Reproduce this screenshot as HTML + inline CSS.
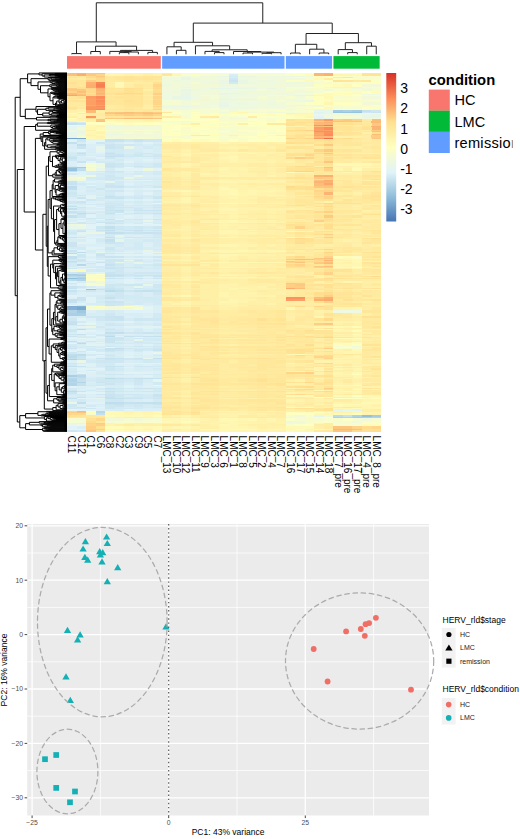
<!DOCTYPE html>
<html><head><meta charset="utf-8"><style>
html,body{margin:0;padding:0;background:#fff;width:520px;height:839px;overflow:hidden}
svg{display:block}
text{font-family:"Liberation Sans",sans-serif}
</style></head><body>
<svg width="520" height="839" viewBox="0 0 520 839">
<g shape-rendering="crispEdges">
<path fill="#fcbd78" d="M67 72.7h9.57v1.05h-9.57zM67 92.7h9.57v1.05h-9.57zM86.03 111.7h9.57v1.55h-9.57zM114.58 113.2h9.57v1.05h-9.57zM143.12 113.2h9.57v1.05h-9.57zM124.09 117.7h9.57v1.05h-9.57zM143.12 117.7h9.57v1.05h-9.57zM371.48 118.7h9.57v2.05h-9.57zM314.39 126.2h9.57v1.05h-9.57zM371.48 133.7h9.57v1.55h-9.57zM314.39 182.7h9.57v2.05h-9.57zM323.91 184.7h9.57v1.05h-9.57zM295.36 258.7h9.57v1.05h-9.57zM323.91 265.7h9.57v1.05h-9.57zM295.36 287.7h9.57v1.05h-9.57zM314.39 296.7h9.57v2.05h-9.57z"/>
<path fill="#fcb472" d="M76.52 72.7h9.57v1.05h-9.57zM95.55 89.2h9.57v2.05h-9.57zM95.55 92.7h9.57v1.05h-9.57zM314.39 118.7h9.57v2.05h-9.57zM314.39 174.7h9.57v2.05h-9.57zM314.39 180.7h9.57v2.05h-9.57zM323.91 191.7h9.57v3.05h-9.57zM323.91 259.7h9.57v1.05h-9.57z"/>
<path fill="#fcc981" d="M86.03 72.7h9.57v1.05h-9.57zM86.03 73.7h9.57v2.05h-9.57zM95.55 75.7h9.57v1.05h-9.57zM67 89.2h19.08v2.05h-19.08zM105.06 111.7h9.57v1.55h-9.57zM105.06 117.7h19.08v1.05h-19.08zM342.94 118.7h9.57v2.05h-9.57zM371.48 122.7h9.57v2.05h-9.57zM371.48 124.7h9.57v1.55h-9.57zM323.91 144.2h9.57v2.05h-9.57zM323.91 149.2h9.57v3.05h-9.57zM323.91 153.2h9.57v1.05h-9.57zM314.39 176.7h9.57v2.05h-9.57zM285.85 260.7h9.57v1.05h-9.57zM314.39 262.7h9.57v1.05h-9.57zM314.39 265.7h9.57v1.05h-9.57zM295.36 283.7h9.57v2.05h-9.57zM323.91 323.2h9.57v1.55h-9.57z"/>
<path fill="#fcc67e" d="M95.55 72.7h9.57v1.05h-9.57zM95.55 94.7h9.57v1.05h-9.57zM133.61 111.7h9.57v1.55h-9.57zM105.06 113.2h9.57v1.05h-9.57zM133.61 113.2h9.57v1.05h-9.57zM342.94 120.7h19.08v1.05h-19.08zM371.48 138.2h9.57v1.05h-9.57zM323.91 160.7h9.57v2.05h-9.57zM314.39 185.7h9.57v2.05h-9.57zM314.39 257.7h9.57v1.05h-9.57zM285.85 282.7h9.57v1.05h-9.57zM342.94 426.2h9.57v3.05h-9.57zM86.03 430.2h9.57v1.45h-9.57zM333.42 430.2h19.08v1.45h-19.08z"/>
<path fill="#fff6b1" d="M105.06 72.7h9.57v1.05h-9.57zM105.06 73.7h19.08v2.05h-19.08zM171.67 73.7h9.57v2.05h-9.57zM114.58 86.7h9.57v1.05h-9.57zM323.91 101.7h9.57v3.05h-9.57zM238.27 111.7h9.57v1.55h-9.57zM295.36 113.2h19.08v1.05h-19.08zM67 114.2h19.08v2.05h-19.08zM76.52 116.2h9.57v1.55h-9.57zM304.88 116.2h9.57v1.55h-9.57zM114.58 118.7h19.08v2.05h-19.08zM152.64 118.7h9.57v2.05h-9.57zM124.09 120.7h19.08v1.05h-19.08zM152.64 120.7h9.57v1.05h-9.57zM86.03 124.7h19.08v1.55h-19.08zM86.03 127.2h9.57v3.05h-9.57zM86.03 132.2h9.57v1.55h-9.57zM86.03 133.7h9.57v1.55h-9.57zM95.55 135.2h9.57v1.05h-9.57zM86.03 136.2h9.57v2.05h-9.57zM95.55 138.2h9.57v1.05h-9.57zM219.24 142.2h9.57v2.05h-9.57zM219.24 152.2h9.57v1.05h-9.57zM238.27 152.2h9.57v1.05h-9.57zM219.24 153.2h9.57v1.05h-9.57zM247.79 153.2h9.57v1.05h-9.57zM181.18 154.2h9.57v2.05h-9.57zM219.24 157.2h19.08v2.05h-19.08zM228.76 159.2h9.57v1.55h-9.57zM181.18 162.7h9.57v3.05h-9.57zM352.45 165.7h9.57v1.55h-9.57zM219.24 167.2h9.57v1.05h-9.57zM333.42 167.2h9.57v1.05h-9.57zM371.48 167.2h9.57v1.05h-9.57zM219.24 168.2h9.57v3.05h-9.57zM333.42 168.2h9.57v3.05h-9.57zM219.24 172.2h9.57v1.05h-9.57zM342.94 172.2h9.57v1.05h-9.57zM200.21 173.2h9.57v1.55h-9.57zM219.24 174.7h19.08v2.05h-19.08zM266.82 174.7h9.57v2.05h-9.57zM238.27 179.7h9.57v1.05h-9.57zM219.24 180.7h19.08v2.05h-19.08zM228.76 187.7h9.57v2.05h-9.57zM171.67 189.7h9.57v2.05h-9.57zM247.79 189.7h9.57v2.05h-9.57zM266.82 189.7h9.57v2.05h-9.57zM219.24 191.7h9.57v3.05h-9.57zM247.79 191.7h9.57v3.05h-9.57zM219.24 194.7h28.6v1.55h-28.6zM266.82 194.7h19.08v1.55h-19.08zM181.18 197.2h9.57v2.05h-9.57zM228.76 197.2h9.57v2.05h-9.57zM181.18 199.2h9.57v1.55h-9.57zM181.18 200.7h9.57v2.05h-9.57zM238.27 202.7h19.08v1.05h-19.08zM219.24 207.2h9.57v1.05h-9.57zM219.24 208.2h9.57v2.05h-9.57zM219.24 210.2h9.57v1.05h-9.57zM219.24 212.7h19.08v1.05h-19.08zM219.24 219.7h9.57v2.05h-9.57zM228.76 221.7h19.08v1.05h-19.08zM219.24 230.2h19.08v1.05h-19.08zM247.79 230.2h9.57v1.05h-9.57zM219.24 231.2h19.08v1.05h-19.08zM295.36 231.2h9.57v1.05h-9.57zM219.24 232.2h19.08v1.55h-19.08zM219.24 237.2h19.08v1.05h-19.08zM219.24 243.7h19.08v3.05h-19.08zM247.79 249.7h9.57v2.05h-9.57zM266.82 249.7h19.08v2.05h-19.08zM219.24 251.7h19.08v1.55h-19.08zM228.76 254.2h9.57v2.05h-9.57zM219.24 256.2h9.57v1.55h-9.57zM342.94 260.7h9.57v1.05h-9.57zM200.21 261.7h9.57v1.05h-9.57zM228.76 261.7h19.08v1.05h-19.08zM257.3 261.7h28.6v1.05h-28.6zM352.45 262.7h9.57v1.05h-9.57zM333.42 263.7h9.57v2.05h-9.57zM352.45 263.7h9.57v2.05h-9.57zM219.24 266.7h9.57v1.05h-9.57zM238.27 266.7h9.57v1.05h-9.57zM352.45 267.7h9.57v1.55h-9.57zM219.24 275.2h9.57v1.05h-9.57zM181.18 277.2h9.57v1.05h-9.57zM247.79 277.2h9.57v1.05h-9.57zM342.94 280.7h9.57v2.05h-9.57zM228.76 287.7h9.57v1.05h-9.57zM228.76 288.7h9.57v1.05h-9.57zM219.24 291.7h9.57v3.05h-9.57zM219.24 294.7h9.57v2.05h-9.57zM181.18 300.7h9.57v2.05h-9.57zM219.24 300.7h19.08v2.05h-19.08zM352.45 307.2h9.57v3.05h-9.57zM314.39 316.2h9.57v2.05h-9.57zM323.91 326.2h9.57v1.55h-9.57zM352.45 329.2h9.57v1.05h-9.57zM342.94 330.2h9.57v1.55h-9.57zM352.45 335.2h9.57v1.05h-9.57zM333.42 341.7h9.57v1.05h-9.57zM352.45 350.7h9.57v1.05h-9.57zM342.94 351.7h19.08v2.05h-19.08zM352.45 355.7h9.57v2.05h-9.57zM333.42 357.7h9.57v1.05h-9.57zM333.42 365.7h9.57v1.55h-9.57zM314.39 367.2h9.57v1.05h-9.57zM333.42 368.2h9.57v2.05h-9.57zM352.45 368.2h9.57v2.05h-9.57zM314.39 370.2h9.57v1.05h-9.57zM295.36 371.2h9.57v1.05h-9.57zM333.42 372.2h9.57v2.05h-9.57zM333.42 374.2h19.08v1.05h-19.08zM352.45 375.2h9.57v1.55h-9.57zM352.45 376.7h9.57v1.05h-9.57zM352.45 383.2h9.57v1.55h-9.57zM352.45 387.7h9.57v1.05h-9.57zM333.42 388.7h9.57v1.05h-9.57zM333.42 390.7h9.57v1.05h-9.57zM352.45 396.7h9.57v1.05h-9.57zM285.85 399.2h9.57v3.05h-9.57zM371.48 399.2h9.57v3.05h-9.57zM361.97 404.2h9.57v1.05h-9.57zM342.94 405.2h9.57v2.05h-9.57zM361.97 405.2h9.57v2.05h-9.57zM361.97 407.2h19.08v1.05h-19.08zM333.42 408.2h19.08v1.05h-19.08zM371.48 408.2h9.57v1.05h-9.57zM114.58 411.2h9.57v1.05h-9.57zM133.61 411.2h9.57v1.05h-9.57zM152.64 411.2h9.57v1.05h-9.57zM228.76 411.2h9.57v1.05h-9.57zM342.94 411.2h9.57v1.05h-9.57zM133.61 412.2h9.57v1.05h-9.57zM352.45 412.2h9.57v1.05h-9.57zM124.09 413.2h9.57v2.05h-9.57zM143.12 413.2h19.08v2.05h-19.08zM323.91 413.2h9.57v2.05h-9.57zM152.64 417.2h9.57v1.05h-9.57zM162.15 418.2h9.57v3.05h-9.57zM238.27 418.2h9.57v3.05h-9.57zM266.82 418.2h9.57v3.05h-9.57zM228.76 421.2h9.57v2.05h-9.57zM181.18 423.2h9.57v1.05h-9.57zM228.76 423.2h19.08v1.05h-19.08zM314.39 423.2h9.57v1.05h-9.57zM228.76 424.2h9.57v2.05h-9.57zM124.09 426.2h9.57v3.05h-9.57zM171.67 426.2h19.08v3.05h-19.08zM219.24 426.2h28.6v3.05h-28.6zM114.58 429.2h9.57v1.05h-9.57zM133.61 429.2h9.57v1.05h-9.57zM200.21 429.2h19.08v1.05h-19.08zM276.33 429.2h9.57v1.05h-9.57zM323.91 429.2h9.57v1.05h-9.57zM304.88 430.2h9.57v1.45h-9.57z"/>
<path fill="#fff6ae" d="M114.58 72.7h9.57v1.05h-9.57zM333.42 73.7h9.57v2.05h-9.57zM181.18 153.2h9.57v1.05h-9.57zM228.76 160.7h9.57v2.05h-9.57zM247.79 167.2h9.57v1.05h-9.57zM228.76 173.2h9.57v1.55h-9.57zM238.27 184.7h9.57v1.05h-9.57zM257.3 189.7h9.57v2.05h-9.57zM238.27 191.7h9.57v3.05h-9.57zM323.91 200.7h9.57v2.05h-9.57zM228.76 214.7h9.57v3.05h-9.57zM219.24 224.2h9.57v1.55h-9.57zM247.79 232.2h9.57v1.55h-9.57zM181.18 237.2h9.57v1.05h-9.57zM181.18 259.7h9.57v1.05h-9.57zM361.97 260.7h9.57v1.05h-9.57zM209.73 261.7h9.57v1.05h-9.57zM247.79 266.7h9.57v1.05h-9.57zM314.39 275.2h9.57v1.05h-9.57zM209.73 277.2h19.08v1.05h-19.08zM238.27 287.7h9.57v1.05h-9.57zM171.67 294.7h9.57v2.05h-9.57zM266.82 294.7h9.57v2.05h-9.57zM181.18 302.7h9.57v2.05h-9.57zM352.45 336.2h9.57v1.05h-9.57zM352.45 370.2h9.57v1.05h-9.57zM352.45 389.7h9.57v1.05h-9.57zM361.97 399.2h9.57v3.05h-9.57zM314.39 404.2h9.57v1.05h-9.57zM352.45 405.2h9.57v2.05h-9.57zM219.24 411.2h9.57v1.05h-9.57zM114.58 417.2h9.57v1.05h-9.57zM124.09 429.2h9.57v1.05h-9.57zM238.27 430.2h9.57v1.45h-9.57zM266.82 430.2h9.57v1.45h-9.57z"/>
<path fill="#fff3ae" d="M124.09 72.7h9.57v1.05h-9.57zM152.64 72.7h9.57v1.05h-9.57zM133.61 73.7h9.57v2.05h-9.57zM152.64 73.7h9.57v2.05h-9.57zM76.52 108.7h9.57v1.05h-9.57zM76.52 118.7h9.57v2.05h-9.57zM143.12 118.7h9.57v2.05h-9.57zM143.12 120.7h9.57v1.05h-9.57zM95.55 126.2h9.57v1.05h-9.57zM228.76 135.2h9.57v1.05h-9.57zM276.33 135.2h9.57v1.05h-9.57zM95.55 136.2h9.57v2.05h-9.57zM238.27 142.2h9.57v2.05h-9.57zM228.76 146.2h9.57v3.05h-9.57zM181.18 149.2h9.57v3.05h-9.57zM247.79 152.2h38.11v1.05h-38.11zM162.15 153.2h9.57v1.05h-9.57zM200.21 153.2h9.57v1.05h-9.57zM228.76 153.2h9.57v1.05h-9.57zM219.24 154.2h19.08v2.05h-19.08zM219.24 156.2h9.57v1.05h-9.57zM238.27 156.2h9.57v1.05h-9.57zM219.24 159.2h9.57v1.55h-9.57zM266.82 160.7h9.57v2.05h-9.57zM371.48 162.7h9.57v3.05h-9.57zM181.18 165.7h9.57v1.55h-9.57zM181.18 167.2h9.57v1.05h-9.57zM228.76 167.2h19.08v1.05h-19.08zM342.94 167.2h9.57v1.05h-9.57zM238.27 168.2h9.57v3.05h-9.57zM228.76 171.2h9.57v1.05h-9.57zM228.76 172.2h9.57v1.05h-9.57zM304.88 172.2h9.57v1.05h-9.57zM209.73 173.2h19.08v1.55h-19.08zM238.27 173.2h9.57v1.55h-9.57zM238.27 174.7h19.08v2.05h-19.08zM209.73 179.7h9.57v1.05h-9.57zM228.76 179.7h9.57v1.05h-9.57zM247.79 179.7h19.08v1.05h-19.08zM276.33 179.7h9.57v1.05h-9.57zM238.27 180.7h38.11v2.05h-38.11zM219.24 184.7h19.08v1.05h-19.08zM247.79 187.7h9.57v2.05h-9.57zM266.82 187.7h9.57v2.05h-9.57zM162.15 189.7h9.57v2.05h-9.57zM190.7 189.7h9.57v2.05h-9.57zM209.73 189.7h9.57v2.05h-9.57zM238.27 189.7h9.57v2.05h-9.57zM276.33 189.7h9.57v2.05h-9.57zM181.18 191.7h9.57v3.05h-9.57zM257.3 191.7h19.08v3.05h-19.08zM247.79 194.7h19.08v1.55h-19.08zM219.24 196.2h19.08v1.05h-19.08zM219.24 197.2h9.57v2.05h-9.57zM247.79 197.2h9.57v2.05h-9.57zM162.15 200.7h19.08v2.05h-19.08zM228.76 200.7h9.57v2.05h-9.57zM200.21 202.7h19.08v1.05h-19.08zM266.82 202.7h19.08v1.05h-19.08zM219.24 204.7h9.57v1.55h-9.57zM247.79 207.2h9.57v1.05h-9.57zM238.27 208.2h19.08v2.05h-19.08zM285.85 208.2h9.57v2.05h-9.57zM181.18 210.2h9.57v1.05h-9.57zM200.21 210.2h9.57v1.05h-9.57zM219.24 211.2h19.08v1.55h-19.08zM238.27 214.7h9.57v3.05h-9.57zM228.76 217.7h9.57v1.05h-9.57zM238.27 219.7h19.08v2.05h-19.08zM266.82 219.7h9.57v2.05h-9.57zM200.21 221.7h9.57v1.05h-9.57zM247.79 221.7h9.57v1.05h-9.57zM266.82 221.7h9.57v1.05h-9.57zM228.76 224.2h9.57v1.55h-9.57zM219.24 225.7h9.57v3.05h-9.57zM238.27 225.7h9.57v3.05h-9.57zM171.67 228.7h9.57v1.55h-9.57zM181.18 230.2h9.57v1.05h-9.57zM266.82 230.2h9.57v1.05h-9.57zM238.27 231.2h9.57v1.05h-9.57zM304.88 231.2h9.57v1.05h-9.57zM238.27 232.2h9.57v1.55h-9.57zM219.24 233.7h19.08v1.55h-19.08zM162.15 237.2h9.57v1.05h-9.57zM238.27 237.2h9.57v1.05h-9.57zM266.82 237.2h9.57v1.05h-9.57zM295.36 237.2h19.08v1.05h-19.08zM342.94 239.2h9.57v3.05h-9.57zM238.27 243.7h19.08v3.05h-19.08zM266.82 243.7h9.57v3.05h-9.57zM238.27 248.7h9.57v1.05h-9.57zM200.21 249.7h9.57v2.05h-9.57zM257.3 249.7h9.57v2.05h-9.57zM266.82 251.7h9.57v1.55h-9.57zM171.67 254.2h9.57v2.05h-9.57zM238.27 254.2h9.57v2.05h-9.57zM257.3 254.2h9.57v2.05h-9.57zM285.85 254.2h9.57v2.05h-9.57zM228.76 256.2h9.57v1.55h-9.57zM219.24 257.7h19.08v1.05h-19.08zM181.18 258.7h9.57v1.05h-9.57zM219.24 258.7h19.08v1.05h-19.08zM333.42 258.7h9.57v1.05h-9.57zM171.67 259.7h9.57v1.05h-9.57zM333.42 259.7h19.08v1.05h-19.08zM333.42 261.7h9.57v1.05h-9.57zM333.42 262.7h9.57v1.05h-9.57zM342.94 265.7h9.57v1.05h-9.57zM228.76 266.7h9.57v1.05h-9.57zM333.42 267.7h9.57v1.55h-9.57zM219.24 274.2h28.6v1.05h-28.6zM238.27 275.2h9.57v1.05h-9.57zM162.15 277.2h9.57v1.05h-9.57zM200.21 277.2h9.57v1.05h-9.57zM257.3 277.2h28.6v1.05h-28.6zM314.39 277.2h9.57v1.05h-9.57zM219.24 278.2h9.57v1.05h-9.57zM238.27 278.2h9.57v1.05h-9.57zM181.18 282.7h9.57v1.05h-9.57zM219.24 283.7h19.08v2.05h-19.08zM219.24 285.7h9.57v2.05h-9.57zM257.3 285.7h9.57v2.05h-9.57zM219.24 288.7h9.57v1.05h-9.57zM247.79 288.7h9.57v1.05h-9.57zM371.48 288.7h9.57v1.05h-9.57zM238.27 289.7h9.57v2.05h-9.57zM238.27 291.7h19.08v3.05h-19.08zM228.76 294.7h38.11v2.05h-38.11zM228.76 296.7h9.57v2.05h-9.57zM238.27 298.7h9.57v2.05h-9.57zM238.27 300.7h9.57v2.05h-9.57zM171.67 302.7h9.57v2.05h-9.57zM219.24 302.7h19.08v2.05h-19.08zM266.82 302.7h9.57v2.05h-9.57zM181.18 305.7h9.57v1.55h-9.57zM333.42 307.2h19.08v3.05h-19.08zM333.42 321.2h28.6v2.05h-28.6zM333.42 333.7h9.57v1.55h-9.57zM342.94 336.2h9.57v1.05h-9.57zM181.18 341.7h9.57v1.05h-9.57zM342.94 341.7h9.57v1.05h-9.57zM333.42 348.7h9.57v2.05h-9.57zM333.42 351.7h9.57v2.05h-9.57zM352.45 354.7h9.57v1.05h-9.57zM342.94 357.7h19.08v1.05h-19.08zM314.39 359.7h38.11v3.05h-38.11zM333.42 362.7h9.57v1.05h-9.57zM352.45 362.7h9.57v1.05h-9.57zM342.94 365.7h9.57v1.55h-9.57zM314.39 368.2h9.57v2.05h-9.57zM314.39 372.2h9.57v2.05h-9.57zM181.18 374.2h9.57v1.05h-9.57zM333.42 375.2h9.57v1.55h-9.57zM314.39 377.7h9.57v1.05h-9.57zM352.45 377.7h9.57v1.05h-9.57zM295.36 378.7h9.57v3.05h-9.57zM333.42 383.2h9.57v1.55h-9.57zM333.42 386.2h47.63v1.55h-47.63zM333.42 389.7h9.57v1.05h-9.57zM285.85 391.7h9.57v2.05h-9.57zM333.42 391.7h9.57v2.05h-9.57zM181.18 394.7h9.57v2.05h-9.57zM361.97 396.7h9.57v1.05h-9.57zM295.36 399.2h9.57v3.05h-9.57zM333.42 402.2h9.57v2.05h-9.57zM352.45 402.2h9.57v2.05h-9.57zM371.48 404.2h9.57v1.05h-9.57zM361.97 408.2h9.57v1.05h-9.57zM143.12 411.2h9.57v1.05h-9.57zM266.82 411.2h9.57v1.05h-9.57zM333.42 411.2h9.57v1.05h-9.57zM124.09 412.2h9.57v1.05h-9.57zM143.12 412.2h9.57v1.05h-9.57zM371.48 412.2h9.57v1.05h-9.57zM219.24 413.2h28.6v2.05h-28.6zM361.97 413.2h19.08v2.05h-19.08zM171.67 415.2h9.57v2.05h-9.57zM228.76 415.2h9.57v2.05h-9.57zM143.12 417.2h9.57v1.05h-9.57zM200.21 418.2h9.57v3.05h-9.57zM238.27 421.2h19.08v2.05h-19.08zM266.82 421.2h9.57v2.05h-9.57zM105.06 423.2h9.57v1.05h-9.57zM124.09 423.2h9.57v1.05h-9.57zM152.64 423.2h9.57v1.05h-9.57zM209.73 423.2h9.57v1.05h-9.57zM247.79 423.2h9.57v1.05h-9.57zM105.06 424.2h9.57v2.05h-9.57zM162.15 426.2h9.57v3.05h-9.57zM190.7 426.2h9.57v3.05h-9.57zM247.79 426.2h9.57v3.05h-9.57zM143.12 429.2h9.57v1.05h-9.57zM181.18 429.2h9.57v1.05h-9.57zM257.3 429.2h9.57v1.05h-9.57zM304.88 429.2h9.57v1.05h-9.57zM181.18 430.2h9.57v1.45h-9.57zM209.73 430.2h9.57v1.45h-9.57zM257.3 430.2h9.57v1.45h-9.57zM276.33 430.2h9.57v1.45h-9.57z"/>
<path fill="#fff3ab" d="M133.61 72.7h9.57v1.05h-9.57zM124.09 73.7h9.57v2.05h-9.57zM76.52 109.7h9.57v2.05h-9.57zM67 111.7h9.57v1.55h-9.57zM285.85 113.2h9.57v1.05h-9.57zM67 120.7h9.57v1.05h-9.57zM295.36 126.2h9.57v1.05h-9.57zM95.55 132.2h9.57v1.55h-9.57zM86.03 135.2h9.57v1.05h-9.57zM228.76 142.2h9.57v2.05h-9.57zM257.3 142.2h9.57v2.05h-9.57zM276.33 142.2h9.57v2.05h-9.57zM219.24 146.2h9.57v3.05h-9.57zM238.27 146.2h9.57v3.05h-9.57zM266.82 146.2h9.57v3.05h-9.57zM181.18 152.2h9.57v1.05h-9.57zM209.73 152.2h9.57v1.05h-9.57zM171.67 153.2h9.57v1.05h-9.57zM190.7 153.2h9.57v1.05h-9.57zM238.27 153.2h9.57v1.05h-9.57zM257.3 153.2h19.08v1.05h-19.08zM257.3 154.2h9.57v2.05h-9.57zM247.79 156.2h9.57v1.05h-9.57zM238.27 159.2h19.08v1.55h-19.08zM266.82 159.2h9.57v1.55h-9.57zM200.21 160.7h9.57v2.05h-9.57zM219.24 160.7h9.57v2.05h-9.57zM238.27 160.7h28.6v2.05h-28.6zM285.85 160.7h9.57v2.05h-9.57zM190.7 162.7h9.57v3.05h-9.57zM171.67 165.7h9.57v1.55h-9.57zM361.97 165.7h9.57v1.55h-9.57zM266.82 167.2h19.08v1.05h-19.08zM228.76 168.2h9.57v3.05h-9.57zM181.18 171.2h9.57v1.05h-9.57zM219.24 171.2h9.57v1.05h-9.57zM238.27 171.2h9.57v1.05h-9.57zM181.18 172.2h9.57v1.05h-9.57zM266.82 172.2h9.57v1.05h-9.57zM333.42 172.2h9.57v1.05h-9.57zM352.45 172.2h9.57v1.05h-9.57zM181.18 173.2h9.57v1.55h-9.57zM247.79 173.2h9.57v1.55h-9.57zM181.18 174.7h9.57v2.05h-9.57zM200.21 174.7h9.57v2.05h-9.57zM219.24 178.7h9.57v1.05h-9.57zM266.82 179.7h9.57v1.05h-9.57zM200.21 180.7h19.08v2.05h-19.08zM276.33 180.7h9.57v2.05h-9.57zM219.24 182.7h19.08v2.05h-19.08zM266.82 184.7h9.57v1.05h-9.57zM228.76 185.7h19.08v2.05h-19.08zM257.3 185.7h9.57v2.05h-9.57zM238.27 187.7h9.57v2.05h-9.57zM257.3 187.7h9.57v2.05h-9.57zM276.33 187.7h9.57v2.05h-9.57zM200.21 189.7h9.57v2.05h-9.57zM200.21 191.7h19.08v3.05h-19.08zM352.45 191.7h9.57v3.05h-9.57zM209.73 194.7h9.57v1.55h-9.57zM238.27 196.2h9.57v1.05h-9.57zM266.82 196.2h9.57v1.05h-9.57zM238.27 197.2h9.57v2.05h-9.57zM219.24 199.2h28.6v1.55h-28.6zM219.24 200.7h9.57v2.05h-9.57zM238.27 200.7h19.08v2.05h-19.08zM257.3 202.7h9.57v1.05h-9.57zM228.76 203.7h9.57v1.05h-9.57zM228.76 204.7h9.57v1.55h-9.57zM219.24 206.2h19.08v1.05h-19.08zM228.76 207.2h19.08v1.05h-19.08zM209.73 208.2h9.57v2.05h-9.57zM257.3 208.2h28.6v2.05h-28.6zM238.27 210.2h9.57v1.05h-9.57zM266.82 210.2h9.57v1.05h-9.57zM361.97 210.2h9.57v1.05h-9.57zM238.27 211.2h9.57v1.55h-9.57zM266.82 211.2h9.57v1.55h-9.57zM238.27 212.7h9.57v1.05h-9.57zM266.82 212.7h9.57v1.05h-9.57zM228.76 213.7h9.57v1.05h-9.57zM209.73 214.7h19.08v3.05h-19.08zM266.82 214.7h9.57v3.05h-9.57zM247.79 217.7h9.57v1.05h-9.57zM181.18 218.7h9.57v1.05h-9.57zM209.73 221.7h9.57v1.05h-9.57zM257.3 221.7h9.57v1.05h-9.57zM276.33 221.7h9.57v1.05h-9.57zM219.24 222.7h9.57v1.55h-9.57zM238.27 224.2h9.57v1.55h-9.57zM266.82 224.2h9.57v1.55h-9.57zM181.18 225.7h9.57v3.05h-9.57zM181.18 228.7h9.57v1.55h-9.57zM200.21 230.2h9.57v1.05h-9.57zM238.27 230.2h9.57v1.05h-9.57zM238.27 233.7h9.57v1.55h-9.57zM228.76 235.2h9.57v2.05h-9.57zM171.67 237.2h9.57v1.05h-9.57zM190.7 237.2h19.08v1.05h-19.08zM257.3 237.2h9.57v1.05h-9.57zM181.18 238.2h9.57v1.05h-9.57zM200.21 243.7h19.08v3.05h-19.08zM228.76 246.7h19.08v2.05h-19.08zM219.24 248.7h19.08v1.05h-19.08zM238.27 251.7h19.08v1.55h-19.08zM352.45 253.2h9.57v1.05h-9.57zM162.15 254.2h9.57v2.05h-9.57zM209.73 254.2h9.57v2.05h-9.57zM247.79 254.2h9.57v2.05h-9.57zM266.82 254.2h9.57v2.05h-9.57zM247.79 256.2h9.57v1.55h-9.57zM162.15 259.7h9.57v1.05h-9.57zM219.24 259.7h9.57v1.05h-9.57zM371.48 260.7h9.57v1.05h-9.57zM219.24 262.7h9.57v1.05h-9.57zM342.94 262.7h9.57v1.05h-9.57zM219.24 263.7h28.6v2.05h-28.6zM219.24 265.7h19.08v1.05h-19.08zM181.18 266.7h9.57v1.05h-9.57zM257.3 266.7h9.57v1.05h-9.57zM276.33 266.7h9.57v1.05h-9.57zM361.97 266.7h9.57v1.05h-9.57zM181.18 267.7h9.57v1.55h-9.57zM181.18 269.2h9.57v3.05h-9.57zM219.24 269.2h9.57v3.05h-9.57zM247.79 274.2h9.57v1.05h-9.57zM247.79 275.2h9.57v1.05h-9.57zM314.39 276.2h9.57v1.05h-9.57zM190.7 277.2h9.57v1.05h-9.57zM181.18 278.2h9.57v1.05h-9.57zM228.76 278.2h9.57v1.05h-9.57zM190.7 279.2h9.57v1.55h-9.57zM314.39 280.7h9.57v2.05h-9.57zM228.76 282.7h9.57v1.05h-9.57zM266.82 283.7h9.57v2.05h-9.57zM228.76 285.7h19.08v2.05h-19.08zM219.24 287.7h9.57v1.05h-9.57zM247.79 287.7h28.6v1.05h-28.6zM257.3 288.7h9.57v1.05h-9.57zM361.97 288.7h9.57v1.05h-9.57zM219.24 289.7h19.08v2.05h-19.08zM228.76 291.7h9.57v3.05h-9.57zM162.15 294.7h9.57v2.05h-9.57zM219.24 296.7h9.57v2.05h-9.57zM238.27 296.7h9.57v2.05h-9.57zM247.79 298.7h9.57v2.05h-9.57zM162.15 300.7h9.57v2.05h-9.57zM228.76 304.7h19.08v1.05h-19.08zM219.24 305.7h19.08v1.55h-19.08zM304.88 307.2h9.57v3.05h-9.57zM314.39 310.2h9.57v3.05h-9.57zM181.18 323.2h9.57v1.55h-9.57zM333.42 323.2h9.57v1.55h-9.57zM352.45 323.2h9.57v1.55h-9.57zM295.36 324.7h9.57v1.55h-9.57zM342.94 329.2h9.57v1.05h-9.57zM371.48 329.2h9.57v1.05h-9.57zM352.45 331.7h9.57v2.05h-9.57zM342.94 333.7h9.57v1.55h-9.57zM333.42 336.2h9.57v1.05h-9.57zM342.94 339.2h9.57v1.55h-9.57zM228.76 343.7h9.57v2.05h-9.57zM181.18 347.7h9.57v1.05h-9.57zM304.88 353.7h9.57v1.05h-9.57zM219.24 354.7h9.57v1.05h-9.57zM342.94 355.7h9.57v2.05h-9.57zM371.48 357.7h9.57v1.05h-9.57zM181.18 358.7h9.57v1.05h-9.57zM333.42 358.7h9.57v1.05h-9.57zM352.45 358.7h9.57v1.05h-9.57zM352.45 359.7h9.57v3.05h-9.57zM304.88 362.7h9.57v1.05h-9.57zM361.97 363.7h9.57v2.05h-9.57zM342.94 368.2h9.57v2.05h-9.57zM285.85 371.2h9.57v1.05h-9.57zM352.45 371.2h9.57v1.05h-9.57zM342.94 372.2h9.57v2.05h-9.57zM342.94 375.2h9.57v1.55h-9.57zM361.97 376.7h9.57v1.05h-9.57zM181.18 377.7h9.57v1.05h-9.57zM342.94 377.7h9.57v1.05h-9.57zM181.18 378.7h9.57v3.05h-9.57zM333.42 381.7h9.57v1.55h-9.57zM285.85 383.2h19.08v1.55h-19.08zM285.85 387.7h9.57v1.05h-9.57zM342.94 388.7h9.57v1.05h-9.57zM371.48 388.7h9.57v1.05h-9.57zM323.91 389.7h9.57v1.05h-9.57zM342.94 391.7h9.57v2.05h-9.57zM314.39 397.7h9.57v1.55h-9.57zM314.39 399.2h19.08v3.05h-19.08zM285.85 402.2h9.57v2.05h-9.57zM342.94 402.2h9.57v2.05h-9.57zM285.85 405.2h9.57v2.05h-9.57zM371.48 405.2h9.57v2.05h-9.57zM323.91 407.2h9.57v1.05h-9.57zM124.09 411.2h9.57v1.05h-9.57zM200.21 411.2h9.57v1.05h-9.57zM238.27 411.2h9.57v1.05h-9.57zM333.42 412.2h19.08v1.05h-19.08zM257.3 413.2h9.57v2.05h-9.57zM219.24 415.2h9.57v2.05h-9.57zM124.09 417.2h19.08v1.05h-19.08zM181.18 417.2h9.57v1.05h-9.57zM257.3 418.2h9.57v3.05h-9.57zM276.33 418.2h9.57v3.05h-9.57zM209.73 421.2h9.57v2.05h-9.57zM257.3 421.2h9.57v2.05h-9.57zM276.33 421.2h9.57v2.05h-9.57zM162.15 423.2h19.08v1.05h-19.08zM190.7 423.2h19.08v1.05h-19.08zM219.24 423.2h9.57v1.05h-9.57zM257.3 423.2h9.57v1.05h-9.57zM276.33 423.2h9.57v1.05h-9.57zM209.73 424.2h9.57v2.05h-9.57zM238.27 424.2h9.57v2.05h-9.57zM276.33 426.2h9.57v3.05h-9.57zM171.67 430.2h9.57v1.45h-9.57z"/>
<path fill="#fff0a8" d="M143.12 72.7h9.57v1.05h-9.57zM143.12 73.7h9.57v2.05h-9.57zM124.09 82.2h9.57v1.55h-9.57zM143.12 89.2h9.57v2.05h-9.57zM143.12 94.7h9.57v1.05h-9.57zM143.12 104.7h9.57v1.05h-9.57zM143.12 106.7h9.57v2.05h-9.57zM95.55 109.7h9.57v2.05h-9.57zM95.55 111.7h9.57v1.55h-9.57zM67 116.2h9.57v1.55h-9.57zM86.03 118.7h9.57v2.05h-9.57zM190.7 122.7h9.57v2.05h-9.57zM238.27 122.7h9.57v2.05h-9.57zM86.03 130.2h9.57v1.05h-9.57zM342.94 136.2h19.08v2.05h-19.08zM162.15 142.2h9.57v2.05h-9.57zM181.18 142.2h9.57v2.05h-9.57zM200.21 142.2h19.08v2.05h-19.08zM266.82 142.2h9.57v2.05h-9.57zM219.24 144.2h19.08v2.05h-19.08zM257.3 144.2h9.57v2.05h-9.57zM285.85 144.2h9.57v2.05h-9.57zM247.79 146.2h9.57v3.05h-9.57zM352.45 146.2h9.57v3.05h-9.57zM162.15 149.2h9.57v3.05h-9.57zM228.76 149.2h9.57v3.05h-9.57zM352.45 153.2h9.57v1.05h-9.57zM371.48 153.2h9.57v1.05h-9.57zM162.15 154.2h19.08v2.05h-19.08zM247.79 154.2h9.57v2.05h-9.57zM276.33 154.2h9.57v2.05h-9.57zM171.67 156.2h9.57v1.05h-9.57zM200.21 156.2h9.57v1.05h-9.57zM257.3 156.2h19.08v1.05h-19.08zM181.18 157.2h9.57v2.05h-9.57zM209.73 157.2h9.57v2.05h-9.57zM247.79 157.2h38.11v2.05h-38.11zM209.73 159.2h9.57v1.55h-9.57zM257.3 159.2h9.57v1.55h-9.57zM276.33 159.2h19.08v1.55h-19.08zM361.97 159.2h19.08v1.55h-19.08zM209.73 160.7h9.57v2.05h-9.57zM162.15 162.7h9.57v3.05h-9.57zM228.76 162.7h19.08v3.05h-19.08zM266.82 162.7h9.57v3.05h-9.57zM162.15 165.7h9.57v1.55h-9.57zM219.24 165.7h9.57v1.55h-9.57zM238.27 165.7h9.57v1.55h-9.57zM314.39 165.7h9.57v1.55h-9.57zM162.15 167.2h9.57v1.05h-9.57zM190.7 167.2h19.08v1.05h-19.08zM257.3 167.2h9.57v1.05h-9.57zM200.21 168.2h19.08v3.05h-19.08zM247.79 168.2h19.08v3.05h-19.08zM342.94 168.2h9.57v3.05h-9.57zM361.97 168.2h9.57v3.05h-9.57zM200.21 171.2h9.57v1.05h-9.57zM266.82 171.2h9.57v1.05h-9.57zM162.15 172.2h19.08v1.05h-19.08zM200.21 172.2h9.57v1.05h-9.57zM247.79 172.2h9.57v1.05h-9.57zM171.67 173.2h9.57v1.55h-9.57zM257.3 173.2h9.57v1.55h-9.57zM333.42 173.2h28.6v1.55h-28.6zM181.18 176.7h9.57v2.05h-9.57zM238.27 178.7h9.57v1.05h-9.57zM266.82 178.7h9.57v1.05h-9.57zM371.48 179.7h9.57v1.05h-9.57zM181.18 182.7h9.57v2.05h-9.57zM238.27 182.7h9.57v2.05h-9.57zM257.3 182.7h9.57v2.05h-9.57zM285.85 182.7h9.57v2.05h-9.57zM181.18 184.7h9.57v1.05h-9.57zM200.21 184.7h9.57v1.05h-9.57zM257.3 184.7h9.57v1.05h-9.57zM209.73 185.7h9.57v2.05h-9.57zM247.79 185.7h9.57v2.05h-9.57zM276.33 185.7h9.57v2.05h-9.57zM200.21 187.7h9.57v2.05h-9.57zM190.7 191.7h9.57v3.05h-9.57zM181.18 194.7h9.57v1.55h-9.57zM257.3 196.2h9.57v1.05h-9.57zM276.33 196.2h9.57v1.05h-9.57zM162.15 197.2h19.08v2.05h-19.08zM190.7 197.2h9.57v2.05h-9.57zM276.33 197.2h9.57v2.05h-9.57zM162.15 199.2h9.57v1.55h-9.57zM190.7 199.2h9.57v1.55h-9.57zM209.73 199.2h9.57v1.55h-9.57zM247.79 199.2h9.57v1.55h-9.57zM190.7 200.7h9.57v2.05h-9.57zM266.82 200.7h19.08v2.05h-19.08zM181.18 202.7h9.57v1.05h-9.57zM238.27 203.7h9.57v1.05h-9.57zM361.97 203.7h19.08v1.05h-19.08zM209.73 204.7h9.57v1.55h-9.57zM247.79 204.7h19.08v1.55h-19.08zM352.45 204.7h9.57v1.55h-9.57zM257.3 206.2h9.57v1.05h-9.57zM181.18 207.2h9.57v1.05h-9.57zM200.21 207.2h19.08v1.05h-19.08zM314.39 207.2h9.57v1.05h-9.57zM295.36 208.2h19.08v2.05h-19.08zM352.45 208.2h9.57v2.05h-9.57zM162.15 210.2h9.57v1.05h-9.57zM257.3 210.2h9.57v1.05h-9.57zM371.48 210.2h9.57v1.05h-9.57zM171.67 211.2h9.57v1.55h-9.57zM247.79 211.2h19.08v1.55h-19.08zM276.33 211.2h9.57v1.55h-9.57zM200.21 212.7h9.57v1.05h-9.57zM247.79 212.7h9.57v1.05h-9.57zM276.33 212.7h9.57v1.05h-9.57zM352.45 213.7h9.57v1.05h-9.57zM162.15 214.7h9.57v3.05h-9.57zM181.18 214.7h9.57v3.05h-9.57zM200.21 214.7h9.57v3.05h-9.57zM247.79 214.7h19.08v3.05h-19.08zM276.33 214.7h9.57v3.05h-9.57zM181.18 217.7h19.08v1.05h-19.08zM219.24 217.7h9.57v1.05h-9.57zM276.33 217.7h9.57v1.05h-9.57zM361.97 217.7h19.08v1.05h-19.08zM219.24 218.7h28.6v1.05h-28.6zM285.85 218.7h9.57v1.05h-9.57zM276.33 219.7h9.57v2.05h-9.57zM314.39 222.7h9.57v1.55h-9.57zM181.18 224.2h9.57v1.55h-9.57zM209.73 224.2h9.57v1.55h-9.57zM257.3 224.2h9.57v1.55h-9.57zM257.3 225.7h9.57v3.05h-9.57zM352.45 225.7h9.57v3.05h-9.57zM162.15 228.7h9.57v1.55h-9.57zM247.79 228.7h9.57v1.55h-9.57zM285.85 228.7h9.57v1.55h-9.57zM162.15 230.2h19.08v1.05h-19.08zM209.73 230.2h9.57v1.05h-9.57zM276.33 230.2h9.57v1.05h-9.57zM181.18 231.2h9.57v1.05h-9.57zM200.21 231.2h19.08v1.05h-19.08zM247.79 231.2h19.08v1.05h-19.08zM276.33 231.2h9.57v1.05h-9.57zM181.18 232.2h9.57v1.55h-9.57zM276.33 232.2h9.57v1.55h-9.57zM333.42 232.2h9.57v1.55h-9.57zM247.79 233.7h38.11v1.55h-38.11zM181.18 235.2h9.57v2.05h-9.57zM219.24 235.2h9.57v2.05h-9.57zM238.27 235.2h9.57v2.05h-9.57zM276.33 237.2h9.57v1.05h-9.57zM361.97 237.2h19.08v1.05h-19.08zM162.15 238.2h19.08v1.05h-19.08zM219.24 238.2h38.11v1.05h-38.11zM352.45 238.2h9.57v1.05h-9.57zM228.76 239.2h19.08v3.05h-19.08zM276.33 239.2h9.57v3.05h-9.57zM333.42 239.2h9.57v3.05h-9.57zM181.18 242.2h9.57v1.55h-9.57zM219.24 242.2h9.57v1.55h-9.57zM247.79 242.2h9.57v1.55h-9.57zM352.45 242.2h9.57v1.55h-9.57zM257.3 243.7h9.57v3.05h-9.57zM276.33 243.7h9.57v3.05h-9.57zM314.39 243.7h19.08v3.05h-19.08zM371.48 243.7h9.57v3.05h-9.57zM276.33 246.7h9.57v2.05h-9.57zM200.21 248.7h19.08v1.05h-19.08zM247.79 248.7h9.57v1.05h-9.57zM266.82 248.7h9.57v1.05h-9.57zM295.36 249.7h9.57v2.05h-9.57zM314.39 249.7h9.57v2.05h-9.57zM209.73 251.7h9.57v1.55h-9.57zM276.33 251.7h9.57v1.55h-9.57zM238.27 253.2h9.57v1.05h-9.57zM342.94 253.2h9.57v1.05h-9.57zM190.7 254.2h19.08v2.05h-19.08zM276.33 254.2h9.57v2.05h-9.57zM209.73 256.2h9.57v1.55h-9.57zM238.27 256.2h9.57v1.55h-9.57zM257.3 256.2h28.6v1.55h-28.6zM181.18 257.7h9.57v1.05h-9.57zM200.21 257.7h9.57v1.05h-9.57zM238.27 257.7h9.57v1.05h-9.57zM257.3 257.7h9.57v1.05h-9.57zM276.33 257.7h9.57v1.05h-9.57zM171.67 258.7h9.57v1.05h-9.57zM190.7 259.7h9.57v1.05h-9.57zM342.94 261.7h9.57v1.05h-9.57zM181.18 262.7h9.57v1.05h-9.57zM247.79 263.7h28.6v2.05h-28.6zM181.18 265.7h9.57v1.05h-9.57zM238.27 265.7h19.08v1.05h-19.08zM266.82 265.7h19.08v1.05h-19.08zM171.67 266.7h9.57v1.05h-9.57zM200.21 266.7h19.08v1.05h-19.08zM266.82 266.7h9.57v1.05h-9.57zM219.24 267.7h19.08v1.55h-19.08zM181.18 272.2h9.57v2.05h-9.57zM219.24 272.2h9.57v2.05h-9.57zM304.88 272.2h9.57v2.05h-9.57zM352.45 272.2h9.57v2.05h-9.57zM181.18 274.2h9.57v1.05h-9.57zM200.21 274.2h9.57v1.05h-9.57zM257.3 274.2h28.6v1.05h-28.6zM200.21 275.2h9.57v1.05h-9.57zM257.3 275.2h9.57v1.05h-9.57zM371.48 275.2h9.57v1.05h-9.57zM219.24 276.2h9.57v1.05h-9.57zM238.27 276.2h19.08v1.05h-19.08zM266.82 276.2h9.57v1.05h-9.57zM323.91 276.2h9.57v1.05h-9.57zM352.45 277.2h9.57v1.05h-9.57zM247.79 278.2h38.11v1.05h-38.11zM162.15 279.2h9.57v1.55h-9.57zM228.76 279.2h19.08v1.55h-19.08zM219.24 280.7h28.6v2.05h-28.6zM333.42 280.7h9.57v2.05h-9.57zM361.97 280.7h19.08v2.05h-19.08zM171.67 282.7h9.57v1.05h-9.57zM190.7 282.7h9.57v1.05h-9.57zM219.24 282.7h9.57v1.05h-9.57zM238.27 282.7h9.57v1.05h-9.57zM266.82 282.7h9.57v1.05h-9.57zM361.97 282.7h9.57v1.05h-9.57zM181.18 283.7h9.57v2.05h-9.57zM200.21 283.7h19.08v2.05h-19.08zM238.27 283.7h9.57v2.05h-9.57zM257.3 283.7h9.57v2.05h-9.57zM181.18 285.7h9.57v2.05h-9.57zM200.21 285.7h19.08v2.05h-19.08zM361.97 285.7h19.08v2.05h-19.08zM200.21 287.7h19.08v1.05h-19.08zM276.33 287.7h9.57v1.05h-9.57zM238.27 288.7h9.57v1.05h-9.57zM266.82 288.7h9.57v1.05h-9.57zM333.42 288.7h9.57v1.05h-9.57zM352.45 288.7h9.57v1.05h-9.57zM200.21 289.7h9.57v2.05h-9.57zM247.79 289.7h9.57v2.05h-9.57zM266.82 289.7h9.57v2.05h-9.57zM285.85 289.7h9.57v2.05h-9.57zM181.18 291.7h9.57v3.05h-9.57zM200.21 291.7h9.57v3.05h-9.57zM257.3 291.7h19.08v3.05h-19.08zM190.7 294.7h28.6v2.05h-28.6zM200.21 296.7h19.08v2.05h-19.08zM247.79 296.7h9.57v2.05h-9.57zM266.82 296.7h9.57v2.05h-9.57zM209.73 298.7h9.57v2.05h-9.57zM257.3 298.7h28.6v2.05h-28.6zM171.67 300.7h9.57v2.05h-9.57zM190.7 300.7h28.6v2.05h-28.6zM247.79 300.7h9.57v2.05h-9.57zM266.82 300.7h19.08v2.05h-19.08zM295.36 300.7h9.57v2.05h-9.57zM162.15 302.7h9.57v2.05h-9.57zM190.7 302.7h28.6v2.05h-28.6zM238.27 302.7h28.6v2.05h-28.6zM181.18 304.7h9.57v1.05h-9.57zM219.24 304.7h9.57v1.05h-9.57zM171.67 305.7h9.57v1.55h-9.57zM238.27 305.7h9.57v1.55h-9.57zM266.82 305.7h9.57v1.55h-9.57zM228.76 307.2h9.57v3.05h-9.57zM295.36 307.2h9.57v3.05h-9.57zM323.91 310.2h9.57v3.05h-9.57zM285.85 313.2h9.57v3.05h-9.57zM314.39 313.2h9.57v3.05h-9.57zM181.18 318.2h9.57v3.05h-9.57zM352.45 318.2h9.57v3.05h-9.57zM304.88 326.2h9.57v1.55h-9.57zM352.45 327.7h9.57v1.55h-9.57zM361.97 329.2h9.57v1.05h-9.57zM219.24 331.7h28.6v2.05h-28.6zM304.88 333.7h9.57v1.55h-9.57zM333.42 335.2h19.08v1.05h-19.08zM361.97 335.2h19.08v1.05h-19.08zM352.45 337.2h9.57v1.05h-9.57zM219.24 338.2h19.08v1.05h-19.08zM314.39 338.2h9.57v1.05h-9.57zM314.39 339.2h9.57v1.55h-9.57zM314.39 340.7h9.57v1.05h-9.57zM352.45 340.7h9.57v1.05h-9.57zM181.18 343.7h9.57v2.05h-9.57zM219.24 343.7h9.57v2.05h-9.57zM361.97 345.7h9.57v1.05h-9.57zM181.18 346.7h9.57v1.05h-9.57zM314.39 348.7h19.08v2.05h-19.08zM342.94 348.7h9.57v2.05h-9.57zM219.24 350.7h19.08v1.05h-19.08zM228.76 354.7h19.08v1.05h-19.08zM333.42 354.7h9.57v1.05h-9.57zM333.42 355.7h9.57v2.05h-9.57zM295.36 358.7h9.57v1.05h-9.57zM181.18 359.7h9.57v3.05h-9.57zM371.48 359.7h9.57v3.05h-9.57zM295.36 362.7h9.57v1.05h-9.57zM285.85 363.7h19.08v2.05h-19.08zM371.48 363.7h9.57v2.05h-9.57zM285.85 365.7h9.57v1.55h-9.57zM323.91 367.2h9.57v1.05h-9.57zM352.45 367.2h9.57v1.05h-9.57zM304.88 368.2h9.57v2.05h-9.57zM333.42 370.2h9.57v1.05h-9.57zM361.97 370.2h9.57v1.05h-9.57zM304.88 371.2h9.57v1.05h-9.57zM333.42 371.2h9.57v1.05h-9.57zM190.7 374.2h9.57v1.05h-9.57zM181.18 375.2h9.57v1.55h-9.57zM333.42 377.7h9.57v1.05h-9.57zM285.85 378.7h9.57v3.05h-9.57zM333.42 378.7h9.57v3.05h-9.57zM181.18 381.7h9.57v1.55h-9.57zM295.36 387.7h9.57v1.05h-9.57zM333.42 387.7h9.57v1.05h-9.57zM181.18 389.7h9.57v1.05h-9.57zM228.76 389.7h9.57v1.05h-9.57zM247.79 389.7h9.57v1.05h-9.57zM342.94 389.7h9.57v1.05h-9.57zM181.18 391.7h9.57v2.05h-9.57zM304.88 391.7h9.57v2.05h-9.57zM171.67 394.7h9.57v2.05h-9.57zM304.88 396.7h9.57v1.05h-9.57zM333.42 396.7h19.08v1.05h-19.08zM219.24 397.7h19.08v1.55h-19.08zM181.18 399.2h9.57v3.05h-9.57zM304.88 399.2h9.57v3.05h-9.57zM295.36 402.2h9.57v2.05h-9.57zM314.39 402.2h9.57v2.05h-9.57zM181.18 404.2h9.57v1.05h-9.57zM304.88 405.2h9.57v2.05h-9.57zM314.39 407.2h9.57v1.05h-9.57zM285.85 409.2h9.57v2.05h-9.57zM361.97 409.2h9.57v2.05h-9.57zM209.73 411.2h9.57v1.05h-9.57zM247.79 411.2h9.57v1.05h-9.57zM276.33 411.2h28.6v1.05h-28.6zM323.91 411.2h9.57v1.05h-9.57zM371.48 411.2h9.57v1.05h-9.57zM219.24 412.2h19.08v1.05h-19.08zM247.79 412.2h9.57v1.05h-9.57zM209.73 413.2h9.57v2.05h-9.57zM247.79 413.2h9.57v2.05h-9.57zM266.82 413.2h9.57v2.05h-9.57zM162.15 415.2h9.57v2.05h-9.57zM190.7 415.2h9.57v2.05h-9.57zM257.3 415.2h9.57v2.05h-9.57zM228.76 417.2h9.57v1.05h-9.57zM266.82 423.2h9.57v1.05h-9.57zM143.12 424.2h19.08v2.05h-19.08zM181.18 424.2h9.57v2.05h-9.57zM200.21 424.2h9.57v2.05h-9.57zM247.79 424.2h38.11v2.05h-38.11zM200.21 426.2h19.08v3.05h-19.08zM257.3 426.2h9.57v3.05h-9.57zM314.39 426.2h9.57v3.05h-9.57zM162.15 429.2h9.57v1.05h-9.57zM190.7 429.2h9.57v1.05h-9.57zM162.15 430.2h9.57v1.45h-9.57zM190.7 430.2h9.57v1.45h-9.57z"/>
<path fill="#ffea9f" d="M162.15 72.7h9.57v1.05h-9.57zM105.06 75.7h9.57v1.05h-9.57zM333.42 76.7h9.57v1.55h-9.57zM105.06 80.2h19.08v2.05h-19.08zM133.61 80.2h9.57v2.05h-9.57zM152.64 80.2h9.57v2.05h-9.57zM352.45 80.2h9.57v2.05h-9.57zM143.12 83.7h9.57v3.05h-9.57zM105.06 86.7h9.57v1.05h-9.57zM143.12 93.7h9.57v1.05h-9.57zM105.06 94.7h19.08v1.05h-19.08zM143.12 95.7h9.57v3.05h-9.57zM143.12 99.7h9.57v2.05h-9.57zM67 101.7h19.08v3.05h-19.08zM143.12 101.7h9.57v3.05h-9.57zM67 104.7h19.08v1.05h-19.08zM114.58 105.7h9.57v1.05h-9.57zM76.52 106.7h9.57v2.05h-9.57zM114.58 106.7h9.57v2.05h-9.57zM133.61 106.7h9.57v2.05h-9.57zM114.58 109.7h9.57v2.05h-9.57zM133.61 109.7h9.57v2.05h-9.57zM152.64 109.7h9.57v2.05h-9.57zM86.03 113.2h9.57v1.05h-9.57zM86.03 114.2h19.08v2.05h-19.08zM209.73 116.2h9.57v1.55h-9.57zM361.97 121.7h9.57v1.05h-9.57zM333.42 124.7h19.08v1.55h-19.08zM352.45 126.2h9.57v1.05h-9.57zM304.88 127.2h9.57v3.05h-9.57zM333.42 131.2h9.57v1.05h-9.57zM285.85 132.2h9.57v1.55h-9.57zM304.88 132.2h9.57v1.55h-9.57zM285.85 133.7h9.57v1.55h-9.57zM352.45 135.2h9.57v1.05h-9.57zM361.97 138.2h9.57v1.05h-9.57zM371.48 139.2h9.57v3.05h-9.57zM361.97 142.2h19.08v2.05h-19.08zM162.15 144.2h9.57v2.05h-9.57zM190.7 144.2h9.57v2.05h-9.57zM333.42 144.2h9.57v2.05h-9.57zM171.67 146.2h9.57v3.05h-9.57zM361.97 146.2h9.57v3.05h-9.57zM200.21 149.2h19.08v3.05h-19.08zM304.88 149.2h9.57v3.05h-9.57zM371.48 149.2h9.57v3.05h-9.57zM295.36 152.2h9.57v1.05h-9.57zM342.94 152.2h9.57v1.05h-9.57zM295.36 159.2h9.57v1.55h-9.57zM333.42 159.2h9.57v1.55h-9.57zM171.67 160.7h9.57v2.05h-9.57zM190.7 160.7h9.57v2.05h-9.57zM342.94 160.7h9.57v2.05h-9.57zM361.97 160.7h9.57v2.05h-9.57zM200.21 165.7h9.57v1.55h-9.57zM171.67 168.2h9.57v3.05h-9.57zM190.7 168.2h9.57v3.05h-9.57zM333.42 171.2h19.08v1.05h-19.08zM323.91 173.2h9.57v1.55h-9.57zM361.97 173.2h19.08v1.55h-19.08zM342.94 174.7h9.57v2.05h-9.57zM171.67 176.7h9.57v2.05h-9.57zM190.7 176.7h9.57v2.05h-9.57zM266.82 176.7h19.08v2.05h-19.08zM342.94 176.7h9.57v2.05h-9.57zM162.15 178.7h19.08v1.05h-19.08zM190.7 178.7h9.57v1.05h-9.57zM295.36 178.7h9.57v1.05h-9.57zM295.36 179.7h19.08v1.05h-19.08zM171.67 180.7h9.57v2.05h-9.57zM285.85 180.7h9.57v2.05h-9.57zM162.15 182.7h9.57v2.05h-9.57zM190.7 182.7h9.57v2.05h-9.57zM333.42 182.7h9.57v2.05h-9.57zM352.45 182.7h9.57v2.05h-9.57zM285.85 184.7h9.57v1.05h-9.57zM333.42 184.7h9.57v1.05h-9.57zM171.67 185.7h9.57v2.05h-9.57zM342.94 187.7h9.57v2.05h-9.57zM361.97 187.7h19.08v2.05h-19.08zM285.85 189.7h9.57v2.05h-9.57zM371.48 189.7h9.57v2.05h-9.57zM361.97 191.7h9.57v3.05h-9.57zM333.42 194.7h9.57v1.55h-9.57zM171.67 196.2h9.57v1.05h-9.57zM352.45 196.2h9.57v1.05h-9.57zM295.36 197.2h19.08v2.05h-19.08zM333.42 197.2h9.57v2.05h-9.57zM352.45 197.2h9.57v2.05h-9.57zM285.85 199.2h9.57v1.55h-9.57zM285.85 200.7h9.57v2.05h-9.57zM371.48 200.7h9.57v2.05h-9.57zM190.7 202.7h9.57v1.05h-9.57zM285.85 202.7h19.08v1.05h-19.08zM361.97 202.7h19.08v1.05h-19.08zM162.15 203.7h19.08v1.05h-19.08zM190.7 203.7h9.57v1.05h-9.57zM314.39 203.7h9.57v1.05h-9.57zM352.45 203.7h9.57v1.05h-9.57zM314.39 204.7h9.57v1.55h-9.57zM333.42 204.7h19.08v1.55h-19.08zM361.97 204.7h9.57v1.55h-9.57zM162.15 206.2h9.57v1.05h-9.57zM295.36 206.2h9.57v1.05h-9.57zM190.7 207.2h9.57v1.05h-9.57zM333.42 207.2h19.08v1.05h-19.08zM361.97 207.2h9.57v1.05h-9.57zM162.15 208.2h19.08v2.05h-19.08zM314.39 208.2h9.57v2.05h-9.57zM371.48 208.2h9.57v2.05h-9.57zM352.45 211.2h9.57v1.55h-9.57zM162.15 212.7h19.08v1.05h-19.08zM190.7 212.7h9.57v1.05h-9.57zM285.85 212.7h19.08v1.05h-19.08zM162.15 213.7h19.08v1.05h-19.08zM190.7 213.7h19.08v1.05h-19.08zM295.36 213.7h19.08v1.05h-19.08zM285.85 214.7h9.57v3.05h-9.57zM304.88 217.7h9.57v1.05h-9.57zM333.42 217.7h9.57v1.05h-9.57zM257.3 218.7h9.57v1.05h-9.57zM352.45 218.7h9.57v1.05h-9.57zM371.48 218.7h9.57v1.05h-9.57zM162.15 219.7h9.57v2.05h-9.57zM361.97 219.7h19.08v2.05h-19.08zM162.15 221.7h19.08v1.05h-19.08zM323.91 221.7h9.57v1.05h-9.57zM371.48 221.7h9.57v1.05h-9.57zM162.15 222.7h9.57v1.55h-9.57zM190.7 222.7h9.57v1.55h-9.57zM209.73 222.7h9.57v1.55h-9.57zM257.3 222.7h9.57v1.55h-9.57zM285.85 222.7h9.57v1.55h-9.57zM342.94 222.7h9.57v1.55h-9.57zM171.67 224.2h9.57v1.55h-9.57zM190.7 224.2h9.57v1.55h-9.57zM371.48 224.2h9.57v1.55h-9.57zM314.39 225.7h9.57v3.05h-9.57zM361.97 225.7h19.08v3.05h-19.08zM200.21 228.7h9.57v1.55h-9.57zM266.82 228.7h19.08v1.55h-19.08zM314.39 228.7h9.57v1.55h-9.57zM333.42 230.2h9.57v1.05h-9.57zM190.7 231.2h9.57v1.05h-9.57zM342.94 231.2h9.57v1.05h-9.57zM361.97 231.2h9.57v1.05h-9.57zM162.15 233.7h9.57v1.55h-9.57zM190.7 233.7h9.57v1.55h-9.57zM333.42 233.7h9.57v1.55h-9.57zM371.48 233.7h9.57v1.55h-9.57zM162.15 235.2h9.57v2.05h-9.57zM190.7 235.2h9.57v2.05h-9.57zM333.42 235.2h19.08v2.05h-19.08zM276.33 238.2h9.57v1.05h-9.57zM162.15 239.2h19.08v3.05h-19.08zM361.97 239.2h9.57v3.05h-9.57zM171.67 243.7h9.57v3.05h-9.57zM190.7 243.7h9.57v3.05h-9.57zM295.36 243.7h19.08v3.05h-19.08zM295.36 246.7h9.57v2.05h-9.57zM323.91 246.7h9.57v2.05h-9.57zM190.7 248.7h9.57v1.05h-9.57zM371.48 248.7h9.57v1.05h-9.57zM304.88 249.7h9.57v2.05h-9.57zM333.42 249.7h9.57v2.05h-9.57zM162.15 253.2h19.08v1.05h-19.08zM190.7 253.2h9.57v1.05h-9.57zM209.73 253.2h9.57v1.05h-9.57zM257.3 253.2h9.57v1.05h-9.57zM295.36 253.2h19.08v1.05h-19.08zM361.97 253.2h19.08v1.05h-19.08zM361.97 254.2h19.08v2.05h-19.08zM190.7 256.2h9.57v1.55h-9.57zM171.67 257.7h9.57v1.05h-9.57zM200.21 259.7h9.57v1.05h-9.57zM361.97 259.7h9.57v1.05h-9.57zM162.15 260.7h9.57v1.05h-9.57zM200.21 260.7h19.08v1.05h-19.08zM257.3 260.7h9.57v1.05h-9.57zM162.15 261.7h9.57v1.05h-9.57zM304.88 262.7h9.57v1.05h-9.57zM209.73 263.7h9.57v2.05h-9.57zM361.97 263.7h19.08v2.05h-19.08zM209.73 267.7h9.57v1.55h-9.57zM257.3 267.7h9.57v1.55h-9.57zM276.33 267.7h28.6v1.55h-28.6zM162.15 272.2h9.57v2.05h-9.57zM190.7 272.2h9.57v2.05h-9.57zM247.79 272.2h9.57v2.05h-9.57zM276.33 272.2h9.57v2.05h-9.57zM342.94 272.2h9.57v2.05h-9.57zM361.97 272.2h9.57v2.05h-9.57zM162.15 274.2h9.57v1.05h-9.57zM190.7 274.2h9.57v1.05h-9.57zM333.42 274.2h19.08v1.05h-19.08zM361.97 274.2h19.08v1.05h-19.08zM162.15 275.2h9.57v1.05h-9.57zM190.7 275.2h9.57v1.05h-9.57zM285.85 275.2h9.57v1.05h-9.57zM323.91 275.2h9.57v1.05h-9.57zM162.15 276.2h9.57v1.05h-9.57zM257.3 276.2h9.57v1.05h-9.57zM323.91 277.2h9.57v1.05h-9.57zM304.88 278.2h9.57v1.05h-9.57zM247.79 279.2h28.6v1.55h-28.6zM285.85 279.2h9.57v1.55h-9.57zM352.45 279.2h9.57v1.55h-9.57zM162.15 280.7h19.08v2.05h-19.08zM200.21 280.7h9.57v2.05h-9.57zM323.91 280.7h9.57v2.05h-9.57zM200.21 282.7h9.57v1.05h-9.57zM304.88 282.7h9.57v1.05h-9.57zM371.48 282.7h9.57v1.05h-9.57zM171.67 283.7h9.57v2.05h-9.57zM190.7 283.7h9.57v2.05h-9.57zM162.15 285.7h9.57v2.05h-9.57zM333.42 285.7h9.57v2.05h-9.57zM171.67 288.7h9.57v1.05h-9.57zM190.7 288.7h9.57v1.05h-9.57zM190.7 289.7h9.57v2.05h-9.57zM371.48 289.7h9.57v2.05h-9.57zM162.15 291.7h9.57v3.05h-9.57zM190.7 291.7h9.57v3.05h-9.57zM361.97 291.7h9.57v3.05h-9.57zM285.85 294.7h9.57v2.05h-9.57zM304.88 294.7h9.57v2.05h-9.57zM371.48 294.7h9.57v2.05h-9.57zM171.67 296.7h9.57v2.05h-9.57zM333.42 298.7h9.57v2.05h-9.57zM342.94 300.7h9.57v2.05h-9.57zM371.48 302.7h9.57v2.05h-9.57zM295.36 304.7h19.08v1.05h-19.08zM333.42 304.7h19.08v1.05h-19.08zM181.18 307.2h9.57v3.05h-9.57zM181.18 310.2h9.57v3.05h-9.57zM238.27 310.2h9.57v3.05h-9.57zM257.3 310.2h9.57v3.05h-9.57zM295.36 310.2h19.08v3.05h-19.08zM162.15 313.2h9.57v3.05h-9.57zM190.7 313.2h28.6v3.05h-28.6zM342.94 313.2h9.57v3.05h-9.57zM371.48 313.2h9.57v3.05h-9.57zM200.21 316.2h9.57v2.05h-9.57zM228.76 316.2h47.63v2.05h-47.63zM295.36 316.2h9.57v2.05h-9.57zM323.91 316.2h9.57v2.05h-9.57zM219.24 318.2h19.08v3.05h-19.08zM361.97 318.2h19.08v3.05h-19.08zM181.18 321.2h9.57v2.05h-9.57zM238.27 321.2h9.57v2.05h-9.57zM190.7 323.2h9.57v1.55h-9.57zM219.24 323.2h9.57v1.55h-9.57zM295.36 323.2h19.08v1.55h-19.08zM162.15 324.7h19.08v1.55h-19.08zM247.79 324.7h28.6v1.55h-28.6zM238.27 326.2h19.08v1.55h-19.08zM190.7 327.7h9.57v1.55h-9.57zM257.3 327.7h28.6v1.55h-28.6zM314.39 327.7h9.57v1.55h-9.57zM361.97 327.7h9.57v1.55h-9.57zM181.18 329.2h9.57v1.05h-9.57zM266.82 329.2h9.57v1.05h-9.57zM295.36 329.2h9.57v1.05h-9.57zM162.15 330.2h9.57v1.55h-9.57zM200.21 330.2h19.08v1.55h-19.08zM257.3 330.2h28.6v1.55h-28.6zM361.97 330.2h19.08v1.55h-19.08zM181.18 331.7h9.57v2.05h-9.57zM200.21 331.7h9.57v2.05h-9.57zM371.48 331.7h9.57v2.05h-9.57zM228.76 333.7h38.11v1.55h-38.11zM314.39 333.7h9.57v1.55h-9.57zM371.48 333.7h9.57v1.55h-9.57zM171.67 335.2h9.57v1.05h-9.57zM190.7 335.2h9.57v1.05h-9.57zM219.24 335.2h9.57v1.05h-9.57zM266.82 335.2h9.57v1.05h-9.57zM162.15 336.2h9.57v1.05h-9.57zM238.27 336.2h28.6v1.05h-28.6zM162.15 337.2h9.57v1.05h-9.57zM238.27 337.2h9.57v1.05h-9.57zM371.48 337.2h9.57v1.05h-9.57zM200.21 338.2h9.57v1.05h-9.57zM257.3 338.2h9.57v1.05h-9.57zM276.33 338.2h9.57v1.05h-9.57zM304.88 338.2h9.57v1.05h-9.57zM162.15 339.2h19.08v1.55h-19.08zM200.21 339.2h9.57v1.55h-9.57zM228.76 339.2h9.57v1.55h-9.57zM266.82 339.2h9.57v1.55h-9.57zM171.67 340.7h9.57v1.05h-9.57zM190.7 340.7h9.57v1.05h-9.57zM247.79 340.7h19.08v1.05h-19.08zM276.33 340.7h9.57v1.05h-9.57zM371.48 340.7h9.57v1.05h-9.57zM219.24 341.7h9.57v1.05h-9.57zM323.91 341.7h9.57v1.05h-9.57zM219.24 342.7h28.6v1.05h-28.6zM266.82 342.7h9.57v1.05h-9.57zM295.36 342.7h19.08v1.05h-19.08zM371.48 342.7h9.57v1.05h-9.57zM190.7 343.7h9.57v2.05h-9.57zM295.36 343.7h9.57v2.05h-9.57zM162.15 345.7h19.08v1.05h-19.08zM162.15 346.7h9.57v1.05h-9.57zM190.7 346.7h9.57v1.05h-9.57zM361.97 346.7h9.57v1.05h-9.57zM190.7 347.7h9.57v1.05h-9.57zM238.27 347.7h9.57v1.05h-9.57zM285.85 347.7h9.57v1.05h-9.57zM190.7 348.7h9.57v2.05h-9.57zM238.27 348.7h9.57v2.05h-9.57zM171.67 350.7h9.57v1.05h-9.57zM190.7 350.7h28.6v1.05h-28.6zM266.82 350.7h9.57v1.05h-9.57zM371.48 350.7h9.57v1.05h-9.57zM200.21 351.7h9.57v2.05h-9.57zM323.91 351.7h9.57v2.05h-9.57zM361.97 351.7h9.57v2.05h-9.57zM276.33 353.7h9.57v1.05h-9.57zM333.42 353.7h9.57v1.05h-9.57zM352.45 353.7h9.57v1.05h-9.57zM200.21 354.7h19.08v1.05h-19.08zM257.3 354.7h9.57v1.05h-9.57zM276.33 354.7h19.08v1.05h-19.08zM361.97 354.7h19.08v1.05h-19.08zM209.73 355.7h9.57v2.05h-9.57zM247.79 355.7h19.08v2.05h-19.08zM276.33 355.7h9.57v2.05h-9.57zM181.18 357.7h9.57v1.05h-9.57zM295.36 357.7h9.57v1.05h-9.57zM209.73 358.7h19.08v1.05h-19.08zM238.27 358.7h19.08v1.05h-19.08zM276.33 358.7h9.57v1.05h-9.57zM314.39 358.7h9.57v1.05h-9.57zM361.97 358.7h9.57v1.05h-9.57zM190.7 359.7h28.6v3.05h-28.6zM238.27 359.7h9.57v3.05h-9.57zM285.85 359.7h9.57v3.05h-9.57zM209.73 362.7h9.57v1.05h-9.57zM238.27 362.7h9.57v1.05h-9.57zM361.97 362.7h19.08v1.05h-19.08zM181.18 363.7h19.08v2.05h-19.08zM276.33 363.7h9.57v2.05h-9.57zM323.91 363.7h9.57v2.05h-9.57zM342.94 363.7h9.57v2.05h-9.57zM181.18 365.7h9.57v1.55h-9.57zM209.73 365.7h9.57v1.55h-9.57zM238.27 365.7h9.57v1.55h-9.57zM295.36 365.7h9.57v1.55h-9.57zM361.97 365.7h9.57v1.55h-9.57zM162.15 367.2h9.57v1.05h-9.57zM181.18 367.2h9.57v1.05h-9.57zM228.76 367.2h9.57v1.05h-9.57zM285.85 367.2h9.57v1.05h-9.57zM371.48 367.2h9.57v1.05h-9.57zM247.79 368.2h9.57v2.05h-9.57zM266.82 368.2h19.08v2.05h-19.08zM295.36 368.2h9.57v2.05h-9.57zM361.97 368.2h9.57v2.05h-9.57zM181.18 370.2h9.57v1.05h-9.57zM266.82 370.2h9.57v1.05h-9.57zM371.48 370.2h9.57v1.05h-9.57zM171.67 371.2h9.57v1.05h-9.57zM200.21 371.2h19.08v1.05h-19.08zM257.3 371.2h9.57v1.05h-9.57zM276.33 371.2h9.57v1.05h-9.57zM181.18 372.2h9.57v2.05h-9.57zM266.82 372.2h19.08v2.05h-19.08zM323.91 372.2h9.57v2.05h-9.57zM371.48 372.2h9.57v2.05h-9.57zM228.76 374.2h28.6v1.05h-28.6zM190.7 375.2h9.57v1.55h-9.57zM209.73 375.2h9.57v1.55h-9.57zM247.79 375.2h9.57v1.55h-9.57zM266.82 375.2h9.57v1.55h-9.57zM361.97 375.2h9.57v1.55h-9.57zM181.18 376.7h9.57v1.05h-9.57zM238.27 376.7h9.57v1.05h-9.57zM266.82 376.7h9.57v1.05h-9.57zM304.88 376.7h19.08v1.05h-19.08zM219.24 377.7h9.57v1.05h-9.57zM285.85 377.7h19.08v1.05h-19.08zM361.97 377.7h9.57v1.05h-9.57zM162.15 378.7h9.57v3.05h-9.57zM219.24 378.7h19.08v3.05h-19.08zM361.97 378.7h19.08v3.05h-19.08zM190.7 381.7h9.57v1.55h-9.57zM247.79 381.7h9.57v1.55h-9.57zM342.94 381.7h9.57v1.55h-9.57zM181.18 383.2h9.57v1.55h-9.57zM361.97 383.2h9.57v1.55h-9.57zM162.15 384.7h19.08v1.55h-19.08zM190.7 384.7h9.57v1.55h-9.57zM228.76 384.7h19.08v1.55h-19.08zM295.36 384.7h9.57v1.55h-9.57zM371.48 384.7h9.57v1.55h-9.57zM162.15 386.2h19.08v1.55h-19.08zM247.79 386.2h9.57v1.55h-9.57zM276.33 386.2h9.57v1.55h-9.57zM314.39 386.2h9.57v1.55h-9.57zM162.15 387.7h9.57v1.05h-9.57zM181.18 387.7h19.08v1.05h-19.08zM219.24 387.7h9.57v1.05h-9.57zM238.27 387.7h9.57v1.05h-9.57zM276.33 387.7h9.57v1.05h-9.57zM162.15 388.7h57.14v1.05h-57.14zM257.3 388.7h19.08v1.05h-19.08zM190.7 389.7h19.08v1.05h-19.08zM276.33 389.7h9.57v1.05h-9.57zM304.88 389.7h9.57v1.05h-9.57zM371.48 389.7h9.57v1.05h-9.57zM190.7 390.7h9.57v1.05h-9.57zM285.85 390.7h9.57v1.05h-9.57zM304.88 390.7h9.57v1.05h-9.57zM162.15 391.7h19.08v2.05h-19.08zM238.27 391.7h9.57v2.05h-9.57zM266.82 391.7h19.08v2.05h-19.08zM162.15 393.7h9.57v1.05h-9.57zM276.33 393.7h9.57v1.05h-9.57zM314.39 393.7h19.08v1.05h-19.08zM371.48 393.7h9.57v1.05h-9.57zM200.21 394.7h19.08v2.05h-19.08zM219.24 396.7h9.57v1.05h-9.57zM266.82 396.7h9.57v1.05h-9.57zM295.36 396.7h9.57v1.05h-9.57zM181.18 397.7h9.57v1.55h-9.57zM304.88 397.7h9.57v1.55h-9.57zM323.91 397.7h9.57v1.55h-9.57zM190.7 399.2h9.57v3.05h-9.57zM219.24 399.2h19.08v3.05h-19.08zM238.27 402.2h19.08v2.05h-19.08zM266.82 402.2h9.57v2.05h-9.57zM323.91 402.2h9.57v2.05h-9.57zM228.76 404.2h9.57v1.05h-9.57zM266.82 404.2h9.57v1.05h-9.57zM209.73 405.2h9.57v2.05h-9.57zM247.79 405.2h19.08v2.05h-19.08zM276.33 405.2h9.57v2.05h-9.57zM181.18 407.2h9.57v1.05h-9.57zM228.76 407.2h19.08v1.05h-19.08zM181.18 408.2h9.57v1.05h-9.57zM219.24 408.2h9.57v1.05h-9.57zM238.27 408.2h9.57v1.05h-9.57zM171.67 409.2h9.57v2.05h-9.57zM200.21 409.2h19.08v2.05h-19.08zM247.79 409.2h9.57v2.05h-9.57zM266.82 409.2h9.57v2.05h-9.57zM304.88 409.2h9.57v2.05h-9.57zM181.18 411.2h9.57v1.05h-9.57zM181.18 413.2h9.57v2.05h-9.57zM209.73 417.2h9.57v1.05h-9.57zM162.15 424.2h19.08v2.05h-19.08zM190.7 424.2h9.57v2.05h-9.57zM323.91 426.2h9.57v3.05h-9.57zM314.39 430.2h9.57v1.45h-9.57z"/>
<path fill="#fff9b7" d="M171.67 72.7h9.57v1.05h-9.57zM304.88 80.2h9.57v2.05h-9.57zM114.58 82.2h9.57v1.55h-9.57zM114.58 83.7h9.57v3.05h-9.57zM342.94 83.7h9.57v3.05h-9.57zM323.91 106.7h9.57v2.05h-9.57zM76.52 111.7h9.57v1.55h-9.57zM295.36 114.2h19.08v2.05h-19.08zM105.06 118.7h9.57v2.05h-9.57zM105.06 120.7h9.57v1.05h-9.57zM124.09 121.7h9.57v1.05h-9.57zM86.03 131.2h9.57v1.05h-9.57zM342.94 162.7h9.57v3.05h-9.57zM86.03 167.2h9.57v1.05h-9.57zM352.45 167.2h9.57v1.05h-9.57zM181.18 189.7h9.57v2.05h-9.57zM228.76 191.7h9.57v3.05h-9.57zM342.94 257.7h9.57v1.05h-9.57zM352.45 258.7h9.57v1.05h-9.57zM352.45 260.7h9.57v1.05h-9.57zM352.45 265.7h9.57v1.05h-9.57zM342.94 266.7h9.57v1.05h-9.57zM76.52 269.2h9.57v3.05h-9.57zM285.85 307.2h9.57v3.05h-9.57zM352.45 333.7h9.57v1.55h-9.57zM333.42 338.2h19.08v1.05h-19.08zM352.45 372.2h9.57v2.05h-9.57zM342.94 384.7h9.57v1.55h-9.57zM352.45 390.7h9.57v1.05h-9.57zM285.85 394.7h28.6v2.05h-28.6zM333.42 394.7h19.08v2.05h-19.08zM371.48 396.7h9.57v1.05h-9.57zM361.97 397.7h9.57v1.55h-9.57zM361.97 402.2h9.57v2.05h-9.57zM352.45 408.2h9.57v1.05h-9.57zM352.45 411.2h9.57v1.05h-9.57zM105.06 413.2h9.57v2.05h-9.57zM133.61 413.2h9.57v2.05h-9.57zM314.39 413.2h9.57v2.05h-9.57zM333.42 413.2h19.08v2.05h-19.08zM114.58 415.2h28.6v2.05h-28.6zM181.18 418.2h9.57v3.05h-9.57zM162.15 421.2h9.57v2.05h-9.57zM190.7 421.2h9.57v2.05h-9.57zM285.85 423.2h19.08v1.05h-19.08zM133.61 426.2h9.57v3.05h-9.57zM152.64 426.2h9.57v3.05h-9.57zM295.36 426.2h19.08v3.05h-19.08zM228.76 429.2h9.57v1.05h-9.57zM133.61 430.2h9.57v1.45h-9.57zM295.36 430.2h9.57v1.45h-9.57z"/>
<path fill="#f3fcd5" d="M181.18 72.7h9.57v1.05h-9.57zM219.24 73.7h9.57v2.05h-9.57zM276.33 73.7h9.57v2.05h-9.57zM171.67 75.7h9.57v1.05h-9.57zM304.88 78.2h9.57v2.05h-9.57zM295.36 87.7h9.57v1.55h-9.57zM257.3 89.2h9.57v2.05h-9.57zM304.88 93.7h9.57v1.05h-9.57zM266.82 94.7h9.57v1.05h-9.57zM209.73 95.7h9.57v3.05h-9.57zM171.67 99.7h9.57v2.05h-9.57zM209.73 106.7h9.57v2.05h-9.57zM219.24 109.7h9.57v2.05h-9.57zM200.21 111.7h9.57v1.55h-9.57zM285.85 111.7h9.57v1.55h-9.57zM124.09 132.2h9.57v1.55h-9.57zM143.12 132.2h9.57v1.55h-9.57zM219.24 135.2h9.57v1.05h-9.57zM105.06 138.2h9.57v1.05h-9.57zM105.06 421.2h9.57v2.05h-9.57z"/>
<path fill="#f9fcc9" d="M190.7 72.7h9.57v1.05h-9.57zM257.3 72.7h19.08v1.05h-19.08zM352.45 75.7h9.57v1.05h-9.57zM342.94 82.2h9.57v1.55h-9.57zM314.39 87.7h9.57v1.55h-9.57zM342.94 87.7h9.57v1.55h-9.57zM342.94 89.2h9.57v2.05h-9.57zM371.48 89.2h9.57v2.05h-9.57zM333.42 94.7h9.57v1.05h-9.57zM342.94 95.7h9.57v3.05h-9.57zM333.42 99.7h38.11v2.05h-38.11zM361.97 104.7h9.57v1.05h-9.57zM200.21 108.7h9.57v1.05h-9.57zM247.79 108.7h9.57v1.05h-9.57zM162.15 109.7h9.57v2.05h-9.57zM190.7 109.7h9.57v2.05h-9.57zM304.88 111.7h9.57v1.55h-9.57zM228.76 113.2h19.08v1.05h-19.08zM171.67 114.2h9.57v2.05h-9.57zM228.76 116.2h9.57v1.55h-9.57zM181.18 117.7h9.57v1.05h-9.57zM200.21 117.7h19.08v1.05h-19.08zM219.24 118.7h9.57v2.05h-9.57zM238.27 118.7h9.57v2.05h-9.57zM266.82 118.7h9.57v2.05h-9.57zM219.24 120.7h9.57v1.05h-9.57zM238.27 120.7h19.08v1.05h-19.08zM266.82 120.7h9.57v1.05h-9.57zM190.7 121.7h9.57v1.05h-9.57zM105.06 122.7h9.57v2.05h-9.57zM219.24 122.7h9.57v2.05h-9.57zM219.24 124.7h9.57v1.55h-9.57zM228.76 126.2h19.08v1.05h-19.08zM181.18 127.2h9.57v3.05h-9.57zM238.27 127.2h19.08v3.05h-19.08zM124.09 130.2h9.57v1.05h-9.57zM181.18 130.2h9.57v1.05h-9.57zM171.67 131.2h19.08v1.05h-19.08zM228.76 131.2h19.08v1.05h-19.08zM181.18 132.2h19.08v1.55h-19.08zM247.79 132.2h9.57v1.55h-9.57zM219.24 133.7h19.08v1.55h-19.08zM247.79 133.7h9.57v1.55h-9.57zM181.18 135.2h9.57v1.05h-9.57zM162.15 136.2h19.08v2.05h-19.08zM228.76 136.2h9.57v2.05h-9.57zM181.18 138.2h9.57v1.05h-9.57zM238.27 138.2h9.57v1.05h-9.57zM219.24 139.2h9.57v3.05h-9.57zM352.45 256.2h9.57v1.55h-9.57zM86.03 274.2h9.57v1.05h-9.57zM95.55 276.2h9.57v1.05h-9.57zM86.03 277.2h9.57v1.05h-9.57zM352.45 346.7h9.57v1.05h-9.57zM333.42 347.7h19.08v1.05h-19.08zM304.88 418.2h9.57v3.05h-9.57zM333.42 418.2h9.57v3.05h-9.57zM333.42 423.2h19.08v1.05h-19.08z"/>
<path fill="#fcfcc6" d="M200.21 72.7h9.57v1.05h-9.57zM190.7 73.7h9.57v2.05h-9.57zM361.97 75.7h9.57v1.05h-9.57zM333.42 78.2h9.57v2.05h-9.57zM295.36 80.2h9.57v2.05h-9.57zM323.91 87.7h9.57v1.55h-9.57zM352.45 91.2h9.57v1.55h-9.57zM371.48 92.7h9.57v1.05h-9.57zM342.94 98.7h9.57v1.05h-9.57zM323.91 104.7h19.08v1.05h-19.08zM323.91 105.7h9.57v1.05h-9.57zM361.97 105.7h9.57v1.05h-9.57zM304.88 106.7h9.57v2.05h-9.57zM209.73 108.7h9.57v1.05h-9.57zM276.33 109.7h9.57v2.05h-9.57zM266.82 113.2h9.57v1.05h-9.57zM228.76 121.7h9.57v1.05h-9.57zM171.67 122.7h9.57v2.05h-9.57zM209.73 127.2h9.57v3.05h-9.57zM257.3 127.2h9.57v3.05h-9.57zM200.21 130.2h9.57v1.05h-9.57zM266.82 130.2h9.57v1.05h-9.57zM276.33 132.2h9.57v1.55h-9.57zM238.27 133.7h9.57v1.55h-9.57zM209.73 135.2h9.57v1.05h-9.57zM190.7 136.2h9.57v2.05h-9.57zM86.03 278.2h9.57v1.05h-9.57zM314.39 421.2h9.57v2.05h-9.57zM361.97 421.2h19.08v2.05h-19.08z"/>
<path fill="#f9fccc" d="M209.73 72.7h9.57v1.05h-9.57zM228.76 72.7h28.6v1.05h-28.6zM181.18 73.7h9.57v2.05h-9.57zM200.21 73.7h9.57v2.05h-9.57zM371.48 75.7h9.57v1.05h-9.57zM295.36 76.7h9.57v1.55h-9.57zM323.91 76.7h9.57v1.55h-9.57zM371.48 78.2h9.57v2.05h-9.57zM314.39 80.2h9.57v2.05h-9.57zM333.42 82.2h9.57v1.55h-9.57zM352.45 82.2h9.57v1.55h-9.57zM285.85 86.7h19.08v1.05h-19.08zM371.48 86.7h9.57v1.05h-9.57zM333.42 89.2h9.57v2.05h-9.57zM361.97 94.7h19.08v1.05h-19.08zM304.88 95.7h9.57v3.05h-9.57zM333.42 95.7h9.57v3.05h-9.57zM352.45 95.7h9.57v3.05h-9.57zM352.45 98.7h9.57v1.05h-9.57zM371.48 99.7h9.57v2.05h-9.57zM342.94 105.7h9.57v1.05h-9.57zM371.48 105.7h9.57v1.05h-9.57zM257.3 108.7h28.6v1.05h-28.6zM171.67 109.7h9.57v2.05h-9.57zM257.3 109.7h9.57v2.05h-9.57zM295.36 109.7h19.08v2.05h-19.08zM238.27 116.2h9.57v1.55h-9.57zM247.79 117.7h19.08v1.05h-19.08zM276.33 117.7h9.57v1.05h-9.57zM228.76 124.7h9.57v1.55h-9.57zM133.61 130.2h19.08v1.05h-19.08zM247.79 130.2h9.57v1.05h-9.57zM219.24 136.2h9.57v2.05h-9.57zM95.55 277.2h9.57v1.05h-9.57zM86.03 279.2h9.57v1.55h-9.57zM342.94 345.7h9.57v1.05h-9.57zM304.88 415.2h9.57v2.05h-9.57zM323.91 418.2h9.57v3.05h-9.57zM124.09 421.2h9.57v2.05h-9.57zM143.12 421.2h19.08v2.05h-19.08zM285.85 424.2h9.57v2.05h-9.57zM333.42 424.2h19.08v2.05h-19.08z"/>
<path fill="#f3fcd2" d="M219.24 72.7h9.57v1.05h-9.57zM238.27 73.7h9.57v2.05h-9.57zM162.15 75.7h9.57v1.05h-9.57zM285.85 76.7h9.57v1.55h-9.57zM190.7 82.2h9.57v1.55h-9.57zM285.85 87.7h9.57v1.55h-9.57zM314.39 91.2h9.57v1.55h-9.57zM257.3 95.7h9.57v3.05h-9.57zM276.33 99.7h9.57v2.05h-9.57zM162.15 101.7h9.57v3.05h-9.57zM209.73 104.7h9.57v1.05h-9.57zM285.85 106.7h9.57v2.05h-9.57zM333.42 116.2h9.57v1.55h-9.57zM352.45 116.2h9.57v1.55h-9.57zM133.61 138.2h9.57v1.05h-9.57zM86.03 162.7h9.57v3.05h-9.57zM86.03 168.2h9.57v3.05h-9.57zM76.52 176.7h9.57v2.05h-9.57zM95.55 275.2h9.57v1.05h-9.57zM86.03 283.7h9.57v2.05h-9.57zM86.03 307.2h9.57v3.05h-9.57zM76.52 418.2h9.57v3.05h-9.57zM67 421.2h19.08v2.05h-19.08zM114.58 421.2h9.57v2.05h-9.57z"/>
<path fill="#f6fccf" d="M276.33 72.7h9.57v1.05h-9.57zM247.79 73.7h19.08v2.05h-19.08zM304.88 76.7h19.08v1.55h-19.08zM352.45 76.7h9.57v1.55h-9.57zM371.48 76.7h9.57v1.55h-9.57zM314.39 82.2h19.08v1.55h-19.08zM361.97 86.7h9.57v1.05h-9.57zM304.88 87.7h9.57v1.55h-9.57zM333.42 87.7h9.57v1.55h-9.57zM304.88 89.2h9.57v2.05h-9.57zM295.36 92.7h9.57v1.05h-9.57zM333.42 92.7h19.08v1.05h-19.08zM209.73 94.7h9.57v1.05h-9.57zM276.33 94.7h9.57v1.05h-9.57zM323.91 94.7h9.57v1.05h-9.57zM285.85 95.7h9.57v3.05h-9.57zM361.97 98.7h9.57v1.05h-9.57zM171.67 101.7h9.57v3.05h-9.57zM190.7 101.7h9.57v3.05h-9.57zM285.85 101.7h9.57v3.05h-9.57zM295.36 105.7h9.57v1.05h-9.57zM295.36 106.7h9.57v2.05h-9.57zM342.94 106.7h19.08v2.05h-19.08zM162.15 108.7h9.57v1.05h-9.57zM190.7 108.7h9.57v1.05h-9.57zM181.18 109.7h9.57v2.05h-9.57zM200.21 109.7h19.08v2.05h-19.08zM247.79 109.7h9.57v2.05h-9.57zM181.18 111.7h9.57v1.55h-9.57zM209.73 111.7h9.57v1.55h-9.57zM295.36 111.7h9.57v1.55h-9.57zM219.24 113.2h9.57v1.05h-9.57zM219.24 116.2h9.57v1.55h-9.57zM342.94 116.2h9.57v1.55h-9.57zM333.42 117.7h9.57v1.05h-9.57zM162.15 120.7h19.08v1.05h-19.08zM190.7 120.7h9.57v1.05h-9.57zM228.76 120.7h9.57v1.05h-9.57zM219.24 127.2h9.57v3.05h-9.57zM105.06 130.2h9.57v1.05h-9.57zM152.64 130.2h9.57v1.05h-9.57zM219.24 130.2h19.08v1.05h-19.08zM238.27 132.2h9.57v1.55h-9.57zM238.27 135.2h9.57v1.05h-9.57zM76.52 136.2h9.57v2.05h-9.57zM143.12 138.2h9.57v1.05h-9.57zM219.24 138.2h9.57v1.05h-9.57zM86.03 165.7h9.57v1.55h-9.57zM86.03 282.7h9.57v1.05h-9.57zM86.03 305.7h9.57v1.55h-9.57zM95.55 307.2h9.57v3.05h-9.57zM133.61 307.2h9.57v3.05h-9.57zM352.45 342.7h9.57v1.05h-9.57zM86.03 413.2h9.57v2.05h-9.57zM314.39 417.2h9.57v1.05h-9.57zM67 418.2h9.57v3.05h-9.57zM143.12 418.2h9.57v3.05h-9.57zM295.36 418.2h9.57v3.05h-9.57zM314.39 418.2h9.57v3.05h-9.57zM352.45 418.2h9.57v3.05h-9.57zM371.48 418.2h9.57v3.05h-9.57zM304.88 421.2h9.57v2.05h-9.57zM342.94 421.2h9.57v2.05h-9.57z"/>
<path fill="#ffffc0" d="M285.85 72.7h9.57v1.05h-9.57zM295.36 73.7h9.57v2.05h-9.57zM333.42 75.7h9.57v1.05h-9.57zM323.91 80.2h9.57v2.05h-9.57zM371.48 82.2h9.57v1.55h-9.57zM352.45 83.7h9.57v3.05h-9.57zM361.97 91.2h9.57v1.55h-9.57zM333.42 101.7h19.08v3.05h-19.08zM314.39 106.7h9.57v2.05h-9.57zM190.7 111.7h9.57v1.55h-9.57zM162.15 113.2h9.57v1.05h-9.57zM247.79 114.2h9.57v2.05h-9.57zM190.7 116.2h9.57v1.55h-9.57zM162.15 117.7h19.08v1.05h-19.08zM162.15 118.7h19.08v2.05h-19.08zM209.73 118.7h9.57v2.05h-9.57zM86.03 121.7h9.57v1.05h-9.57zM209.73 121.7h9.57v1.05h-9.57zM247.79 121.7h19.08v1.05h-19.08zM276.33 121.7h9.57v1.05h-9.57zM95.55 122.7h9.57v2.05h-9.57zM133.61 122.7h9.57v2.05h-9.57zM257.3 122.7h9.57v2.05h-9.57zM190.7 124.7h9.57v1.55h-9.57zM247.79 124.7h9.57v1.55h-9.57zM266.82 124.7h9.57v1.55h-9.57zM171.67 126.2h9.57v1.05h-9.57zM209.73 126.2h9.57v1.05h-9.57zM266.82 126.2h9.57v1.05h-9.57zM162.15 130.2h9.57v1.05h-9.57zM276.33 130.2h9.57v1.05h-9.57zM162.15 133.7h9.57v1.55h-9.57zM200.21 133.7h9.57v1.55h-9.57zM257.3 133.7h9.57v1.55h-9.57zM162.15 135.2h19.08v1.05h-19.08zM266.82 136.2h19.08v2.05h-19.08zM171.67 138.2h9.57v1.05h-9.57zM190.7 138.2h9.57v1.05h-9.57zM209.73 138.2h9.57v1.05h-9.57zM181.18 139.2h9.57v3.05h-9.57zM257.3 139.2h19.08v3.05h-19.08zM124.09 305.7h9.57v1.55h-9.57zM342.94 397.7h9.57v1.55h-9.57zM285.85 413.2h9.57v2.05h-9.57zM323.91 417.2h9.57v1.05h-9.57zM304.88 424.2h9.57v2.05h-9.57z"/>
<path fill="#ffffbd" d="M295.36 72.7h19.08v1.05h-19.08zM333.42 72.7h9.57v1.05h-9.57zM323.91 83.7h9.57v3.05h-9.57zM333.42 91.2h19.08v1.55h-19.08zM333.42 93.7h9.57v1.05h-9.57zM314.39 95.7h9.57v3.05h-9.57zM314.39 101.7h9.57v3.05h-9.57zM342.94 104.7h9.57v1.05h-9.57zM342.94 108.7h9.57v1.05h-9.57zM209.73 114.2h9.57v2.05h-9.57zM257.3 114.2h9.57v2.05h-9.57zM276.33 114.2h9.57v2.05h-9.57zM285.85 116.2h9.57v1.55h-9.57zM304.88 117.7h9.57v1.05h-9.57zM190.7 118.7h9.57v2.05h-9.57zM276.33 118.7h9.57v2.05h-9.57zM105.06 121.7h9.57v1.05h-9.57zM266.82 121.7h9.57v1.05h-9.57zM86.03 122.7h9.57v2.05h-9.57zM143.12 122.7h9.57v2.05h-9.57zM257.3 124.7h9.57v1.55h-9.57zM276.33 124.7h9.57v1.55h-9.57zM162.15 126.2h9.57v1.05h-9.57zM200.21 126.2h9.57v1.05h-9.57zM190.7 130.2h9.57v1.05h-9.57zM171.67 133.7h9.57v1.55h-9.57zM209.73 133.7h9.57v1.55h-9.57zM162.15 139.2h9.57v3.05h-9.57zM333.42 256.2h9.57v1.55h-9.57zM352.45 266.7h9.57v1.05h-9.57zM95.55 305.7h9.57v1.55h-9.57zM352.45 374.2h9.57v1.05h-9.57zM314.39 396.7h9.57v1.05h-9.57zM285.85 412.2h9.57v1.05h-9.57zM314.39 412.2h9.57v1.05h-9.57zM352.45 413.2h9.57v2.05h-9.57zM371.48 423.2h9.57v1.05h-9.57z"/>
<path fill="#fcb775" d="M314.39 72.7h9.57v1.05h-9.57zM314.39 73.7h9.57v2.05h-9.57zM95.55 93.7h9.57v1.05h-9.57zM76.52 94.7h9.57v1.05h-9.57zM314.39 121.7h9.57v1.05h-9.57zM323.91 122.7h9.57v2.05h-9.57zM314.39 136.2h9.57v2.05h-9.57zM333.42 429.2h9.57v1.05h-9.57z"/>
<path fill="#fcb475" d="M323.91 72.7h9.57v1.05h-9.57zM371.48 127.2h9.57v3.05h-9.57z"/>
<path fill="#fffcbd" d="M342.94 72.7h9.57v1.05h-9.57zM314.39 75.7h9.57v1.05h-9.57zM323.91 99.7h9.57v2.05h-9.57zM190.7 113.2h9.57v1.05h-9.57zM200.21 114.2h9.57v2.05h-9.57zM114.58 121.7h9.57v1.05h-9.57zM152.64 121.7h9.57v1.05h-9.57zM200.21 121.7h9.57v1.05h-9.57zM124.09 122.7h9.57v2.05h-9.57zM209.73 124.7h9.57v1.55h-9.57zM276.33 133.7h9.57v1.55h-9.57zM257.3 136.2h9.57v2.05h-9.57zM352.45 257.7h9.57v1.05h-9.57zM333.42 343.7h9.57v2.05h-9.57zM295.36 412.2h9.57v1.05h-9.57zM304.88 423.2h9.57v1.05h-9.57zM371.48 424.2h9.57v2.05h-9.57z"/>
<path fill="#fffcba" d="M352.45 72.7h9.57v1.05h-9.57zM304.88 73.7h9.57v2.05h-9.57zM333.42 83.7h9.57v3.05h-9.57zM371.48 91.2h9.57v1.55h-9.57zM323.91 92.7h9.57v1.05h-9.57zM314.39 93.7h9.57v1.05h-9.57zM342.94 93.7h9.57v1.05h-9.57zM371.48 108.7h9.57v1.05h-9.57zM228.76 111.7h9.57v1.55h-9.57zM266.82 114.2h9.57v2.05h-9.57zM285.85 114.2h9.57v2.05h-9.57zM295.36 116.2h9.57v1.55h-9.57zM67 117.7h9.57v1.05h-9.57zM295.36 117.7h9.57v1.05h-9.57zM133.61 121.7h19.08v1.05h-19.08zM190.7 126.2h9.57v1.05h-9.57zM95.55 130.2h9.57v1.05h-9.57zM190.7 133.7h9.57v1.55h-9.57zM171.67 139.2h9.57v3.05h-9.57zM190.7 139.2h19.08v3.05h-19.08zM352.45 168.2h9.57v3.05h-9.57zM285.85 172.2h9.57v1.05h-9.57zM342.94 256.2h9.57v1.55h-9.57zM333.42 257.7h9.57v1.05h-9.57zM95.55 278.2h9.57v1.05h-9.57zM314.39 329.2h9.57v1.05h-9.57zM352.45 330.2h9.57v1.55h-9.57zM352.45 338.2h9.57v1.05h-9.57zM352.45 341.7h9.57v1.05h-9.57zM342.94 343.7h9.57v2.05h-9.57zM333.42 384.7h9.57v1.55h-9.57zM352.45 388.7h9.57v1.05h-9.57zM371.48 397.7h9.57v1.55h-9.57zM333.42 404.2h9.57v1.05h-9.57zM285.85 407.2h9.57v1.05h-9.57zM304.88 407.2h9.57v1.05h-9.57zM86.03 412.2h9.57v1.05h-9.57zM304.88 412.2h9.57v1.05h-9.57zM323.91 412.2h9.57v1.05h-9.57zM105.06 415.2h9.57v2.05h-9.57zM152.64 415.2h9.57v2.05h-9.57zM181.18 421.2h9.57v2.05h-9.57zM361.97 424.2h9.57v2.05h-9.57zM105.06 426.2h19.08v3.05h-19.08zM295.36 429.2h9.57v1.05h-9.57zM105.06 430.2h9.57v1.45h-9.57zM152.64 430.2h9.57v1.45h-9.57zM285.85 430.2h9.57v1.45h-9.57z"/>
<path fill="#ffe499" d="M361.97 72.7h9.57v1.05h-9.57zM152.64 75.7h9.57v1.05h-9.57zM133.61 76.7h28.6v1.55h-28.6zM133.61 78.2h9.57v2.05h-9.57zM342.94 80.2h9.57v2.05h-9.57zM67 83.7h9.57v3.05h-9.57zM114.58 91.2h9.57v1.55h-9.57zM67 95.7h9.57v3.05h-9.57zM105.06 99.7h9.57v2.05h-9.57zM124.09 105.7h9.57v1.05h-9.57zM304.88 120.7h9.57v1.05h-9.57zM352.45 121.7h9.57v1.05h-9.57zM295.36 127.2h9.57v3.05h-9.57zM295.36 131.2h9.57v1.05h-9.57zM352.45 132.2h9.57v1.55h-9.57zM342.94 133.7h9.57v1.55h-9.57zM285.85 135.2h9.57v1.05h-9.57zM342.94 135.2h9.57v1.05h-9.57zM304.88 146.2h9.57v3.05h-9.57zM342.94 149.2h9.57v3.05h-9.57zM342.94 154.2h9.57v2.05h-9.57zM314.39 162.7h9.57v3.05h-9.57zM304.88 176.7h9.57v2.05h-9.57zM361.97 180.7h9.57v2.05h-9.57zM371.48 182.7h9.57v2.05h-9.57zM333.42 185.7h9.57v2.05h-9.57zM371.48 191.7h9.57v3.05h-9.57zM371.48 197.2h9.57v2.05h-9.57zM190.7 204.7h9.57v1.55h-9.57zM342.94 218.7h9.57v1.05h-9.57zM352.45 224.2h9.57v1.55h-9.57zM304.88 225.7h9.57v3.05h-9.57zM323.91 235.2h9.57v2.05h-9.57zM323.91 238.2h9.57v1.05h-9.57zM361.97 242.2h9.57v1.55h-9.57zM352.45 248.7h9.57v1.05h-9.57zM342.94 249.7h9.57v2.05h-9.57zM333.42 251.7h9.57v1.55h-9.57zM304.88 259.7h9.57v1.05h-9.57zM371.48 261.7h9.57v1.05h-9.57zM285.85 262.7h9.57v1.05h-9.57zM171.67 263.7h9.57v2.05h-9.57zM304.88 280.7h9.57v2.05h-9.57zM333.42 287.7h9.57v1.05h-9.57zM361.97 287.7h9.57v1.05h-9.57zM314.39 288.7h9.57v1.05h-9.57zM333.42 291.7h9.57v3.05h-9.57zM162.15 310.2h9.57v3.05h-9.57zM190.7 310.2h9.57v3.05h-9.57zM190.7 316.2h9.57v2.05h-9.57zM200.21 318.2h19.08v3.05h-19.08zM257.3 323.2h19.08v1.55h-19.08zM323.91 330.2h9.57v1.55h-9.57zM190.7 333.7h9.57v1.55h-9.57zM323.91 342.7h9.57v1.05h-9.57zM200.21 345.7h9.57v1.05h-9.57zM276.33 345.7h9.57v1.05h-9.57zM371.48 347.7h9.57v1.05h-9.57zM257.3 348.7h9.57v2.05h-9.57zM162.15 354.7h9.57v1.05h-9.57zM238.27 357.7h9.57v1.05h-9.57zM266.82 357.7h9.57v1.05h-9.57zM314.39 365.7h9.57v1.55h-9.57zM190.7 368.2h9.57v2.05h-9.57zM190.7 370.2h9.57v1.05h-9.57zM209.73 370.2h9.57v1.05h-9.57zM171.67 372.2h9.57v2.05h-9.57zM304.88 374.2h9.57v1.05h-9.57zM285.85 375.2h19.08v1.55h-19.08zM171.67 376.7h9.57v1.05h-9.57zM323.91 376.7h9.57v1.05h-9.57zM200.21 378.7h9.57v3.05h-9.57zM247.79 378.7h9.57v3.05h-9.57zM257.3 383.2h9.57v1.55h-9.57zM209.73 387.7h9.57v1.05h-9.57zM200.21 390.7h9.57v1.05h-9.57zM257.3 390.7h9.57v1.05h-9.57zM209.73 393.7h9.57v1.05h-9.57zM200.21 399.2h9.57v3.05h-9.57zM276.33 402.2h9.57v2.05h-9.57zM257.3 407.2h9.57v1.05h-9.57zM162.15 408.2h9.57v1.05h-9.57zM162.15 411.2h9.57v1.05h-9.57z"/>
<path fill="#ffe799" d="M371.48 72.7h9.57v1.05h-9.57zM162.15 73.7h9.57v2.05h-9.57zM76.52 75.7h9.57v1.05h-9.57zM114.58 75.7h9.57v1.05h-9.57zM114.58 76.7h9.57v1.55h-9.57zM342.94 76.7h9.57v1.55h-9.57zM114.58 78.2h9.57v2.05h-9.57zM152.64 78.2h9.57v2.05h-9.57zM67 80.2h19.08v2.05h-19.08zM124.09 80.2h9.57v2.05h-9.57zM76.52 82.2h9.57v1.55h-9.57zM105.06 91.2h9.57v1.55h-9.57zM105.06 95.7h9.57v3.05h-9.57zM114.58 99.7h9.57v2.05h-9.57zM105.06 101.7h19.08v3.05h-19.08zM124.09 104.7h19.08v1.05h-19.08zM67 108.7h9.57v1.05h-9.57zM114.58 108.7h9.57v1.05h-9.57zM133.61 108.7h9.57v1.05h-9.57zM143.12 109.7h9.57v2.05h-9.57zM105.06 116.2h9.57v1.55h-9.57zM295.36 118.7h9.57v2.05h-9.57zM285.85 120.7h19.08v1.05h-19.08zM361.97 120.7h9.57v1.05h-9.57zM352.45 127.2h9.57v3.05h-9.57zM333.42 130.2h9.57v1.05h-9.57zM352.45 133.7h9.57v1.55h-9.57zM333.42 135.2h9.57v1.05h-9.57zM285.85 136.2h9.57v2.05h-9.57zM352.45 138.2h9.57v1.05h-9.57zM295.36 139.2h19.08v3.05h-19.08zM342.94 142.2h9.57v2.05h-9.57zM342.94 144.2h19.08v2.05h-19.08zM333.42 149.2h9.57v3.05h-9.57zM352.45 149.2h9.57v3.05h-9.57zM371.48 154.2h9.57v2.05h-9.57zM314.39 156.2h19.08v1.05h-19.08zM371.48 156.2h9.57v1.05h-9.57zM314.39 157.2h9.57v2.05h-9.57zM304.88 162.7h9.57v3.05h-9.57zM304.88 167.2h9.57v1.05h-9.57zM162.15 168.2h9.57v3.05h-9.57zM295.36 174.7h9.57v2.05h-9.57zM361.97 176.7h9.57v2.05h-9.57zM162.15 180.7h9.57v2.05h-9.57zM295.36 180.7h9.57v2.05h-9.57zM371.48 180.7h9.57v2.05h-9.57zM352.45 185.7h28.6v2.05h-28.6zM333.42 189.7h19.08v2.05h-19.08zM295.36 191.7h19.08v3.05h-19.08zM342.94 194.7h9.57v1.55h-9.57zM190.7 196.2h9.57v1.05h-9.57zM333.42 196.2h19.08v1.05h-19.08zM361.97 196.2h9.57v1.05h-9.57zM295.36 199.2h9.57v1.55h-9.57zM295.36 200.7h19.08v2.05h-19.08zM333.42 200.7h19.08v2.05h-19.08zM295.36 203.7h19.08v1.05h-19.08zM371.48 204.7h9.57v1.55h-9.57zM295.36 210.2h9.57v1.05h-9.57zM304.88 211.2h9.57v1.55h-9.57zM323.91 212.7h9.57v1.05h-9.57zM295.36 214.7h9.57v3.05h-9.57zM342.94 214.7h9.57v3.05h-9.57zM333.42 218.7h9.57v1.05h-9.57zM190.7 221.7h9.57v1.05h-9.57zM285.85 221.7h9.57v1.05h-9.57zM295.36 222.7h9.57v1.55h-9.57zM333.42 224.2h9.57v1.55h-9.57zM323.91 228.7h9.57v1.55h-9.57zM352.45 228.7h9.57v1.55h-9.57zM314.39 232.2h9.57v1.55h-9.57zM371.48 232.2h9.57v1.55h-9.57zM295.36 233.7h19.08v1.55h-19.08zM333.42 237.2h9.57v1.05h-9.57zM190.7 239.2h9.57v3.05h-9.57zM285.85 239.2h9.57v3.05h-9.57zM314.39 239.2h19.08v3.05h-19.08zM371.48 239.2h9.57v3.05h-9.57zM304.88 242.2h9.57v1.55h-9.57zM342.94 246.7h9.57v2.05h-9.57zM295.36 248.7h9.57v1.05h-9.57zM314.39 254.2h9.57v2.05h-9.57zM314.39 256.2h9.57v1.55h-9.57zM285.85 259.7h9.57v1.05h-9.57zM361.97 262.7h9.57v1.05h-9.57zM181.18 263.7h9.57v2.05h-9.57zM314.39 263.7h9.57v2.05h-9.57zM295.36 266.7h19.08v1.05h-19.08zM323.91 267.7h9.57v1.55h-9.57zM371.48 269.2h9.57v3.05h-9.57zM333.42 275.2h19.08v1.05h-19.08zM285.85 277.2h9.57v1.05h-9.57zM314.39 278.2h9.57v1.05h-9.57zM352.45 278.2h9.57v1.05h-9.57zM333.42 283.7h19.08v2.05h-19.08zM304.88 285.7h9.57v2.05h-9.57zM323.91 287.7h9.57v1.05h-9.57zM304.88 288.7h9.57v1.05h-9.57zM323.91 288.7h9.57v1.05h-9.57zM304.88 291.7h9.57v3.05h-9.57zM352.45 291.7h9.57v3.05h-9.57zM333.42 294.7h19.08v2.05h-19.08zM304.88 298.7h9.57v2.05h-9.57zM361.97 298.7h9.57v2.05h-9.57zM333.42 302.7h9.57v2.05h-9.57zM285.85 305.7h9.57v1.55h-9.57zM333.42 305.7h19.08v1.55h-19.08zM314.39 307.2h9.57v3.05h-9.57zM209.73 310.2h9.57v3.05h-9.57zM276.33 310.2h9.57v3.05h-9.57zM361.97 310.2h19.08v3.05h-19.08zM190.7 318.2h9.57v3.05h-9.57zM266.82 318.2h9.57v3.05h-9.57zM162.15 321.2h19.08v2.05h-19.08zM190.7 321.2h9.57v2.05h-9.57zM209.73 323.2h9.57v1.55h-9.57zM371.48 323.2h9.57v1.55h-9.57zM257.3 326.2h9.57v1.55h-9.57zM171.67 327.7h9.57v1.55h-9.57zM190.7 329.2h9.57v1.05h-9.57zM171.67 331.7h9.57v2.05h-9.57zM200.21 333.7h9.57v1.55h-9.57zM295.36 333.7h9.57v1.55h-9.57zM323.91 333.7h9.57v1.55h-9.57zM200.21 335.2h19.08v1.05h-19.08zM247.79 335.2h19.08v1.05h-19.08zM276.33 335.2h9.57v1.05h-9.57zM323.91 335.2h9.57v1.05h-9.57zM171.67 336.2h9.57v1.05h-9.57zM200.21 336.2h19.08v1.05h-19.08zM276.33 336.2h9.57v1.05h-9.57zM247.79 337.2h19.08v1.05h-19.08zM333.42 337.2h9.57v1.05h-9.57zM361.97 337.2h9.57v1.05h-9.57zM162.15 338.2h19.08v1.05h-19.08zM190.7 338.2h9.57v1.05h-9.57zM257.3 339.2h9.57v1.55h-9.57zM295.36 340.7h9.57v1.05h-9.57zM200.21 341.7h9.57v1.05h-9.57zM266.82 341.7h19.08v1.05h-19.08zM304.88 341.7h9.57v1.05h-9.57zM209.73 342.7h9.57v1.05h-9.57zM257.3 345.7h9.57v1.05h-9.57zM285.85 345.7h28.6v1.05h-28.6zM323.91 345.7h9.57v1.05h-9.57zM238.27 346.7h9.57v1.05h-9.57zM257.3 346.7h9.57v1.05h-9.57zM276.33 346.7h9.57v1.05h-9.57zM200.21 347.7h19.08v1.05h-19.08zM295.36 347.7h9.57v1.05h-9.57zM200.21 348.7h19.08v2.05h-19.08zM266.82 348.7h19.08v2.05h-19.08zM361.97 348.7h19.08v2.05h-19.08zM162.15 351.7h9.57v2.05h-9.57zM209.73 351.7h9.57v2.05h-9.57zM171.67 353.7h9.57v1.05h-9.57zM190.7 353.7h9.57v1.05h-9.57zM342.94 353.7h9.57v1.05h-9.57zM190.7 355.7h9.57v2.05h-9.57zM295.36 355.7h9.57v2.05h-9.57zM200.21 357.7h9.57v1.05h-9.57zM276.33 357.7h9.57v1.05h-9.57zM276.33 359.7h9.57v3.05h-9.57zM295.36 359.7h9.57v3.05h-9.57zM190.7 362.7h9.57v1.05h-9.57zM171.67 363.7h9.57v2.05h-9.57zM209.73 363.7h9.57v2.05h-9.57zM257.3 363.7h9.57v2.05h-9.57zM162.15 365.7h19.08v1.55h-19.08zM190.7 365.7h9.57v1.55h-9.57zM257.3 365.7h9.57v1.55h-9.57zM371.48 365.7h9.57v1.55h-9.57zM209.73 367.2h9.57v1.05h-9.57zM257.3 367.2h19.08v1.05h-19.08zM295.36 367.2h19.08v1.05h-19.08zM171.67 368.2h9.57v2.05h-9.57zM257.3 368.2h9.57v2.05h-9.57zM162.15 370.2h9.57v1.05h-9.57zM162.15 372.2h9.57v2.05h-9.57zM190.7 372.2h9.57v2.05h-9.57zM200.21 374.2h19.08v1.05h-19.08zM257.3 374.2h9.57v1.05h-9.57zM276.33 374.2h9.57v1.05h-9.57zM371.48 375.2h9.57v1.55h-9.57zM276.33 376.7h9.57v1.05h-9.57zM200.21 377.7h19.08v1.05h-19.08zM247.79 377.7h9.57v1.05h-9.57zM266.82 377.7h19.08v1.05h-19.08zM304.88 377.7h9.57v1.05h-9.57zM238.27 378.7h9.57v3.05h-9.57zM266.82 378.7h19.08v3.05h-19.08zM276.33 381.7h9.57v1.55h-9.57zM162.15 383.2h19.08v1.55h-19.08zM238.27 383.2h19.08v1.55h-19.08zM200.21 384.7h19.08v1.55h-19.08zM361.97 384.7h9.57v1.55h-9.57zM371.48 387.7h9.57v1.05h-9.57zM314.39 388.7h9.57v1.05h-9.57zM247.79 390.7h9.57v1.05h-9.57zM266.82 390.7h9.57v1.05h-9.57zM190.7 391.7h9.57v2.05h-9.57zM371.48 391.7h9.57v2.05h-9.57zM190.7 393.7h9.57v1.05h-9.57zM314.39 394.7h9.57v2.05h-9.57zM171.67 396.7h9.57v1.05h-9.57zM190.7 396.7h9.57v1.05h-9.57zM209.73 396.7h9.57v1.05h-9.57zM257.3 396.7h9.57v1.05h-9.57zM276.33 396.7h9.57v1.05h-9.57zM162.15 397.7h19.08v1.55h-19.08zM209.73 399.2h9.57v3.05h-9.57zM247.79 399.2h28.6v3.05h-28.6zM171.67 402.2h9.57v2.05h-9.57zM190.7 402.2h9.57v2.05h-9.57zM200.21 405.2h9.57v2.05h-9.57zM209.73 407.2h9.57v1.05h-9.57zM266.82 407.2h9.57v1.05h-9.57zM209.73 408.2h9.57v1.05h-9.57zM276.33 408.2h9.57v1.05h-9.57zM257.3 409.2h9.57v2.05h-9.57zM190.7 411.2h9.57v1.05h-9.57zM162.15 412.2h19.08v1.05h-19.08zM95.55 417.2h9.57v1.05h-9.57zM95.55 421.2h9.57v2.05h-9.57z"/>
<path fill="#fcc07b" d="M67 73.7h9.57v2.05h-9.57zM76.52 91.2h9.57v1.55h-9.57zM76.52 93.7h9.57v1.05h-9.57zM152.64 113.2h9.57v1.05h-9.57zM95.55 120.7h9.57v1.05h-9.57zM371.48 131.2h9.57v1.05h-9.57zM304.88 258.7h9.57v1.05h-9.57zM323.91 261.7h9.57v1.05h-9.57zM352.45 429.2h9.57v1.05h-9.57z"/>
<path fill="#fcae6f" d="M76.52 73.7h9.57v2.05h-9.57zM323.91 73.7h9.57v2.05h-9.57zM86.03 83.7h9.57v3.05h-9.57zM86.03 86.7h9.57v1.05h-9.57zM323.91 296.7h9.57v2.05h-9.57zM314.39 298.7h9.57v2.05h-9.57z"/>
<path fill="#ffd587" d="M95.55 73.7h9.57v2.05h-9.57zM152.64 101.7h9.57v3.05h-9.57zM152.64 114.2h9.57v2.05h-9.57zM323.91 178.7h9.57v1.05h-9.57zM314.39 189.7h9.57v2.05h-9.57zM323.91 248.7h9.57v1.05h-9.57zM323.91 251.7h9.57v1.55h-9.57zM295.36 260.7h9.57v1.05h-9.57zM314.39 305.7h9.57v1.55h-9.57zM295.36 372.2h9.57v2.05h-9.57zM86.03 424.2h9.57v2.05h-9.57zM371.48 426.2h9.57v3.05h-9.57z"/>
<path fill="#f6fccc" d="M209.73 73.7h9.57v2.05h-9.57zM361.97 76.7h9.57v1.55h-9.57zM295.36 98.7h9.57v1.05h-9.57zM371.48 98.7h9.57v1.05h-9.57zM238.27 108.7h9.57v1.05h-9.57zM295.36 108.7h9.57v1.05h-9.57zM266.82 109.7h9.57v2.05h-9.57zM181.18 116.2h9.57v1.55h-9.57zM162.15 121.7h19.08v1.05h-19.08zM228.76 122.7h9.57v2.05h-9.57zM228.76 127.2h9.57v3.05h-9.57zM228.76 132.2h9.57v1.55h-9.57zM266.82 132.2h9.57v1.55h-9.57zM247.79 135.2h9.57v1.05h-9.57zM333.42 342.7h9.57v1.05h-9.57zM133.61 421.2h9.57v2.05h-9.57z"/>
<path fill="#d8edf6" d="M228.76 73.7h9.57v2.05h-9.57zM228.76 76.7h9.57v1.55h-9.57zM76.52 142.2h9.57v2.05h-9.57zM114.58 142.2h9.57v2.05h-9.57zM133.61 142.2h9.57v2.05h-9.57zM152.64 142.2h9.57v2.05h-9.57zM67 144.2h9.57v2.05h-9.57zM143.12 144.2h9.57v2.05h-9.57zM67 146.2h9.57v3.05h-9.57zM133.61 146.2h9.57v3.05h-9.57zM86.03 149.2h9.57v3.05h-9.57zM152.64 152.2h9.57v1.05h-9.57zM124.09 153.2h9.57v1.05h-9.57zM86.03 154.2h19.08v2.05h-19.08zM76.52 157.2h19.08v2.05h-19.08zM124.09 157.2h9.57v2.05h-9.57zM76.52 159.2h9.57v1.55h-9.57zM95.55 159.2h19.08v1.55h-19.08zM133.61 160.7h9.57v2.05h-9.57zM152.64 160.7h9.57v2.05h-9.57zM86.03 171.2h9.57v1.05h-9.57zM143.12 171.2h9.57v1.05h-9.57zM143.12 172.2h9.57v1.05h-9.57zM86.03 173.2h9.57v1.55h-9.57zM124.09 173.2h9.57v1.55h-9.57zM143.12 173.2h9.57v1.55h-9.57zM133.61 176.7h19.08v2.05h-19.08zM86.03 179.7h9.57v1.05h-9.57zM152.64 179.7h9.57v1.05h-9.57zM133.61 180.7h9.57v2.05h-9.57zM95.55 182.7h9.57v2.05h-9.57zM133.61 182.7h9.57v2.05h-9.57zM95.55 184.7h9.57v1.05h-9.57zM105.06 187.7h19.08v2.05h-19.08zM95.55 189.7h9.57v2.05h-9.57zM143.12 189.7h9.57v2.05h-9.57zM86.03 191.7h9.57v3.05h-9.57zM133.61 191.7h9.57v3.05h-9.57zM114.58 194.7h9.57v1.55h-9.57zM67 197.2h9.57v2.05h-9.57zM105.06 199.2h9.57v1.55h-9.57zM143.12 200.7h9.57v2.05h-9.57zM95.55 202.7h9.57v1.05h-9.57zM95.55 204.7h9.57v1.55h-9.57zM95.55 206.2h9.57v1.05h-9.57zM124.09 206.2h19.08v1.05h-19.08zM67 207.2h9.57v1.05h-9.57zM86.03 207.2h9.57v1.05h-9.57zM86.03 208.2h19.08v2.05h-19.08zM143.12 208.2h9.57v2.05h-9.57zM76.52 210.2h9.57v1.05h-9.57zM86.03 211.2h9.57v1.55h-9.57zM152.64 214.7h9.57v3.05h-9.57zM67 218.7h9.57v1.05h-9.57zM67 219.7h9.57v2.05h-9.57zM86.03 219.7h9.57v2.05h-9.57zM124.09 219.7h19.08v2.05h-19.08zM143.12 221.7h9.57v1.05h-9.57zM105.06 224.2h9.57v1.55h-9.57zM76.52 228.7h9.57v1.55h-9.57zM95.55 233.7h9.57v1.55h-9.57zM124.09 233.7h9.57v1.55h-9.57zM143.12 233.7h9.57v1.55h-9.57zM143.12 235.2h9.57v2.05h-9.57zM67 238.2h9.57v1.05h-9.57zM133.61 238.2h9.57v1.05h-9.57zM95.55 242.2h9.57v1.55h-9.57zM76.52 243.7h9.57v3.05h-9.57zM124.09 243.7h9.57v3.05h-9.57zM114.58 246.7h9.57v2.05h-9.57zM152.64 246.7h9.57v2.05h-9.57zM95.55 248.7h9.57v1.05h-9.57zM152.64 249.7h9.57v2.05h-9.57zM105.06 251.7h9.57v1.55h-9.57zM124.09 253.2h9.57v1.05h-9.57zM95.55 257.7h9.57v1.05h-9.57zM124.09 258.7h9.57v1.05h-9.57zM143.12 259.7h9.57v1.05h-9.57zM95.55 260.7h9.57v1.05h-9.57zM124.09 260.7h9.57v1.05h-9.57zM143.12 261.7h9.57v1.05h-9.57zM124.09 262.7h9.57v1.05h-9.57zM86.03 263.7h9.57v2.05h-9.57zM124.09 263.7h9.57v2.05h-9.57zM95.55 267.7h9.57v1.55h-9.57zM124.09 269.2h28.6v3.05h-28.6zM143.12 276.2h9.57v1.05h-9.57zM105.06 277.2h9.57v1.05h-9.57zM152.64 277.2h9.57v1.05h-9.57zM124.09 278.2h9.57v1.05h-9.57zM105.06 280.7h9.57v2.05h-9.57zM152.64 280.7h9.57v2.05h-9.57zM105.06 282.7h9.57v1.05h-9.57zM133.61 282.7h19.08v1.05h-19.08zM143.12 285.7h9.57v2.05h-9.57zM124.09 287.7h9.57v1.05h-9.57zM124.09 288.7h9.57v1.05h-9.57zM124.09 291.7h9.57v3.05h-9.57zM143.12 291.7h9.57v3.05h-9.57zM143.12 294.7h9.57v2.05h-9.57zM114.58 298.7h9.57v2.05h-9.57zM67 302.7h9.57v2.05h-9.57zM143.12 302.7h9.57v2.05h-9.57zM152.64 304.7h9.57v1.05h-9.57zM114.58 310.2h9.57v3.05h-9.57zM95.55 313.2h9.57v3.05h-9.57zM124.09 313.2h19.08v3.05h-19.08zM133.61 316.2h9.57v2.05h-9.57zM133.61 321.2h9.57v2.05h-9.57zM152.64 321.2h9.57v2.05h-9.57zM95.55 323.2h9.57v1.55h-9.57zM124.09 323.2h9.57v1.55h-9.57zM143.12 324.7h9.57v1.55h-9.57zM105.06 326.2h19.08v1.55h-19.08zM76.52 327.7h28.6v1.55h-28.6zM114.58 327.7h9.57v1.55h-9.57zM133.61 327.7h9.57v1.55h-9.57zM152.64 327.7h9.57v1.55h-9.57zM86.03 329.2h19.08v1.05h-19.08zM124.09 329.2h9.57v1.05h-9.57zM86.03 333.7h9.57v1.55h-9.57zM133.61 333.7h9.57v1.55h-9.57zM67 335.2h9.57v1.05h-9.57zM143.12 337.2h19.08v1.05h-19.08zM95.55 340.7h9.57v1.05h-9.57zM114.58 340.7h19.08v1.05h-19.08zM143.12 340.7h19.08v1.05h-19.08zM67 341.7h9.57v1.05h-9.57zM124.09 341.7h9.57v1.05h-9.57zM152.64 341.7h9.57v1.05h-9.57zM114.58 343.7h9.57v2.05h-9.57zM133.61 343.7h9.57v2.05h-9.57zM133.61 346.7h9.57v1.05h-9.57zM152.64 350.7h9.57v1.05h-9.57zM76.52 351.7h9.57v2.05h-9.57zM114.58 353.7h9.57v1.05h-9.57zM114.58 354.7h9.57v1.05h-9.57zM133.61 354.7h9.57v1.05h-9.57zM124.09 359.7h9.57v3.05h-9.57zM133.61 363.7h9.57v2.05h-9.57zM152.64 363.7h9.57v2.05h-9.57zM124.09 365.7h9.57v1.55h-9.57zM86.03 367.2h19.08v1.05h-19.08zM143.12 367.2h19.08v1.05h-19.08zM143.12 368.2h9.57v2.05h-9.57zM143.12 370.2h9.57v1.05h-9.57zM95.55 371.2h9.57v1.05h-9.57zM105.06 372.2h9.57v2.05h-9.57zM133.61 374.2h9.57v1.05h-9.57zM86.03 376.7h9.57v1.05h-9.57zM124.09 376.7h9.57v1.05h-9.57zM124.09 381.7h9.57v1.55h-9.57zM143.12 381.7h9.57v1.55h-9.57zM124.09 383.2h9.57v1.55h-9.57zM133.61 386.2h9.57v1.55h-9.57zM76.52 387.7h9.57v1.05h-9.57zM143.12 388.7h9.57v1.05h-9.57zM67 394.7h9.57v2.05h-9.57zM86.03 396.7h9.57v1.05h-9.57zM67 399.2h9.57v3.05h-9.57zM133.61 399.2h9.57v3.05h-9.57zM86.03 404.2h19.08v1.05h-19.08zM124.09 407.2h9.57v1.05h-9.57zM143.12 408.2h19.08v1.05h-19.08zM105.06 409.2h9.57v2.05h-9.57z"/>
<path fill="#f6fcd2" d="M266.82 73.7h9.57v2.05h-9.57zM190.7 75.7h9.57v1.05h-9.57zM361.97 78.2h9.57v2.05h-9.57zM371.48 87.7h9.57v1.55h-9.57zM285.85 89.2h9.57v2.05h-9.57zM314.39 89.2h9.57v2.05h-9.57zM352.45 89.2h9.57v2.05h-9.57zM304.88 92.7h9.57v1.05h-9.57zM200.21 94.7h9.57v1.05h-9.57zM304.88 98.7h9.57v1.05h-9.57zM162.15 99.7h9.57v2.05h-9.57zM295.36 101.7h9.57v3.05h-9.57zM304.88 105.7h9.57v1.05h-9.57zM333.42 105.7h9.57v1.05h-9.57zM352.45 105.7h9.57v1.05h-9.57zM333.42 106.7h9.57v2.05h-9.57zM219.24 108.7h9.57v1.05h-9.57zM238.27 109.7h9.57v2.05h-9.57zM285.85 109.7h9.57v2.05h-9.57zM257.3 111.7h9.57v1.55h-9.57zM181.18 114.2h9.57v2.05h-9.57zM219.24 117.7h9.57v1.05h-9.57zM266.82 117.7h9.57v1.05h-9.57zM342.94 117.7h9.57v1.05h-9.57zM181.18 121.7h9.57v1.05h-9.57zM114.58 130.2h9.57v1.05h-9.57zM219.24 132.2h9.57v1.55h-9.57zM181.18 136.2h9.57v2.05h-9.57zM124.09 138.2h9.57v1.05h-9.57zM86.03 275.2h9.57v1.05h-9.57zM95.55 283.7h9.57v2.05h-9.57zM333.42 345.7h9.57v1.05h-9.57zM352.45 347.7h9.57v1.05h-9.57zM285.85 415.2h9.57v2.05h-9.57zM295.36 417.2h19.08v1.05h-19.08zM124.09 418.2h9.57v3.05h-9.57zM152.64 418.2h9.57v3.05h-9.57zM333.42 421.2h9.57v2.05h-9.57zM352.45 423.2h9.57v1.05h-9.57zM352.45 424.2h9.57v2.05h-9.57z"/>
<path fill="#fcffc3" d="M285.85 73.7h9.57v2.05h-9.57zM323.91 75.7h9.57v1.05h-9.57zM285.85 80.2h9.57v2.05h-9.57zM361.97 82.2h9.57v1.55h-9.57zM314.39 83.7h9.57v3.05h-9.57zM314.39 86.7h9.57v1.05h-9.57zM314.39 92.7h9.57v1.05h-9.57zM342.94 94.7h9.57v1.05h-9.57zM314.39 98.7h28.6v1.05h-28.6zM314.39 99.7h9.57v2.05h-9.57zM352.45 104.7h9.57v1.05h-9.57zM371.48 106.7h9.57v2.05h-9.57zM333.42 108.7h9.57v1.05h-9.57zM352.45 108.7h19.08v1.05h-19.08zM181.18 113.2h9.57v1.05h-9.57zM209.73 113.2h9.57v1.05h-9.57zM247.79 113.2h19.08v1.05h-19.08zM276.33 113.2h9.57v1.05h-9.57zM162.15 114.2h9.57v2.05h-9.57zM219.24 114.2h9.57v2.05h-9.57zM238.27 114.2h9.57v2.05h-9.57zM276.33 116.2h9.57v1.55h-9.57zM190.7 117.7h9.57v1.05h-9.57zM285.85 117.7h9.57v1.05h-9.57zM257.3 118.7h9.57v2.05h-9.57zM200.21 120.7h19.08v1.05h-19.08zM114.58 122.7h9.57v2.05h-9.57zM162.15 122.7h9.57v2.05h-9.57zM200.21 122.7h19.08v2.05h-19.08zM247.79 122.7h9.57v2.05h-9.57zM162.15 124.7h9.57v1.55h-9.57zM181.18 124.7h9.57v1.55h-9.57zM200.21 124.7h9.57v1.55h-9.57zM238.27 124.7h9.57v1.55h-9.57zM219.24 126.2h9.57v1.05h-9.57zM247.79 126.2h19.08v1.05h-19.08zM276.33 126.2h9.57v1.05h-9.57zM162.15 127.2h9.57v3.05h-9.57zM190.7 127.2h19.08v3.05h-19.08zM266.82 127.2h19.08v3.05h-19.08zM209.73 130.2h9.57v1.05h-9.57zM257.3 130.2h9.57v1.05h-9.57zM200.21 131.2h19.08v1.05h-19.08zM257.3 131.2h19.08v1.05h-19.08zM200.21 132.2h19.08v1.55h-19.08zM181.18 133.7h9.57v1.55h-9.57zM200.21 136.2h19.08v2.05h-19.08zM238.27 136.2h9.57v2.05h-9.57zM162.15 138.2h9.57v1.05h-9.57zM247.79 138.2h19.08v1.05h-19.08zM276.33 138.2h9.57v1.05h-9.57zM209.73 139.2h9.57v3.05h-9.57zM276.33 139.2h9.57v3.05h-9.57zM86.03 276.2h9.57v1.05h-9.57zM95.55 279.2h9.57v1.55h-9.57zM342.94 342.7h9.57v1.05h-9.57zM352.45 343.7h9.57v2.05h-9.57zM333.42 346.7h19.08v1.05h-19.08zM352.45 394.7h9.57v2.05h-9.57zM352.45 397.7h9.57v1.55h-9.57zM86.03 411.2h9.57v1.05h-9.57zM304.88 413.2h9.57v2.05h-9.57zM323.91 421.2h9.57v2.05h-9.57zM361.97 423.2h9.57v1.05h-9.57z"/>
<path fill="#fff6b4" d="M342.94 73.7h9.57v2.05h-9.57zM333.42 86.7h28.6v1.05h-28.6zM314.39 108.7h9.57v1.05h-9.57zM133.61 118.7h9.57v2.05h-9.57zM114.58 120.7h9.57v1.05h-9.57zM95.55 131.2h9.57v1.05h-9.57zM228.76 152.2h9.57v1.05h-9.57zM295.36 172.2h9.57v1.05h-9.57zM219.24 179.7h9.57v1.05h-9.57zM219.24 185.7h9.57v2.05h-9.57zM219.24 189.7h9.57v2.05h-9.57zM228.76 208.2h9.57v2.05h-9.57zM228.76 210.2h9.57v1.05h-9.57zM219.24 221.7h9.57v1.05h-9.57zM209.73 249.7h28.6v2.05h-28.6zM181.18 254.2h9.57v2.05h-9.57zM219.24 254.2h9.57v2.05h-9.57zM342.94 258.7h9.57v1.05h-9.57zM247.79 261.7h9.57v1.05h-9.57zM342.94 263.7h9.57v2.05h-9.57zM333.42 265.7h9.57v1.05h-9.57zM238.27 277.2h9.57v1.05h-9.57zM181.18 279.2h9.57v1.55h-9.57zM352.45 280.7h9.57v2.05h-9.57zM228.76 298.7h9.57v2.05h-9.57zM314.39 326.2h9.57v1.55h-9.57zM342.94 326.2h9.57v1.55h-9.57zM333.42 330.2h9.57v1.55h-9.57zM352.45 339.2h9.57v1.55h-9.57zM333.42 350.7h19.08v1.05h-19.08zM285.85 353.7h9.57v1.05h-9.57zM285.85 362.7h9.57v1.05h-9.57zM352.45 365.7h9.57v1.55h-9.57zM352.45 391.7h9.57v2.05h-9.57zM371.48 394.7h9.57v2.05h-9.57zM314.39 411.2h9.57v1.05h-9.57zM361.97 412.2h9.57v1.05h-9.57zM143.12 415.2h9.57v2.05h-9.57zM181.18 415.2h9.57v2.05h-9.57zM105.06 417.2h9.57v1.05h-9.57zM171.67 418.2h9.57v3.05h-9.57zM190.7 418.2h9.57v3.05h-9.57zM171.67 421.2h9.57v2.05h-9.57zM219.24 421.2h9.57v2.05h-9.57zM143.12 426.2h9.57v3.05h-9.57zM219.24 429.2h9.57v1.05h-9.57zM266.82 429.2h9.57v1.05h-9.57zM285.85 429.2h9.57v1.05h-9.57zM228.76 430.2h9.57v1.45h-9.57zM247.79 430.2h9.57v1.45h-9.57z"/>
<path fill="#fff9b4" d="M352.45 73.7h9.57v2.05h-9.57zM314.39 78.2h9.57v2.05h-9.57zM323.91 86.7h9.57v1.05h-9.57zM323.91 93.7h9.57v1.05h-9.57zM323.91 95.7h9.57v3.05h-9.57zM323.91 108.7h9.57v1.05h-9.57zM67 118.7h9.57v2.05h-9.57zM76.52 120.7h9.57v1.05h-9.57zM181.18 122.7h9.57v2.05h-9.57zM86.03 126.2h9.57v1.05h-9.57zM95.55 127.2h9.57v3.05h-9.57zM95.55 133.7h9.57v1.55h-9.57zM86.03 138.2h9.57v1.05h-9.57zM228.76 156.2h9.57v1.05h-9.57zM333.42 162.7h9.57v3.05h-9.57zM352.45 162.7h19.08v3.05h-19.08zM361.97 167.2h9.57v1.05h-9.57zM219.24 187.7h9.57v2.05h-9.57zM228.76 189.7h9.57v2.05h-9.57zM219.24 202.7h19.08v1.05h-19.08zM228.76 219.7h9.57v2.05h-9.57zM285.85 231.2h9.57v1.05h-9.57zM285.85 237.2h9.57v1.05h-9.57zM238.27 249.7h9.57v2.05h-9.57zM352.45 259.7h9.57v1.05h-9.57zM333.42 260.7h9.57v1.05h-9.57zM219.24 261.7h9.57v1.05h-9.57zM352.45 261.7h9.57v1.05h-9.57zM333.42 266.7h9.57v1.05h-9.57zM228.76 275.2h9.57v1.05h-9.57zM228.76 277.2h9.57v1.05h-9.57zM181.18 294.7h9.57v2.05h-9.57zM333.42 326.2h9.57v1.55h-9.57zM323.91 329.2h19.08v1.05h-19.08zM352.45 348.7h9.57v2.05h-9.57zM314.39 389.7h9.57v1.05h-9.57zM342.94 390.7h9.57v1.05h-9.57zM361.97 394.7h9.57v2.05h-9.57zM323.91 396.7h9.57v1.05h-9.57zM371.48 402.2h9.57v2.05h-9.57zM342.94 404.2h19.08v1.05h-19.08zM333.42 405.2h9.57v2.05h-9.57zM295.36 407.2h9.57v1.05h-9.57zM105.06 411.2h9.57v1.05h-9.57zM105.06 412.2h19.08v1.05h-19.08zM152.64 412.2h9.57v1.05h-9.57zM114.58 413.2h9.57v2.05h-9.57zM219.24 418.2h19.08v3.05h-19.08zM247.79 418.2h9.57v3.05h-9.57zM114.58 423.2h9.57v1.05h-9.57zM219.24 424.2h9.57v2.05h-9.57zM285.85 426.2h9.57v3.05h-9.57zM105.06 429.2h9.57v1.05h-9.57zM152.64 429.2h9.57v1.05h-9.57zM238.27 429.2h19.08v1.05h-19.08zM314.39 429.2h9.57v1.05h-9.57zM124.09 430.2h9.57v1.45h-9.57zM143.12 430.2h9.57v1.45h-9.57zM219.24 430.2h9.57v1.45h-9.57z"/>
<path fill="#ffe496" d="M361.97 73.7h19.08v2.05h-19.08zM124.09 75.7h9.57v1.05h-9.57zM143.12 75.7h9.57v1.05h-9.57zM67 76.7h9.57v1.55h-9.57zM124.09 76.7h9.57v1.55h-9.57zM86.03 78.2h9.57v2.05h-9.57zM124.09 78.2h9.57v2.05h-9.57zM143.12 78.2h9.57v2.05h-9.57zM333.42 80.2h9.57v2.05h-9.57zM114.58 87.7h9.57v1.55h-9.57zM133.61 89.2h9.57v2.05h-9.57zM133.61 91.2h9.57v1.55h-9.57zM105.06 93.7h9.57v1.05h-9.57zM124.09 94.7h9.57v1.05h-9.57zM114.58 95.7h28.6v3.05h-28.6zM124.09 98.7h19.08v1.05h-19.08zM67 99.7h19.08v2.05h-19.08zM133.61 99.7h9.57v2.05h-9.57zM124.09 101.7h19.08v3.05h-19.08zM133.61 105.7h9.57v1.05h-9.57zM67 106.7h9.57v2.05h-9.57zM124.09 108.7h9.57v1.05h-9.57zM124.09 116.2h19.08v1.55h-19.08zM304.88 118.7h9.57v2.05h-9.57zM285.85 121.7h9.57v1.05h-9.57zM295.36 122.7h9.57v2.05h-9.57zM352.45 122.7h9.57v2.05h-9.57zM304.88 124.7h9.57v1.55h-9.57zM333.42 126.2h9.57v1.05h-9.57zM361.97 126.2h9.57v1.05h-9.57zM333.42 127.2h19.08v3.05h-19.08zM342.94 130.2h9.57v1.05h-9.57zM285.85 131.2h9.57v1.05h-9.57zM304.88 131.2h9.57v1.05h-9.57zM342.94 132.2h9.57v1.55h-9.57zM304.88 133.7h9.57v1.55h-9.57zM314.39 139.2h9.57v3.05h-9.57zM295.36 146.2h9.57v3.05h-9.57zM323.91 146.2h9.57v3.05h-9.57zM314.39 152.2h9.57v1.05h-9.57zM285.85 153.2h9.57v1.05h-9.57zM333.42 154.2h9.57v2.05h-9.57zM304.88 156.2h9.57v1.05h-9.57zM342.94 157.2h9.57v2.05h-9.57zM361.97 157.2h19.08v2.05h-19.08zM285.85 165.7h9.57v1.55h-9.57zM295.36 167.2h9.57v1.05h-9.57zM285.85 168.2h19.08v3.05h-19.08zM314.39 168.2h9.57v3.05h-9.57zM323.91 171.2h9.57v1.05h-9.57zM361.97 174.7h19.08v2.05h-19.08zM361.97 182.7h9.57v2.05h-9.57zM361.97 194.7h19.08v1.55h-19.08zM304.88 196.2h9.57v1.05h-9.57zM361.97 197.2h9.57v2.05h-9.57zM314.39 199.2h9.57v1.55h-9.57zM342.94 199.2h9.57v1.55h-9.57zM371.48 199.2h9.57v1.55h-9.57zM352.45 202.7h9.57v1.05h-9.57zM323.91 204.7h9.57v1.55h-9.57zM304.88 210.2h9.57v1.05h-9.57zM323.91 210.2h9.57v1.05h-9.57zM285.85 211.2h9.57v1.55h-9.57zM361.97 213.7h9.57v1.05h-9.57zM314.39 214.7h9.57v3.05h-9.57zM352.45 214.7h9.57v3.05h-9.57zM295.36 217.7h9.57v1.05h-9.57zM295.36 221.7h9.57v1.05h-9.57zM314.39 224.2h9.57v1.55h-9.57zM342.94 224.2h9.57v1.55h-9.57zM285.85 225.7h9.57v3.05h-9.57zM333.42 228.7h9.57v1.55h-9.57zM371.48 230.2h9.57v1.05h-9.57zM314.39 231.2h9.57v1.05h-9.57zM295.36 232.2h9.57v1.55h-9.57zM314.39 237.2h9.57v1.05h-9.57zM323.91 242.2h9.57v1.55h-9.57zM371.48 256.2h9.57v1.55h-9.57zM304.88 257.7h9.57v1.05h-9.57zM361.97 261.7h9.57v1.05h-9.57zM162.15 263.7h9.57v2.05h-9.57zM190.7 263.7h9.57v2.05h-9.57zM304.88 265.7h9.57v1.05h-9.57zM371.48 265.7h9.57v1.05h-9.57zM333.42 269.2h19.08v3.05h-19.08zM295.36 276.2h19.08v1.05h-19.08zM333.42 276.2h19.08v1.05h-19.08zM361.97 276.2h9.57v1.05h-9.57zM295.36 277.2h19.08v1.05h-19.08zM342.94 278.2h9.57v1.05h-9.57zM361.97 278.2h19.08v1.05h-19.08zM304.88 279.2h9.57v1.55h-9.57zM285.85 280.7h19.08v2.05h-19.08zM333.42 282.7h19.08v1.05h-19.08zM304.88 283.7h9.57v2.05h-9.57zM304.88 287.7h9.57v1.05h-9.57zM323.91 289.7h9.57v2.05h-9.57zM342.94 291.7h9.57v3.05h-9.57zM361.97 294.7h9.57v2.05h-9.57zM333.42 296.7h19.08v2.05h-19.08zM371.48 298.7h9.57v2.05h-9.57zM352.45 302.7h9.57v2.05h-9.57zM323.91 304.7h9.57v1.05h-9.57zM190.7 307.2h9.57v3.05h-9.57zM323.91 313.2h9.57v3.05h-9.57zM314.39 318.2h9.57v3.05h-9.57zM209.73 321.2h9.57v2.05h-9.57zM276.33 323.2h9.57v1.55h-9.57zM162.15 326.2h9.57v1.55h-9.57zM371.48 326.2h9.57v1.55h-9.57zM162.15 329.2h9.57v1.05h-9.57zM162.15 331.7h9.57v2.05h-9.57zM190.7 331.7h9.57v2.05h-9.57zM304.88 331.7h28.6v2.05h-28.6zM200.21 337.2h19.08v1.05h-19.08zM304.88 337.2h9.57v1.05h-9.57zM209.73 339.2h9.57v1.55h-9.57zM276.33 339.2h9.57v1.55h-9.57zM162.15 340.7h9.57v1.05h-9.57zM209.73 341.7h9.57v1.05h-9.57zM162.15 342.7h19.08v1.05h-19.08zM285.85 343.7h9.57v2.05h-9.57zM361.97 343.7h9.57v2.05h-9.57zM209.73 345.7h9.57v1.05h-9.57zM209.73 346.7h9.57v1.05h-9.57zM323.91 346.7h9.57v1.05h-9.57zM285.85 351.7h9.57v2.05h-9.57zM314.39 354.7h9.57v1.05h-9.57zM371.48 355.7h9.57v2.05h-9.57zM162.15 357.7h19.08v1.05h-19.08zM190.7 357.7h9.57v1.05h-9.57zM247.79 357.7h9.57v1.05h-9.57zM200.21 358.7h9.57v1.05h-9.57zM304.88 359.7h9.57v3.05h-9.57zM323.91 365.7h9.57v1.55h-9.57zM323.91 368.2h9.57v2.05h-9.57zM371.48 368.2h9.57v2.05h-9.57zM304.88 370.2h9.57v1.05h-9.57zM285.85 374.2h9.57v1.05h-9.57zM304.88 375.2h19.08v1.55h-19.08zM162.15 376.7h9.57v1.05h-9.57zM257.3 377.7h9.57v1.05h-9.57zM209.73 378.7h9.57v3.05h-9.57zM323.91 378.7h9.57v3.05h-9.57zM295.36 381.7h9.57v1.55h-9.57zM190.7 383.2h28.6v1.55h-28.6zM266.82 383.2h9.57v1.55h-9.57zM323.91 383.2h9.57v1.55h-9.57zM276.33 384.7h9.57v1.55h-9.57zM323.91 386.2h9.57v1.55h-9.57zM361.97 387.7h9.57v1.05h-9.57zM295.36 389.7h9.57v1.05h-9.57zM209.73 390.7h9.57v1.05h-9.57zM304.88 393.7h9.57v1.05h-9.57zM190.7 397.7h9.57v1.55h-9.57zM162.15 407.2h19.08v1.05h-19.08zM190.7 407.2h19.08v1.05h-19.08zM276.33 407.2h9.57v1.05h-9.57zM200.21 408.2h9.57v1.05h-9.57zM314.39 409.2h9.57v2.05h-9.57zM162.15 413.2h19.08v2.05h-19.08zM190.7 413.2h9.57v2.05h-9.57zM76.52 415.2h9.57v2.05h-9.57z"/>
<path fill="#ffe79c" d="M67 75.7h9.57v1.05h-9.57zM133.61 75.7h9.57v1.05h-9.57zM105.06 76.7h9.57v1.55h-9.57zM143.12 80.2h9.57v2.05h-9.57zM361.97 80.2h9.57v2.05h-9.57zM76.52 83.7h9.57v3.05h-9.57zM133.61 83.7h9.57v3.05h-9.57zM67 86.7h9.57v1.05h-9.57zM133.61 86.7h9.57v1.05h-9.57zM105.06 89.2h19.08v2.05h-19.08zM143.12 92.7h9.57v1.05h-9.57zM133.61 94.7h9.57v1.05h-9.57zM105.06 98.7h19.08v1.05h-19.08zM124.09 106.7h9.57v2.05h-9.57zM105.06 108.7h9.57v1.05h-9.57zM124.09 109.7h9.57v2.05h-9.57zM162.15 111.7h9.57v1.55h-9.57zM114.58 116.2h9.57v1.55h-9.57zM152.64 116.2h9.57v1.55h-9.57zM304.88 122.7h9.57v2.05h-9.57zM361.97 122.7h9.57v2.05h-9.57zM361.97 124.7h9.57v1.55h-9.57zM352.45 130.2h9.57v1.05h-9.57zM342.94 131.2h9.57v1.05h-9.57zM361.97 131.2h9.57v1.05h-9.57zM295.36 132.2h9.57v1.55h-9.57zM304.88 136.2h9.57v2.05h-9.57zM333.42 139.2h19.08v3.05h-19.08zM314.39 142.2h9.57v2.05h-9.57zM333.42 142.2h9.57v2.05h-9.57zM352.45 142.2h9.57v2.05h-9.57zM371.48 146.2h9.57v3.05h-9.57zM276.33 149.2h9.57v3.05h-9.57zM314.39 154.2h9.57v2.05h-9.57zM352.45 154.2h19.08v2.05h-19.08zM162.15 156.2h9.57v1.05h-9.57zM285.85 156.2h9.57v1.05h-9.57zM342.94 156.2h9.57v1.05h-9.57zM361.97 156.2h9.57v1.05h-9.57zM333.42 157.2h9.57v2.05h-9.57zM352.45 157.2h9.57v2.05h-9.57zM314.39 159.2h9.57v1.55h-9.57zM371.48 160.7h9.57v2.05h-9.57zM323.91 165.7h9.57v1.55h-9.57zM285.85 167.2h9.57v1.05h-9.57zM361.97 171.2h9.57v1.05h-9.57zM314.39 172.2h19.08v1.05h-19.08zM371.48 172.2h9.57v1.05h-9.57zM314.39 173.2h9.57v1.55h-9.57zM371.48 176.7h9.57v2.05h-9.57zM304.88 178.7h9.57v1.05h-9.57zM361.97 178.7h9.57v1.05h-9.57zM333.42 179.7h19.08v1.05h-19.08zM190.7 180.7h9.57v2.05h-9.57zM304.88 180.7h9.57v2.05h-9.57zM342.94 180.7h9.57v2.05h-9.57zM342.94 182.7h9.57v2.05h-9.57zM295.36 184.7h9.57v1.05h-9.57zM352.45 184.7h9.57v1.05h-9.57zM190.7 185.7h9.57v2.05h-9.57zM333.42 187.7h9.57v2.05h-9.57zM352.45 187.7h9.57v2.05h-9.57zM162.15 196.2h9.57v1.05h-9.57zM295.36 196.2h9.57v1.05h-9.57zM304.88 199.2h9.57v1.55h-9.57zM352.45 199.2h19.08v1.55h-19.08zM361.97 200.7h9.57v2.05h-9.57zM304.88 202.7h9.57v1.05h-9.57zM162.15 204.7h19.08v1.55h-19.08zM304.88 204.7h9.57v1.55h-9.57zM371.48 206.2h9.57v1.05h-9.57zM361.97 208.2h9.57v2.05h-9.57zM285.85 210.2h9.57v1.05h-9.57zM333.42 210.2h28.6v1.05h-28.6zM295.36 211.2h9.57v1.55h-9.57zM333.42 211.2h19.08v1.55h-19.08zM304.88 212.7h19.08v1.05h-19.08zM361.97 212.7h9.57v1.05h-9.57zM314.39 213.7h9.57v1.05h-9.57zM304.88 214.7h9.57v3.05h-9.57zM333.42 214.7h9.57v3.05h-9.57zM285.85 217.7h9.57v1.05h-9.57zM314.39 217.7h9.57v1.05h-9.57zM209.73 218.7h9.57v1.05h-9.57zM304.88 218.7h9.57v1.05h-9.57zM190.7 219.7h9.57v2.05h-9.57zM333.42 219.7h19.08v2.05h-19.08zM304.88 221.7h9.57v1.05h-9.57zM361.97 221.7h9.57v1.05h-9.57zM304.88 224.2h9.57v1.55h-9.57zM342.94 228.7h9.57v1.55h-9.57zM342.94 230.2h9.57v1.05h-9.57zM361.97 230.2h9.57v1.05h-9.57zM371.48 231.2h9.57v1.05h-9.57zM304.88 232.2h9.57v1.55h-9.57zM323.91 232.2h9.57v1.55h-9.57zM342.94 233.7h9.57v1.55h-9.57zM295.36 235.2h9.57v2.05h-9.57zM285.85 242.2h9.57v1.55h-9.57zM314.39 242.2h9.57v1.55h-9.57zM371.48 242.2h9.57v1.55h-9.57zM162.15 243.7h9.57v3.05h-9.57zM162.15 246.7h19.08v2.05h-19.08zM190.7 246.7h9.57v2.05h-9.57zM285.85 248.7h9.57v1.05h-9.57zM342.94 248.7h9.57v1.05h-9.57zM162.15 249.7h19.08v2.05h-19.08zM190.7 249.7h9.57v2.05h-9.57zM171.67 251.7h9.57v1.55h-9.57zM285.85 251.7h9.57v1.55h-9.57zM314.39 251.7h9.57v1.55h-9.57zM342.94 251.7h9.57v1.55h-9.57zM304.88 256.2h9.57v1.55h-9.57zM361.97 256.2h9.57v1.55h-9.57zM190.7 257.7h9.57v1.05h-9.57zM361.97 258.7h19.08v1.05h-19.08zM304.88 267.7h9.57v1.55h-9.57zM314.39 269.2h9.57v3.05h-9.57zM361.97 269.2h9.57v3.05h-9.57zM209.73 272.2h9.57v2.05h-9.57zM257.3 272.2h19.08v2.05h-19.08zM371.48 272.2h9.57v2.05h-9.57zM295.36 275.2h9.57v1.05h-9.57zM352.45 275.2h9.57v1.05h-9.57zM285.85 276.2h9.57v1.05h-9.57zM352.45 276.2h9.57v1.05h-9.57zM295.36 278.2h9.57v1.05h-9.57zM295.36 279.2h9.57v1.55h-9.57zM190.7 280.7h9.57v2.05h-9.57zM352.45 282.7h9.57v1.05h-9.57zM162.15 283.7h9.57v2.05h-9.57zM190.7 285.7h9.57v2.05h-9.57zM342.94 285.7h19.08v2.05h-19.08zM314.39 287.7h9.57v1.05h-9.57zM352.45 287.7h9.57v1.05h-9.57zM285.85 288.7h19.08v1.05h-19.08zM342.94 289.7h9.57v2.05h-9.57zM361.97 289.7h9.57v2.05h-9.57zM295.36 294.7h9.57v2.05h-9.57zM162.15 296.7h9.57v2.05h-9.57zM190.7 296.7h9.57v2.05h-9.57zM352.45 296.7h9.57v2.05h-9.57zM162.15 298.7h19.08v2.05h-19.08zM190.7 298.7h9.57v2.05h-9.57zM352.45 298.7h9.57v2.05h-9.57zM333.42 300.7h9.57v2.05h-9.57zM285.85 304.7h9.57v1.05h-9.57zM352.45 305.7h9.57v1.55h-9.57zM162.15 307.2h19.08v3.05h-19.08zM371.48 307.2h9.57v3.05h-9.57zM200.21 310.2h9.57v3.05h-9.57zM247.79 310.2h9.57v3.05h-9.57zM276.33 313.2h9.57v3.05h-9.57zM333.42 313.2h9.57v3.05h-9.57zM171.67 316.2h9.57v2.05h-9.57zM209.73 316.2h9.57v2.05h-9.57zM276.33 316.2h9.57v2.05h-9.57zM304.88 316.2h9.57v2.05h-9.57zM342.94 316.2h9.57v2.05h-9.57zM162.15 318.2h9.57v3.05h-9.57zM238.27 318.2h19.08v3.05h-19.08zM295.36 318.2h9.57v3.05h-9.57zM200.21 321.2h9.57v2.05h-9.57zM228.76 321.2h9.57v2.05h-9.57zM247.79 321.2h19.08v2.05h-19.08zM276.33 321.2h9.57v2.05h-9.57zM361.97 321.2h9.57v2.05h-9.57zM200.21 323.2h9.57v1.55h-9.57zM238.27 323.2h19.08v1.55h-19.08zM285.85 323.2h9.57v1.55h-9.57zM190.7 324.7h9.57v1.55h-9.57zM209.73 324.7h9.57v1.55h-9.57zM171.67 326.2h9.57v1.55h-9.57zM190.7 326.2h28.6v1.55h-28.6zM266.82 326.2h19.08v1.55h-19.08zM361.97 326.2h9.57v1.55h-9.57zM295.36 327.7h9.57v1.55h-9.57zM371.48 327.7h9.57v1.55h-9.57zM171.67 329.2h9.57v1.05h-9.57zM200.21 329.2h19.08v1.05h-19.08zM257.3 329.2h9.57v1.05h-9.57zM276.33 329.2h9.57v1.05h-9.57zM304.88 329.2h9.57v1.05h-9.57zM295.36 330.2h9.57v1.55h-9.57zM285.85 331.7h19.08v2.05h-19.08zM162.15 333.7h9.57v1.55h-9.57zM209.73 333.7h9.57v1.55h-9.57zM266.82 333.7h19.08v1.55h-19.08zM361.97 333.7h9.57v1.55h-9.57zM228.76 335.2h19.08v1.05h-19.08zM295.36 335.2h9.57v1.05h-9.57zM314.39 336.2h9.57v1.05h-9.57zM190.7 337.2h9.57v1.05h-9.57zM219.24 337.2h19.08v1.05h-19.08zM295.36 337.2h9.57v1.05h-9.57zM342.94 337.2h9.57v1.05h-9.57zM285.85 338.2h19.08v1.05h-19.08zM190.7 339.2h9.57v1.55h-9.57zM238.27 339.2h19.08v1.55h-19.08zM304.88 339.2h9.57v1.55h-9.57zM323.91 339.2h9.57v1.55h-9.57zM209.73 340.7h9.57v1.05h-9.57zM304.88 340.7h9.57v1.05h-9.57zM247.79 341.7h9.57v1.05h-9.57zM295.36 341.7h9.57v1.05h-9.57zM314.39 341.7h9.57v1.05h-9.57zM181.18 342.7h9.57v1.05h-9.57zM200.21 342.7h9.57v1.05h-9.57zM247.79 342.7h19.08v1.05h-19.08zM276.33 342.7h9.57v1.05h-9.57zM190.7 345.7h9.57v1.05h-9.57zM238.27 345.7h19.08v1.05h-19.08zM266.82 345.7h9.57v1.05h-9.57zM200.21 346.7h9.57v1.05h-9.57zM219.24 346.7h19.08v1.05h-19.08zM247.79 346.7h9.57v1.05h-9.57zM371.48 346.7h9.57v1.05h-9.57zM266.82 347.7h9.57v1.05h-9.57zM314.39 350.7h9.57v1.05h-9.57zM190.7 351.7h9.57v2.05h-9.57zM219.24 351.7h9.57v2.05h-9.57zM257.3 351.7h28.6v2.05h-28.6zM304.88 351.7h9.57v2.05h-9.57zM162.15 353.7h9.57v1.05h-9.57zM181.18 353.7h9.57v1.05h-9.57zM209.73 353.7h9.57v1.05h-9.57zM171.67 354.7h28.6v1.05h-28.6zM304.88 354.7h9.57v1.05h-9.57zM162.15 355.7h19.08v2.05h-19.08zM200.21 355.7h9.57v2.05h-9.57zM285.85 355.7h9.57v2.05h-9.57zM361.97 355.7h9.57v2.05h-9.57zM219.24 357.7h19.08v1.05h-19.08zM314.39 357.7h9.57v1.05h-9.57zM266.82 358.7h9.57v1.05h-9.57zM323.91 358.7h9.57v1.05h-9.57zM257.3 359.7h19.08v3.05h-19.08zM162.15 362.7h19.08v1.05h-19.08zM200.21 362.7h9.57v1.05h-9.57zM247.79 362.7h38.11v1.05h-38.11zM162.15 363.7h9.57v2.05h-9.57zM200.21 363.7h9.57v2.05h-9.57zM266.82 363.7h9.57v2.05h-9.57zM200.21 365.7h9.57v1.55h-9.57zM266.82 365.7h19.08v1.55h-19.08zM171.67 367.2h9.57v1.05h-9.57zM190.7 367.2h19.08v1.05h-19.08zM238.27 367.2h19.08v1.05h-19.08zM276.33 367.2h9.57v1.05h-9.57zM162.15 368.2h9.57v2.05h-9.57zM200.21 368.2h19.08v2.05h-19.08zM171.67 370.2h9.57v1.05h-9.57zM200.21 370.2h9.57v1.05h-9.57zM247.79 370.2h19.08v1.05h-19.08zM276.33 370.2h9.57v1.05h-9.57zM295.36 370.2h9.57v1.05h-9.57zM190.7 371.2h9.57v1.05h-9.57zM247.79 371.2h9.57v1.05h-9.57zM266.82 371.2h9.57v1.05h-9.57zM361.97 371.2h9.57v1.05h-9.57zM209.73 372.2h9.57v2.05h-9.57zM266.82 374.2h9.57v1.05h-9.57zM295.36 374.2h9.57v1.05h-9.57zM323.91 374.2h9.57v1.05h-9.57zM257.3 375.2h9.57v1.55h-9.57zM276.33 375.2h9.57v1.55h-9.57zM200.21 376.7h19.08v1.05h-19.08zM304.88 378.7h9.57v3.05h-9.57zM209.73 381.7h9.57v1.55h-9.57zM257.3 381.7h19.08v1.55h-19.08zM314.39 381.7h9.57v1.55h-9.57zM228.76 383.2h9.57v1.55h-9.57zM371.48 383.2h9.57v1.55h-9.57zM257.3 384.7h19.08v1.55h-19.08zM190.7 386.2h9.57v1.55h-9.57zM257.3 386.2h9.57v1.55h-9.57zM200.21 387.7h9.57v1.05h-9.57zM247.79 387.7h28.6v1.05h-28.6zM361.97 389.7h9.57v1.05h-9.57zM219.24 390.7h9.57v1.05h-9.57zM238.27 390.7h9.57v1.05h-9.57zM209.73 391.7h9.57v2.05h-9.57zM257.3 391.7h9.57v2.05h-9.57zM323.91 391.7h9.57v2.05h-9.57zM171.67 393.7h9.57v1.05h-9.57zM200.21 393.7h9.57v1.05h-9.57zM247.79 393.7h28.6v1.05h-28.6zM257.3 394.7h9.57v2.05h-9.57zM276.33 394.7h9.57v2.05h-9.57zM323.91 394.7h9.57v2.05h-9.57zM162.15 396.7h9.57v1.05h-9.57zM200.21 396.7h9.57v1.05h-9.57zM247.79 396.7h9.57v1.05h-9.57zM200.21 397.7h9.57v1.55h-9.57zM238.27 399.2h9.57v3.05h-9.57zM276.33 399.2h9.57v3.05h-9.57zM209.73 402.2h9.57v2.05h-9.57zM257.3 402.2h9.57v2.05h-9.57zM209.73 404.2h9.57v1.05h-9.57zM276.33 404.2h9.57v1.05h-9.57zM304.88 404.2h9.57v1.05h-9.57zM162.15 405.2h19.08v2.05h-19.08zM190.7 405.2h9.57v2.05h-9.57zM219.24 407.2h9.57v1.05h-9.57zM247.79 407.2h9.57v1.05h-9.57zM171.67 408.2h9.57v1.05h-9.57zM228.76 408.2h9.57v1.05h-9.57zM257.3 408.2h19.08v1.05h-19.08zM285.85 408.2h9.57v1.05h-9.57zM314.39 408.2h9.57v1.05h-9.57zM162.15 409.2h9.57v2.05h-9.57zM190.7 409.2h9.57v2.05h-9.57zM276.33 409.2h9.57v2.05h-9.57zM181.18 412.2h9.57v1.05h-9.57zM86.03 415.2h19.08v2.05h-19.08zM67 417.2h28.6v1.05h-28.6zM323.91 430.2h9.57v1.45h-9.57z"/>
<path fill="#ffdb8d" d="M86.03 75.7h9.57v1.05h-9.57zM95.55 80.2h9.57v2.05h-9.57zM152.64 86.7h9.57v1.05h-9.57zM86.03 89.2h9.57v2.05h-9.57zM152.64 91.2h9.57v1.55h-9.57zM133.61 92.7h9.57v1.05h-9.57zM86.03 94.7h9.57v1.05h-9.57zM152.64 98.7h9.57v1.05h-9.57zM295.36 130.2h9.57v1.05h-9.57zM342.94 138.2h9.57v1.05h-9.57zM314.39 153.2h9.57v1.05h-9.57zM323.91 154.2h9.57v2.05h-9.57zM285.85 157.2h9.57v2.05h-9.57zM323.91 157.2h9.57v2.05h-9.57zM323.91 159.2h9.57v1.55h-9.57zM295.36 165.7h9.57v1.55h-9.57zM314.39 178.7h9.57v1.05h-9.57zM285.85 185.7h9.57v2.05h-9.57zM314.39 191.7h9.57v3.05h-9.57zM323.91 194.7h9.57v1.55h-9.57zM314.39 211.2h9.57v1.55h-9.57zM323.91 218.7h9.57v1.05h-9.57zM304.88 260.7h19.08v1.05h-19.08zM371.48 276.2h9.57v1.05h-9.57zM323.91 278.2h9.57v1.05h-9.57zM323.91 291.7h9.57v3.05h-9.57zM295.36 305.7h9.57v1.55h-9.57zM314.39 337.2h9.57v1.05h-9.57zM295.36 354.7h9.57v1.05h-9.57zM323.91 354.7h9.57v1.05h-9.57zM323.91 371.2h9.57v1.05h-9.57zM304.88 386.2h9.57v1.55h-9.57zM295.36 388.7h9.57v1.05h-9.57zM323.91 388.7h9.57v1.05h-9.57zM323.91 390.7h9.57v1.05h-9.57zM86.03 421.2h9.57v2.05h-9.57zM361.97 426.2h9.57v3.05h-9.57zM352.45 430.2h9.57v1.45h-9.57z"/>
<path fill="#f0f9db" d="M181.18 75.7h9.57v1.05h-9.57zM171.67 76.7h9.57v1.55h-9.57zM238.27 76.7h19.08v1.55h-19.08zM162.15 78.2h9.57v2.05h-9.57zM219.24 78.2h9.57v2.05h-9.57zM247.79 78.2h9.57v2.05h-9.57zM276.33 78.2h19.08v2.05h-19.08zM162.15 80.2h9.57v2.05h-9.57zM190.7 80.2h9.57v2.05h-9.57zM209.73 80.2h9.57v2.05h-9.57zM276.33 80.2h9.57v2.05h-9.57zM200.21 82.2h9.57v1.55h-9.57zM257.3 82.2h9.57v1.55h-9.57zM276.33 82.2h9.57v1.55h-9.57zM181.18 83.7h9.57v3.05h-9.57zM238.27 83.7h19.08v3.05h-19.08zM266.82 83.7h9.57v3.05h-9.57zM285.85 83.7h19.08v3.05h-19.08zM209.73 86.7h9.57v1.05h-9.57zM228.76 86.7h9.57v1.05h-9.57zM171.67 87.7h9.57v1.55h-9.57zM171.67 89.2h9.57v2.05h-9.57zM200.21 89.2h9.57v2.05h-9.57zM238.27 89.2h9.57v2.05h-9.57zM276.33 89.2h9.57v2.05h-9.57zM323.91 89.2h9.57v2.05h-9.57zM162.15 91.2h9.57v1.55h-9.57zM200.21 91.2h9.57v1.55h-9.57zM162.15 92.7h9.57v1.05h-9.57zM200.21 92.7h19.08v1.05h-19.08zM257.3 92.7h9.57v1.05h-9.57zM285.85 92.7h9.57v1.05h-9.57zM171.67 93.7h9.57v1.05h-9.57zM190.7 93.7h9.57v1.05h-9.57zM257.3 93.7h9.57v1.05h-9.57zM276.33 93.7h9.57v1.05h-9.57zM295.36 93.7h9.57v1.05h-9.57zM171.67 94.7h9.57v1.05h-9.57zM228.76 94.7h9.57v1.05h-9.57zM238.27 95.7h19.08v3.05h-19.08zM371.48 95.7h9.57v3.05h-9.57zM162.15 98.7h9.57v1.05h-9.57zM190.7 98.7h9.57v1.05h-9.57zM266.82 98.7h9.57v1.05h-9.57zM285.85 98.7h9.57v1.05h-9.57zM181.18 99.7h9.57v2.05h-9.57zM247.79 99.7h9.57v2.05h-9.57zM266.82 99.7h9.57v2.05h-9.57zM209.73 101.7h9.57v3.05h-9.57zM257.3 101.7h9.57v3.05h-9.57zM257.3 104.7h28.6v1.05h-28.6zM200.21 105.7h9.57v1.05h-9.57zM266.82 105.7h19.08v1.05h-19.08zM162.15 106.7h19.08v2.05h-19.08zM257.3 106.7h9.57v2.05h-9.57zM276.33 106.7h9.57v2.05h-9.57zM285.85 108.7h9.57v1.05h-9.57zM304.88 108.7h9.57v1.05h-9.57zM266.82 111.7h9.57v1.55h-9.57zM342.94 114.2h9.57v2.05h-9.57zM323.91 116.2h9.57v1.55h-9.57zM371.48 117.7h9.57v1.05h-9.57zM67 124.7h9.57v1.55h-9.57zM152.64 126.2h9.57v1.05h-9.57zM105.06 127.2h19.08v3.05h-19.08zM143.12 127.2h9.57v3.05h-9.57zM124.09 131.2h9.57v1.05h-9.57zM143.12 131.2h9.57v1.05h-9.57zM124.09 133.7h9.57v1.55h-9.57zM105.06 135.2h9.57v1.05h-9.57zM152.64 135.2h9.57v1.05h-9.57zM105.06 136.2h9.57v2.05h-9.57zM76.52 178.7h9.57v1.05h-9.57zM95.55 280.7h9.57v2.05h-9.57zM105.06 305.7h19.08v1.55h-19.08zM133.61 305.7h9.57v1.55h-9.57zM285.85 417.2h9.57v1.05h-9.57zM352.45 421.2h9.57v2.05h-9.57z"/>
<path fill="#edf9de" d="M200.21 75.7h19.08v1.05h-19.08zM266.82 75.7h19.08v1.05h-19.08zM295.36 75.7h9.57v1.05h-9.57zM190.7 78.2h9.57v2.05h-9.57zM238.27 78.2h9.57v2.05h-9.57zM171.67 80.2h9.57v2.05h-9.57zM257.3 80.2h19.08v2.05h-19.08zM209.73 82.2h9.57v1.55h-9.57zM247.79 82.2h9.57v1.55h-9.57zM285.85 82.2h19.08v1.55h-19.08zM162.15 83.7h9.57v3.05h-9.57zM219.24 83.7h19.08v3.05h-19.08zM238.27 86.7h19.08v1.05h-19.08zM190.7 89.2h9.57v2.05h-9.57zM171.67 91.2h9.57v1.55h-9.57zM238.27 91.2h9.57v1.55h-9.57zM238.27 92.7h9.57v1.05h-9.57zM276.33 92.7h9.57v1.05h-9.57zM238.27 93.7h9.57v1.05h-9.57zM285.85 93.7h9.57v1.05h-9.57zM219.24 95.7h9.57v3.05h-9.57zM171.67 98.7h9.57v1.05h-9.57zM200.21 98.7h9.57v1.05h-9.57zM219.24 99.7h19.08v2.05h-19.08zM238.27 101.7h9.57v3.05h-9.57zM266.82 101.7h9.57v3.05h-9.57zM238.27 104.7h9.57v1.05h-9.57zM295.36 104.7h9.57v1.05h-9.57zM162.15 105.7h9.57v1.05h-9.57zM247.79 105.7h9.57v1.05h-9.57zM219.24 106.7h28.6v2.05h-28.6zM352.45 117.7h19.08v1.05h-19.08zM124.09 124.7h9.57v1.55h-9.57zM143.12 124.7h19.08v1.55h-19.08zM114.58 126.2h9.57v1.05h-9.57zM76.52 130.2h9.57v1.05h-9.57zM133.61 131.2h9.57v1.05h-9.57zM152.64 131.2h9.57v1.05h-9.57zM76.52 133.7h9.57v1.55h-9.57zM114.58 133.7h9.57v1.55h-9.57zM95.55 162.7h9.57v3.05h-9.57zM95.55 165.7h9.57v1.55h-9.57zM143.12 168.2h9.57v3.05h-9.57zM86.03 174.7h9.57v2.05h-9.57zM67 178.7h9.57v1.05h-9.57zM76.52 179.7h9.57v1.05h-9.57zM67 224.2h19.08v1.55h-19.08zM285.85 421.2h9.57v2.05h-9.57z"/>
<path fill="#e7f6ea" d="M219.24 75.7h9.57v1.05h-9.57zM219.24 87.7h19.08v1.55h-19.08zM181.18 95.7h9.57v3.05h-9.57zM352.45 113.2h9.57v1.05h-9.57zM361.97 116.2h19.08v1.55h-19.08zM76.52 126.2h9.57v1.05h-9.57zM67 127.2h9.57v3.05h-9.57zM76.52 131.2h9.57v1.05h-9.57zM67 135.2h9.57v1.05h-9.57zM67 136.2h9.57v2.05h-9.57zM95.55 149.2h9.57v3.05h-9.57zM95.55 168.2h9.57v3.05h-9.57zM143.12 222.7h9.57v1.55h-9.57zM67 225.7h9.57v3.05h-9.57zM76.52 233.7h9.57v1.55h-9.57zM114.58 235.2h9.57v2.05h-9.57zM114.58 239.2h9.57v3.05h-9.57zM124.09 259.7h9.57v1.05h-9.57zM114.58 261.7h9.57v1.05h-9.57zM133.61 262.7h9.57v1.05h-9.57zM143.12 283.7h9.57v2.05h-9.57zM67 304.7h9.57v1.05h-9.57zM133.61 337.2h9.57v1.05h-9.57zM76.52 429.2h9.57v1.05h-9.57z"/>
<path fill="#d2eaf3" d="M228.76 75.7h9.57v1.05h-9.57zM228.76 82.2h9.57v1.55h-9.57zM105.06 142.2h9.57v2.05h-9.57zM133.61 144.2h9.57v2.05h-9.57zM143.12 146.2h9.57v3.05h-9.57zM105.06 149.2h19.08v3.05h-19.08zM114.58 152.2h9.57v1.05h-9.57zM133.61 152.2h9.57v1.05h-9.57zM67 153.2h9.57v1.05h-9.57zM114.58 153.2h9.57v1.05h-9.57zM67 154.2h9.57v2.05h-9.57zM124.09 154.2h9.57v2.05h-9.57zM86.03 159.2h9.57v1.55h-9.57zM114.58 159.2h9.57v1.55h-9.57zM95.55 160.7h19.08v2.05h-19.08zM133.61 162.7h9.57v3.05h-9.57zM67 165.7h9.57v1.55h-9.57zM124.09 165.7h9.57v1.55h-9.57zM143.12 165.7h9.57v1.55h-9.57zM143.12 167.2h9.57v1.05h-9.57zM133.61 171.2h9.57v1.05h-9.57zM152.64 171.2h9.57v1.05h-9.57zM114.58 172.2h9.57v1.05h-9.57zM105.06 173.2h9.57v1.55h-9.57zM152.64 173.2h9.57v1.55h-9.57zM86.03 176.7h19.08v2.05h-19.08zM114.58 178.7h9.57v1.05h-9.57zM133.61 178.7h28.6v1.05h-28.6zM114.58 180.7h9.57v2.05h-9.57zM76.52 182.7h9.57v2.05h-9.57zM114.58 182.7h9.57v2.05h-9.57zM67 184.7h9.57v1.05h-9.57zM143.12 184.7h9.57v1.05h-9.57zM124.09 185.7h19.08v2.05h-19.08zM67 189.7h9.57v2.05h-9.57zM152.64 189.7h9.57v2.05h-9.57zM105.06 191.7h9.57v3.05h-9.57zM67 194.7h9.57v1.55h-9.57zM133.61 194.7h9.57v1.55h-9.57zM124.09 196.2h28.6v1.05h-28.6zM95.55 197.2h9.57v2.05h-9.57zM124.09 197.2h9.57v2.05h-9.57zM105.06 200.7h19.08v2.05h-19.08zM133.61 200.7h9.57v2.05h-9.57zM152.64 200.7h9.57v2.05h-9.57zM86.03 203.7h28.6v1.05h-28.6zM67 204.7h9.57v1.55h-9.57zM133.61 204.7h9.57v1.55h-9.57zM114.58 206.2h9.57v1.05h-9.57zM133.61 207.2h9.57v1.05h-9.57zM114.58 208.2h9.57v2.05h-9.57zM133.61 211.2h9.57v1.55h-9.57zM152.64 211.2h9.57v1.55h-9.57zM124.09 212.7h9.57v1.05h-9.57zM95.55 217.7h9.57v1.05h-9.57zM124.09 218.7h9.57v1.05h-9.57zM105.06 219.7h9.57v2.05h-9.57zM114.58 221.7h9.57v1.05h-9.57zM86.03 222.7h9.57v1.55h-9.57zM133.61 222.7h9.57v1.55h-9.57zM143.12 225.7h9.57v3.05h-9.57zM95.55 228.7h9.57v1.55h-9.57zM124.09 228.7h19.08v1.55h-19.08zM67 230.2h9.57v1.05h-9.57zM114.58 230.2h9.57v1.05h-9.57zM67 231.2h9.57v1.05h-9.57zM95.55 231.2h9.57v1.05h-9.57zM114.58 231.2h9.57v1.05h-9.57zM152.64 231.2h9.57v1.05h-9.57zM67 233.7h9.57v1.55h-9.57zM114.58 233.7h9.57v1.55h-9.57zM105.06 235.2h9.57v2.05h-9.57zM152.64 235.2h9.57v2.05h-9.57zM143.12 237.2h9.57v1.05h-9.57zM95.55 239.2h9.57v3.05h-9.57zM143.12 239.2h19.08v3.05h-19.08zM133.61 242.2h9.57v1.55h-9.57zM114.58 243.7h9.57v3.05h-9.57zM133.61 243.7h9.57v3.05h-9.57zM67 246.7h19.08v2.05h-19.08zM133.61 246.7h9.57v2.05h-9.57zM76.52 248.7h9.57v1.05h-9.57zM124.09 248.7h19.08v1.05h-19.08zM152.64 248.7h9.57v1.05h-9.57zM105.06 249.7h9.57v2.05h-9.57zM67 251.7h9.57v1.55h-9.57zM152.64 253.2h9.57v1.05h-9.57zM133.61 256.2h9.57v1.55h-9.57zM133.61 258.7h9.57v1.05h-9.57zM67 259.7h9.57v1.05h-9.57zM133.61 260.7h9.57v1.05h-9.57zM152.64 260.7h9.57v1.05h-9.57zM152.64 262.7h9.57v1.05h-9.57zM67 263.7h9.57v2.05h-9.57zM133.61 263.7h19.08v2.05h-19.08zM67 265.7h9.57v1.05h-9.57zM95.55 265.7h9.57v1.05h-9.57zM114.58 265.7h9.57v1.05h-9.57zM133.61 265.7h9.57v1.05h-9.57zM152.64 265.7h9.57v1.05h-9.57zM86.03 266.7h19.08v1.05h-19.08zM133.61 267.7h9.57v1.55h-9.57zM152.64 267.7h9.57v1.55h-9.57zM95.55 269.2h19.08v3.05h-19.08zM133.61 274.2h9.57v1.05h-9.57zM152.64 274.2h9.57v1.05h-9.57zM124.09 276.2h9.57v1.05h-9.57zM114.58 285.7h9.57v2.05h-9.57zM143.12 287.7h9.57v1.05h-9.57zM67 291.7h9.57v3.05h-9.57zM105.06 291.7h9.57v3.05h-9.57zM124.09 294.7h19.08v2.05h-19.08zM95.55 296.7h9.57v2.05h-9.57zM124.09 296.7h19.08v2.05h-19.08zM152.64 296.7h9.57v2.05h-9.57zM105.06 298.7h9.57v2.05h-9.57zM143.12 298.7h9.57v2.05h-9.57zM95.55 300.7h9.57v2.05h-9.57zM133.61 300.7h9.57v2.05h-9.57zM152.64 300.7h9.57v2.05h-9.57zM133.61 302.7h9.57v2.05h-9.57zM152.64 302.7h9.57v2.05h-9.57zM114.58 304.7h9.57v1.05h-9.57zM152.64 313.2h9.57v3.05h-9.57zM152.64 316.2h9.57v2.05h-9.57zM76.52 321.2h9.57v2.05h-9.57zM114.58 323.2h9.57v1.55h-9.57zM152.64 323.2h9.57v1.55h-9.57zM86.03 324.7h9.57v1.55h-9.57zM105.06 327.7h9.57v1.55h-9.57zM114.58 329.2h9.57v1.05h-9.57zM105.06 330.2h19.08v1.55h-19.08zM95.55 333.7h9.57v1.55h-9.57zM76.52 337.2h19.08v1.05h-19.08zM143.12 338.2h19.08v1.05h-19.08zM143.12 339.2h9.57v1.55h-9.57zM133.61 340.7h9.57v1.05h-9.57zM143.12 341.7h9.57v1.05h-9.57zM105.06 342.7h9.57v1.05h-9.57zM124.09 342.7h9.57v1.05h-9.57zM143.12 342.7h9.57v1.05h-9.57zM67 343.7h9.57v2.05h-9.57zM114.58 345.7h9.57v1.05h-9.57zM143.12 345.7h9.57v1.05h-9.57zM67 346.7h19.08v1.05h-19.08zM152.64 346.7h9.57v1.05h-9.57zM86.03 347.7h9.57v1.05h-9.57zM133.61 347.7h9.57v1.05h-9.57zM86.03 348.7h9.57v2.05h-9.57zM143.12 348.7h9.57v2.05h-9.57zM133.61 350.7h9.57v1.05h-9.57zM86.03 353.7h28.6v1.05h-28.6zM86.03 354.7h9.57v1.05h-9.57zM152.64 354.7h9.57v1.05h-9.57zM105.06 355.7h9.57v2.05h-9.57zM86.03 359.7h9.57v3.05h-9.57zM152.64 359.7h9.57v3.05h-9.57zM95.55 362.7h19.08v1.05h-19.08zM67 363.7h9.57v2.05h-9.57zM105.06 363.7h9.57v2.05h-9.57zM95.55 365.7h9.57v1.55h-9.57zM67 368.2h9.57v2.05h-9.57zM114.58 368.2h9.57v2.05h-9.57zM152.64 368.2h9.57v2.05h-9.57zM67 370.2h9.57v1.05h-9.57zM86.03 370.2h9.57v1.05h-9.57zM114.58 370.2h9.57v1.05h-9.57zM67 372.2h9.57v2.05h-9.57zM152.64 374.2h9.57v1.05h-9.57zM86.03 378.7h9.57v3.05h-9.57zM124.09 378.7h9.57v3.05h-9.57zM95.55 383.2h9.57v1.55h-9.57zM114.58 383.2h9.57v1.55h-9.57zM152.64 383.2h9.57v1.55h-9.57zM86.03 384.7h9.57v1.55h-9.57zM67 387.7h9.57v1.05h-9.57zM95.55 387.7h9.57v1.05h-9.57zM124.09 387.7h9.57v1.05h-9.57zM67 388.7h9.57v1.05h-9.57zM114.58 388.7h9.57v1.05h-9.57zM152.64 388.7h9.57v1.05h-9.57zM86.03 389.7h9.57v1.05h-9.57zM114.58 389.7h9.57v1.05h-9.57zM152.64 389.7h9.57v1.05h-9.57zM95.55 390.7h9.57v1.05h-9.57zM133.61 390.7h9.57v1.05h-9.57zM67 393.7h19.08v1.05h-19.08zM143.12 394.7h9.57v2.05h-9.57zM67 396.7h9.57v1.05h-9.57zM95.55 396.7h9.57v1.05h-9.57zM143.12 396.7h9.57v1.05h-9.57zM143.12 397.7h9.57v1.55h-9.57zM76.52 399.2h9.57v3.05h-9.57zM152.64 399.2h9.57v3.05h-9.57zM143.12 404.2h9.57v1.05h-9.57zM86.03 405.2h9.57v2.05h-9.57zM124.09 405.2h9.57v2.05h-9.57zM152.64 405.2h9.57v2.05h-9.57zM67 407.2h9.57v1.05h-9.57zM114.58 407.2h9.57v1.05h-9.57zM133.61 407.2h9.57v1.05h-9.57zM76.52 408.2h9.57v1.05h-9.57zM114.58 408.2h28.6v1.05h-28.6zM76.52 430.2h9.57v1.45h-9.57z"/>
<path fill="#eaf6e4" d="M238.27 75.7h19.08v1.05h-19.08zM181.18 76.7h9.57v1.55h-9.57zM181.18 78.2h9.57v2.05h-9.57zM238.27 80.2h9.57v2.05h-9.57zM238.27 82.2h9.57v1.55h-9.57zM209.73 87.7h9.57v1.55h-9.57zM238.27 87.7h9.57v1.55h-9.57zM266.82 87.7h9.57v1.55h-9.57zM181.18 89.2h9.57v2.05h-9.57zM181.18 92.7h9.57v1.05h-9.57zM219.24 92.7h19.08v1.05h-19.08zM181.18 93.7h9.57v1.05h-9.57zM219.24 93.7h9.57v1.05h-9.57zM181.18 94.7h9.57v1.05h-9.57zM295.36 94.7h19.08v1.05h-19.08zM171.67 95.7h9.57v3.05h-9.57zM219.24 98.7h38.11v1.05h-38.11zM219.24 104.7h9.57v1.05h-9.57zM219.24 105.7h9.57v1.05h-9.57zM323.91 113.2h9.57v1.05h-9.57zM371.48 114.2h9.57v2.05h-9.57zM124.09 167.2h9.57v1.05h-9.57zM76.52 174.7h9.57v2.05h-9.57zM124.09 176.7h9.57v2.05h-9.57zM67 179.7h9.57v1.05h-9.57zM86.03 232.2h9.57v1.55h-9.57zM143.12 249.7h9.57v2.05h-9.57zM86.03 280.7h9.57v2.05h-9.57zM86.03 326.2h9.57v1.55h-9.57z"/>
<path fill="#edf9e1" d="M257.3 75.7h9.57v1.05h-9.57zM219.24 76.7h9.57v1.55h-9.57zM171.67 78.2h9.57v2.05h-9.57zM181.18 80.2h9.57v2.05h-9.57zM200.21 80.2h9.57v2.05h-9.57zM247.79 80.2h9.57v2.05h-9.57zM266.82 82.2h9.57v1.55h-9.57zM304.88 82.2h9.57v1.55h-9.57zM181.18 87.7h9.57v1.55h-9.57zM200.21 87.7h9.57v1.55h-9.57zM257.3 87.7h9.57v1.55h-9.57zM276.33 87.7h9.57v1.55h-9.57zM219.24 89.2h9.57v2.05h-9.57zM247.79 89.2h9.57v2.05h-9.57zM219.24 91.2h19.08v1.55h-19.08zM295.36 91.2h9.57v1.55h-9.57zM247.79 92.7h9.57v1.05h-9.57zM162.15 93.7h9.57v1.05h-9.57zM228.76 93.7h9.57v1.05h-9.57zM247.79 93.7h9.57v1.05h-9.57zM361.97 93.7h19.08v1.05h-19.08zM285.85 94.7h9.57v1.05h-9.57zM162.15 95.7h9.57v3.05h-9.57zM190.7 95.7h9.57v3.05h-9.57zM228.76 95.7h9.57v3.05h-9.57zM209.73 98.7h9.57v1.05h-9.57zM257.3 98.7h9.57v1.05h-9.57zM276.33 98.7h9.57v1.05h-9.57zM295.36 99.7h9.57v2.05h-9.57zM228.76 101.7h9.57v3.05h-9.57zM247.79 101.7h9.57v3.05h-9.57zM228.76 104.7h9.57v1.05h-9.57zM228.76 105.7h19.08v1.05h-19.08zM181.18 106.7h9.57v2.05h-9.57zM333.42 113.2h9.57v1.05h-9.57zM361.97 113.2h9.57v1.05h-9.57zM323.91 114.2h9.57v2.05h-9.57zM352.45 114.2h9.57v2.05h-9.57zM76.52 124.7h9.57v1.55h-9.57zM105.06 124.7h19.08v1.55h-19.08zM133.61 124.7h9.57v1.55h-9.57zM105.06 126.2h9.57v1.05h-9.57zM105.06 131.2h19.08v1.05h-19.08zM333.42 310.2h28.6v3.05h-28.6zM76.52 424.2h9.57v2.05h-9.57z"/>
<path fill="#eaf6e7" d="M285.85 75.7h9.57v1.05h-9.57zM219.24 82.2h9.57v1.55h-9.57zM181.18 86.7h9.57v1.05h-9.57zM247.79 87.7h9.57v1.55h-9.57zM181.18 98.7h9.57v1.05h-9.57zM304.88 99.7h9.57v2.05h-9.57zM219.24 101.7h9.57v3.05h-9.57zM171.67 105.7h19.08v1.05h-19.08zM342.94 113.2h9.57v1.05h-9.57zM314.39 114.2h9.57v2.05h-9.57zM361.97 114.2h9.57v2.05h-9.57zM67 130.2h9.57v1.05h-9.57zM124.09 146.2h9.57v3.05h-9.57zM67 174.7h9.57v2.05h-9.57zM133.61 174.7h9.57v2.05h-9.57zM152.64 202.7h9.57v1.05h-9.57zM143.12 219.7h9.57v2.05h-9.57zM76.52 225.7h9.57v3.05h-9.57zM95.55 232.2h9.57v1.55h-9.57zM143.12 253.2h9.57v1.05h-9.57zM133.61 304.7h9.57v1.05h-9.57zM105.06 346.7h9.57v1.05h-9.57zM152.64 351.7h9.57v2.05h-9.57zM76.52 359.7h9.57v3.05h-9.57zM152.64 384.7h9.57v1.55h-9.57zM67 402.2h9.57v2.05h-9.57z"/>
<path fill="#f0f9d8" d="M304.88 75.7h9.57v1.05h-9.57zM257.3 76.7h19.08v1.55h-19.08zM209.73 78.2h9.57v2.05h-9.57zM162.15 82.2h9.57v1.55h-9.57zM171.67 83.7h9.57v3.05h-9.57zM257.3 83.7h9.57v3.05h-9.57zM190.7 86.7h9.57v1.05h-9.57zM257.3 86.7h9.57v1.05h-9.57zM276.33 86.7h9.57v1.05h-9.57zM209.73 89.2h9.57v2.05h-9.57zM209.73 91.2h9.57v1.55h-9.57zM257.3 91.2h19.08v1.55h-19.08zM190.7 92.7h9.57v1.05h-9.57zM200.21 93.7h9.57v1.05h-9.57zM219.24 94.7h9.57v1.05h-9.57zM247.79 94.7h9.57v1.05h-9.57zM314.39 94.7h9.57v1.05h-9.57zM266.82 95.7h9.57v3.05h-9.57zM295.36 95.7h9.57v3.05h-9.57zM238.27 99.7h9.57v2.05h-9.57zM257.3 99.7h9.57v2.05h-9.57zM181.18 101.7h9.57v3.05h-9.57zM200.21 101.7h9.57v3.05h-9.57zM276.33 101.7h9.57v3.05h-9.57zM162.15 104.7h9.57v1.05h-9.57zM200.21 104.7h9.57v1.05h-9.57zM304.88 104.7h9.57v1.05h-9.57zM257.3 105.7h9.57v1.05h-9.57zM190.7 106.7h9.57v2.05h-9.57zM266.82 106.7h9.57v2.05h-9.57zM219.24 111.7h9.57v1.55h-9.57zM228.76 117.7h9.57v1.05h-9.57zM181.18 120.7h9.57v1.05h-9.57zM133.61 126.2h9.57v1.05h-9.57zM76.52 127.2h9.57v3.05h-9.57zM124.09 127.2h9.57v3.05h-9.57zM152.64 127.2h9.57v3.05h-9.57zM105.06 132.2h19.08v1.55h-19.08zM133.61 133.7h19.08v1.55h-19.08zM143.12 135.2h9.57v1.05h-9.57zM124.09 136.2h9.57v2.05h-9.57zM152.64 136.2h9.57v2.05h-9.57zM95.55 167.2h9.57v1.05h-9.57zM352.45 345.7h9.57v1.05h-9.57zM323.91 415.2h9.57v2.05h-9.57zM105.06 418.2h9.57v3.05h-9.57zM295.36 421.2h9.57v2.05h-9.57z"/>
<path fill="#f9fcc6" d="M342.94 75.7h9.57v1.05h-9.57zM352.45 78.2h9.57v2.05h-9.57zM200.21 113.2h9.57v1.05h-9.57zM228.76 118.7h9.57v2.05h-9.57zM266.82 135.2h9.57v1.05h-9.57zM228.76 138.2h9.57v1.05h-9.57zM238.27 139.2h9.57v3.05h-9.57z"/>
<path fill="#ffea9c" d="M76.52 76.7h9.57v1.55h-9.57zM105.06 78.2h9.57v2.05h-9.57zM143.12 87.7h9.57v1.55h-9.57zM67 98.7h9.57v1.05h-9.57zM67 105.7h9.57v1.05h-9.57zM143.12 108.7h9.57v1.05h-9.57zM95.55 113.2h9.57v1.05h-9.57zM295.36 124.7h9.57v1.55h-9.57zM285.85 127.2h9.57v3.05h-9.57zM285.85 139.2h9.57v3.05h-9.57zM190.7 146.2h9.57v3.05h-9.57zM238.27 149.2h9.57v3.05h-9.57zM304.88 152.2h9.57v1.05h-9.57zM333.42 152.2h9.57v1.05h-9.57zM304.88 174.7h9.57v2.05h-9.57zM200.21 176.7h9.57v2.05h-9.57zM342.94 184.7h9.57v1.05h-9.57zM162.15 185.7h9.57v2.05h-9.57zM304.88 189.7h9.57v2.05h-9.57zM190.7 206.2h9.57v1.05h-9.57zM304.88 207.2h9.57v1.05h-9.57zM371.48 212.7h9.57v1.05h-9.57zM342.94 217.7h9.57v1.05h-9.57zM200.21 218.7h9.57v1.05h-9.57zM304.88 222.7h9.57v1.55h-9.57zM285.85 232.2h9.57v1.55h-9.57zM171.67 235.2h9.57v2.05h-9.57zM333.42 246.7h9.57v2.05h-9.57zM352.45 246.7h9.57v2.05h-9.57zM371.48 246.7h9.57v2.05h-9.57zM171.67 248.7h9.57v1.05h-9.57zM304.88 248.7h9.57v1.05h-9.57zM333.42 248.7h9.57v1.05h-9.57zM361.97 248.7h9.57v1.05h-9.57zM323.91 249.7h9.57v2.05h-9.57zM352.45 249.7h9.57v2.05h-9.57zM162.15 251.7h9.57v1.55h-9.57zM190.7 251.7h9.57v1.55h-9.57zM285.85 253.2h9.57v1.05h-9.57zM314.39 253.2h9.57v1.05h-9.57zM333.42 254.2h19.08v2.05h-19.08zM209.73 259.7h9.57v1.05h-9.57zM371.48 259.7h9.57v1.05h-9.57zM190.7 261.7h9.57v1.05h-9.57zM361.97 267.7h9.57v1.55h-9.57zM304.88 269.2h9.57v3.05h-9.57zM352.45 283.7h9.57v2.05h-9.57zM371.48 283.7h9.57v2.05h-9.57zM171.67 285.7h9.57v2.05h-9.57zM295.36 291.7h9.57v3.05h-9.57zM171.67 310.2h9.57v3.05h-9.57zM266.82 310.2h9.57v3.05h-9.57zM257.3 313.2h9.57v3.05h-9.57zM162.15 316.2h9.57v2.05h-9.57zM266.82 321.2h9.57v2.05h-9.57zM371.48 321.2h9.57v2.05h-9.57zM228.76 323.2h9.57v1.55h-9.57zM361.97 323.2h9.57v1.55h-9.57zM200.21 324.7h9.57v1.55h-9.57zM285.85 329.2h9.57v1.05h-9.57zM266.82 331.7h9.57v2.05h-9.57zM171.67 333.7h9.57v1.55h-9.57zM314.39 335.2h9.57v1.05h-9.57zM190.7 336.2h9.57v1.05h-9.57zM266.82 336.2h9.57v1.05h-9.57zM171.67 337.2h9.57v1.05h-9.57zM266.82 337.2h9.57v1.05h-9.57zM295.36 339.2h9.57v1.55h-9.57zM285.85 340.7h9.57v1.05h-9.57zM238.27 341.7h9.57v1.05h-9.57zM257.3 341.7h9.57v1.05h-9.57zM219.24 345.7h19.08v1.05h-19.08zM266.82 346.7h9.57v1.05h-9.57zM295.36 346.7h9.57v1.05h-9.57zM247.79 347.7h19.08v1.05h-19.08zM276.33 347.7h9.57v1.05h-9.57zM219.24 348.7h9.57v2.05h-9.57zM247.79 348.7h9.57v2.05h-9.57zM162.15 350.7h9.57v1.05h-9.57zM238.27 351.7h9.57v2.05h-9.57zM323.91 353.7h9.57v1.05h-9.57zM257.3 358.7h9.57v1.05h-9.57zM371.48 358.7h9.57v1.05h-9.57zM162.15 359.7h9.57v3.05h-9.57zM361.97 367.2h9.57v1.05h-9.57zM238.27 370.2h9.57v1.05h-9.57zM314.39 371.2h9.57v1.05h-9.57zM200.21 375.2h9.57v1.55h-9.57zM257.3 376.7h9.57v1.05h-9.57zM228.76 377.7h19.08v1.05h-19.08zM200.21 381.7h9.57v1.55h-9.57zM219.24 381.7h9.57v1.55h-9.57zM219.24 383.2h9.57v1.55h-9.57zM247.79 384.7h9.57v1.55h-9.57zM200.21 386.2h19.08v1.55h-19.08zM314.39 387.7h9.57v1.05h-9.57zM276.33 388.7h9.57v1.05h-9.57zM209.73 389.7h9.57v1.05h-9.57zM228.76 390.7h9.57v1.05h-9.57zM200.21 391.7h9.57v2.05h-9.57zM266.82 394.7h9.57v2.05h-9.57zM228.76 396.7h19.08v1.05h-19.08zM162.15 402.2h9.57v2.05h-9.57zM200.21 402.2h9.57v2.05h-9.57zM200.21 404.2h9.57v1.05h-9.57zM238.27 404.2h9.57v1.05h-9.57zM266.82 405.2h9.57v2.05h-9.57zM342.94 407.2h9.57v1.05h-9.57zM247.79 408.2h9.57v1.05h-9.57z"/>
<path fill="#ffd88a" d="M86.03 76.7h9.57v1.55h-9.57zM95.55 78.2h9.57v2.05h-9.57zM152.64 87.7h9.57v1.55h-9.57zM86.03 91.2h9.57v1.55h-9.57zM124.09 92.7h9.57v1.05h-9.57zM105.06 114.2h9.57v2.05h-9.57zM323.91 187.7h9.57v2.05h-9.57zM323.91 202.7h9.57v1.05h-9.57zM323.91 206.2h9.57v1.05h-9.57zM295.36 238.2h9.57v1.05h-9.57zM295.36 256.2h9.57v1.55h-9.57zM314.39 259.7h9.57v1.05h-9.57zM285.85 263.7h9.57v2.05h-9.57zM295.36 265.7h9.57v1.05h-9.57zM323.91 318.2h9.57v3.05h-9.57zM323.91 355.7h9.57v2.05h-9.57zM323.91 362.7h9.57v1.05h-9.57zM304.88 381.7h9.57v1.55h-9.57zM304.88 388.7h9.57v1.05h-9.57zM295.36 393.7h9.57v1.05h-9.57zM67 411.2h9.57v1.05h-9.57zM76.52 413.2h9.57v2.05h-9.57zM95.55 418.2h9.57v3.05h-9.57z"/>
<path fill="#ffd287" d="M95.55 76.7h9.57v1.55h-9.57zM67 91.2h9.57v1.55h-9.57zM114.58 114.2h9.57v2.05h-9.57zM133.61 114.2h9.57v2.05h-9.57zM352.45 118.7h9.57v2.05h-9.57zM304.88 130.2h9.57v1.05h-9.57zM285.85 138.2h9.57v1.05h-9.57zM323.91 168.2h9.57v3.05h-9.57zM295.36 171.2h19.08v1.05h-19.08zM323.91 189.7h9.57v2.05h-9.57zM323.91 196.2h9.57v1.05h-9.57zM323.91 197.2h9.57v2.05h-9.57zM295.36 225.7h9.57v3.05h-9.57zM323.91 256.2h9.57v1.55h-9.57zM285.85 261.7h9.57v1.05h-9.57zM295.36 263.7h9.57v2.05h-9.57zM323.91 266.7h9.57v1.05h-9.57zM323.91 272.2h9.57v2.05h-9.57zM323.91 274.2h9.57v1.05h-9.57zM323.91 300.7h9.57v2.05h-9.57zM323.91 357.7h9.57v1.05h-9.57zM86.03 423.2h9.57v1.05h-9.57zM352.45 426.2h9.57v3.05h-9.57z"/>
<path fill="#f3f9d8" d="M162.15 76.7h9.57v1.55h-9.57zM190.7 76.7h9.57v1.55h-9.57zM257.3 78.2h9.57v2.05h-9.57zM371.48 83.7h9.57v3.05h-9.57zM200.21 86.7h9.57v1.05h-9.57zM162.15 87.7h9.57v1.55h-9.57zM352.45 87.7h9.57v1.55h-9.57zM266.82 89.2h9.57v2.05h-9.57zM276.33 91.2h9.57v1.55h-9.57zM352.45 92.7h9.57v1.05h-9.57zM209.73 93.7h9.57v1.05h-9.57zM361.97 95.7h9.57v3.05h-9.57zM190.7 99.7h9.57v2.05h-9.57zM209.73 99.7h9.57v2.05h-9.57zM361.97 101.7h9.57v3.05h-9.57zM190.7 104.7h9.57v1.05h-9.57zM285.85 105.7h9.57v1.05h-9.57zM314.39 105.7h9.57v1.05h-9.57zM181.18 108.7h9.57v1.05h-9.57zM228.76 109.7h9.57v2.05h-9.57zM276.33 111.7h9.57v1.55h-9.57zM333.42 114.2h9.57v2.05h-9.57zM238.27 117.7h9.57v1.05h-9.57zM124.09 126.2h9.57v1.05h-9.57zM133.61 127.2h9.57v3.05h-9.57zM124.09 135.2h9.57v1.05h-9.57zM114.58 136.2h9.57v2.05h-9.57zM114.58 138.2h9.57v1.05h-9.57zM67 269.2h9.57v3.05h-9.57zM105.06 307.2h9.57v3.05h-9.57zM295.36 415.2h9.57v2.05h-9.57zM114.58 418.2h9.57v3.05h-9.57zM361.97 418.2h9.57v3.05h-9.57z"/>
<path fill="#f3f9d5" d="M200.21 76.7h19.08v1.55h-19.08zM276.33 76.7h9.57v1.55h-9.57zM200.21 78.2h9.57v2.05h-9.57zM171.67 82.2h9.57v1.55h-9.57zM190.7 83.7h28.6v3.05h-28.6zM276.33 83.7h9.57v3.05h-9.57zM304.88 83.7h9.57v3.05h-9.57zM361.97 83.7h9.57v3.05h-9.57zM190.7 87.7h9.57v1.55h-9.57zM361.97 87.7h9.57v1.55h-9.57zM295.36 89.2h9.57v2.05h-9.57zM361.97 89.2h9.57v2.05h-9.57zM247.79 91.2h9.57v1.55h-9.57zM285.85 91.2h9.57v1.55h-9.57zM304.88 91.2h9.57v1.55h-9.57zM162.15 94.7h9.57v1.05h-9.57zM190.7 94.7h9.57v1.05h-9.57zM238.27 94.7h9.57v1.05h-9.57zM257.3 94.7h9.57v1.05h-9.57zM200.21 95.7h9.57v3.05h-9.57zM276.33 95.7h9.57v3.05h-9.57zM200.21 99.7h9.57v2.05h-9.57zM371.48 101.7h9.57v3.05h-9.57zM171.67 104.7h9.57v1.05h-9.57zM200.21 106.7h9.57v2.05h-9.57zM171.67 108.7h9.57v1.05h-9.57zM228.76 108.7h9.57v1.05h-9.57zM247.79 111.7h9.57v1.55h-9.57zM371.48 113.2h9.57v1.05h-9.57zM143.12 126.2h9.57v1.05h-9.57zM67 131.2h9.57v1.05h-9.57zM133.61 132.2h9.57v1.55h-9.57zM152.64 132.2h9.57v1.55h-9.57zM76.52 135.2h9.57v1.05h-9.57zM133.61 135.2h9.57v1.05h-9.57zM133.61 136.2h19.08v2.05h-19.08zM152.64 138.2h9.57v1.05h-9.57zM67 176.7h9.57v2.05h-9.57zM95.55 282.7h9.57v1.05h-9.57zM114.58 307.2h19.08v3.05h-19.08zM133.61 418.2h9.57v3.05h-9.57z"/>
<path fill="#ffeaa2" d="M67 78.2h9.57v2.05h-9.57zM143.12 91.2h9.57v1.55h-9.57zM114.58 104.7h9.57v1.05h-9.57zM105.06 105.7h9.57v1.05h-9.57zM105.06 109.7h9.57v2.05h-9.57zM95.55 117.7h9.57v1.05h-9.57zM361.97 118.7h9.57v2.05h-9.57zM266.82 122.7h19.08v2.05h-19.08zM304.88 126.2h9.57v1.05h-9.57zM361.97 133.7h9.57v1.55h-9.57zM352.45 139.2h9.57v3.05h-9.57zM171.67 144.2h9.57v2.05h-9.57zM371.48 144.2h9.57v2.05h-9.57zM162.15 146.2h9.57v3.05h-9.57zM371.48 152.2h9.57v1.05h-9.57zM333.42 156.2h9.57v1.05h-9.57zM352.45 156.2h9.57v1.05h-9.57zM171.67 157.2h9.57v2.05h-9.57zM190.7 157.2h9.57v2.05h-9.57zM190.7 159.2h9.57v1.55h-9.57zM304.88 159.2h9.57v1.55h-9.57zM162.15 160.7h9.57v2.05h-9.57zM181.18 160.7h9.57v2.05h-9.57zM295.36 160.7h9.57v2.05h-9.57zM209.73 165.7h9.57v1.55h-9.57zM276.33 165.7h9.57v1.55h-9.57zM181.18 168.2h9.57v3.05h-9.57zM171.67 171.2h9.57v1.05h-9.57zM190.7 171.2h9.57v1.05h-9.57zM314.39 171.2h9.57v1.05h-9.57zM190.7 173.2h9.57v1.55h-9.57zM295.36 173.2h9.57v1.55h-9.57zM190.7 174.7h9.57v2.05h-9.57zM333.42 174.7h9.57v2.05h-9.57zM162.15 176.7h9.57v2.05h-9.57zM209.73 176.7h9.57v2.05h-9.57zM190.7 179.7h9.57v1.05h-9.57zM171.67 182.7h9.57v2.05h-9.57zM304.88 182.7h9.57v2.05h-9.57zM162.15 184.7h9.57v1.05h-9.57zM190.7 187.7h9.57v2.05h-9.57zM352.45 200.7h9.57v2.05h-9.57zM181.18 204.7h9.57v1.55h-9.57zM171.67 206.2h9.57v1.05h-9.57zM361.97 206.2h9.57v1.05h-9.57zM371.48 207.2h9.57v1.05h-9.57zM314.39 210.2h9.57v1.05h-9.57zM333.42 212.7h9.57v1.05h-9.57zM333.42 221.7h9.57v1.05h-9.57zM200.21 222.7h9.57v1.55h-9.57zM276.33 222.7h9.57v1.55h-9.57zM295.36 230.2h9.57v1.05h-9.57zM171.67 233.7h9.57v1.55h-9.57zM361.97 235.2h19.08v2.05h-19.08zM342.94 243.7h9.57v3.05h-9.57zM181.18 246.7h9.57v2.05h-9.57zM285.85 246.7h9.57v2.05h-9.57zM162.15 248.7h9.57v1.05h-9.57zM181.18 249.7h9.57v2.05h-9.57zM371.48 249.7h9.57v2.05h-9.57zM181.18 253.2h9.57v1.05h-9.57zM162.15 257.7h9.57v1.05h-9.57zM266.82 259.7h9.57v1.05h-9.57zM200.21 267.7h9.57v1.55h-9.57zM171.67 272.2h9.57v2.05h-9.57zM200.21 272.2h9.57v2.05h-9.57zM295.36 272.2h9.57v2.05h-9.57zM171.67 274.2h9.57v1.05h-9.57zM352.45 274.2h9.57v1.05h-9.57zM371.48 277.2h9.57v1.05h-9.57zM342.94 279.2h9.57v1.55h-9.57zM257.3 280.7h28.6v2.05h-28.6zM314.39 285.7h9.57v2.05h-9.57zM295.36 289.7h19.08v2.05h-19.08zM333.42 289.7h9.57v2.05h-9.57zM371.48 291.7h9.57v3.05h-9.57zM181.18 298.7h9.57v2.05h-9.57zM371.48 300.7h9.57v2.05h-9.57zM361.97 302.7h9.57v2.05h-9.57zM190.7 304.7h9.57v1.05h-9.57zM352.45 304.7h9.57v1.05h-9.57zM304.88 305.7h9.57v1.55h-9.57zM247.79 313.2h9.57v3.05h-9.57zM266.82 313.2h9.57v3.05h-9.57zM304.88 313.2h9.57v3.05h-9.57zM181.18 316.2h9.57v2.05h-9.57zM333.42 316.2h9.57v2.05h-9.57zM171.67 318.2h9.57v3.05h-9.57zM304.88 318.2h9.57v3.05h-9.57zM285.85 321.2h19.08v2.05h-19.08zM276.33 324.7h9.57v1.55h-9.57zM361.97 324.7h9.57v1.55h-9.57zM181.18 327.7h9.57v1.55h-9.57zM304.88 327.7h9.57v1.55h-9.57zM247.79 329.2h9.57v1.05h-9.57zM238.27 330.2h19.08v1.55h-19.08zM257.3 331.7h9.57v2.05h-9.57zM181.18 333.7h9.57v1.55h-9.57zM181.18 336.2h9.57v1.05h-9.57zM219.24 336.2h9.57v1.05h-9.57zM266.82 338.2h9.57v1.05h-9.57zM219.24 339.2h9.57v1.55h-9.57zM285.85 339.2h9.57v1.55h-9.57zM200.21 340.7h9.57v1.05h-9.57zM285.85 342.7h9.57v1.05h-9.57zM209.73 343.7h9.57v2.05h-9.57zM276.33 343.7h9.57v2.05h-9.57zM285.85 346.7h9.57v1.05h-9.57zM304.88 346.7h19.08v1.05h-19.08zM162.15 347.7h9.57v1.05h-9.57zM162.15 348.7h19.08v2.05h-19.08zM276.33 350.7h9.57v1.05h-9.57zM361.97 350.7h9.57v1.05h-9.57zM171.67 351.7h9.57v2.05h-9.57zM228.76 351.7h9.57v2.05h-9.57zM247.79 351.7h9.57v2.05h-9.57zM371.48 351.7h9.57v2.05h-9.57zM200.21 353.7h9.57v1.05h-9.57zM361.97 353.7h9.57v1.05h-9.57zM266.82 354.7h9.57v1.05h-9.57zM266.82 355.7h9.57v2.05h-9.57zM171.67 358.7h9.57v1.05h-9.57zM219.24 359.7h9.57v3.05h-9.57zM247.79 359.7h9.57v3.05h-9.57zM228.76 363.7h19.08v2.05h-19.08zM304.88 363.7h9.57v2.05h-9.57zM228.76 365.7h9.57v1.55h-9.57zM247.79 365.7h9.57v1.55h-9.57zM342.94 367.2h9.57v1.05h-9.57zM238.27 368.2h9.57v2.05h-9.57zM219.24 371.2h9.57v1.05h-9.57zM247.79 372.2h19.08v2.05h-19.08zM219.24 374.2h9.57v1.05h-9.57zM162.15 375.2h9.57v1.55h-9.57zM247.79 376.7h9.57v1.05h-9.57zM285.85 376.7h9.57v1.05h-9.57zM190.7 378.7h9.57v3.05h-9.57zM342.94 378.7h9.57v3.05h-9.57zM162.15 381.7h19.08v1.55h-19.08zM238.27 381.7h9.57v1.55h-9.57zM219.24 384.7h9.57v1.55h-9.57zM171.67 387.7h9.57v1.05h-9.57zM228.76 387.7h9.57v1.05h-9.57zM162.15 389.7h19.08v1.05h-19.08zM257.3 389.7h9.57v1.05h-9.57zM295.36 390.7h9.57v1.05h-9.57zM361.97 390.7h19.08v1.05h-19.08zM247.79 391.7h9.57v2.05h-9.57zM361.97 391.7h9.57v2.05h-9.57zM238.27 393.7h9.57v1.05h-9.57zM342.94 393.7h9.57v1.05h-9.57zM361.97 393.7h9.57v1.05h-9.57zM162.15 394.7h9.57v2.05h-9.57zM190.7 394.7h9.57v2.05h-9.57zM247.79 394.7h9.57v2.05h-9.57zM209.73 397.7h9.57v1.55h-9.57zM219.24 402.2h19.08v2.05h-19.08zM162.15 404.2h9.57v1.05h-9.57zM257.3 404.2h9.57v1.05h-9.57zM285.85 404.2h9.57v1.05h-9.57zM228.76 409.2h9.57v2.05h-9.57zM304.88 411.2h9.57v1.05h-9.57zM200.21 417.2h9.57v1.05h-9.57zM257.3 417.2h9.57v1.05h-9.57z"/>
<path fill="#ffeda2" d="M76.52 78.2h9.57v2.05h-9.57zM323.91 78.2h9.57v2.05h-9.57zM105.06 82.2h9.57v1.55h-9.57zM133.61 82.2h19.08v1.55h-19.08zM105.06 83.7h9.57v3.05h-9.57zM143.12 86.7h9.57v1.05h-9.57zM143.12 98.7h9.57v1.05h-9.57zM105.06 104.7h9.57v1.05h-9.57zM105.06 106.7h9.57v2.05h-9.57zM162.15 116.2h9.57v1.55h-9.57zM200.21 116.2h9.57v1.55h-9.57zM238.27 144.2h9.57v2.05h-9.57zM276.33 144.2h9.57v2.05h-9.57zM257.3 146.2h9.57v3.05h-9.57zM276.33 146.2h9.57v3.05h-9.57zM314.39 146.2h9.57v3.05h-9.57zM342.94 146.2h9.57v3.05h-9.57zM257.3 149.2h19.08v3.05h-19.08zM285.85 152.2h9.57v1.05h-9.57zM342.94 153.2h9.57v1.05h-9.57zM190.7 154.2h9.57v2.05h-9.57zM209.73 154.2h9.57v2.05h-9.57zM190.7 156.2h9.57v1.05h-9.57zM162.15 157.2h9.57v2.05h-9.57zM171.67 159.2h9.57v1.55h-9.57zM333.42 160.7h9.57v2.05h-9.57zM276.33 162.7h9.57v3.05h-9.57zM295.36 162.7h9.57v3.05h-9.57zM257.3 165.7h19.08v1.55h-19.08zM209.73 171.2h9.57v1.05h-9.57zM352.45 171.2h9.57v1.05h-9.57zM162.15 173.2h9.57v1.55h-9.57zM304.88 173.2h9.57v1.55h-9.57zM162.15 174.7h9.57v2.05h-9.57zM352.45 174.7h9.57v2.05h-9.57zM219.24 176.7h9.57v2.05h-9.57zM238.27 176.7h28.6v2.05h-28.6zM333.42 176.7h9.57v2.05h-9.57zM352.45 176.7h9.57v2.05h-9.57zM181.18 178.7h9.57v1.05h-9.57zM200.21 178.7h9.57v1.05h-9.57zM247.79 178.7h9.57v1.05h-9.57zM342.94 178.7h9.57v1.05h-9.57zM162.15 179.7h19.08v1.05h-19.08zM352.45 179.7h9.57v1.05h-9.57zM181.18 180.7h9.57v2.05h-9.57zM247.79 182.7h9.57v2.05h-9.57zM276.33 182.7h9.57v2.05h-9.57zM295.36 182.7h9.57v2.05h-9.57zM190.7 184.7h9.57v1.05h-9.57zM304.88 184.7h9.57v1.05h-9.57zM181.18 185.7h9.57v2.05h-9.57zM162.15 187.7h9.57v2.05h-9.57zM295.36 189.7h9.57v2.05h-9.57zM361.97 189.7h9.57v2.05h-9.57zM342.94 191.7h9.57v3.05h-9.57zM171.67 194.7h9.57v1.55h-9.57zM190.7 194.7h9.57v1.55h-9.57zM352.45 194.7h9.57v1.55h-9.57zM181.18 196.2h9.57v1.05h-9.57zM266.82 199.2h9.57v1.55h-9.57zM333.42 199.2h9.57v1.55h-9.57zM276.33 203.7h19.08v1.05h-19.08zM333.42 203.7h19.08v1.05h-19.08zM200.21 204.7h9.57v1.55h-9.57zM200.21 206.2h19.08v1.05h-19.08zM276.33 206.2h9.57v1.05h-9.57zM162.15 207.2h19.08v1.05h-19.08zM285.85 207.2h9.57v1.05h-9.57zM352.45 207.2h9.57v1.05h-9.57zM333.42 208.2h19.08v2.05h-19.08zM171.67 210.2h9.57v1.05h-9.57zM190.7 210.2h9.57v1.05h-9.57zM190.7 211.2h9.57v1.55h-9.57zM342.94 212.7h9.57v1.05h-9.57zM209.73 213.7h9.57v1.05h-9.57zM257.3 213.7h28.6v1.05h-28.6zM171.67 217.7h9.57v1.05h-9.57zM200.21 217.7h9.57v1.05h-9.57zM257.3 217.7h9.57v1.05h-9.57zM190.7 218.7h9.57v1.05h-9.57zM266.82 218.7h19.08v1.05h-19.08zM361.97 218.7h9.57v1.05h-9.57zM171.67 219.7h9.57v2.05h-9.57zM285.85 219.7h9.57v2.05h-9.57zM352.45 219.7h9.57v2.05h-9.57zM352.45 221.7h9.57v1.05h-9.57zM171.67 222.7h9.57v1.55h-9.57zM238.27 222.7h9.57v1.55h-9.57zM266.82 222.7h9.57v1.55h-9.57zM333.42 222.7h9.57v1.55h-9.57zM361.97 222.7h9.57v1.55h-9.57zM162.15 225.7h9.57v3.05h-9.57zM200.21 225.7h9.57v3.05h-9.57zM333.42 225.7h19.08v3.05h-19.08zM209.73 228.7h9.57v1.55h-9.57zM257.3 228.7h9.57v1.55h-9.57zM304.88 228.7h9.57v1.55h-9.57zM361.97 228.7h9.57v1.55h-9.57zM304.88 230.2h9.57v1.05h-9.57zM323.91 230.2h9.57v1.05h-9.57zM162.15 231.2h9.57v1.05h-9.57zM333.42 231.2h9.57v1.05h-9.57zM352.45 231.2h9.57v1.05h-9.57zM162.15 232.2h19.08v1.55h-19.08zM190.7 232.2h9.57v1.55h-9.57zM200.21 235.2h9.57v2.05h-9.57zM257.3 235.2h19.08v2.05h-19.08zM285.85 235.2h9.57v2.05h-9.57zM314.39 235.2h9.57v2.05h-9.57zM342.94 237.2h9.57v1.05h-9.57zM200.21 238.2h19.08v1.05h-19.08zM266.82 238.2h9.57v1.05h-9.57zM333.42 238.2h19.08v1.05h-19.08zM200.21 239.2h9.57v3.05h-9.57zM257.3 239.2h19.08v3.05h-19.08zM209.73 242.2h9.57v1.55h-9.57zM333.42 242.2h9.57v1.55h-9.57zM285.85 243.7h9.57v3.05h-9.57zM200.21 246.7h19.08v2.05h-19.08zM314.39 246.7h9.57v2.05h-9.57zM285.85 249.7h9.57v2.05h-9.57zM181.18 251.7h9.57v1.55h-9.57zM295.36 251.7h9.57v1.55h-9.57zM352.45 251.7h9.57v1.55h-9.57zM200.21 253.2h9.57v1.05h-9.57zM247.79 253.2h9.57v1.05h-9.57zM276.33 253.2h9.57v1.05h-9.57zM295.36 254.2h19.08v2.05h-19.08zM162.15 256.2h19.08v1.55h-19.08zM361.97 257.7h19.08v1.05h-19.08zM276.33 259.7h9.57v1.05h-9.57zM171.67 260.7h9.57v1.05h-9.57zM228.76 260.7h9.57v1.05h-9.57zM247.79 260.7h9.57v1.05h-9.57zM276.33 260.7h9.57v1.05h-9.57zM171.67 261.7h9.57v1.05h-9.57zM190.7 262.7h9.57v1.05h-9.57zM209.73 262.7h9.57v1.05h-9.57zM266.82 262.7h9.57v1.05h-9.57zM276.33 263.7h9.57v2.05h-9.57zM171.67 265.7h9.57v1.05h-9.57zM209.73 265.7h9.57v1.05h-9.57zM361.97 265.7h9.57v1.05h-9.57zM171.67 267.7h9.57v1.55h-9.57zM190.7 267.7h9.57v1.55h-9.57zM314.39 267.7h9.57v1.55h-9.57zM276.33 269.2h19.08v3.05h-19.08zM352.45 269.2h9.57v3.05h-9.57zM238.27 272.2h9.57v2.05h-9.57zM333.42 272.2h9.57v2.05h-9.57zM171.67 275.2h9.57v1.05h-9.57zM171.67 276.2h9.57v1.05h-9.57zM190.7 276.2h19.08v1.05h-19.08zM276.33 276.2h9.57v1.05h-9.57zM342.94 277.2h9.57v1.05h-9.57zM361.97 277.2h9.57v1.05h-9.57zM162.15 278.2h19.08v1.05h-19.08zM190.7 278.2h9.57v1.05h-9.57zM285.85 278.2h9.57v1.05h-9.57zM200.21 279.2h19.08v1.55h-19.08zM276.33 279.2h9.57v1.55h-9.57zM333.42 279.2h9.57v1.55h-9.57zM371.48 279.2h9.57v1.55h-9.57zM181.18 280.7h9.57v2.05h-9.57zM209.73 280.7h9.57v2.05h-9.57zM247.79 280.7h9.57v2.05h-9.57zM209.73 282.7h9.57v1.05h-9.57zM361.97 283.7h9.57v2.05h-9.57zM276.33 285.7h9.57v2.05h-9.57zM162.15 287.7h9.57v1.05h-9.57zM190.7 287.7h9.57v1.05h-9.57zM162.15 288.7h9.57v1.05h-9.57zM171.67 289.7h9.57v2.05h-9.57zM171.67 291.7h9.57v3.05h-9.57zM352.45 294.7h9.57v2.05h-9.57zM361.97 296.7h19.08v2.05h-19.08zM304.88 300.7h9.57v2.05h-9.57zM352.45 300.7h9.57v2.05h-9.57zM323.91 302.7h9.57v2.05h-9.57zM171.67 304.7h9.57v1.05h-9.57zM200.21 305.7h9.57v1.55h-9.57zM361.97 305.7h19.08v1.55h-19.08zM266.82 307.2h19.08v3.05h-19.08zM219.24 310.2h9.57v3.05h-9.57zM285.85 310.2h9.57v3.05h-9.57zM171.67 313.2h9.57v3.05h-9.57zM228.76 313.2h19.08v3.05h-19.08zM333.42 318.2h9.57v3.05h-9.57zM219.24 321.2h9.57v2.05h-9.57zM304.88 321.2h19.08v2.05h-19.08zM162.15 323.2h19.08v1.55h-19.08zM342.94 323.2h9.57v1.55h-9.57zM219.24 324.7h9.57v1.55h-9.57zM333.42 324.7h19.08v1.55h-19.08zM181.18 326.2h9.57v1.55h-9.57zM219.24 326.2h19.08v1.55h-19.08zM162.15 327.7h9.57v1.55h-9.57zM209.73 327.7h9.57v1.55h-9.57zM238.27 327.7h9.57v1.55h-9.57zM285.85 327.7h9.57v1.55h-9.57zM219.24 329.2h9.57v1.05h-9.57zM171.67 330.2h9.57v1.55h-9.57zM190.7 330.2h9.57v1.55h-9.57zM219.24 330.2h9.57v1.55h-9.57zM209.73 331.7h9.57v2.05h-9.57zM219.24 333.7h9.57v1.55h-9.57zM162.15 335.2h9.57v1.05h-9.57zM285.85 335.2h9.57v1.05h-9.57zM285.85 337.2h9.57v1.05h-9.57zM181.18 338.2h9.57v1.05h-9.57zM209.73 338.2h9.57v1.05h-9.57zM361.97 338.2h9.57v1.05h-9.57zM181.18 340.7h9.57v1.05h-9.57zM228.76 340.7h19.08v1.05h-19.08zM266.82 340.7h9.57v1.05h-9.57zM171.67 341.7h9.57v1.05h-9.57zM228.76 341.7h9.57v1.05h-9.57zM285.85 341.7h9.57v1.05h-9.57zM371.48 341.7h9.57v1.05h-9.57zM314.39 342.7h9.57v1.05h-9.57zM200.21 343.7h9.57v2.05h-9.57zM247.79 343.7h9.57v2.05h-9.57zM266.82 343.7h9.57v2.05h-9.57zM323.91 343.7h9.57v2.05h-9.57zM181.18 345.7h9.57v1.05h-9.57zM371.48 345.7h9.57v1.05h-9.57zM171.67 346.7h9.57v1.05h-9.57zM361.97 347.7h9.57v1.05h-9.57zM228.76 348.7h9.57v2.05h-9.57zM238.27 350.7h9.57v1.05h-9.57zM257.3 350.7h9.57v1.05h-9.57zM314.39 351.7h9.57v2.05h-9.57zM219.24 353.7h9.57v1.05h-9.57zM314.39 353.7h9.57v1.05h-9.57zM371.48 353.7h9.57v1.05h-9.57zM219.24 355.7h19.08v2.05h-19.08zM304.88 355.7h9.57v2.05h-9.57zM190.7 358.7h9.57v1.05h-9.57zM228.76 358.7h9.57v1.05h-9.57zM304.88 358.7h9.57v1.05h-9.57zM171.67 359.7h9.57v3.05h-9.57zM361.97 359.7h9.57v3.05h-9.57zM228.76 362.7h9.57v1.05h-9.57zM219.24 363.7h9.57v2.05h-9.57zM247.79 363.7h9.57v2.05h-9.57zM219.24 367.2h9.57v1.05h-9.57zM181.18 368.2h9.57v2.05h-9.57zM219.24 368.2h9.57v2.05h-9.57zM219.24 370.2h19.08v1.05h-19.08zM285.85 370.2h9.57v1.05h-9.57zM162.15 371.2h9.57v1.05h-9.57zM200.21 372.2h9.57v2.05h-9.57zM371.48 374.2h9.57v1.05h-9.57zM171.67 375.2h9.57v1.55h-9.57zM219.24 375.2h28.6v1.55h-28.6zM228.76 376.7h9.57v1.05h-9.57zM171.67 377.7h9.57v1.05h-9.57zM190.7 377.7h9.57v1.05h-9.57zM323.91 377.7h9.57v1.05h-9.57zM314.39 378.7h9.57v3.05h-9.57zM228.76 381.7h9.57v1.55h-9.57zM285.85 384.7h9.57v1.55h-9.57zM304.88 384.7h9.57v1.55h-9.57zM323.91 384.7h9.57v1.55h-9.57zM228.76 386.2h19.08v1.55h-19.08zM266.82 386.2h9.57v1.55h-9.57zM304.88 387.7h9.57v1.05h-9.57zM228.76 388.7h19.08v1.05h-19.08zM219.24 389.7h9.57v1.05h-9.57zM266.82 389.7h9.57v1.05h-9.57zM285.85 389.7h9.57v1.05h-9.57zM181.18 393.7h9.57v1.05h-9.57zM228.76 393.7h9.57v1.05h-9.57zM352.45 393.7h9.57v1.05h-9.57zM228.76 394.7h19.08v2.05h-19.08zM181.18 396.7h9.57v1.05h-9.57zM257.3 397.7h38.11v1.55h-38.11zM333.42 399.2h9.57v3.05h-9.57zM171.67 404.2h9.57v1.05h-9.57zM190.7 404.2h9.57v1.05h-9.57zM219.24 404.2h9.57v1.05h-9.57zM247.79 404.2h9.57v1.05h-9.57zM314.39 405.2h19.08v2.05h-19.08zM333.42 407.2h9.57v1.05h-9.57zM219.24 409.2h9.57v2.05h-9.57zM238.27 409.2h9.57v2.05h-9.57zM295.36 409.2h9.57v2.05h-9.57zM371.48 409.2h9.57v2.05h-9.57zM200.21 412.2h9.57v1.05h-9.57zM257.3 412.2h9.57v1.05h-9.57zM200.21 415.2h19.08v2.05h-19.08zM247.79 415.2h9.57v2.05h-9.57zM276.33 415.2h9.57v2.05h-9.57zM190.7 417.2h9.57v1.05h-9.57zM266.82 417.2h19.08v1.05h-19.08zM124.09 424.2h9.57v2.05h-9.57zM323.91 424.2h9.57v2.05h-9.57z"/>
<path fill="#cfe7f3" d="M228.76 78.2h9.57v2.05h-9.57zM361.97 111.7h9.57v1.55h-9.57zM67 121.7h9.57v1.05h-9.57zM124.09 139.2h9.57v3.05h-9.57zM143.12 139.2h19.08v3.05h-19.08zM124.09 144.2h9.57v2.05h-9.57zM76.52 152.2h9.57v1.05h-9.57zM143.12 153.2h9.57v1.05h-9.57zM76.52 154.2h9.57v2.05h-9.57zM124.09 156.2h9.57v1.05h-9.57zM143.12 156.2h9.57v1.05h-9.57zM67 159.2h9.57v1.55h-9.57zM152.64 162.7h9.57v3.05h-9.57zM114.58 165.7h9.57v1.55h-9.57zM152.64 165.7h9.57v1.55h-9.57zM105.06 172.2h9.57v1.05h-9.57zM114.58 176.7h9.57v2.05h-9.57zM114.58 184.7h9.57v1.05h-9.57zM105.06 189.7h19.08v2.05h-19.08zM114.58 196.2h9.57v1.05h-9.57zM86.03 199.2h9.57v1.55h-9.57zM67 202.7h9.57v1.05h-9.57zM114.58 203.7h9.57v1.05h-9.57zM152.64 204.7h9.57v1.55h-9.57zM105.06 206.2h9.57v1.05h-9.57zM133.61 208.2h9.57v2.05h-9.57zM67 212.7h9.57v1.05h-9.57zM143.12 212.7h9.57v1.05h-9.57zM76.52 230.2h9.57v1.05h-9.57zM67 232.2h9.57v1.55h-9.57zM152.64 233.7h9.57v1.55h-9.57zM76.52 237.2h9.57v1.05h-9.57zM114.58 242.2h9.57v1.55h-9.57zM105.06 253.2h9.57v1.05h-9.57zM76.52 256.2h9.57v1.55h-9.57zM95.55 256.2h9.57v1.55h-9.57zM152.64 256.2h9.57v1.55h-9.57zM133.61 259.7h9.57v1.05h-9.57zM152.64 259.7h9.57v1.05h-9.57zM76.52 260.7h9.57v1.05h-9.57zM114.58 260.7h9.57v1.05h-9.57zM105.06 261.7h9.57v1.05h-9.57zM86.03 262.7h9.57v1.05h-9.57zM105.06 265.7h9.57v1.05h-9.57zM124.09 266.7h9.57v1.05h-9.57zM114.58 269.2h9.57v3.05h-9.57zM67 272.2h9.57v2.05h-9.57zM143.12 272.2h9.57v2.05h-9.57zM124.09 274.2h9.57v1.05h-9.57zM124.09 275.2h9.57v1.05h-9.57zM67 282.7h9.57v1.05h-9.57zM152.64 283.7h9.57v2.05h-9.57zM76.52 285.7h9.57v2.05h-9.57zM152.64 285.7h9.57v2.05h-9.57zM152.64 288.7h9.57v1.05h-9.57zM114.58 291.7h9.57v3.05h-9.57zM152.64 291.7h9.57v3.05h-9.57zM114.58 294.7h9.57v2.05h-9.57zM114.58 296.7h9.57v2.05h-9.57zM114.58 302.7h9.57v2.05h-9.57zM76.52 304.7h9.57v1.05h-9.57zM105.06 313.2h9.57v3.05h-9.57zM86.03 316.2h9.57v2.05h-9.57zM67 318.2h9.57v3.05h-9.57zM95.55 318.2h9.57v3.05h-9.57zM152.64 318.2h9.57v3.05h-9.57zM105.06 324.7h19.08v1.55h-19.08zM124.09 331.7h9.57v2.05h-9.57zM105.06 333.7h9.57v1.55h-9.57zM105.06 337.2h19.08v1.05h-19.08zM133.61 338.2h9.57v1.05h-9.57zM86.03 340.7h9.57v1.05h-9.57zM67 345.7h9.57v1.05h-9.57zM152.64 345.7h9.57v1.05h-9.57zM124.09 347.7h9.57v1.05h-9.57zM76.52 350.7h9.57v1.05h-9.57zM124.09 357.7h9.57v1.05h-9.57zM124.09 358.7h9.57v1.05h-9.57zM95.55 359.7h9.57v3.05h-9.57zM114.58 359.7h9.57v3.05h-9.57zM67 362.7h9.57v1.05h-9.57zM143.12 365.7h9.57v1.55h-9.57zM105.06 367.2h9.57v1.05h-9.57zM67 371.2h9.57v1.05h-9.57zM114.58 374.2h9.57v1.05h-9.57zM114.58 378.7h9.57v3.05h-9.57zM114.58 381.7h9.57v1.55h-9.57zM133.61 381.7h9.57v1.55h-9.57zM133.61 383.2h9.57v1.55h-9.57zM105.06 388.7h9.57v1.05h-9.57zM114.58 390.7h9.57v1.05h-9.57zM143.12 390.7h19.08v1.05h-19.08zM124.09 393.7h19.08v1.05h-19.08zM124.09 396.7h19.08v1.05h-19.08zM152.64 396.7h9.57v1.05h-9.57zM105.06 399.2h19.08v3.05h-19.08zM124.09 404.2h19.08v1.05h-19.08zM67 405.2h9.57v2.05h-9.57zM133.61 405.2h9.57v2.05h-9.57zM152.64 407.2h9.57v1.05h-9.57zM67 408.2h9.57v1.05h-9.57zM67 430.2h9.57v1.45h-9.57z"/>
<path fill="#f0f9de" d="M266.82 78.2h9.57v2.05h-9.57zM295.36 78.2h9.57v2.05h-9.57zM181.18 82.2h9.57v1.55h-9.57zM162.15 86.7h19.08v1.05h-19.08zM219.24 86.7h9.57v1.05h-9.57zM266.82 86.7h9.57v1.05h-9.57zM162.15 89.2h9.57v2.05h-9.57zM190.7 91.2h9.57v1.55h-9.57zM171.67 92.7h9.57v1.05h-9.57zM266.82 92.7h9.57v1.05h-9.57zM266.82 93.7h9.57v1.05h-9.57zM285.85 99.7h9.57v2.05h-9.57zM181.18 104.7h9.57v1.05h-9.57zM247.79 104.7h9.57v1.05h-9.57zM285.85 104.7h9.57v1.05h-9.57zM314.39 104.7h9.57v1.05h-9.57zM209.73 105.7h9.57v1.05h-9.57zM247.79 106.7h9.57v2.05h-9.57zM152.64 133.7h9.57v1.55h-9.57zM114.58 135.2h9.57v1.05h-9.57z"/>
<path fill="#fcffc6" d="M342.94 78.2h9.57v2.05h-9.57zM371.48 80.2h9.57v2.05h-9.57zM304.88 86.7h9.57v1.05h-9.57zM323.91 91.2h9.57v1.55h-9.57zM361.97 92.7h9.57v1.05h-9.57zM352.45 93.7h9.57v1.05h-9.57zM352.45 94.7h9.57v1.05h-9.57zM304.88 101.7h9.57v3.05h-9.57zM352.45 101.7h9.57v3.05h-9.57zM371.48 104.7h9.57v1.05h-9.57zM361.97 106.7h9.57v2.05h-9.57zM171.67 111.7h9.57v1.55h-9.57zM190.7 114.2h9.57v2.05h-9.57zM228.76 114.2h9.57v2.05h-9.57zM257.3 116.2h19.08v1.55h-19.08zM181.18 118.7h9.57v2.05h-9.57zM200.21 118.7h9.57v2.05h-9.57zM247.79 118.7h9.57v2.05h-9.57zM257.3 120.7h9.57v1.05h-9.57zM276.33 120.7h9.57v1.05h-9.57zM95.55 121.7h9.57v1.05h-9.57zM219.24 121.7h9.57v1.05h-9.57zM238.27 121.7h9.57v1.05h-9.57zM171.67 127.2h9.57v3.05h-9.57zM171.67 130.2h9.57v1.05h-9.57zM238.27 130.2h9.57v1.05h-9.57zM162.15 131.2h9.57v1.05h-9.57zM190.7 131.2h9.57v1.05h-9.57zM219.24 131.2h9.57v1.05h-9.57zM247.79 131.2h9.57v1.05h-9.57zM276.33 131.2h9.57v1.05h-9.57zM162.15 132.2h19.08v1.55h-19.08zM257.3 132.2h9.57v1.55h-9.57zM266.82 133.7h9.57v1.55h-9.57zM257.3 135.2h9.57v1.05h-9.57zM247.79 136.2h9.57v2.05h-9.57zM200.21 138.2h9.57v1.05h-9.57zM266.82 138.2h9.57v1.05h-9.57zM228.76 139.2h9.57v3.05h-9.57zM247.79 139.2h9.57v3.05h-9.57zM95.55 274.2h9.57v1.05h-9.57zM333.42 397.7h9.57v1.55h-9.57zM295.36 413.2h9.57v2.05h-9.57zM285.85 418.2h9.57v3.05h-9.57zM342.94 418.2h9.57v3.05h-9.57zM295.36 424.2h9.57v2.05h-9.57z"/>
<path fill="#ffcf87" d="M86.03 80.2h9.57v2.05h-9.57zM314.39 266.7h9.57v1.05h-9.57z"/>
<path fill="#edf6e4" d="M219.24 80.2h9.57v2.05h-9.57zM181.18 91.2h9.57v1.55h-9.57zM190.7 105.7h9.57v1.05h-9.57zM76.52 132.2h9.57v1.55h-9.57zM105.06 133.7h9.57v1.55h-9.57zM152.64 251.7h9.57v1.55h-9.57zM67 424.2h9.57v2.05h-9.57z"/>
<path fill="#cce4f0" d="M228.76 80.2h9.57v2.05h-9.57zM105.06 144.2h9.57v2.05h-9.57zM76.52 146.2h9.57v3.05h-9.57zM105.06 154.2h9.57v2.05h-9.57zM105.06 162.7h9.57v3.05h-9.57zM133.61 165.7h9.57v1.55h-9.57zM105.06 185.7h9.57v2.05h-9.57zM152.64 197.2h9.57v2.05h-9.57zM76.52 200.7h9.57v2.05h-9.57zM105.06 204.7h9.57v1.55h-9.57zM114.58 211.2h9.57v1.55h-9.57zM152.64 218.7h9.57v1.05h-9.57zM95.55 221.7h19.08v1.05h-19.08zM152.64 230.2h9.57v1.05h-9.57zM67 242.2h9.57v1.55h-9.57zM105.06 242.2h9.57v1.55h-9.57zM67 243.7h9.57v3.05h-9.57zM105.06 248.7h9.57v1.05h-9.57zM114.58 256.2h9.57v1.55h-9.57zM76.52 259.7h9.57v1.05h-9.57zM67 261.7h9.57v1.05h-9.57zM114.58 266.7h9.57v1.05h-9.57zM76.52 272.2h9.57v2.05h-9.57zM152.64 278.2h9.57v1.05h-9.57zM114.58 288.7h9.57v1.05h-9.57zM114.58 300.7h9.57v2.05h-9.57zM105.06 304.7h9.57v1.05h-9.57zM105.06 318.2h9.57v3.05h-9.57zM105.06 329.2h9.57v1.05h-9.57zM105.06 335.2h9.57v1.05h-9.57zM114.58 338.2h9.57v1.05h-9.57zM76.52 341.7h9.57v1.05h-9.57zM114.58 348.7h9.57v2.05h-9.57zM95.55 357.7h9.57v1.05h-9.57zM95.55 381.7h9.57v1.55h-9.57zM105.06 383.2h9.57v1.55h-9.57zM133.61 387.7h19.08v1.05h-19.08zM67 391.7h9.57v2.05h-9.57zM152.64 397.7h9.57v1.55h-9.57zM152.64 404.2h9.57v1.05h-9.57zM114.58 405.2h9.57v2.05h-9.57zM76.52 407.2h9.57v1.05h-9.57z"/>
<path fill="#ffe193" d="M67 82.2h9.57v1.55h-9.57zM124.09 89.2h9.57v2.05h-9.57zM124.09 91.2h9.57v1.55h-9.57zM152.64 94.7h9.57v1.05h-9.57zM76.52 95.7h9.57v3.05h-9.57zM124.09 99.7h9.57v2.05h-9.57zM152.64 104.7h9.57v1.05h-9.57zM152.64 106.7h9.57v2.05h-9.57zM143.12 116.2h9.57v1.55h-9.57zM86.03 117.7h9.57v1.05h-9.57zM285.85 118.7h9.57v2.05h-9.57zM333.42 121.7h9.57v1.05h-9.57zM285.85 122.7h9.57v2.05h-9.57zM285.85 124.7h9.57v1.55h-9.57zM361.97 127.2h9.57v3.05h-9.57zM333.42 132.2h9.57v1.55h-9.57zM333.42 133.7h9.57v1.55h-9.57zM295.36 135.2h9.57v1.05h-9.57zM295.36 136.2h9.57v2.05h-9.57zM333.42 138.2h9.57v1.05h-9.57zM323.91 139.2h9.57v3.05h-9.57zM304.88 142.2h9.57v2.05h-9.57zM323.91 142.2h9.57v2.05h-9.57zM304.88 153.2h9.57v1.05h-9.57zM285.85 154.2h19.08v2.05h-19.08zM314.39 160.7h9.57v2.05h-9.57zM371.48 171.2h9.57v1.05h-9.57zM371.48 178.7h9.57v1.05h-9.57zM342.94 185.7h9.57v2.05h-9.57zM295.36 187.7h9.57v2.05h-9.57zM314.39 187.7h9.57v2.05h-9.57zM371.48 196.2h9.57v1.05h-9.57zM314.39 202.7h9.57v1.05h-9.57zM333.42 202.7h19.08v1.05h-19.08zM323.91 203.7h9.57v1.05h-9.57zM314.39 206.2h9.57v1.05h-9.57zM323.91 208.2h9.57v2.05h-9.57zM323.91 213.7h9.57v1.05h-9.57zM323.91 217.7h9.57v1.05h-9.57zM314.39 218.7h9.57v1.05h-9.57zM285.85 224.2h9.57v1.55h-9.57zM323.91 231.2h9.57v1.05h-9.57zM285.85 238.2h9.57v1.05h-9.57zM295.36 239.2h9.57v3.05h-9.57zM314.39 248.7h9.57v1.05h-9.57zM285.85 257.7h19.08v1.05h-19.08zM304.88 261.7h9.57v1.05h-9.57zM371.48 262.7h9.57v1.05h-9.57zM314.39 272.2h9.57v2.05h-9.57zM333.42 278.2h9.57v1.05h-9.57zM314.39 279.2h19.08v1.55h-19.08zM314.39 283.7h9.57v2.05h-9.57zM323.91 285.7h9.57v2.05h-9.57zM342.94 287.7h9.57v1.05h-9.57zM371.48 287.7h9.57v1.05h-9.57zM314.39 294.7h9.57v2.05h-9.57zM304.88 296.7h9.57v2.05h-9.57zM342.94 298.7h9.57v2.05h-9.57zM323.91 305.7h9.57v1.55h-9.57zM323.91 307.2h9.57v3.05h-9.57zM361.97 316.2h9.57v2.05h-9.57zM257.3 318.2h9.57v3.05h-9.57zM323.91 327.7h9.57v1.55h-9.57zM304.88 330.2h9.57v1.55h-9.57zM285.85 336.2h9.57v1.05h-9.57zM276.33 337.2h9.57v1.05h-9.57zM285.85 348.7h9.57v2.05h-9.57zM285.85 350.7h19.08v1.05h-19.08zM257.3 357.7h9.57v1.05h-9.57zM190.7 376.7h9.57v1.05h-9.57zM257.3 378.7h9.57v3.05h-9.57zM285.85 381.7h9.57v1.55h-9.57zM314.39 383.2h9.57v1.55h-9.57zM285.85 386.2h9.57v1.55h-9.57zM285.85 393.7h9.57v1.05h-9.57zM190.7 408.2h9.57v1.05h-9.57zM295.36 408.2h19.08v1.05h-19.08zM171.67 411.2h9.57v1.05h-9.57zM190.7 412.2h9.57v1.05h-9.57zM86.03 418.2h9.57v3.05h-9.57zM361.97 430.2h9.57v1.45h-9.57z"/>
<path fill="#fcb172" d="M86.03 82.2h9.57v1.55h-9.57zM323.91 121.7h9.57v1.05h-9.57zM371.48 126.2h9.57v1.05h-9.57zM323.91 180.7h9.57v2.05h-9.57z"/>
<path fill="#f98754" d="M95.55 82.2h9.57v1.55h-9.57z"/>
<path fill="#ffe190" d="M152.64 82.2h9.57v1.55h-9.57zM76.52 86.7h9.57v1.05h-9.57zM133.61 87.7h9.57v1.55h-9.57zM86.03 92.7h9.57v1.05h-9.57zM105.06 92.7h9.57v1.05h-9.57zM124.09 93.7h19.08v1.05h-19.08zM304.88 121.7h9.57v1.05h-9.57zM342.94 121.7h9.57v1.05h-9.57zM333.42 122.7h9.57v2.05h-9.57zM371.48 132.2h9.57v1.55h-9.57zM295.36 138.2h9.57v1.05h-9.57zM295.36 142.2h9.57v2.05h-9.57zM323.91 152.2h9.57v1.05h-9.57zM304.88 168.2h9.57v3.05h-9.57zM295.36 176.7h9.57v2.05h-9.57zM295.36 185.7h9.57v2.05h-9.57zM285.85 187.7h9.57v2.05h-9.57zM314.39 194.7h9.57v1.55h-9.57zM295.36 204.7h9.57v1.55h-9.57zM371.48 213.7h9.57v1.05h-9.57zM323.91 219.7h9.57v2.05h-9.57zM304.88 238.2h9.57v1.05h-9.57zM371.48 238.2h9.57v1.05h-9.57zM304.88 239.2h9.57v3.05h-9.57zM371.48 251.7h9.57v1.55h-9.57zM323.91 254.2h9.57v2.05h-9.57zM285.85 256.2h9.57v1.55h-9.57zM285.85 266.7h9.57v1.05h-9.57zM323.91 269.2h9.57v3.05h-9.57zM323.91 283.7h9.57v2.05h-9.57zM314.39 300.7h9.57v2.05h-9.57zM371.48 316.2h9.57v2.05h-9.57zM314.39 324.7h9.57v1.55h-9.57zM323.91 336.2h9.57v1.05h-9.57zM314.39 347.7h9.57v1.05h-9.57zM304.88 348.7h9.57v2.05h-9.57zM323.91 350.7h9.57v1.05h-9.57zM295.36 351.7h9.57v2.05h-9.57zM314.39 362.7h9.57v1.05h-9.57zM323.91 375.2h9.57v1.55h-9.57zM276.33 383.2h9.57v1.55h-9.57zM314.39 390.7h9.57v1.05h-9.57zM323.91 408.2h9.57v1.05h-9.57zM323.91 409.2h9.57v2.05h-9.57zM67 415.2h9.57v2.05h-9.57zM95.55 426.2h9.57v3.05h-9.57zM371.48 429.2h9.57v1.05h-9.57zM95.55 430.2h9.57v1.45h-9.57z"/>
<path fill="#f67e51" d="M95.55 83.7h9.57v3.05h-9.57zM323.91 124.7h9.57v1.55h-9.57z"/>
<path fill="#ffeda5" d="M124.09 83.7h9.57v3.05h-9.57zM124.09 86.7h9.57v1.05h-9.57zM76.52 105.7h9.57v1.05h-9.57zM143.12 105.7h9.57v1.05h-9.57zM76.52 113.2h9.57v1.05h-9.57zM95.55 116.2h9.57v1.55h-9.57zM247.79 116.2h9.57v1.55h-9.57zM352.45 124.7h9.57v1.55h-9.57zM361.97 130.2h9.57v1.05h-9.57zM352.45 131.2h9.57v1.05h-9.57zM190.7 135.2h19.08v1.05h-19.08zM361.97 135.2h9.57v1.05h-9.57zM361.97 136.2h9.57v2.05h-9.57zM361.97 139.2h9.57v3.05h-9.57zM171.67 142.2h9.57v2.05h-9.57zM181.18 144.2h9.57v2.05h-9.57zM200.21 144.2h19.08v2.05h-19.08zM247.79 144.2h9.57v2.05h-9.57zM266.82 144.2h9.57v2.05h-9.57zM295.36 144.2h9.57v2.05h-9.57zM361.97 144.2h9.57v2.05h-9.57zM181.18 146.2h9.57v3.05h-9.57zM200.21 146.2h19.08v3.05h-19.08zM333.42 146.2h9.57v3.05h-9.57zM171.67 149.2h9.57v3.05h-9.57zM190.7 149.2h9.57v3.05h-9.57zM219.24 149.2h9.57v3.05h-9.57zM247.79 149.2h9.57v3.05h-9.57zM285.85 149.2h19.08v3.05h-19.08zM361.97 149.2h9.57v3.05h-9.57zM162.15 152.2h19.08v1.05h-19.08zM190.7 152.2h9.57v1.05h-9.57zM352.45 152.2h19.08v1.05h-19.08zM333.42 153.2h9.57v1.05h-9.57zM200.21 154.2h9.57v2.05h-9.57zM266.82 154.2h9.57v2.05h-9.57zM209.73 156.2h9.57v1.05h-9.57zM276.33 156.2h9.57v1.05h-9.57zM295.36 156.2h9.57v1.05h-9.57zM200.21 157.2h9.57v2.05h-9.57zM162.15 159.2h9.57v1.55h-9.57zM200.21 159.2h9.57v1.55h-9.57zM342.94 159.2h19.08v1.55h-19.08zM304.88 160.7h9.57v2.05h-9.57zM200.21 162.7h19.08v3.05h-19.08zM247.79 162.7h19.08v3.05h-19.08zM285.85 162.7h9.57v3.05h-9.57zM190.7 165.7h9.57v1.55h-9.57zM247.79 165.7h9.57v1.55h-9.57zM171.67 167.2h9.57v1.05h-9.57zM276.33 168.2h9.57v3.05h-9.57zM162.15 171.2h9.57v1.05h-9.57zM247.79 171.2h19.08v1.05h-19.08zM276.33 171.2h9.57v1.05h-9.57zM209.73 172.2h9.57v1.05h-9.57zM257.3 172.2h9.57v1.05h-9.57zM276.33 172.2h9.57v1.05h-9.57zM361.97 172.2h9.57v1.05h-9.57zM285.85 173.2h9.57v1.55h-9.57zM285.85 174.7h9.57v2.05h-9.57zM228.76 176.7h9.57v2.05h-9.57zM209.73 178.7h9.57v1.05h-9.57zM276.33 178.7h19.08v1.05h-19.08zM333.42 178.7h9.57v1.05h-9.57zM285.85 179.7h9.57v1.05h-9.57zM333.42 180.7h9.57v2.05h-9.57zM352.45 180.7h9.57v2.05h-9.57zM200.21 182.7h19.08v2.05h-19.08zM266.82 182.7h9.57v2.05h-9.57zM171.67 184.7h9.57v1.05h-9.57zM209.73 184.7h9.57v1.05h-9.57zM371.48 184.7h9.57v1.05h-9.57zM171.67 187.7h19.08v2.05h-19.08zM352.45 189.7h9.57v2.05h-9.57zM162.15 191.7h19.08v3.05h-19.08zM285.85 191.7h9.57v3.05h-9.57zM162.15 194.7h9.57v1.55h-9.57zM285.85 194.7h9.57v1.55h-9.57zM304.88 194.7h9.57v1.55h-9.57zM200.21 196.2h19.08v1.05h-19.08zM209.73 197.2h9.57v2.05h-9.57zM257.3 197.2h19.08v2.05h-19.08zM285.85 197.2h9.57v2.05h-9.57zM200.21 199.2h9.57v1.55h-9.57zM257.3 199.2h9.57v1.55h-9.57zM276.33 199.2h9.57v1.55h-9.57zM200.21 200.7h19.08v2.05h-19.08zM257.3 200.7h9.57v2.05h-9.57zM314.39 200.7h9.57v2.05h-9.57zM162.15 202.7h19.08v1.05h-19.08zM181.18 203.7h9.57v1.05h-9.57zM200.21 203.7h19.08v1.05h-19.08zM247.79 203.7h28.6v1.05h-28.6zM276.33 204.7h9.57v1.55h-9.57zM181.18 206.2h9.57v1.05h-9.57zM247.79 206.2h9.57v1.05h-9.57zM266.82 206.2h9.57v1.05h-9.57zM285.85 206.2h9.57v1.05h-9.57zM304.88 206.2h9.57v1.05h-9.57zM333.42 206.2h19.08v1.05h-19.08zM266.82 207.2h19.08v1.05h-19.08zM181.18 208.2h19.08v2.05h-19.08zM209.73 210.2h9.57v1.05h-9.57zM162.15 211.2h9.57v1.55h-9.57zM200.21 211.2h19.08v1.55h-19.08zM371.48 211.2h9.57v1.55h-9.57zM181.18 212.7h9.57v1.05h-9.57zM257.3 212.7h9.57v1.05h-9.57zM219.24 213.7h9.57v1.05h-9.57zM238.27 213.7h19.08v1.05h-19.08zM285.85 213.7h9.57v1.05h-9.57zM333.42 213.7h19.08v1.05h-19.08zM190.7 214.7h9.57v3.05h-9.57zM361.97 214.7h19.08v3.05h-19.08zM209.73 217.7h9.57v1.05h-9.57zM238.27 217.7h9.57v1.05h-9.57zM162.15 218.7h19.08v1.05h-19.08zM247.79 218.7h9.57v1.05h-9.57zM181.18 219.7h9.57v2.05h-9.57zM295.36 219.7h19.08v2.05h-19.08zM181.18 221.7h9.57v1.05h-9.57zM314.39 221.7h9.57v1.05h-9.57zM342.94 221.7h9.57v1.05h-9.57zM181.18 222.7h9.57v1.55h-9.57zM247.79 222.7h9.57v1.55h-9.57zM352.45 222.7h9.57v1.55h-9.57zM371.48 222.7h9.57v1.55h-9.57zM162.15 224.2h9.57v1.55h-9.57zM200.21 224.2h9.57v1.55h-9.57zM276.33 224.2h9.57v1.55h-9.57zM361.97 224.2h9.57v1.55h-9.57zM171.67 225.7h9.57v3.05h-9.57zM190.7 225.7h9.57v3.05h-9.57zM209.73 225.7h9.57v3.05h-9.57zM266.82 225.7h9.57v3.05h-9.57zM190.7 228.7h9.57v1.55h-9.57zM238.27 228.7h9.57v1.55h-9.57zM371.48 228.7h9.57v1.55h-9.57zM190.7 230.2h9.57v1.05h-9.57zM314.39 230.2h9.57v1.05h-9.57zM352.45 230.2h9.57v1.05h-9.57zM171.67 231.2h9.57v1.05h-9.57zM342.94 232.2h9.57v1.55h-9.57zM361.97 232.2h9.57v1.55h-9.57zM209.73 233.7h9.57v1.55h-9.57zM285.85 233.7h9.57v1.55h-9.57zM352.45 233.7h9.57v1.55h-9.57zM209.73 235.2h9.57v2.05h-9.57zM247.79 235.2h9.57v2.05h-9.57zM276.33 235.2h9.57v2.05h-9.57zM304.88 235.2h9.57v2.05h-9.57zM352.45 235.2h9.57v2.05h-9.57zM352.45 237.2h9.57v1.05h-9.57zM190.7 238.2h9.57v1.05h-9.57zM257.3 238.2h9.57v1.05h-9.57zM314.39 238.2h9.57v1.05h-9.57zM181.18 239.2h9.57v3.05h-9.57zM209.73 239.2h9.57v3.05h-9.57zM247.79 239.2h9.57v3.05h-9.57zM162.15 242.2h19.08v1.55h-19.08zM190.7 242.2h19.08v1.55h-19.08zM257.3 242.2h28.6v1.55h-28.6zM342.94 242.2h9.57v1.55h-9.57zM181.18 243.7h9.57v3.05h-9.57zM333.42 243.7h9.57v3.05h-9.57zM361.97 243.7h9.57v3.05h-9.57zM247.79 246.7h9.57v2.05h-9.57zM266.82 246.7h9.57v2.05h-9.57zM304.88 246.7h9.57v2.05h-9.57zM361.97 246.7h9.57v2.05h-9.57zM181.18 248.7h9.57v1.05h-9.57zM276.33 248.7h9.57v1.05h-9.57zM361.97 249.7h9.57v2.05h-9.57zM304.88 251.7h9.57v1.55h-9.57zM219.24 253.2h19.08v1.05h-19.08zM266.82 253.2h9.57v1.05h-9.57zM352.45 254.2h9.57v2.05h-9.57zM190.7 258.7h9.57v1.05h-9.57zM209.73 258.7h9.57v1.05h-9.57zM238.27 258.7h9.57v1.05h-9.57zM257.3 258.7h9.57v1.05h-9.57zM276.33 258.7h9.57v1.05h-9.57zM228.76 259.7h19.08v1.05h-19.08zM257.3 259.7h9.57v1.05h-9.57zM190.7 260.7h9.57v1.05h-9.57zM238.27 260.7h9.57v1.05h-9.57zM266.82 260.7h9.57v1.05h-9.57zM181.18 261.7h9.57v1.05h-9.57zM162.15 262.7h19.08v1.05h-19.08zM200.21 262.7h9.57v1.05h-9.57zM247.79 262.7h19.08v1.05h-19.08zM276.33 262.7h9.57v1.05h-9.57zM162.15 265.7h9.57v1.05h-9.57zM190.7 265.7h9.57v1.05h-9.57zM162.15 266.7h9.57v1.05h-9.57zM190.7 266.7h9.57v1.05h-9.57zM371.48 266.7h9.57v1.05h-9.57zM162.15 267.7h9.57v1.55h-9.57zM238.27 267.7h19.08v1.55h-19.08zM266.82 267.7h9.57v1.55h-9.57zM371.48 267.7h9.57v1.55h-9.57zM162.15 269.2h19.08v3.05h-19.08zM190.7 269.2h9.57v3.05h-9.57zM247.79 269.2h19.08v3.05h-19.08zM295.36 269.2h9.57v3.05h-9.57zM228.76 272.2h9.57v2.05h-9.57zM285.85 272.2h9.57v2.05h-9.57zM209.73 274.2h9.57v1.05h-9.57zM285.85 274.2h9.57v1.05h-9.57zM304.88 274.2h9.57v1.05h-9.57zM266.82 275.2h19.08v1.05h-19.08zM304.88 275.2h9.57v1.05h-9.57zM209.73 276.2h9.57v1.05h-9.57zM228.76 276.2h9.57v1.05h-9.57zM333.42 277.2h9.57v1.05h-9.57zM209.73 278.2h9.57v1.05h-9.57zM219.24 279.2h9.57v1.55h-9.57zM361.97 279.2h9.57v1.55h-9.57zM162.15 282.7h9.57v1.05h-9.57zM247.79 282.7h9.57v1.05h-9.57zM276.33 282.7h9.57v1.05h-9.57zM314.39 282.7h9.57v1.05h-9.57zM276.33 283.7h9.57v2.05h-9.57zM266.82 285.7h9.57v2.05h-9.57zM181.18 288.7h9.57v1.05h-9.57zM200.21 288.7h9.57v1.05h-9.57zM276.33 288.7h9.57v1.05h-9.57zM342.94 288.7h9.57v1.05h-9.57zM162.15 289.7h9.57v2.05h-9.57zM257.3 289.7h9.57v2.05h-9.57zM314.39 289.7h9.57v2.05h-9.57zM352.45 289.7h9.57v2.05h-9.57zM285.85 291.7h9.57v3.05h-9.57zM276.33 294.7h9.57v2.05h-9.57zM181.18 296.7h9.57v2.05h-9.57zM257.3 296.7h9.57v2.05h-9.57zM276.33 296.7h9.57v2.05h-9.57zM200.21 298.7h9.57v2.05h-9.57zM285.85 300.7h9.57v2.05h-9.57zM276.33 302.7h38.11v2.05h-38.11zM162.15 304.7h9.57v1.05h-9.57zM200.21 304.7h19.08v1.05h-19.08zM247.79 304.7h38.11v1.05h-38.11zM314.39 304.7h9.57v1.05h-9.57zM371.48 304.7h9.57v1.05h-9.57zM190.7 305.7h9.57v1.55h-9.57zM209.73 305.7h9.57v1.55h-9.57zM247.79 305.7h19.08v1.55h-19.08zM276.33 305.7h9.57v1.55h-9.57zM209.73 307.2h9.57v3.05h-9.57zM238.27 307.2h28.6v3.05h-28.6zM361.97 307.2h9.57v3.05h-9.57zM228.76 310.2h9.57v3.05h-9.57zM181.18 313.2h9.57v3.05h-9.57zM219.24 313.2h9.57v3.05h-9.57zM295.36 313.2h9.57v3.05h-9.57zM219.24 316.2h9.57v2.05h-9.57zM352.45 316.2h9.57v2.05h-9.57zM342.94 318.2h9.57v3.05h-9.57zM323.91 321.2h9.57v2.05h-9.57zM181.18 324.7h9.57v1.55h-9.57zM228.76 324.7h19.08v1.55h-19.08zM285.85 324.7h9.57v1.55h-9.57zM304.88 324.7h9.57v1.55h-9.57zM371.48 324.7h9.57v1.55h-9.57zM285.85 326.2h9.57v1.55h-9.57zM200.21 327.7h9.57v1.55h-9.57zM228.76 327.7h9.57v1.55h-9.57zM247.79 327.7h9.57v1.55h-9.57zM228.76 329.2h19.08v1.05h-19.08zM181.18 330.2h9.57v1.55h-9.57zM228.76 330.2h9.57v1.55h-9.57zM247.79 331.7h9.57v2.05h-9.57zM276.33 331.7h9.57v2.05h-9.57zM333.42 331.7h19.08v2.05h-19.08zM285.85 333.7h9.57v1.55h-9.57zM304.88 335.2h9.57v1.05h-9.57zM228.76 336.2h9.57v1.05h-9.57zM361.97 336.2h9.57v1.05h-9.57zM181.18 337.2h9.57v1.05h-9.57zM247.79 338.2h9.57v1.05h-9.57zM323.91 338.2h9.57v1.05h-9.57zM371.48 338.2h9.57v1.05h-9.57zM371.48 339.2h9.57v1.55h-9.57zM219.24 340.7h9.57v1.05h-9.57zM323.91 340.7h9.57v1.05h-9.57zM342.94 340.7h9.57v1.05h-9.57zM361.97 340.7h9.57v1.05h-9.57zM162.15 341.7h9.57v1.05h-9.57zM190.7 341.7h9.57v1.05h-9.57zM361.97 341.7h9.57v1.05h-9.57zM361.97 342.7h9.57v1.05h-9.57zM162.15 343.7h19.08v2.05h-19.08zM238.27 343.7h9.57v2.05h-9.57zM257.3 343.7h9.57v2.05h-9.57zM171.67 347.7h9.57v1.05h-9.57zM219.24 347.7h19.08v1.05h-19.08zM181.18 348.7h9.57v2.05h-9.57zM181.18 350.7h9.57v1.05h-9.57zM247.79 350.7h9.57v1.05h-9.57zM238.27 353.7h38.11v1.05h-38.11zM247.79 354.7h9.57v1.05h-9.57zM181.18 355.7h9.57v2.05h-9.57zM238.27 355.7h9.57v2.05h-9.57zM285.85 357.7h9.57v1.05h-9.57zM304.88 357.7h9.57v1.05h-9.57zM361.97 357.7h9.57v1.05h-9.57zM162.15 358.7h9.57v1.05h-9.57zM285.85 358.7h9.57v1.05h-9.57zM181.18 362.7h9.57v1.05h-9.57zM219.24 362.7h9.57v1.05h-9.57zM314.39 363.7h9.57v2.05h-9.57zM333.42 363.7h9.57v2.05h-9.57zM219.24 365.7h9.57v1.55h-9.57zM304.88 365.7h9.57v1.55h-9.57zM333.42 367.2h9.57v1.05h-9.57zM228.76 368.2h9.57v2.05h-9.57zM285.85 368.2h9.57v2.05h-9.57zM323.91 370.2h9.57v1.05h-9.57zM342.94 370.2h9.57v1.05h-9.57zM181.18 371.2h9.57v1.05h-9.57zM228.76 371.2h19.08v1.05h-19.08zM371.48 371.2h9.57v1.05h-9.57zM219.24 372.2h28.6v2.05h-28.6zM162.15 374.2h9.57v1.05h-9.57zM361.97 374.2h9.57v1.05h-9.57zM219.24 376.7h9.57v1.05h-9.57zM295.36 376.7h9.57v1.05h-9.57zM333.42 376.7h19.08v1.05h-19.08zM371.48 376.7h9.57v1.05h-9.57zM162.15 377.7h9.57v1.05h-9.57zM371.48 377.7h9.57v1.05h-9.57zM171.67 378.7h9.57v3.05h-9.57zM371.48 381.7h9.57v1.55h-9.57zM304.88 383.2h9.57v1.55h-9.57zM181.18 384.7h9.57v1.55h-9.57zM314.39 384.7h9.57v1.55h-9.57zM181.18 386.2h9.57v1.55h-9.57zM219.24 388.7h9.57v1.05h-9.57zM247.79 388.7h9.57v1.05h-9.57zM162.15 390.7h9.57v1.05h-9.57zM219.24 391.7h19.08v2.05h-19.08zM314.39 391.7h9.57v2.05h-9.57zM219.24 393.7h9.57v1.05h-9.57zM219.24 394.7h9.57v2.05h-9.57zM285.85 396.7h9.57v1.05h-9.57zM238.27 397.7h9.57v1.55h-9.57zM295.36 397.7h9.57v1.55h-9.57zM162.15 399.2h19.08v3.05h-19.08zM342.94 399.2h9.57v3.05h-9.57zM181.18 402.2h9.57v2.05h-9.57zM304.88 402.2h9.57v2.05h-9.57zM295.36 404.2h9.57v1.05h-9.57zM181.18 405.2h9.57v2.05h-9.57zM219.24 405.2h9.57v2.05h-9.57zM238.27 405.2h9.57v2.05h-9.57zM295.36 405.2h9.57v2.05h-9.57zM352.45 407.2h9.57v1.05h-9.57zM181.18 409.2h9.57v2.05h-9.57zM361.97 411.2h9.57v1.05h-9.57zM209.73 412.2h9.57v1.05h-9.57zM266.82 412.2h19.08v1.05h-19.08zM200.21 413.2h9.57v2.05h-9.57zM276.33 413.2h9.57v2.05h-9.57zM238.27 415.2h9.57v2.05h-9.57zM266.82 415.2h9.57v2.05h-9.57zM162.15 417.2h19.08v1.05h-19.08zM238.27 417.2h19.08v1.05h-19.08zM323.91 423.2h9.57v1.05h-9.57zM314.39 424.2h9.57v2.05h-9.57zM171.67 429.2h9.57v1.05h-9.57z"/>
<path fill="#ffd58a" d="M152.64 83.7h9.57v3.05h-9.57zM86.03 87.7h9.57v1.55h-9.57zM152.64 95.7h9.57v3.05h-9.57zM152.64 99.7h9.57v2.05h-9.57zM152.64 105.7h9.57v1.05h-9.57zM152.64 108.7h9.57v1.05h-9.57zM304.88 138.2h9.57v1.05h-9.57zM314.39 149.2h9.57v3.05h-9.57zM304.88 154.2h9.57v2.05h-9.57zM304.88 157.2h9.57v2.05h-9.57zM314.39 196.2h9.57v1.05h-9.57zM323.91 337.2h9.57v1.05h-9.57zM314.39 355.7h9.57v2.05h-9.57zM285.85 372.2h9.57v2.05h-9.57z"/>
<path fill="#f98757" d="M95.55 86.7h9.57v1.05h-9.57zM95.55 108.7h9.57v1.05h-9.57z"/>
<path fill="#ffcc81" d="M67 87.7h9.57v1.55h-9.57z"/>
<path fill="#ffde8d" d="M76.52 87.7h9.57v1.55h-9.57zM124.09 87.7h9.57v1.55h-9.57zM295.36 121.7h9.57v1.05h-9.57zM342.94 122.7h9.57v2.05h-9.57zM285.85 130.2h9.57v1.05h-9.57zM304.88 135.2h9.57v1.05h-9.57zM314.39 144.2h9.57v2.05h-9.57zM314.39 167.2h9.57v1.05h-9.57zM323.91 224.2h9.57v1.55h-9.57zM323.91 225.7h9.57v3.05h-9.57zM295.36 259.7h9.57v1.05h-9.57zM323.91 263.7h9.57v2.05h-9.57zM314.39 274.2h9.57v1.05h-9.57zM314.39 291.7h9.57v3.05h-9.57zM295.36 386.2h9.57v1.55h-9.57z"/>
<path fill="#fcab6c" d="M95.55 87.7h9.57v1.55h-9.57zM314.39 133.7h9.57v1.55h-9.57zM323.91 179.7h9.57v1.05h-9.57zM285.85 287.7h9.57v1.05h-9.57z"/>
<path fill="#ffe493" d="M105.06 87.7h9.57v1.55h-9.57zM342.94 126.2h9.57v1.05h-9.57zM295.36 133.7h9.57v1.55h-9.57zM285.85 146.2h9.57v3.05h-9.57zM295.36 153.2h9.57v1.05h-9.57zM323.91 162.7h9.57v3.05h-9.57zM285.85 176.7h9.57v2.05h-9.57zM323.91 199.2h9.57v1.55h-9.57zM285.85 204.7h9.57v1.55h-9.57zM323.91 207.2h9.57v1.05h-9.57zM323.91 222.7h9.57v1.55h-9.57zM295.36 224.2h9.57v1.55h-9.57zM361.97 238.2h9.57v1.05h-9.57zM361.97 251.7h9.57v1.55h-9.57zM295.36 262.7h9.57v1.05h-9.57zM304.88 263.7h9.57v2.05h-9.57zM342.94 302.7h9.57v2.05h-9.57zM276.33 318.2h9.57v3.05h-9.57zM323.91 324.7h9.57v1.55h-9.57zM285.85 330.2h9.57v1.55h-9.57zM314.39 330.2h9.57v1.55h-9.57zM295.36 336.2h9.57v1.05h-9.57zM190.7 342.7h9.57v1.05h-9.57zM371.48 343.7h9.57v2.05h-9.57zM304.88 347.7h9.57v1.05h-9.57zM209.73 357.7h9.57v1.05h-9.57zM285.85 388.7h9.57v1.05h-9.57zM276.33 390.7h9.57v1.05h-9.57z"/>
<path fill="#ffde90" d="M152.64 89.2h9.57v2.05h-9.57zM114.58 92.7h9.57v1.05h-9.57zM114.58 93.7h9.57v1.05h-9.57zM285.85 142.2h9.57v2.05h-9.57zM304.88 165.7h9.57v1.55h-9.57zM285.85 171.2h9.57v1.05h-9.57zM304.88 185.7h9.57v2.05h-9.57zM304.88 187.7h9.57v2.05h-9.57zM314.39 197.2h9.57v2.05h-9.57zM314.39 233.7h9.57v1.55h-9.57zM295.36 242.2h9.57v1.55h-9.57zM323.91 253.2h9.57v1.05h-9.57zM285.85 265.7h9.57v1.05h-9.57zM304.88 336.2h9.57v1.05h-9.57zM304.88 343.7h9.57v2.05h-9.57zM295.36 348.7h9.57v2.05h-9.57zM304.88 350.7h9.57v1.05h-9.57zM323.91 381.7h9.57v1.55h-9.57zM361.97 429.2h9.57v1.05h-9.57zM371.48 430.2h9.57v1.45h-9.57z"/>
<path fill="#edf9e4" d="M228.76 89.2h9.57v2.05h-9.57z"/>
<path fill="#fcba78" d="M95.55 91.2h9.57v1.55h-9.57zM314.39 122.7h9.57v2.05h-9.57zM323.91 136.2h9.57v2.05h-9.57z"/>
<path fill="#ffcf84" d="M76.52 92.7h9.57v1.05h-9.57zM152.64 92.7h9.57v1.05h-9.57zM152.64 93.7h9.57v1.05h-9.57zM333.42 118.7h9.57v2.05h-9.57zM323.91 211.2h9.57v1.55h-9.57zM314.39 219.7h9.57v2.05h-9.57zM323.91 237.2h9.57v1.05h-9.57zM314.39 258.7h19.08v1.05h-19.08zM323.91 260.7h9.57v1.05h-9.57zM285.85 283.7h9.57v2.05h-9.57zM323.91 294.7h9.57v2.05h-9.57zM314.39 323.2h9.57v1.55h-9.57zM304.88 372.2h9.57v2.05h-9.57zM95.55 424.2h9.57v2.05h-9.57zM86.03 426.2h9.57v3.05h-9.57zM95.55 429.2h9.57v1.05h-9.57z"/>
<path fill="#fcba75" d="M67 93.7h9.57v1.05h-9.57zM86.03 109.7h9.57v2.05h-9.57zM371.48 120.7h9.57v1.05h-9.57zM371.48 121.7h9.57v1.05h-9.57zM323.91 262.7h9.57v1.05h-9.57zM76.52 411.2h9.57v1.05h-9.57zM342.94 429.2h9.57v1.05h-9.57z"/>
<path fill="#ffd88d" d="M86.03 93.7h9.57v1.05h-9.57zM67 413.2h9.57v2.05h-9.57z"/>
<path fill="#fca569" d="M67 94.7h9.57v1.05h-9.57zM314.39 132.2h9.57v1.55h-9.57z"/>
<path fill="#fc9c63" d="M86.03 95.7h9.57v3.05h-9.57zM95.55 98.7h9.57v1.05h-9.57zM323.91 118.7h9.57v2.05h-9.57zM314.39 127.2h9.57v3.05h-9.57zM285.85 298.7h9.57v2.05h-9.57z"/>
<path fill="#fc8d5a" d="M95.55 95.7h9.57v3.05h-9.57zM95.55 99.7h9.57v2.05h-9.57zM95.55 105.7h9.57v1.05h-9.57zM323.91 127.2h9.57v3.05h-9.57zM323.91 133.7h9.57v1.55h-9.57zM323.91 135.2h9.57v1.05h-9.57z"/>
<path fill="#fff0a5" d="M76.52 98.7h9.57v1.05h-9.57zM86.03 120.7h9.57v1.05h-9.57zM190.7 142.2h9.57v2.05h-9.57zM304.88 144.2h9.57v2.05h-9.57zM276.33 153.2h9.57v1.05h-9.57zM276.33 160.7h9.57v2.05h-9.57zM352.45 160.7h9.57v2.05h-9.57zM219.24 162.7h9.57v3.05h-9.57zM371.48 168.2h9.57v3.05h-9.57zM190.7 172.2h9.57v1.05h-9.57zM171.67 174.7h9.57v2.05h-9.57zM257.3 178.7h9.57v1.05h-9.57zM361.97 184.7h9.57v1.05h-9.57zM333.42 191.7h9.57v3.05h-9.57zM295.36 194.7h9.57v1.55h-9.57zM285.85 196.2h9.57v1.05h-9.57zM200.21 197.2h9.57v2.05h-9.57zM342.94 197.2h9.57v2.05h-9.57zM238.27 206.2h9.57v1.05h-9.57zM257.3 207.2h9.57v1.05h-9.57zM295.36 207.2h9.57v1.05h-9.57zM361.97 211.2h9.57v1.55h-9.57zM209.73 212.7h9.57v1.05h-9.57zM352.45 212.7h9.57v1.05h-9.57zM181.18 213.7h9.57v1.05h-9.57zM171.67 214.7h9.57v3.05h-9.57zM162.15 217.7h9.57v1.05h-9.57zM266.82 217.7h9.57v1.05h-9.57zM352.45 217.7h9.57v1.05h-9.57zM295.36 228.7h9.57v1.55h-9.57zM200.21 233.7h9.57v1.55h-9.57zM361.97 233.7h9.57v1.55h-9.57zM219.24 239.2h9.57v3.05h-9.57zM257.3 246.7h9.57v2.05h-9.57zM333.42 253.2h9.57v1.05h-9.57zM200.21 256.2h9.57v1.55h-9.57zM209.73 257.7h9.57v1.05h-9.57zM162.15 258.7h9.57v1.05h-9.57zM200.21 258.7h9.57v1.05h-9.57zM247.79 258.7h9.57v1.05h-9.57zM266.82 258.7h9.57v1.05h-9.57zM247.79 259.7h9.57v1.05h-9.57zM200.21 265.7h9.57v1.05h-9.57zM257.3 265.7h9.57v1.05h-9.57zM200.21 269.2h19.08v3.05h-19.08zM266.82 269.2h9.57v3.05h-9.57zM181.18 275.2h9.57v1.05h-9.57zM209.73 275.2h9.57v1.05h-9.57zM200.21 278.2h9.57v1.05h-9.57zM257.3 282.7h9.57v1.05h-9.57zM247.79 283.7h9.57v2.05h-9.57zM171.67 287.7h9.57v1.05h-9.57zM209.73 288.7h9.57v1.05h-9.57zM209.73 289.7h9.57v2.05h-9.57zM276.33 289.7h9.57v2.05h-9.57zM209.73 291.7h9.57v3.05h-9.57zM361.97 300.7h9.57v2.05h-9.57zM314.39 302.7h9.57v2.05h-9.57zM361.97 304.7h9.57v1.05h-9.57zM200.21 307.2h9.57v3.05h-9.57zM361.97 313.2h9.57v3.05h-9.57zM285.85 318.2h9.57v3.05h-9.57zM295.36 326.2h9.57v1.55h-9.57zM219.24 327.7h9.57v1.55h-9.57zM333.42 327.7h19.08v1.55h-19.08zM181.18 335.2h9.57v1.05h-9.57zM238.27 338.2h9.57v1.05h-9.57zM181.18 339.2h9.57v1.55h-9.57zM361.97 339.2h9.57v1.55h-9.57zM314.39 343.7h9.57v2.05h-9.57zM314.39 345.7h9.57v1.05h-9.57zM181.18 351.7h9.57v2.05h-9.57zM342.94 354.7h9.57v1.05h-9.57zM342.94 358.7h9.57v1.05h-9.57zM228.76 359.7h9.57v3.05h-9.57zM361.97 372.2h9.57v2.05h-9.57zM171.67 374.2h9.57v1.05h-9.57zM219.24 386.2h9.57v1.55h-9.57zM342.94 387.7h9.57v1.05h-9.57zM238.27 389.7h9.57v1.05h-9.57zM171.67 390.7h9.57v1.05h-9.57zM333.42 393.7h9.57v1.05h-9.57zM228.76 405.2h9.57v2.05h-9.57zM114.58 424.2h9.57v2.05h-9.57z"/>
<path fill="#fca266" d="M86.03 98.7h9.57v1.05h-9.57zM95.55 104.7h9.57v1.05h-9.57z"/>
<path fill="#fc9f66" d="M86.03 99.7h9.57v2.05h-9.57zM314.39 130.2h19.08v1.05h-19.08zM295.36 298.7h9.57v2.05h-9.57z"/>
<path fill="#fc9f63" d="M86.03 101.7h9.57v3.05h-9.57z"/>
<path fill="#fc935d" d="M95.55 101.7h9.57v3.05h-9.57zM86.03 108.7h9.57v1.05h-9.57zM323.91 132.2h9.57v1.55h-9.57zM285.85 296.7h19.08v2.05h-19.08z"/>
<path fill="#fca869" d="M86.03 104.7h9.57v1.05h-9.57zM323.91 182.7h9.57v2.05h-9.57z"/>
<path fill="#fc9960" d="M86.03 105.7h9.57v1.05h-9.57zM314.39 138.2h9.57v1.05h-9.57z"/>
<path fill="#fc965d" d="M86.03 106.7h9.57v2.05h-9.57zM314.39 124.7h9.57v1.55h-9.57z"/>
<path fill="#fc9660" d="M95.55 106.7h9.57v2.05h-9.57zM86.03 116.2h9.57v1.55h-9.57z"/>
<path fill="#fff0ab" d="M67 109.7h9.57v2.05h-9.57zM171.67 116.2h9.57v1.55h-9.57zM76.52 117.7h9.57v1.05h-9.57zM285.85 126.2h9.57v1.05h-9.57zM361.97 132.2h9.57v1.55h-9.57zM333.42 136.2h9.57v2.05h-9.57zM247.79 142.2h9.57v2.05h-9.57zM200.21 152.2h9.57v1.05h-9.57zM209.73 153.2h9.57v1.05h-9.57zM361.97 153.2h9.57v1.05h-9.57zM238.27 154.2h9.57v2.05h-9.57zM181.18 156.2h9.57v1.05h-9.57zM238.27 157.2h9.57v2.05h-9.57zM181.18 159.2h9.57v1.55h-9.57zM171.67 162.7h9.57v3.05h-9.57zM228.76 165.7h9.57v1.55h-9.57zM333.42 165.7h19.08v1.55h-19.08zM371.48 165.7h9.57v1.55h-9.57zM209.73 167.2h9.57v1.05h-9.57zM266.82 168.2h9.57v3.05h-9.57zM238.27 172.2h9.57v1.05h-9.57zM266.82 173.2h19.08v1.55h-19.08zM209.73 174.7h9.57v2.05h-9.57zM257.3 174.7h9.57v2.05h-9.57zM276.33 174.7h9.57v2.05h-9.57zM228.76 178.7h9.57v1.05h-9.57zM352.45 178.7h9.57v1.05h-9.57zM181.18 179.7h9.57v1.05h-9.57zM200.21 179.7h9.57v1.05h-9.57zM361.97 179.7h9.57v1.05h-9.57zM247.79 184.7h9.57v1.05h-9.57zM276.33 184.7h9.57v1.05h-9.57zM200.21 185.7h9.57v2.05h-9.57zM266.82 185.7h9.57v2.05h-9.57zM209.73 187.7h9.57v2.05h-9.57zM276.33 191.7h9.57v3.05h-9.57zM200.21 194.7h9.57v1.55h-9.57zM247.79 196.2h9.57v1.05h-9.57zM171.67 199.2h9.57v1.55h-9.57zM219.24 203.7h9.57v1.05h-9.57zM238.27 204.7h9.57v1.55h-9.57zM266.82 204.7h9.57v1.55h-9.57zM352.45 206.2h9.57v1.05h-9.57zM200.21 208.2h9.57v2.05h-9.57zM247.79 210.2h9.57v1.05h-9.57zM276.33 210.2h9.57v1.05h-9.57zM181.18 211.2h9.57v1.55h-9.57zM295.36 218.7h9.57v1.05h-9.57zM200.21 219.7h19.08v2.05h-19.08zM257.3 219.7h9.57v2.05h-9.57zM228.76 222.7h9.57v1.55h-9.57zM247.79 224.2h9.57v1.55h-9.57zM228.76 225.7h9.57v3.05h-9.57zM247.79 225.7h9.57v3.05h-9.57zM276.33 225.7h9.57v3.05h-9.57zM219.24 228.7h19.08v1.55h-19.08zM257.3 230.2h9.57v1.05h-9.57zM285.85 230.2h9.57v1.05h-9.57zM266.82 231.2h9.57v1.05h-9.57zM200.21 232.2h19.08v1.55h-19.08zM257.3 232.2h19.08v1.55h-19.08zM352.45 232.2h9.57v1.55h-9.57zM181.18 233.7h9.57v1.55h-9.57zM209.73 237.2h9.57v1.05h-9.57zM247.79 237.2h9.57v1.05h-9.57zM352.45 239.2h9.57v3.05h-9.57zM228.76 242.2h19.08v1.55h-19.08zM352.45 243.7h9.57v3.05h-9.57zM219.24 246.7h9.57v2.05h-9.57zM257.3 248.7h9.57v1.05h-9.57zM200.21 251.7h9.57v1.55h-9.57zM257.3 251.7h9.57v1.55h-9.57zM181.18 256.2h9.57v1.55h-9.57zM247.79 257.7h9.57v1.05h-9.57zM266.82 257.7h9.57v1.05h-9.57zM181.18 260.7h9.57v1.05h-9.57zM219.24 260.7h9.57v1.05h-9.57zM228.76 262.7h19.08v1.05h-19.08zM200.21 263.7h9.57v2.05h-9.57zM342.94 267.7h9.57v1.55h-9.57zM228.76 269.2h19.08v3.05h-19.08zM295.36 274.2h9.57v1.05h-9.57zM361.97 275.2h9.57v1.05h-9.57zM181.18 276.2h9.57v1.05h-9.57zM171.67 277.2h9.57v1.05h-9.57zM171.67 279.2h9.57v1.55h-9.57zM323.91 282.7h9.57v1.05h-9.57zM247.79 285.7h9.57v2.05h-9.57zM181.18 287.7h9.57v1.05h-9.57zM181.18 289.7h9.57v2.05h-9.57zM276.33 291.7h9.57v3.05h-9.57zM219.24 298.7h9.57v2.05h-9.57zM257.3 300.7h9.57v2.05h-9.57zM162.15 305.7h9.57v1.55h-9.57zM219.24 307.2h9.57v3.05h-9.57zM352.45 313.2h9.57v3.05h-9.57zM285.85 316.2h9.57v2.05h-9.57zM352.45 324.7h9.57v1.55h-9.57zM361.97 331.7h9.57v2.05h-9.57zM371.48 336.2h9.57v1.05h-9.57zM333.42 339.2h9.57v1.55h-9.57zM333.42 340.7h9.57v1.05h-9.57zM228.76 353.7h9.57v1.05h-9.57zM342.94 362.7h9.57v1.05h-9.57zM352.45 363.7h9.57v2.05h-9.57zM342.94 371.2h9.57v1.05h-9.57zM314.39 374.2h9.57v1.05h-9.57zM352.45 378.7h9.57v3.05h-9.57zM352.45 381.7h19.08v1.55h-19.08zM342.94 383.2h9.57v1.55h-9.57zM361.97 388.7h9.57v1.05h-9.57zM181.18 390.7h9.57v1.05h-9.57zM295.36 391.7h9.57v2.05h-9.57zM247.79 397.7h9.57v1.55h-9.57zM352.45 399.2h9.57v3.05h-9.57zM323.91 404.2h9.57v1.05h-9.57zM257.3 411.2h9.57v1.05h-9.57zM238.27 412.2h9.57v1.05h-9.57zM219.24 417.2h9.57v1.05h-9.57zM209.73 418.2h9.57v3.05h-9.57zM200.21 421.2h9.57v2.05h-9.57zM133.61 423.2h19.08v1.05h-19.08zM133.61 424.2h9.57v2.05h-9.57zM266.82 426.2h9.57v3.05h-9.57zM200.21 430.2h9.57v1.45h-9.57z"/>
<path fill="#e7f6ed" d="M314.39 109.7h19.08v2.05h-19.08zM323.91 111.7h9.57v1.55h-9.57zM67 132.2h9.57v1.55h-9.57zM67 133.7h9.57v1.55h-9.57zM95.55 146.2h9.57v3.05h-9.57zM133.61 339.2h9.57v1.55h-9.57zM143.12 357.7h9.57v1.05h-9.57zM67 409.2h9.57v2.05h-9.57zM314.39 415.2h9.57v2.05h-9.57zM67 423.2h9.57v1.05h-9.57zM67 429.2h9.57v1.05h-9.57z"/>
<path fill="#a5cce4" d="M333.42 109.7h9.57v2.05h-9.57zM371.48 415.2h9.57v2.05h-9.57z"/>
<path fill="#abd2e4" d="M342.94 109.7h9.57v2.05h-9.57z"/>
<path fill="#a5cce1" d="M352.45 109.7h9.57v2.05h-9.57zM76.52 167.2h9.57v1.05h-9.57zM76.52 275.2h9.57v1.05h-9.57zM352.45 417.2h9.57v1.05h-9.57z"/>
<path fill="#c6e1f0" d="M361.97 109.7h9.57v2.05h-9.57zM114.58 156.2h9.57v1.05h-9.57zM67 182.7h9.57v2.05h-9.57zM67 211.2h9.57v1.55h-9.57zM143.12 232.2h9.57v1.55h-9.57zM105.06 263.7h9.57v2.05h-9.57zM105.06 267.7h9.57v1.55h-9.57zM105.06 274.2h9.57v1.05h-9.57zM67 287.7h9.57v1.05h-9.57zM133.61 289.7h9.57v2.05h-9.57zM67 300.7h9.57v2.05h-9.57zM67 321.2h9.57v2.05h-9.57zM105.06 348.7h9.57v2.05h-9.57zM105.06 357.7h9.57v1.05h-9.57zM152.64 377.7h9.57v1.05h-9.57zM105.06 387.7h9.57v1.05h-9.57zM105.06 390.7h9.57v1.05h-9.57zM124.09 402.2h9.57v2.05h-9.57zM342.94 415.2h9.57v2.05h-9.57z"/>
<path fill="#cfe7f0" d="M371.48 109.7h9.57v2.05h-9.57zM95.55 142.2h9.57v2.05h-9.57zM114.58 144.2h9.57v2.05h-9.57zM152.64 154.2h9.57v2.05h-9.57zM105.06 176.7h9.57v2.05h-9.57zM105.06 182.7h9.57v2.05h-9.57zM105.06 194.7h9.57v1.55h-9.57zM67 196.2h9.57v1.05h-9.57zM133.61 197.2h9.57v2.05h-9.57zM67 200.7h9.57v2.05h-9.57zM114.58 204.7h9.57v1.55h-9.57zM124.09 207.2h9.57v1.05h-9.57zM76.52 214.7h9.57v3.05h-9.57zM86.03 217.7h9.57v1.05h-9.57zM76.52 221.7h9.57v1.05h-9.57zM76.52 222.7h9.57v1.55h-9.57zM114.58 225.7h9.57v3.05h-9.57zM133.61 231.2h9.57v1.05h-9.57zM133.61 237.2h9.57v1.05h-9.57zM152.64 237.2h9.57v1.05h-9.57zM67 258.7h9.57v1.05h-9.57zM114.58 263.7h9.57v2.05h-9.57zM114.58 272.2h9.57v2.05h-9.57zM133.61 272.2h9.57v2.05h-9.57zM152.64 272.2h9.57v2.05h-9.57zM114.58 283.7h9.57v2.05h-9.57zM143.12 318.2h9.57v3.05h-9.57zM105.06 323.2h9.57v1.55h-9.57zM67 329.2h9.57v1.05h-9.57zM95.55 335.2h9.57v1.05h-9.57zM133.61 341.7h9.57v1.05h-9.57zM114.58 342.7h9.57v1.05h-9.57zM143.12 347.7h9.57v1.05h-9.57zM105.06 359.7h9.57v3.05h-9.57zM133.61 365.7h9.57v1.55h-9.57zM67 374.2h9.57v1.05h-9.57zM95.55 378.7h9.57v3.05h-9.57zM105.06 381.7h9.57v1.55h-9.57zM95.55 384.7h9.57v1.55h-9.57zM105.06 391.7h9.57v2.05h-9.57zM95.55 393.7h9.57v1.05h-9.57zM114.58 396.7h9.57v1.05h-9.57z"/>
<path fill="#fcc681" d="M114.58 111.7h9.57v1.55h-9.57zM95.55 118.7h9.57v2.05h-9.57zM333.42 426.2h9.57v3.05h-9.57z"/>
<path fill="#fcbd7b" d="M124.09 111.7h9.57v1.55h-9.57zM133.61 117.7h9.57v1.05h-9.57zM314.39 184.7h9.57v1.05h-9.57zM323.91 257.7h9.57v1.05h-9.57z"/>
<path fill="#fcc37e" d="M143.12 111.7h9.57v1.55h-9.57zM124.09 113.2h9.57v1.05h-9.57zM152.64 117.7h9.57v1.05h-9.57zM333.42 120.7h9.57v1.05h-9.57zM323.91 126.2h9.57v1.05h-9.57zM314.39 179.7h9.57v1.05h-9.57zM323.91 185.7h9.57v2.05h-9.57zM295.36 261.7h9.57v1.05h-9.57zM76.52 412.2h9.57v1.05h-9.57z"/>
<path fill="#ffcc84" d="M152.64 111.7h9.57v1.55h-9.57zM314.39 120.7h9.57v1.05h-9.57zM371.48 135.2h9.57v1.05h-9.57zM371.48 136.2h9.57v2.05h-9.57zM295.36 157.2h9.57v2.05h-9.57zM323.91 176.7h9.57v2.05h-9.57zM323.91 233.7h9.57v1.55h-9.57zM285.85 258.7h9.57v1.05h-9.57zM314.39 261.7h9.57v1.05h-9.57zM285.85 285.7h19.08v2.05h-19.08zM323.91 347.7h9.57v1.05h-9.57zM323.91 387.7h9.57v1.05h-9.57zM67 412.2h9.57v1.05h-9.57zM86.03 429.2h9.57v1.05h-9.57z"/>
<path fill="#def3f6" d="M314.39 111.7h9.57v1.55h-9.57zM124.09 142.2h9.57v2.05h-9.57zM114.58 168.2h9.57v3.05h-9.57zM76.52 173.2h9.57v1.55h-9.57zM133.61 179.7h9.57v1.05h-9.57zM143.12 217.7h9.57v1.05h-9.57zM86.03 242.2h9.57v1.55h-9.57zM86.03 248.7h9.57v1.05h-9.57zM114.58 254.2h9.57v2.05h-9.57zM95.55 262.7h9.57v1.05h-9.57zM143.12 262.7h9.57v1.05h-9.57zM86.03 272.2h9.57v2.05h-9.57zM152.64 279.2h9.57v1.55h-9.57zM124.09 282.7h9.57v1.05h-9.57zM76.52 302.7h9.57v2.05h-9.57zM86.03 321.2h9.57v2.05h-9.57zM143.12 327.7h9.57v1.55h-9.57zM67 337.2h9.57v1.05h-9.57zM95.55 338.2h9.57v1.05h-9.57zM86.03 339.2h9.57v1.55h-9.57zM86.03 342.7h9.57v1.05h-9.57zM143.12 343.7h9.57v2.05h-9.57zM86.03 351.7h9.57v2.05h-9.57zM124.09 353.7h9.57v1.05h-9.57zM143.12 362.7h9.57v1.05h-9.57zM86.03 363.7h9.57v2.05h-9.57zM124.09 367.2h9.57v1.05h-9.57zM124.09 384.7h9.57v1.55h-9.57zM124.09 386.2h9.57v1.55h-9.57zM95.55 402.2h9.57v2.05h-9.57z"/>
<path fill="#99c6de" d="M333.42 111.7h9.57v1.55h-9.57z"/>
<path fill="#99c3de" d="M342.94 111.7h9.57v1.55h-9.57z"/>
<path fill="#96c3de" d="M352.45 111.7h9.57v1.55h-9.57zM67 168.2h9.57v3.05h-9.57zM86.03 288.7h9.57v1.05h-9.57z"/>
<path fill="#c9e4f0" d="M371.48 111.7h9.57v1.55h-9.57zM76.52 122.7h9.57v2.05h-9.57zM133.61 139.2h9.57v3.05h-9.57zM105.06 146.2h9.57v3.05h-9.57zM114.58 154.2h9.57v2.05h-9.57zM76.52 160.7h9.57v2.05h-9.57zM67 180.7h9.57v2.05h-9.57zM105.06 184.7h9.57v1.05h-9.57zM114.58 185.7h9.57v2.05h-9.57zM76.52 197.2h9.57v2.05h-9.57zM105.06 197.2h9.57v2.05h-9.57zM105.06 207.2h9.57v1.05h-9.57zM105.06 210.2h9.57v1.05h-9.57zM133.61 210.2h19.08v1.05h-19.08zM86.03 212.7h9.57v1.05h-9.57zM133.61 212.7h9.57v1.05h-9.57zM76.52 213.7h9.57v1.05h-9.57zM105.06 218.7h9.57v1.05h-9.57zM105.06 222.7h9.57v1.55h-9.57zM95.55 230.2h9.57v1.05h-9.57zM124.09 230.2h9.57v1.05h-9.57zM76.52 231.2h9.57v1.05h-9.57zM124.09 232.2h19.08v1.55h-19.08zM152.64 232.2h9.57v1.55h-9.57zM67 237.2h9.57v1.05h-9.57zM67 249.7h9.57v2.05h-9.57zM95.55 254.2h9.57v2.05h-9.57zM105.06 256.2h9.57v1.55h-9.57zM95.55 261.7h9.57v1.05h-9.57zM105.06 266.7h9.57v1.05h-9.57zM105.06 272.2h9.57v2.05h-9.57zM114.58 274.2h9.57v1.05h-9.57zM133.61 275.2h28.6v1.05h-28.6zM114.58 276.2h9.57v1.05h-9.57zM152.64 276.2h9.57v1.05h-9.57zM105.06 278.2h9.57v1.05h-9.57zM133.61 278.2h9.57v1.05h-9.57zM67 285.7h9.57v2.05h-9.57zM95.55 288.7h19.08v1.05h-19.08zM76.52 296.7h9.57v2.05h-9.57zM76.52 298.7h9.57v2.05h-9.57zM105.06 300.7h9.57v2.05h-9.57zM105.06 316.2h9.57v2.05h-9.57zM114.58 318.2h9.57v3.05h-9.57zM143.12 331.7h9.57v2.05h-9.57zM67 336.2h9.57v1.05h-9.57zM133.61 336.2h9.57v1.05h-9.57zM105.06 338.2h9.57v1.05h-9.57zM105.06 339.2h9.57v1.55h-9.57zM105.06 340.7h9.57v1.05h-9.57zM105.06 341.7h9.57v1.05h-9.57zM67 347.7h9.57v1.05h-9.57zM152.64 348.7h9.57v2.05h-9.57zM76.52 355.7h9.57v2.05h-9.57zM133.61 357.7h9.57v1.05h-9.57zM105.06 358.7h9.57v1.05h-9.57zM76.52 365.7h9.57v1.55h-9.57zM114.58 365.7h9.57v1.55h-9.57zM124.09 377.7h9.57v1.05h-9.57zM76.52 390.7h9.57v1.05h-9.57zM105.06 393.7h9.57v1.05h-9.57zM152.64 393.7h9.57v1.05h-9.57zM105.06 394.7h9.57v2.05h-9.57zM152.64 394.7h9.57v2.05h-9.57zM76.52 396.7h9.57v1.05h-9.57zM124.09 397.7h19.08v1.55h-19.08zM105.06 404.2h9.57v1.05h-9.57z"/>
<path fill="#fffcb7" d="M67 113.2h9.57v1.05h-9.57zM352.45 326.2h9.57v1.55h-9.57zM295.36 353.7h9.57v1.05h-9.57zM352.45 384.7h9.57v1.55h-9.57zM114.58 430.2h9.57v1.45h-9.57z"/>
<path fill="#ffffc3" d="M171.67 113.2h9.57v1.05h-9.57zM152.64 122.7h9.57v2.05h-9.57zM171.67 124.7h9.57v1.55h-9.57zM181.18 126.2h9.57v1.05h-9.57z"/>
<path fill="#e4f3f3" d="M314.39 113.2h9.57v1.05h-9.57zM67 126.2h9.57v1.05h-9.57zM86.03 139.2h19.08v3.05h-19.08zM86.03 197.2h9.57v2.05h-9.57zM95.55 222.7h9.57v1.55h-9.57zM86.03 230.2h9.57v1.05h-9.57zM76.52 282.7h9.57v1.05h-9.57zM76.52 283.7h9.57v2.05h-9.57zM76.52 288.7h9.57v1.05h-9.57zM76.52 326.2h9.57v1.55h-9.57zM76.52 330.2h19.08v1.55h-19.08zM95.55 337.2h9.57v1.05h-9.57zM86.03 409.2h9.57v2.05h-9.57zM333.42 409.2h9.57v2.05h-9.57z"/>
<path fill="#fccc81" d="M124.09 114.2h9.57v2.05h-9.57zM143.12 114.2h9.57v2.05h-9.57zM371.48 130.2h9.57v1.05h-9.57zM323.91 214.7h9.57v3.05h-9.57zM295.36 282.7h9.57v1.05h-9.57zM95.55 423.2h9.57v1.05h-9.57z"/>
<path fill="#e1f3f9" d="M314.39 116.2h9.57v1.55h-9.57zM67 139.2h9.57v3.05h-9.57zM95.55 152.2h9.57v1.05h-9.57zM95.55 157.2h9.57v2.05h-9.57zM76.52 165.7h9.57v1.55h-9.57zM152.64 187.7h9.57v2.05h-9.57zM86.03 204.7h9.57v1.55h-9.57zM95.55 210.2h9.57v1.05h-9.57zM86.03 214.7h9.57v3.05h-9.57zM76.52 219.7h9.57v2.05h-9.57zM133.61 224.2h9.57v1.55h-9.57zM86.03 225.7h9.57v3.05h-9.57zM95.55 237.2h9.57v1.05h-9.57zM76.52 249.7h9.57v2.05h-9.57zM76.52 253.2h9.57v1.05h-9.57zM133.61 257.7h19.08v1.05h-19.08zM95.55 263.7h9.57v2.05h-9.57zM143.12 279.2h9.57v1.55h-9.57zM67 294.7h9.57v2.05h-9.57zM152.64 326.2h9.57v1.55h-9.57zM76.52 331.7h9.57v2.05h-9.57zM95.55 354.7h9.57v1.05h-9.57zM86.03 355.7h9.57v2.05h-9.57zM152.64 362.7h9.57v1.05h-9.57zM95.55 368.2h9.57v2.05h-9.57zM143.12 375.2h9.57v1.55h-9.57zM67 386.2h9.57v1.55h-9.57zM95.55 386.2h9.57v1.55h-9.57zM76.52 397.7h9.57v1.55h-9.57zM86.03 402.2h9.57v2.05h-9.57zM95.55 407.2h9.57v1.05h-9.57zM67 426.2h9.57v3.05h-9.57z"/>
<path fill="#e4f3f0" d="M314.39 117.7h9.57v1.05h-9.57zM86.03 184.7h9.57v1.05h-9.57zM76.52 242.2h9.57v1.55h-9.57zM95.55 341.7h9.57v1.05h-9.57zM95.55 397.7h9.57v1.55h-9.57z"/>
<path fill="#e4f6ed" d="M323.91 117.7h9.57v1.05h-9.57zM105.06 180.7h9.57v2.05h-9.57zM95.55 251.7h9.57v1.55h-9.57zM133.61 285.7h9.57v2.05h-9.57zM67 342.7h9.57v1.05h-9.57zM152.64 378.7h9.57v3.05h-9.57z"/>
<path fill="#fcc37b" d="M323.91 120.7h9.57v1.05h-9.57zM323.91 167.2h9.57v1.05h-9.57z"/>
<path fill="#d5eaf3" d="M76.52 121.7h9.57v1.05h-9.57zM95.55 156.2h9.57v1.05h-9.57zM152.64 157.2h9.57v2.05h-9.57zM143.12 162.7h9.57v3.05h-9.57zM133.61 167.2h9.57v1.05h-9.57zM152.64 167.2h9.57v1.05h-9.57zM105.06 168.2h9.57v3.05h-9.57zM95.55 171.2h9.57v1.05h-9.57zM152.64 172.2h9.57v1.05h-9.57zM67 173.2h9.57v1.55h-9.57zM95.55 173.2h9.57v1.55h-9.57zM133.61 173.2h9.57v1.55h-9.57zM105.06 179.7h9.57v1.05h-9.57zM152.64 184.7h9.57v1.05h-9.57zM86.03 189.7h9.57v2.05h-9.57zM95.55 194.7h9.57v1.55h-9.57zM95.55 199.2h9.57v1.55h-9.57zM152.64 203.7h9.57v1.05h-9.57zM124.09 204.7h9.57v1.55h-9.57zM143.12 204.7h9.57v1.55h-9.57zM152.64 206.2h9.57v1.05h-9.57zM143.12 207.2h9.57v1.05h-9.57zM76.52 208.2h9.57v2.05h-9.57zM152.64 208.2h9.57v2.05h-9.57zM124.09 210.2h9.57v1.05h-9.57zM95.55 211.2h9.57v1.55h-9.57zM143.12 211.2h9.57v1.55h-9.57zM152.64 213.7h9.57v1.05h-9.57zM152.64 222.7h9.57v1.55h-9.57zM133.61 233.7h9.57v1.55h-9.57zM95.55 238.2h19.08v1.05h-19.08zM152.64 242.2h9.57v1.55h-9.57zM152.64 243.7h9.57v3.05h-9.57zM124.09 246.7h9.57v2.05h-9.57zM114.58 249.7h9.57v2.05h-9.57zM114.58 253.2h9.57v1.05h-9.57zM133.61 253.2h9.57v1.05h-9.57zM95.55 258.7h9.57v1.05h-9.57zM152.64 258.7h9.57v1.05h-9.57zM67 262.7h9.57v1.05h-9.57zM114.58 262.7h9.57v1.05h-9.57zM76.52 266.7h9.57v1.05h-9.57zM152.64 266.7h9.57v1.05h-9.57zM143.12 267.7h9.57v1.55h-9.57zM86.03 269.2h9.57v3.05h-9.57zM124.09 272.2h9.57v2.05h-9.57zM143.12 274.2h9.57v1.05h-9.57zM114.58 282.7h9.57v1.05h-9.57zM95.55 287.7h9.57v1.05h-9.57zM76.52 289.7h9.57v2.05h-9.57zM133.61 291.7h9.57v3.05h-9.57zM95.55 294.7h9.57v2.05h-9.57zM152.64 294.7h9.57v2.05h-9.57zM124.09 298.7h19.08v2.05h-19.08zM143.12 300.7h9.57v2.05h-9.57zM124.09 302.7h9.57v2.05h-9.57zM105.06 310.2h9.57v3.05h-9.57zM67 316.2h9.57v2.05h-9.57zM124.09 318.2h9.57v3.05h-9.57zM133.61 323.2h9.57v1.55h-9.57zM67 324.7h9.57v1.55h-9.57zM133.61 329.2h9.57v1.05h-9.57zM152.64 329.2h9.57v1.05h-9.57zM133.61 330.2h9.57v1.55h-9.57zM76.52 336.2h9.57v1.05h-9.57zM124.09 339.2h9.57v1.55h-9.57zM133.61 342.7h9.57v1.05h-9.57zM124.09 345.7h9.57v1.05h-9.57zM95.55 346.7h9.57v1.05h-9.57zM95.55 350.7h9.57v1.05h-9.57zM114.58 350.7h9.57v1.05h-9.57zM95.55 358.7h9.57v1.05h-9.57zM95.55 363.7h9.57v2.05h-9.57zM95.55 372.2h9.57v2.05h-9.57zM124.09 374.2h9.57v1.05h-9.57zM143.12 374.2h9.57v1.05h-9.57zM114.58 376.7h9.57v1.05h-9.57zM86.03 377.7h9.57v1.05h-9.57zM95.55 388.7h9.57v1.05h-9.57zM143.12 393.7h9.57v1.05h-9.57zM76.52 394.7h9.57v2.05h-9.57zM143.12 405.2h9.57v2.05h-9.57zM143.12 407.2h9.57v1.05h-9.57z"/>
<path fill="#c3e1ed" d="M67 122.7h9.57v2.05h-9.57zM67 142.2h9.57v2.05h-9.57zM105.06 156.2h9.57v1.05h-9.57zM67 206.2h9.57v1.05h-9.57zM114.58 210.2h9.57v1.05h-9.57zM67 214.7h9.57v3.05h-9.57zM105.06 225.7h9.57v3.05h-9.57zM114.58 232.2h9.57v1.55h-9.57zM105.06 237.2h9.57v1.05h-9.57zM105.06 239.2h9.57v3.05h-9.57zM67 257.7h9.57v1.05h-9.57zM67 260.7h9.57v1.05h-9.57zM105.06 275.2h9.57v1.05h-9.57zM67 277.2h9.57v1.05h-9.57zM114.58 289.7h9.57v2.05h-9.57zM143.12 289.7h9.57v2.05h-9.57zM67 298.7h9.57v2.05h-9.57zM105.06 331.7h9.57v2.05h-9.57zM152.64 336.2h9.57v1.05h-9.57zM67 357.7h9.57v1.05h-9.57zM152.64 357.7h9.57v1.05h-9.57zM76.52 377.7h9.57v1.05h-9.57zM133.61 377.7h19.08v1.05h-19.08zM76.52 384.7h9.57v1.55h-9.57zM67 397.7h9.57v1.55h-9.57zM105.06 397.7h19.08v1.55h-19.08zM143.12 402.2h19.08v2.05h-19.08z"/>
<path fill="#fc905a" d="M314.39 131.2h19.08v1.05h-19.08z"/>
<path fill="#fca269" d="M314.39 135.2h9.57v1.05h-9.57z"/>
<path fill="#75a2cc" d="M67 138.2h9.57v1.05h-9.57z"/>
<path fill="#7ba8cf" d="M76.52 138.2h9.57v1.05h-9.57zM76.52 307.2h9.57v3.05h-9.57z"/>
<path fill="#f06f48" d="M323.91 138.2h9.57v1.05h-9.57z"/>
<path fill="#cce7f0" d="M76.52 139.2h9.57v3.05h-9.57zM114.58 146.2h9.57v3.05h-9.57zM105.06 152.2h9.57v1.05h-9.57zM133.61 154.2h9.57v2.05h-9.57zM67 156.2h9.57v1.05h-9.57zM133.61 156.2h9.57v1.05h-9.57zM152.64 156.2h9.57v1.05h-9.57zM105.06 157.2h9.57v2.05h-9.57zM114.58 162.7h9.57v3.05h-9.57zM105.06 167.2h9.57v1.05h-9.57zM105.06 171.2h19.08v1.05h-19.08zM105.06 174.7h9.57v2.05h-9.57zM105.06 178.7h9.57v1.05h-9.57zM152.64 185.7h9.57v2.05h-9.57zM95.55 187.7h9.57v2.05h-9.57zM67 191.7h9.57v3.05h-9.57zM76.52 194.7h9.57v1.55h-9.57zM152.64 196.2h9.57v1.05h-9.57zM105.06 202.7h9.57v1.05h-9.57zM76.52 207.2h9.57v1.05h-9.57zM114.58 207.2h9.57v1.05h-9.57zM152.64 207.2h9.57v1.05h-9.57zM105.06 208.2h9.57v2.05h-9.57zM76.52 211.2h9.57v1.55h-9.57zM105.06 211.2h9.57v1.55h-9.57zM133.61 218.7h9.57v1.05h-9.57zM114.58 219.7h9.57v2.05h-9.57zM114.58 222.7h9.57v1.55h-9.57zM95.55 225.7h9.57v3.05h-9.57zM133.61 225.7h9.57v3.05h-9.57zM152.64 225.7h9.57v3.05h-9.57zM105.06 228.7h19.08v1.55h-19.08zM143.12 230.2h9.57v1.05h-9.57zM105.06 231.2h9.57v1.05h-9.57zM124.09 237.2h9.57v1.05h-9.57zM105.06 246.7h9.57v2.05h-9.57zM95.55 253.2h9.57v1.05h-9.57zM76.52 254.2h9.57v2.05h-9.57zM76.52 258.7h9.57v1.05h-9.57zM105.06 258.7h19.08v1.05h-19.08zM105.06 259.7h19.08v1.05h-19.08zM105.06 260.7h9.57v1.05h-9.57zM105.06 262.7h9.57v1.05h-9.57zM152.64 263.7h9.57v2.05h-9.57zM133.61 266.7h9.57v1.05h-9.57zM67 267.7h9.57v1.55h-9.57zM114.58 267.7h9.57v1.55h-9.57zM133.61 276.2h9.57v1.05h-9.57zM114.58 278.2h9.57v1.05h-9.57zM105.06 283.7h9.57v2.05h-9.57zM124.09 283.7h19.08v2.05h-19.08zM105.06 285.7h9.57v2.05h-9.57zM114.58 287.7h9.57v1.05h-9.57zM133.61 287.7h9.57v1.05h-9.57zM86.03 289.7h9.57v2.05h-9.57zM124.09 289.7h9.57v2.05h-9.57zM105.06 294.7h9.57v2.05h-9.57zM105.06 302.7h9.57v2.05h-9.57zM95.55 316.2h9.57v2.05h-9.57zM133.61 318.2h9.57v3.05h-9.57zM76.52 324.7h9.57v1.55h-9.57zM67 330.2h9.57v1.55h-9.57zM133.61 331.7h9.57v2.05h-9.57zM152.64 331.7h9.57v2.05h-9.57zM67 333.7h9.57v1.55h-9.57zM114.58 339.2h9.57v1.55h-9.57zM152.64 342.7h9.57v1.05h-9.57zM105.06 345.7h9.57v1.05h-9.57zM133.61 345.7h9.57v1.05h-9.57zM152.64 347.7h9.57v1.05h-9.57zM133.61 348.7h9.57v2.05h-9.57zM105.06 350.7h9.57v1.05h-9.57zM67 351.7h9.57v2.05h-9.57zM105.06 354.7h9.57v1.05h-9.57zM76.52 357.7h9.57v1.05h-9.57zM114.58 358.7h9.57v1.05h-9.57zM133.61 358.7h19.08v1.05h-19.08zM105.06 368.2h9.57v2.05h-9.57zM105.06 370.2h9.57v1.05h-9.57zM105.06 374.2h9.57v1.05h-9.57zM105.06 378.7h9.57v3.05h-9.57zM133.61 378.7h9.57v3.05h-9.57zM114.58 387.7h9.57v1.05h-9.57zM152.64 387.7h9.57v1.05h-9.57zM67 389.7h9.57v1.05h-9.57zM114.58 393.7h9.57v1.05h-9.57zM114.58 394.7h9.57v2.05h-9.57zM67 404.2h9.57v1.05h-9.57zM105.06 405.2h9.57v2.05h-9.57zM105.06 407.2h9.57v1.05h-9.57zM86.03 408.2h9.57v1.05h-9.57zM105.06 408.2h9.57v1.05h-9.57z"/>
<path fill="#c6e4f0" d="M105.06 139.2h19.08v3.05h-19.08zM67 157.2h9.57v2.05h-9.57zM105.06 165.7h9.57v1.55h-9.57zM114.58 197.2h9.57v2.05h-9.57zM152.64 210.2h9.57v1.05h-9.57zM152.64 212.7h9.57v1.05h-9.57zM105.06 287.7h9.57v1.05h-9.57zM67 289.7h9.57v2.05h-9.57zM152.64 289.7h9.57v2.05h-9.57zM114.58 316.2h9.57v2.05h-9.57zM114.58 357.7h9.57v1.05h-9.57zM105.06 365.7h9.57v1.55h-9.57z"/>
<path fill="#e1f3f6" d="M86.03 142.2h9.57v2.05h-9.57zM143.12 142.2h9.57v2.05h-9.57zM76.52 149.2h9.57v3.05h-9.57zM86.03 156.2h9.57v1.05h-9.57zM143.12 159.2h9.57v1.55h-9.57zM86.03 160.7h9.57v2.05h-9.57zM124.09 160.7h9.57v2.05h-9.57zM76.52 162.7h9.57v3.05h-9.57zM124.09 168.2h19.08v3.05h-19.08zM152.64 168.2h9.57v3.05h-9.57zM67 172.2h9.57v1.05h-9.57zM124.09 179.7h9.57v1.05h-9.57zM143.12 179.7h9.57v1.05h-9.57zM124.09 187.7h9.57v2.05h-9.57zM143.12 187.7h9.57v2.05h-9.57zM124.09 191.7h9.57v3.05h-9.57zM143.12 191.7h9.57v3.05h-9.57zM86.03 194.7h9.57v1.55h-9.57zM76.52 199.2h9.57v1.55h-9.57zM143.12 199.2h9.57v1.55h-9.57zM86.03 206.2h9.57v1.05h-9.57zM95.55 207.2h9.57v1.05h-9.57zM86.03 210.2h9.57v1.05h-9.57zM124.09 214.7h9.57v3.05h-9.57zM143.12 214.7h9.57v3.05h-9.57zM95.55 218.7h9.57v1.05h-9.57zM67 221.7h9.57v1.05h-9.57zM86.03 224.2h19.08v1.55h-19.08zM124.09 224.2h9.57v1.55h-9.57zM143.12 224.2h19.08v1.55h-19.08zM86.03 231.2h9.57v1.05h-9.57zM76.52 232.2h9.57v1.55h-9.57zM76.52 238.2h9.57v1.05h-9.57zM86.03 239.2h9.57v3.05h-9.57zM95.55 246.7h9.57v2.05h-9.57zM143.12 251.7h9.57v1.55h-9.57zM86.03 254.2h9.57v2.05h-9.57zM124.09 254.2h38.11v2.05h-38.11zM124.09 257.7h9.57v1.05h-9.57zM86.03 258.7h9.57v1.05h-9.57zM86.03 259.7h19.08v1.05h-19.08zM76.52 265.7h9.57v1.05h-9.57zM86.03 267.7h9.57v1.55h-9.57zM95.55 272.2h9.57v2.05h-9.57zM124.09 279.2h9.57v1.55h-9.57zM124.09 280.7h9.57v2.05h-9.57zM86.03 287.7h9.57v1.05h-9.57zM86.03 296.7h9.57v2.05h-9.57zM86.03 298.7h9.57v2.05h-9.57zM86.03 300.7h9.57v2.05h-9.57zM86.03 304.7h9.57v1.05h-9.57zM143.12 305.7h9.57v1.55h-9.57zM143.12 310.2h9.57v3.05h-9.57zM76.52 318.2h9.57v3.05h-9.57zM124.09 321.2h9.57v2.05h-9.57zM76.52 323.2h9.57v1.55h-9.57zM124.09 326.2h19.08v1.55h-19.08zM67 338.2h9.57v1.05h-9.57zM86.03 338.2h9.57v1.05h-9.57zM76.52 340.7h9.57v1.05h-9.57zM95.55 343.7h9.57v2.05h-9.57zM76.52 348.7h9.57v2.05h-9.57zM67 350.7h9.57v1.05h-9.57zM95.55 351.7h9.57v2.05h-9.57zM143.12 351.7h9.57v2.05h-9.57zM143.12 353.7h9.57v1.05h-9.57zM124.09 355.7h9.57v2.05h-9.57zM124.09 362.7h19.08v1.05h-19.08zM76.52 363.7h9.57v2.05h-9.57zM76.52 368.2h9.57v2.05h-9.57zM86.03 371.2h9.57v1.05h-9.57zM76.52 372.2h9.57v2.05h-9.57zM124.09 372.2h28.6v2.05h-28.6zM76.52 391.7h28.6v2.05h-28.6zM86.03 397.7h9.57v1.55h-9.57zM86.03 407.2h9.57v1.05h-9.57zM76.52 409.2h9.57v2.05h-9.57zM124.09 409.2h9.57v2.05h-9.57zM352.45 409.2h9.57v2.05h-9.57z"/>
<path fill="#c0deed" d="M76.52 144.2h9.57v2.05h-9.57zM76.52 168.2h9.57v3.05h-9.57zM67 187.7h9.57v2.05h-9.57zM76.52 212.7h9.57v1.05h-9.57zM105.06 230.2h9.57v1.05h-9.57zM67 340.7h9.57v1.05h-9.57zM67 353.7h9.57v1.05h-9.57zM76.52 358.7h9.57v1.05h-9.57zM67 376.7h9.57v1.05h-9.57zM114.58 402.2h9.57v2.05h-9.57z"/>
<path fill="#dbf0f6" d="M86.03 144.2h19.08v2.05h-19.08zM86.03 146.2h9.57v3.05h-9.57zM143.12 149.2h9.57v3.05h-9.57zM143.12 152.2h9.57v1.05h-9.57zM86.03 153.2h9.57v1.05h-9.57zM76.52 156.2h9.57v1.05h-9.57zM133.61 157.2h19.08v2.05h-19.08zM133.61 159.2h9.57v1.55h-9.57zM152.64 159.2h9.57v1.55h-9.57zM67 160.7h9.57v2.05h-9.57zM143.12 160.7h9.57v2.05h-9.57zM67 162.7h9.57v3.05h-9.57zM76.52 171.2h9.57v1.05h-9.57zM124.09 171.2h9.57v1.05h-9.57zM86.03 172.2h19.08v1.05h-19.08zM124.09 174.7h9.57v2.05h-9.57zM143.12 174.7h19.08v2.05h-19.08zM95.55 179.7h9.57v1.05h-9.57zM114.58 179.7h9.57v1.05h-9.57zM76.52 180.7h9.57v2.05h-9.57zM95.55 180.7h9.57v2.05h-9.57zM124.09 180.7h9.57v2.05h-9.57zM143.12 182.7h9.57v2.05h-9.57zM124.09 184.7h9.57v1.05h-9.57zM76.52 185.7h9.57v2.05h-9.57zM76.52 187.7h9.57v2.05h-9.57zM124.09 189.7h9.57v2.05h-9.57zM76.52 191.7h9.57v3.05h-9.57zM114.58 191.7h9.57v3.05h-9.57zM76.52 196.2h9.57v1.05h-9.57zM95.55 196.2h9.57v1.05h-9.57zM86.03 200.7h9.57v2.05h-9.57zM124.09 202.7h9.57v1.05h-9.57zM143.12 202.7h9.57v1.05h-9.57zM67 203.7h9.57v1.05h-9.57zM143.12 203.7h9.57v1.05h-9.57zM76.52 204.7h9.57v1.55h-9.57zM67 210.2h9.57v1.05h-9.57zM95.55 212.7h9.57v1.05h-9.57zM133.61 213.7h19.08v1.05h-19.08zM114.58 214.7h9.57v3.05h-9.57zM133.61 214.7h9.57v3.05h-9.57zM114.58 217.7h9.57v1.05h-9.57zM152.64 217.7h9.57v1.05h-9.57zM86.03 221.7h9.57v1.05h-9.57zM86.03 228.7h9.57v1.55h-9.57zM86.03 233.7h9.57v1.55h-9.57zM67 235.2h9.57v2.05h-9.57zM95.55 235.2h9.57v2.05h-9.57zM124.09 235.2h9.57v2.05h-9.57zM86.03 238.2h9.57v1.05h-9.57zM143.12 238.2h9.57v1.05h-9.57zM143.12 242.2h9.57v1.55h-9.57zM86.03 243.7h19.08v3.05h-19.08zM67 248.7h9.57v1.05h-9.57zM124.09 249.7h19.08v2.05h-19.08zM133.61 251.7h9.57v1.55h-9.57zM86.03 253.2h9.57v1.05h-9.57zM105.06 254.2h9.57v2.05h-9.57zM86.03 256.2h9.57v1.55h-9.57zM76.52 257.7h19.08v1.05h-19.08zM105.06 257.7h9.57v1.05h-9.57zM143.12 258.7h9.57v1.05h-9.57zM76.52 261.7h19.08v1.05h-19.08zM124.09 261.7h9.57v1.05h-9.57zM152.64 261.7h9.57v1.05h-9.57zM76.52 262.7h9.57v1.05h-9.57zM76.52 267.7h9.57v1.55h-9.57zM124.09 277.2h19.08v1.05h-19.08zM114.58 279.2h9.57v1.55h-9.57zM114.58 280.7h9.57v2.05h-9.57zM152.64 282.7h9.57v1.05h-9.57zM67 283.7h9.57v2.05h-9.57zM67 288.7h9.57v1.05h-9.57zM76.52 291.7h28.6v3.05h-28.6zM95.55 304.7h9.57v1.05h-9.57zM143.12 304.7h9.57v1.05h-9.57zM152.64 305.7h9.57v1.55h-9.57zM152.64 307.2h9.57v3.05h-9.57zM152.64 310.2h9.57v3.05h-9.57zM143.12 313.2h9.57v3.05h-9.57zM124.09 316.2h9.57v2.05h-9.57zM86.03 318.2h9.57v3.05h-9.57zM114.58 321.2h9.57v2.05h-9.57zM143.12 321.2h9.57v2.05h-9.57zM67 326.2h9.57v1.55h-9.57zM124.09 327.7h9.57v1.55h-9.57zM143.12 329.2h9.57v1.05h-9.57zM124.09 330.2h9.57v1.55h-9.57zM143.12 330.2h9.57v1.55h-9.57zM86.03 331.7h9.57v2.05h-9.57zM143.12 333.7h9.57v1.55h-9.57zM143.12 335.2h9.57v1.05h-9.57zM67 339.2h9.57v1.55h-9.57zM95.55 339.2h9.57v1.55h-9.57zM95.55 342.7h9.57v1.05h-9.57zM124.09 346.7h9.57v1.05h-9.57zM143.12 346.7h9.57v1.05h-9.57zM95.55 347.7h9.57v1.05h-9.57zM124.09 350.7h9.57v1.05h-9.57zM133.61 351.7h9.57v2.05h-9.57zM133.61 353.7h9.57v1.05h-9.57zM152.64 353.7h9.57v1.05h-9.57zM133.61 355.7h9.57v2.05h-9.57zM152.64 355.7h9.57v2.05h-9.57zM86.03 357.7h9.57v1.05h-9.57zM67 359.7h9.57v3.05h-9.57zM114.58 363.7h9.57v2.05h-9.57zM124.09 368.2h9.57v2.05h-9.57zM95.55 370.2h9.57v1.05h-9.57zM124.09 370.2h9.57v1.05h-9.57zM76.52 371.2h9.57v1.05h-9.57zM124.09 371.2h19.08v1.05h-19.08zM152.64 371.2h9.57v1.05h-9.57zM114.58 372.2h9.57v2.05h-9.57zM152.64 372.2h9.57v2.05h-9.57zM86.03 375.2h19.08v1.55h-19.08zM114.58 375.2h19.08v1.55h-19.08zM143.12 376.7h9.57v1.05h-9.57zM86.03 381.7h9.57v1.55h-9.57zM143.12 383.2h9.57v1.55h-9.57zM143.12 384.7h9.57v1.55h-9.57zM76.52 386.2h19.08v1.55h-19.08zM76.52 388.7h19.08v1.05h-19.08zM124.09 388.7h9.57v1.05h-9.57zM76.52 389.7h9.57v1.05h-9.57zM124.09 389.7h9.57v1.05h-9.57zM143.12 389.7h9.57v1.05h-9.57zM124.09 391.7h28.6v2.05h-28.6zM86.03 393.7h9.57v1.05h-9.57zM86.03 394.7h19.08v2.05h-19.08zM86.03 399.2h9.57v3.05h-9.57zM143.12 399.2h9.57v3.05h-9.57zM76.52 404.2h9.57v1.05h-9.57zM76.52 405.2h9.57v2.05h-9.57zM95.55 405.2h9.57v2.05h-9.57zM95.55 409.2h9.57v2.05h-9.57zM133.61 409.2h28.6v2.05h-28.6zM76.52 426.2h9.57v3.05h-9.57z"/>
<path fill="#cfeaf3" d="M152.64 144.2h9.57v2.05h-9.57zM133.61 153.2h9.57v1.05h-9.57zM114.58 167.2h9.57v1.05h-9.57zM95.55 178.7h9.57v1.05h-9.57zM86.03 185.7h9.57v2.05h-9.57zM76.52 202.7h9.57v1.05h-9.57zM114.58 202.7h9.57v1.05h-9.57zM105.06 213.7h9.57v1.05h-9.57zM67 222.7h9.57v1.55h-9.57zM124.09 225.7h9.57v3.05h-9.57zM105.06 233.7h9.57v1.55h-9.57zM152.64 287.7h9.57v1.05h-9.57zM143.12 288.7h9.57v1.05h-9.57zM143.12 296.7h9.57v2.05h-9.57zM152.64 298.7h9.57v2.05h-9.57zM152.64 324.7h9.57v1.55h-9.57zM95.55 326.2h9.57v1.55h-9.57zM152.64 339.2h9.57v1.55h-9.57zM114.58 341.7h9.57v1.05h-9.57zM86.03 345.7h9.57v1.05h-9.57zM95.55 348.7h9.57v2.05h-9.57zM152.64 358.7h9.57v1.05h-9.57zM143.12 359.7h9.57v3.05h-9.57zM152.64 365.7h9.57v1.55h-9.57zM95.55 376.7h19.08v1.05h-19.08zM95.55 377.7h9.57v1.05h-9.57zM152.64 381.7h9.57v1.55h-9.57zM105.06 389.7h9.57v1.05h-9.57zM124.09 390.7h9.57v1.05h-9.57zM133.61 394.7h9.57v2.05h-9.57z"/>
<path fill="#d5edf3" d="M152.64 146.2h9.57v3.05h-9.57zM124.09 149.2h19.08v3.05h-19.08zM152.64 149.2h9.57v3.05h-9.57zM67 152.2h9.57v1.05h-9.57zM86.03 152.2h9.57v1.05h-9.57zM124.09 152.2h9.57v1.05h-9.57zM152.64 153.2h9.57v1.05h-9.57zM143.12 154.2h9.57v2.05h-9.57zM114.58 157.2h9.57v2.05h-9.57zM114.58 160.7h9.57v2.05h-9.57zM124.09 162.7h9.57v3.05h-9.57zM133.61 172.2h9.57v1.05h-9.57zM114.58 173.2h9.57v1.55h-9.57zM95.55 174.7h9.57v2.05h-9.57zM114.58 174.7h9.57v2.05h-9.57zM152.64 176.7h9.57v2.05h-9.57zM86.03 178.7h9.57v1.05h-9.57zM124.09 178.7h9.57v1.05h-9.57zM143.12 180.7h19.08v2.05h-19.08zM86.03 182.7h9.57v2.05h-9.57zM152.64 182.7h9.57v2.05h-9.57zM76.52 184.7h9.57v1.05h-9.57zM133.61 184.7h9.57v1.05h-9.57zM95.55 185.7h9.57v2.05h-9.57zM143.12 185.7h9.57v2.05h-9.57zM86.03 187.7h9.57v2.05h-9.57zM133.61 189.7h9.57v2.05h-9.57zM95.55 191.7h9.57v3.05h-9.57zM152.64 191.7h9.57v3.05h-9.57zM143.12 194.7h19.08v1.55h-19.08zM143.12 197.2h9.57v2.05h-9.57zM114.58 199.2h9.57v1.55h-9.57zM124.09 200.7h9.57v2.05h-9.57zM133.61 202.7h9.57v1.05h-9.57zM76.52 203.7h9.57v1.05h-9.57zM133.61 203.7h9.57v1.05h-9.57zM143.12 206.2h9.57v1.05h-9.57zM124.09 208.2h9.57v2.05h-9.57zM95.55 213.7h9.57v1.05h-9.57zM114.58 213.7h19.08v1.05h-19.08zM95.55 214.7h19.08v3.05h-19.08zM105.06 217.7h9.57v1.05h-9.57zM76.52 218.7h19.08v1.05h-19.08zM143.12 218.7h9.57v1.05h-9.57zM95.55 219.7h9.57v2.05h-9.57zM152.64 219.7h9.57v2.05h-9.57zM124.09 221.7h19.08v1.05h-19.08zM152.64 221.7h9.57v1.05h-9.57zM143.12 228.7h19.08v1.55h-19.08zM124.09 231.2h9.57v1.05h-9.57zM143.12 231.2h9.57v1.05h-9.57zM114.58 238.2h9.57v1.05h-9.57zM152.64 238.2h9.57v1.05h-9.57zM67 239.2h19.08v3.05h-19.08zM124.09 239.2h19.08v3.05h-19.08zM124.09 242.2h9.57v1.55h-9.57zM105.06 243.7h9.57v3.05h-9.57zM143.12 246.7h9.57v2.05h-9.57zM114.58 248.7h9.57v1.05h-9.57zM143.12 248.7h9.57v1.05h-9.57zM86.03 249.7h9.57v2.05h-9.57zM86.03 251.7h9.57v1.55h-9.57zM124.09 256.2h9.57v1.55h-9.57zM143.12 256.2h9.57v1.55h-9.57zM86.03 260.7h9.57v1.05h-9.57zM143.12 260.7h9.57v1.05h-9.57zM86.03 265.7h9.57v1.05h-9.57zM124.09 265.7h9.57v1.05h-9.57zM143.12 265.7h9.57v1.05h-9.57zM143.12 266.7h9.57v1.05h-9.57zM124.09 267.7h9.57v1.55h-9.57zM143.12 278.2h9.57v1.05h-9.57zM76.52 280.7h9.57v2.05h-9.57zM86.03 285.7h9.57v2.05h-9.57zM124.09 285.7h9.57v2.05h-9.57zM76.52 287.7h9.57v1.05h-9.57zM133.61 288.7h9.57v1.05h-9.57zM95.55 289.7h9.57v2.05h-9.57zM86.03 294.7h9.57v2.05h-9.57zM95.55 298.7h9.57v2.05h-9.57zM76.52 300.7h9.57v2.05h-9.57zM124.09 300.7h9.57v2.05h-9.57zM95.55 310.2h9.57v3.05h-9.57zM86.03 313.2h9.57v3.05h-9.57zM114.58 313.2h9.57v3.05h-9.57zM76.52 316.2h9.57v2.05h-9.57zM95.55 321.2h19.08v2.05h-19.08zM143.12 323.2h9.57v1.55h-9.57zM124.09 324.7h19.08v1.55h-19.08zM67 331.7h9.57v2.05h-9.57zM152.64 333.7h9.57v1.55h-9.57zM76.52 335.2h9.57v1.05h-9.57zM114.58 335.2h28.6v1.05h-28.6zM152.64 335.2h9.57v1.05h-9.57zM86.03 336.2h9.57v1.05h-9.57zM124.09 337.2h9.57v1.05h-9.57zM124.09 338.2h9.57v1.05h-9.57zM76.52 343.7h9.57v2.05h-9.57zM105.06 343.7h9.57v2.05h-9.57zM152.64 343.7h9.57v2.05h-9.57zM76.52 345.7h9.57v1.05h-9.57zM95.55 345.7h9.57v1.05h-9.57zM86.03 346.7h9.57v1.05h-9.57zM114.58 346.7h9.57v1.05h-9.57zM124.09 348.7h9.57v2.05h-9.57zM105.06 351.7h19.08v2.05h-19.08zM114.58 355.7h9.57v2.05h-9.57zM86.03 358.7h9.57v1.05h-9.57zM133.61 359.7h9.57v3.05h-9.57zM76.52 362.7h9.57v1.05h-9.57zM114.58 367.2h9.57v1.05h-9.57zM133.61 367.2h9.57v1.05h-9.57zM133.61 368.2h9.57v2.05h-9.57zM133.61 370.2h9.57v1.05h-9.57zM152.64 370.2h9.57v1.05h-9.57zM105.06 371.2h19.08v1.05h-19.08zM95.55 374.2h9.57v1.05h-9.57zM105.06 375.2h9.57v1.55h-9.57zM152.64 375.2h9.57v1.55h-9.57zM133.61 376.7h9.57v1.05h-9.57zM152.64 376.7h9.57v1.05h-9.57zM143.12 378.7h9.57v3.05h-9.57zM86.03 383.2h9.57v1.55h-9.57zM105.06 384.7h19.08v1.55h-19.08zM133.61 384.7h9.57v1.55h-9.57zM105.06 386.2h19.08v1.55h-19.08zM133.61 388.7h9.57v1.05h-9.57zM133.61 389.7h9.57v1.05h-9.57zM114.58 391.7h9.57v2.05h-9.57zM152.64 391.7h9.57v2.05h-9.57zM124.09 394.7h9.57v2.05h-9.57zM124.09 399.2h9.57v3.05h-9.57zM114.58 409.2h9.57v2.05h-9.57z"/>
<path fill="#def0f6" d="M67 149.2h9.57v3.05h-9.57zM124.09 159.2h9.57v1.55h-9.57zM124.09 172.2h9.57v1.05h-9.57zM133.61 187.7h9.57v2.05h-9.57zM76.52 189.7h9.57v2.05h-9.57zM124.09 194.7h9.57v1.55h-9.57zM67 199.2h9.57v1.55h-9.57zM95.55 200.7h9.57v2.05h-9.57zM124.09 203.7h9.57v1.05h-9.57zM67 213.7h9.57v1.05h-9.57zM124.09 217.7h19.08v1.05h-19.08zM114.58 224.2h9.57v1.55h-9.57zM76.52 235.2h19.08v2.05h-19.08zM133.61 235.2h9.57v2.05h-9.57zM143.12 243.7h9.57v3.05h-9.57zM152.64 257.7h9.57v1.05h-9.57zM67 266.7h9.57v1.05h-9.57zM133.61 279.2h9.57v1.55h-9.57zM143.12 280.7h9.57v2.05h-9.57zM95.55 285.7h9.57v2.05h-9.57zM76.52 294.7h9.57v2.05h-9.57zM67 296.7h9.57v2.05h-9.57zM124.09 304.7h9.57v1.05h-9.57zM86.03 310.2h9.57v3.05h-9.57zM143.12 316.2h9.57v2.05h-9.57zM95.55 330.2h9.57v1.55h-9.57zM114.58 333.7h19.08v1.55h-19.08zM95.55 336.2h9.57v1.05h-9.57zM76.52 339.2h9.57v1.55h-9.57zM86.03 341.7h9.57v1.05h-9.57zM124.09 343.7h9.57v2.05h-9.57zM76.52 347.7h9.57v1.05h-9.57zM67 348.7h9.57v2.05h-9.57zM124.09 354.7h9.57v1.05h-9.57zM143.12 354.7h9.57v1.05h-9.57zM95.55 355.7h9.57v2.05h-9.57zM143.12 355.7h9.57v2.05h-9.57zM86.03 362.7h9.57v1.05h-9.57zM124.09 363.7h9.57v2.05h-9.57zM143.12 363.7h9.57v2.05h-9.57zM86.03 365.7h9.57v1.55h-9.57zM143.12 371.2h9.57v1.05h-9.57zM86.03 372.2h9.57v2.05h-9.57zM86.03 374.2h9.57v1.05h-9.57zM133.61 375.2h9.57v1.55h-9.57zM143.12 386.2h9.57v1.55h-9.57zM95.55 389.7h9.57v1.05h-9.57zM86.03 390.7h9.57v1.05h-9.57zM95.55 399.2h9.57v3.05h-9.57zM95.55 408.2h9.57v1.05h-9.57z"/>
<path fill="#c6e1ed" d="M76.52 153.2h9.57v1.05h-9.57zM105.06 153.2h9.57v1.05h-9.57zM105.06 196.2h9.57v1.05h-9.57zM105.06 212.7h9.57v1.05h-9.57zM133.61 230.2h9.57v1.05h-9.57zM105.06 276.2h9.57v1.05h-9.57zM105.06 296.7h9.57v2.05h-9.57zM67 323.2h9.57v1.55h-9.57zM76.52 333.7h9.57v1.55h-9.57zM124.09 336.2h9.57v1.05h-9.57zM143.12 336.2h9.57v1.05h-9.57zM105.06 347.7h9.57v1.05h-9.57zM76.52 374.2h9.57v1.05h-9.57zM114.58 377.7h9.57v1.05h-9.57zM76.52 378.7h9.57v3.05h-9.57zM76.52 383.2h9.57v1.55h-9.57zM105.06 396.7h9.57v1.05h-9.57zM133.61 402.2h9.57v2.05h-9.57zM114.58 404.2h9.57v1.05h-9.57z"/>
<path fill="#def3f9" d="M95.55 153.2h9.57v1.05h-9.57zM76.52 172.2h9.57v1.05h-9.57zM86.03 180.7h9.57v2.05h-9.57zM124.09 182.7h9.57v2.05h-9.57zM124.09 199.2h9.57v1.55h-9.57zM86.03 202.7h9.57v1.05h-9.57zM86.03 213.7h9.57v1.05h-9.57zM76.52 217.7h9.57v1.05h-9.57zM67 228.7h9.57v1.55h-9.57zM124.09 238.2h9.57v1.05h-9.57zM95.55 249.7h9.57v2.05h-9.57zM114.58 251.7h9.57v1.55h-9.57zM114.58 257.7h9.57v1.05h-9.57zM143.12 277.2h9.57v1.05h-9.57zM67 280.7h9.57v2.05h-9.57zM133.61 280.7h9.57v2.05h-9.57zM124.09 310.2h19.08v3.05h-19.08zM95.55 331.7h9.57v2.05h-9.57zM114.58 336.2h9.57v1.05h-9.57zM143.12 350.7h9.57v1.05h-9.57zM124.09 351.7h9.57v2.05h-9.57zM114.58 362.7h9.57v1.05h-9.57zM76.52 370.2h9.57v1.05h-9.57zM86.03 387.7h9.57v1.05h-9.57z"/>
<path fill="#abcfe4" d="M67 167.2h9.57v1.05h-9.57zM67 313.2h9.57v3.05h-9.57zM67 375.2h9.57v1.55h-9.57zM361.97 417.2h9.57v1.05h-9.57z"/>
<path fill="#bddeed" d="M67 171.2h9.57v1.05h-9.57zM76.52 354.7h9.57v1.05h-9.57zM105.06 402.2h9.57v2.05h-9.57z"/>
<path fill="#fcb16f" d="M323.91 174.7h9.57v2.05h-9.57z"/>
<path fill="#bddbea" d="M67 185.7h9.57v2.05h-9.57zM76.52 251.7h9.57v1.55h-9.57zM76.52 329.2h9.57v1.05h-9.57zM76.52 342.7h9.57v1.05h-9.57zM67 354.7h9.57v1.05h-9.57zM76.52 376.7h9.57v1.05h-9.57zM67 390.7h9.57v1.05h-9.57z"/>
<path fill="#e1f3f3" d="M86.03 196.2h9.57v1.05h-9.57zM114.58 212.7h9.57v1.05h-9.57zM86.03 237.2h9.57v1.05h-9.57zM114.58 237.2h9.57v1.05h-9.57zM86.03 246.7h9.57v2.05h-9.57zM124.09 251.7h9.57v1.55h-9.57zM143.12 326.2h9.57v1.55h-9.57zM86.03 343.7h9.57v2.05h-9.57zM86.03 368.2h9.57v2.05h-9.57z"/>
<path fill="#d8f0f6" d="M133.61 199.2h9.57v1.55h-9.57zM152.64 199.2h9.57v1.55h-9.57zM76.52 206.2h9.57v1.05h-9.57zM124.09 211.2h9.57v1.55h-9.57zM67 217.7h9.57v1.05h-9.57zM124.09 222.7h9.57v1.55h-9.57zM114.58 277.2h9.57v1.05h-9.57zM105.06 279.2h9.57v1.55h-9.57zM95.55 324.7h9.57v1.55h-9.57zM67 327.7h9.57v1.55h-9.57zM67 367.2h19.08v1.05h-19.08zM152.64 386.2h9.57v1.55h-9.57z"/>
<path fill="#c3deed" d="M67 208.2h9.57v2.05h-9.57zM105.06 232.2h9.57v1.55h-9.57zM67 256.2h9.57v1.55h-9.57zM114.58 275.2h9.57v1.05h-9.57zM114.58 331.7h9.57v2.05h-9.57zM114.58 347.7h9.57v1.05h-9.57zM67 365.7h9.57v1.55h-9.57zM76.52 402.2h9.57v2.05h-9.57zM95.55 413.2h9.57v2.05h-9.57z"/>
<path fill="#e4f6f0" d="M114.58 218.7h9.57v1.05h-9.57zM67 254.2h9.57v2.05h-9.57zM143.12 307.2h9.57v3.05h-9.57zM86.03 323.2h9.57v1.55h-9.57zM86.03 335.2h9.57v1.05h-9.57zM76.52 338.2h9.57v1.05h-9.57zM86.03 350.7h9.57v1.05h-9.57zM342.94 409.2h9.57v2.05h-9.57zM76.52 423.2h9.57v1.05h-9.57z"/>
<path fill="#badbea" d="M67 253.2h9.57v1.05h-9.57zM67 276.2h19.08v1.05h-19.08zM67 279.2h9.57v1.55h-9.57zM105.06 289.7h9.57v2.05h-9.57zM105.06 336.2h9.57v1.05h-9.57zM76.52 353.7h9.57v1.05h-9.57zM67 355.7h9.57v2.05h-9.57zM105.06 377.7h9.57v1.05h-9.57zM333.42 415.2h9.57v2.05h-9.57z"/>
<path fill="#e7f6e7" d="M133.61 261.7h9.57v1.05h-9.57z"/>
<path fill="#b7d8ea" d="M76.52 263.7h9.57v2.05h-9.57zM76.52 375.2h9.57v1.55h-9.57zM67 377.7h9.57v1.05h-9.57zM67 381.7h9.57v1.55h-9.57z"/>
<path fill="#d5edf6" d="M152.64 269.2h9.57v3.05h-9.57zM86.03 302.7h19.08v2.05h-19.08zM152.64 330.2h9.57v1.55h-9.57z"/>
<path fill="#a8cce4" d="M67 274.2h9.57v1.05h-9.57zM76.52 278.2h9.57v1.05h-9.57z"/>
<path fill="#aed2e7" d="M76.52 274.2h9.57v1.05h-9.57zM67 358.7h9.57v1.05h-9.57zM352.45 415.2h9.57v2.05h-9.57zM333.42 417.2h9.57v1.05h-9.57z"/>
<path fill="#aed2e4" d="M67 275.2h9.57v1.05h-9.57z"/>
<path fill="#b1d5e7" d="M76.52 277.2h9.57v1.05h-9.57zM76.52 279.2h9.57v1.55h-9.57zM67 378.7h9.57v3.05h-9.57zM67 383.2h9.57v1.55h-9.57zM371.48 417.2h9.57v1.05h-9.57z"/>
<path fill="#90c0db" d="M67 278.2h9.57v1.05h-9.57z"/>
<path fill="#fca86c" d="M323.91 298.7h9.57v2.05h-9.57z"/>
<path fill="#81aed2" d="M67 305.7h9.57v1.55h-9.57z"/>
<path fill="#84b4d5" d="M76.52 305.7h9.57v1.55h-9.57z"/>
<path fill="#84b1d5" d="M67 307.2h9.57v3.05h-9.57z"/>
<path fill="#b1d2e7" d="M67 310.2h9.57v3.05h-9.57z"/>
<path fill="#9fc9e1" d="M76.52 310.2h9.57v3.05h-9.57z"/>
<path fill="#a8cfe4" d="M76.52 313.2h9.57v3.05h-9.57z"/>
<path fill="#b4d5e7" d="M76.52 381.7h9.57v1.55h-9.57zM67 384.7h9.57v1.55h-9.57zM342.94 417.2h9.57v1.05h-9.57z"/>
<path fill="#bad8ea" d="M95.55 411.2h9.57v1.05h-9.57z"/>
<path fill="#b4d8e7" d="M95.55 412.2h9.57v1.05h-9.57z"/>
<path fill="#93c0db" d="M361.97 415.2h9.57v2.05h-9.57z"/>
</g>
<rect x="67" y="56.1" width="93.8" height="12.6" fill="#F8766D"/>
<rect x="162.15" y="56.1" width="122.35" height="12.6" fill="#619CFF"/>
<rect x="285.85" y="56.1" width="46.23" height="12.6" fill="#619CFF"/>
<rect x="333.42" y="56.1" width="46.23" height="12.6" fill="#00BA38"/>
<text transform="translate(68.16,435.6) rotate(90)" font-size="10" fill="#000">C11</text>
<text transform="translate(77.67,435.6) rotate(90)" font-size="10" fill="#000">C12</text>
<text transform="translate(87.19,435.6) rotate(90)" font-size="10" fill="#000">C1</text>
<text transform="translate(96.7,435.6) rotate(90)" font-size="10" fill="#000">C6</text>
<text transform="translate(106.22,435.6) rotate(90)" font-size="10" fill="#000">C8</text>
<text transform="translate(115.73,435.6) rotate(90)" font-size="10" fill="#000">C2</text>
<text transform="translate(125.25,435.6) rotate(90)" font-size="10" fill="#000">C3</text>
<text transform="translate(134.76,435.6) rotate(90)" font-size="10" fill="#000">C9</text>
<text transform="translate(144.28,435.6) rotate(90)" font-size="10" fill="#000">C5</text>
<text transform="translate(153.79,435.6) rotate(90)" font-size="10" fill="#000">C7</text>
<text transform="translate(163.31,435.6) rotate(90)" font-size="10" fill="#000">LMC_13</text>
<text transform="translate(172.82,435.6) rotate(90)" font-size="10" fill="#000">LMC_10</text>
<text transform="translate(182.34,435.6) rotate(90)" font-size="10" fill="#000">LMC_12</text>
<text transform="translate(191.85,435.6) rotate(90)" font-size="10" fill="#000">LMC_11</text>
<text transform="translate(201.37,435.6) rotate(90)" font-size="10" fill="#000">LMC_9</text>
<text transform="translate(210.88,435.6) rotate(90)" font-size="10" fill="#000">LMC_3</text>
<text transform="translate(220.4,435.6) rotate(90)" font-size="10" fill="#000">LMC_6</text>
<text transform="translate(229.92,435.6) rotate(90)" font-size="10" fill="#000">LMC_1</text>
<text transform="translate(239.43,435.6) rotate(90)" font-size="10" fill="#000">LMC_8</text>
<text transform="translate(248.95,435.6) rotate(90)" font-size="10" fill="#000">LMC_5</text>
<text transform="translate(258.46,435.6) rotate(90)" font-size="10" fill="#000">LMC_2</text>
<text transform="translate(267.98,435.6) rotate(90)" font-size="10" fill="#000">LMC_4</text>
<text transform="translate(277.49,435.6) rotate(90)" font-size="10" fill="#000">LMC_7</text>
<text transform="translate(287.01,435.6) rotate(90)" font-size="10" fill="#000">LMC_16</text>
<text transform="translate(296.52,435.6) rotate(90)" font-size="10" fill="#000">LMC_17</text>
<text transform="translate(306.04,435.6) rotate(90)" font-size="10" fill="#000">LMC_15</text>
<text transform="translate(315.55,435.6) rotate(90)" font-size="10" fill="#000">LMC_14</text>
<text transform="translate(325.07,435.6) rotate(90)" font-size="10" fill="#000">LMC_18</text>
<text transform="translate(334.58,435.6) rotate(90)" font-size="10" fill="#000">LMC_7_pre</text>
<text transform="translate(344.1,435.6) rotate(90)" font-size="10" fill="#000">LMC_16_pre</text>
<text transform="translate(353.61,435.6) rotate(90)" font-size="10" fill="#000">LMC_17_pre</text>
<text transform="translate(363.13,435.6) rotate(90)" font-size="10" fill="#000">LMC_4_pre</text>
<text transform="translate(372.64,435.6) rotate(90)" font-size="10" fill="#000">LMC_8_pre</text>
<path d="M96.29 2.8H262.77M96.29 2.8V41.9M262.77 2.8V23.1M76.52 41.9H116.06M76.52 41.9V53.6M116.06 41.9V46.2M71.76 53.6H81.27M71.76 53.6V54.3M81.27 53.6V54.3M95.55 46.2H136.58M95.55 46.2V51.5M136.58 46.2V50.4M90.79 51.5H100.3M90.79 51.5V54.3M100.3 51.5V54.3M120.52 50.4H152.64M120.52 50.4V51.4M152.64 50.4V52.4M109.82 51.4H131.23M109.82 51.4V54.3M131.23 51.4V52M124.09 52H138.36M124.09 52V52.6M138.36 52V54.3M119.33 52.6H128.85M119.33 52.6V54.3M128.85 52.6V54.3M147.88 52.4H157.39M147.88 52.4V54.3M157.39 52.4V54.3M193.3 23.1H332.23M193.3 23.1V42.3M332.23 23.1V33.5M174.05 42.3H212.55M174.05 42.3V46.8M212.55 42.3V45.8M166.91 46.8H181.18M166.91 46.8V54.3M181.18 46.8V50.3M176.42 50.3H185.94M176.42 50.3V54.3M185.94 50.3V54.3M195.45 45.8H229.65M195.45 45.8V54.3M229.65 45.8V49.8M212.11 49.8H247.19M212.11 49.8V51.4M247.19 49.8V51.5M204.97 51.4H219.24M204.97 51.4V54.3M219.24 51.4V52.6M214.48 52.6H224M214.48 52.6V54.3M224 52.6V54.3M233.52 51.5H260.87M233.52 51.5V54.3M260.87 51.5V52.1M247.79 52.1H273.95M247.79 52.1V53M273.95 52.1V52.7M243.03 53H252.55M243.03 53V54.3M252.55 53V54.3M266.82 52.7H281.09M266.82 52.7V53.3M281.09 52.7V54.3M262.06 53.3H271.58M262.06 53.3V54.3M271.58 53.3V54.3M306.07 33.5H358.4M306.07 33.5V44.3M358.4 33.5V42.7M295.36 44.3H316.77M295.36 44.3V53M316.77 44.3V49.2M290.61 53H300.12M290.61 53V54.3M300.12 53V54.3M309.64 49.2H323.91M309.64 49.2V54.3M323.91 49.2V53M319.15 53H328.67M319.15 53V54.3M328.67 53V54.3M345.32 42.7H371.48M345.32 42.7V49.6M371.48 42.7V46.2M338.18 49.6H352.45M338.18 49.6V54.3M352.45 49.6V52.6M347.7 52.6H357.21M347.7 52.6V54.3M357.21 52.6V54.3M366.73 46.2H376.24M366.73 46.2V54.3M376.24 46.2V54.3" stroke="#222" stroke-width="1" fill="none"/>
<path d="M15.2 97.3V295.7M15.2 97.3H20.2M15.2 295.7H17.3M17.3 169.5V422M17.3 169.5H24.2M17.3 422H19.8M19.8 415.6V427.8M19.8 415.6H25.6M19.8 427.8H25.6M25.6 423.63V429.49M25.6 423.63H29.41M25.6 429.49H42.57M42.57 428.2V430.77M42.57 428.2H43.95M42.57 430.77H43.47M43.47 430.19V431.34M43.47 430.19H45.27M43.47 431.34H67M45.27 429.81V430.57M45.27 429.81H67M45.27 430.57H47.06M47.06 430.32V430.83M47.06 430.32H67M47.06 430.83H67M43.95 427.75V428.65M43.95 427.75H67M43.95 428.65H46.05M46.05 428.27V429.04M46.05 428.27H67M46.05 429.04H48.54M48.54 428.78V429.29M48.54 428.78H67M48.54 429.29H67M29.41 422.34V424.93M29.41 422.34H39.16M29.41 424.93H40.99M40.99 424.17V425.69M40.99 424.17H67M40.99 425.69H42.49M42.49 424.68V426.7M42.49 424.68H67M42.49 426.7H44.79M44.79 426.15V427.24M44.79 426.15H46.92M44.79 427.24H67M46.92 425.58V426.73M46.92 425.58H48.95M46.92 426.73H67M48.95 425.19V425.96M48.95 425.19H67M48.95 425.96H50.49M50.49 425.7V426.22M50.49 425.7H67M50.49 426.22H67M39.16 421.6V423.08M39.16 421.6H67M39.16 423.08H43.92M43.92 422.5V423.65M43.92 422.5H45.4M43.92 423.65H67M45.4 422.11V422.88M45.4 422.11H67M45.4 422.88H47.4M47.4 422.63V423.14M47.4 422.63H67M47.4 423.14H67M25.6 413.57V417.96M25.6 413.57H37.9M25.6 417.96H44.36M44.36 416.47V419.44M44.36 416.47H67M44.36 419.44H46.4M46.4 417.8V421.09M46.4 417.8H47.97M46.4 421.09H67M47.97 416.99V418.61M47.97 416.99H67M47.97 418.61H50.28M50.28 417.5V419.71M50.28 417.5H67M50.28 419.71H51.83M51.83 418.85V420.58M51.83 418.85H53.31M51.83 420.58H67M53.31 418.27V419.42M53.31 418.27H54.19M53.31 419.42H54.21M54.21 419.04V419.81M54.21 419.04H67M54.21 419.81H55.8M55.8 419.55V420.06M55.8 419.55H67M55.8 420.06H67M54.19 418.01V418.53M54.19 418.01H67M54.19 418.53H67M37.9 411.73V415.42M37.9 411.73H46.26M37.9 415.42H41.15M41.15 414.87V415.96M41.15 414.87H42.64M41.15 415.96H67M42.64 414.3V415.45M42.64 414.3H45.69M42.64 415.45H67M45.69 413.66V414.94M45.69 413.66H47.58M45.69 414.94H67M47.58 413.14V414.17M47.58 413.14H49.3M47.58 414.17H48.7M48.7 413.91V414.42M48.7 413.91H67M48.7 414.42H67M49.3 412.89V413.4M49.3 412.89H67M49.3 413.4H67M46.26 411.35V412.12M46.26 411.35H67M46.26 412.12H49.06M49.06 411.86V412.37M49.06 411.86H67M49.06 412.37H67M24.2 126.5V212M24.2 126.5H35.6M24.2 212H35.4M35.4 138.37V250M35.4 138.37H40.2M35.4 250H42.9M42.9 214.3V360.98M42.9 214.3H46.2M42.9 360.98H44.3M44.3 360.48V409.07M44.3 360.48H46M44.3 409.07H52.79M52.79 407.57V410.58M52.79 407.57H56.13M52.79 410.58H61.87M61.87 410.32V410.84M61.87 410.32H67M61.87 410.84H67M56.13 405.33V409.81M56.13 405.33H57.99M56.13 409.81H67M57.99 403.66V407.01M57.99 403.66H67M57.99 407.01H60.1M60.1 405.48V408.53M60.1 405.48H62.5M60.1 408.53H61.95M61.95 408.02V409.04M61.95 408.02H63.07M61.95 409.04H63.58M63.58 408.78V409.3M63.58 408.78H67M63.58 409.3H67M63.07 407.76V408.27M63.07 407.76H67M63.07 408.27H67M62.5 404.81V406.16M62.5 404.81H63.9M62.5 406.16H64.18M64.18 405.71V406.61M64.18 405.71H67M64.18 406.61H66M66 406.22V406.99M66 406.22H67M66 406.99H66M66 406.73V407.25M66 406.73H67M66 407.25H67M63.9 404.43V405.2M63.9 404.43H65.81M63.9 405.2H67M65.81 404.17V404.68M65.81 404.17H67M65.81 404.68H67M46 327.79V393.16M46 327.79H47.48M46 393.16H47.57M47.57 385.5V400.82M47.57 385.5H49.33M47.57 400.82H53.64M53.64 398.75V402.89M53.64 398.75H56.96M53.64 402.89H62.36M62.36 402.63V403.14M62.36 402.63H67M62.36 403.14H67M56.96 397.5V400M56.96 397.5H67M56.96 400H58.25M58.25 398.98V401.03M58.25 398.98H61.21M58.25 401.03H59.35M59.35 400.32V401.73M59.35 400.32H63.27M59.35 401.73H62.96M62.96 401.35V402.12M62.96 401.35H65.31M62.96 402.12H67M65.31 401.09V401.61M65.31 401.09H67M65.31 401.61H67M63.27 400.07V400.58M63.27 400.07H67M63.27 400.58H67M61.21 398.4V399.56M61.21 398.4H63.67M61.21 399.56H67M63.67 398.02V398.79M63.67 398.02H67M63.67 398.79H65.68M65.68 398.53V399.04M65.68 398.53H67M65.68 399.04H67M49.33 374.46V396.54M49.33 374.46H51.73M49.33 396.54H60.7M60.7 396.09V396.99M60.7 396.09H62.23M60.7 396.99H67M62.23 395.71V396.48M62.23 395.71H63.29M62.23 396.48H67M63.29 395.45V395.97M63.29 395.45H67M63.29 395.97H67M51.73 368.54V380.39M51.73 368.54H52.7M51.73 380.39H54.19M54.19 373.95V386.82M54.19 373.95H55.57M54.19 386.82H55.11M55.11 382.89V390.75M55.11 382.89H63.13M55.11 390.75H56.8M56.8 386.81V394.68M56.8 386.81H59.21M56.8 394.68H62.77M62.77 394.43V394.94M62.77 394.43H67M62.77 394.94H67M59.21 383.66V389.96M59.21 383.66H67M59.21 389.96H61.31M61.31 387.69V392.23M61.31 387.69H62.67M61.31 392.23H63.61M63.61 390.55V393.92M63.61 390.55H64.97M63.61 393.92H67M64.97 389.69V391.42M64.97 389.69H66M64.97 391.42H66M66 390.84V391.99M66 390.84H67M66 391.99H66M66 391.35V392.63M66 391.35H67M66 392.63H66M66 392.12V393.15M66 392.12H66M66 393.15H66M66 392.89V393.4M66 392.89H67M66 393.4H67M66 391.86V392.38M66 391.86H67M66 392.38H67M66 389.3V390.07M66 389.3H67M66 390.07H66M66 389.81V390.33M66 389.81H67M66 390.33H67M62.67 386.59V388.79M62.67 386.59H64.25M62.67 388.79H67M64.25 385.55V387.63M64.25 385.55H65.37M64.25 387.63H65.12M65.12 387.25V388.02M65.12 387.25H67M65.12 388.02H66M66 387.76V388.28M66 387.76H67M66 388.28H67M65.37 384.62V386.48M65.37 384.62H66M65.37 386.48H66M66 386.22V386.74M66 386.22H67M66 386.74H67M66 384.17V385.07M66 384.17H67M66 385.07H66M66 384.69V385.46M66 384.69H67M66 385.46H66M66 385.2V385.71M66 385.2H67M66 385.71H67M63.13 382.64V383.15M63.13 382.64H67M63.13 383.15H67M55.57 373.02V374.88M55.57 373.02H61.37M55.57 374.88H56.67M56.67 373.92V375.84M56.67 373.92H67M56.67 375.84H58.04M58.04 374.69V376.99M58.04 374.69H62.64M58.04 376.99H59.15M59.15 375.46V378.53M59.15 375.46H67M59.15 378.53H61.1M61.1 376.93V380.13M61.1 376.93H63.2M61.1 380.13H63.29M63.29 379.05V381.21M63.29 379.05H67M63.29 381.21H65.65M65.65 380.3V382.12M65.65 380.3H66M65.65 382.12H67M66 379.56V381.03M66 379.56H67M66 381.03H66M66 380.46V381.61M66 380.46H66M66 381.61H67M66 380.07V380.84M66 380.07H67M66 380.84H66M66 380.58V381.1M66 380.58H67M66 381.1H67M63.2 375.97V377.89M63.2 375.97H67M63.2 377.89H64.63M64.63 377.25V378.53M64.63 377.25H65.66M64.63 378.53H67M65.66 376.74V377.77M65.66 376.74H66M65.66 377.77H66M66 377.51V378.02M66 377.51H67M66 378.02H67M66 376.48V377M66 376.48H67M66 377H67M62.64 374.43V374.95M62.64 374.43H67M62.64 374.95H67M61.37 372.64V373.41M61.37 372.64H62.79M61.37 373.41H67M62.79 372.38V372.89M62.79 372.38H67M62.79 372.89H67M52.7 365.21V371.87M52.7 365.21H54.41M52.7 371.87H67M54.41 364.11V366.31M54.41 364.11H60.13M54.41 366.31H56.93M56.93 365.2V367.42M56.93 365.2H67M56.93 367.42H58.93M58.93 365.72V369.13M58.93 365.72H67M58.93 369.13H60.68M60.68 367.64V370.62M60.68 367.64H61.99M60.68 370.62H63.07M63.07 369.88V371.36M63.07 369.88H64.06M63.07 371.36H67M64.06 369.18V370.59M64.06 369.18H64.91M64.06 370.59H64.86M64.86 370.33V370.84M64.86 370.33H67M64.86 370.84H67M64.91 368.79V369.56M64.91 368.79H67M64.91 369.56H66M66 369.31V369.82M66 369.31H67M66 369.82H67M61.99 367V368.28M61.99 367H64.4M61.99 368.28H67M64.4 366.49V367.51M64.4 366.49H65.24M64.4 367.51H66M66 367.25V367.77M66 367.25H67M66 367.77H67M65.24 366.23V366.74M65.24 366.23H67M65.24 366.74H67M60.13 363.54V364.69M60.13 363.54H62.1M60.13 364.69H67M62.1 363.15V363.92M62.1 363.15H67M62.1 363.92H63.03M63.03 363.67V364.18M63.03 363.67H67M63.03 364.18H67M47.48 309.05V346.53M47.48 309.05H49.95M47.48 346.53H49.1M49.1 339.05V354.01M49.1 339.05H60.63M49.1 354.01H51.31M51.31 345.77V362.26M51.31 345.77H53.2M51.31 362.26H60.83M60.83 361.87V362.64M60.83 361.87H63M60.83 362.64H67M63 361.61V362.13M63 361.61H67M63 362.13H67M53.2 343.96V347.59M53.2 343.96H58.59M53.2 347.59H55.28M55.28 345.59V349.59M55.28 345.59H62.69M55.28 349.59H57.01M57.01 346.75V352.43M57.01 346.75H67M57.01 352.43H58.77M58.77 348.79V356.06M58.77 348.79H60.48M58.77 356.06H60.01M60.01 353.55V358.57M60.01 353.55H60.92M60.01 358.57H62.38M62.38 357.64V359.5M62.38 357.64H64.4M62.38 359.5H63.61M63.61 358.54V360.46M63.61 358.54H67M63.61 360.46H64.87M64.87 359.82V361.1M64.87 359.82H65.95M64.87 361.1H67M65.95 359.31V360.33M65.95 359.31H66M65.95 360.33H66M66 360.08V360.59M66 360.08H67M66 360.59H67M66 359.05V359.56M66 359.05H67M66 359.56H67M64.4 357.26V358.03M64.4 357.26H65.63M64.4 358.03H67M65.63 357V357.51M65.63 357H67M65.63 357.51H67M60.92 352.64V354.45M60.92 352.64H62.45M60.92 354.45H62.24M62.24 353.92V354.98M62.24 353.92H67M62.24 354.98H64.01M64.01 354.44V355.53M64.01 354.44H67M64.01 355.53H66M66 354.95V356.1M66 354.95H67M66 356.1H66M66 355.72V356.49M66 355.72H66M66 356.49H67M66 355.46V355.97M66 355.46H67M66 355.97H67M62.45 352.13V353.15M62.45 352.13H64.8M62.45 353.15H63.65M63.65 352.9V353.41M63.65 352.9H67M63.65 353.41H67M64.8 351.87V352.39M64.8 351.87H67M64.8 352.39H67M60.48 347.51V350.07M60.48 347.51H61.84M60.48 350.07H62.01M62.01 348.78V351.36M62.01 348.78H63.98M62.01 351.36H67M63.98 348.28V349.28M63.98 348.28H67M63.98 349.28H65.07M65.07 348.8V349.76M65.07 348.8H67M65.07 349.76H66M66 349.31V350.21M66 349.31H67M66 350.21H66M66 349.82V350.59M66 349.82H67M66 350.59H66M66 350.33V350.85M66 350.33H67M66 350.85H67M61.84 347.26V347.77M61.84 347.26H67M61.84 347.77H67M62.69 345.21V345.98M62.69 345.21H67M62.69 345.98H63.56M63.56 345.72V346.23M63.56 345.72H67M63.56 346.23H67M58.59 343.22V344.69M58.59 343.22H61.66M58.59 344.69H67M61.66 342.52V343.93M61.66 342.52H62.47M61.66 343.93H63.65M63.65 343.67V344.18M63.65 343.67H67M63.65 344.18H67M62.47 342.13V342.9M62.47 342.13H67M62.47 342.9H64.94M64.94 342.64V343.16M64.94 342.64H67M64.94 343.16H67M60.63 338.54V339.55M60.63 338.54H67M60.63 339.55H63.06M63.06 339.06V340.05M63.06 339.06H67M63.06 340.05H64.9M64.9 339.57V340.53M64.9 339.57H67M64.9 340.53H66M66 340.08V340.98M66 340.08H67M66 340.98H66M66 340.59V341.36M66 340.59H67M66 341.36H66M66 341.11V341.62M66 341.11H67M66 341.62H67M49.95 292.93V325.16M49.95 292.93H51M49.95 325.16H51.8M51.8 318.66V331.65M51.8 318.66H53.46M51.8 331.65H52.74M52.74 328.58V334.72M52.74 328.58H53.97M52.74 334.72H55.16M55.16 333.29V336.16M55.16 333.29H61.85M55.16 336.16H57.01M57.01 334.92V337.39M57.01 334.92H59.61M57.01 337.39H62.85M62.85 337V337.77M62.85 337H67M62.85 337.77H63.82M63.82 337.52V338.03M63.82 337.52H67M63.82 338.03H67M59.61 334.44V335.4M59.61 334.44H67M59.61 335.4H61.35M61.35 334.95V335.85M61.35 334.95H67M61.35 335.85H62.88M62.88 335.47V336.24M62.88 335.47H67M62.88 336.24H63.77M63.77 335.98V336.49M63.77 335.98H67M63.77 336.49H67M61.85 332.9V333.67M61.85 332.9H67M61.85 333.67H63.21M63.21 333.42V333.93M63.21 333.42H67M63.21 333.93H67M53.97 326.33V330.84M53.97 326.33H56.41M53.97 330.84H57.65M57.65 329.83V331.85M57.65 329.83H67M57.65 331.85H59.35M59.35 331.3V332.39M59.35 331.3H60.85M59.35 332.39H67M60.85 330.72V331.88M60.85 330.72H62.86M60.85 331.88H67M62.86 330.34V331.11M62.86 330.34H67M62.86 331.11H64.17M64.17 330.85V331.36M64.17 330.85H67M64.17 331.36H67M56.41 325.72V326.93M56.41 325.72H67M56.41 326.93H58.82M58.82 326.24V327.63M58.82 326.24H67M58.82 327.63H59.73M59.73 326.75V328.51M59.73 326.75H67M59.73 328.51H61.04M61.04 327.71V329.31M61.04 327.71H61.92M61.04 329.31H67M61.92 327.26V328.16M61.92 327.26H67M61.92 328.16H63.14M63.14 327.78V328.54M63.14 327.78H67M63.14 328.54H64.89M64.89 328.29V328.8M64.89 328.29H67M64.89 328.8H67M53.46 312.37V324.96M53.46 312.37H55.03M53.46 324.96H62.14M62.14 324.7V325.21M62.14 324.7H67M62.14 325.21H67M55.03 304.46V320.28M55.03 304.46H56.22M55.03 320.28H55.85M55.85 316.64V323.93M55.85 316.64H57.68M55.85 323.93H63.5M63.5 323.67V324.19M63.5 323.67H67M63.5 324.19H67M57.68 312.19V321.09M57.68 312.19H59.57M57.68 321.09H59.96M59.96 319.28V322.9M59.96 319.28H62.35M59.96 322.9H63.35M63.35 322.65V323.16M63.35 322.65H67M63.35 323.16H67M62.35 316.68V321.88M62.35 316.68H63.26M62.35 321.88H63.52M63.52 321.62V322.14M63.52 321.62H67M63.52 322.14H67M63.26 314.96V318.39M63.26 314.96H67M63.26 318.39H64.56M64.56 316.42V320.37M64.56 316.42H66M64.56 320.37H66M66 319.64V321.11M66 319.64H66M66 321.11H67M66 319.06V320.21M66 319.06H67M66 320.21H66M66 319.83V320.6M66 319.83H66M66 320.6H67M66 319.57V320.08M66 319.57H67M66 320.08H67M66 315.47V317.36M66 315.47H67M66 317.36H66M66 316.43V318.29M66 316.43H66M66 318.29H66M66 318.03V318.55M66 318.03H67M66 318.55H67M66 315.98V316.88M66 315.98H67M66 316.88H66M66 316.5V317.26M66 316.5H67M66 317.26H66M66 317.01V317.52M66 317.01H67M66 317.52H67M59.57 311.5V312.87M59.57 311.5H62.66M59.57 312.87H61.62M61.62 312.39V313.36M61.62 312.39H67M61.62 313.36H63.49M63.49 312.91V313.8M63.49 312.91H67M63.49 313.8H65.15M65.15 313.42V314.19M65.15 313.42H67M65.15 314.19H66M66 313.93V314.44M66 313.93H67M66 314.44H67M62.66 311.11V311.88M62.66 311.11H63.8M62.66 311.88H67M63.8 310.86V311.37M63.8 310.86H67M63.8 311.37H67M56.22 301.69V307.23M56.22 301.69H57.07M56.22 307.23H57.79M57.79 305.22V309.25M57.79 305.22H67M57.79 309.25H59.68M59.68 308.16V310.34M59.68 308.16H60.9M59.68 310.34H67M60.9 306.88V309.45M60.9 306.88H62.63M60.9 309.45H62.44M62.44 309.06V309.83M62.44 309.06H63.58M62.44 309.83H67M63.58 308.8V309.32M63.58 308.8H67M63.58 309.32H67M62.63 306.11V307.65M62.63 306.11H64.05M62.63 307.65H64.09M64.09 307.27V308.04M64.09 307.27H67M64.09 308.04H65.01M65.01 307.78V308.29M65.01 307.78H67M65.01 308.29H67M64.05 305.73V306.5M64.05 305.73H67M64.05 306.5H66M66 306.24V306.75M66 306.24H67M66 306.75H67M57.07 300.22V303.17M57.07 300.22H59.51M57.07 303.17H60.66M60.66 302.4V303.93M60.66 302.4H63.29M60.66 303.93H63.05M63.05 303.42V304.45M63.05 303.42H65.54M63.05 304.45H65.06M65.06 304.19V304.7M65.06 304.19H67M65.06 304.7H67M65.54 303.17V303.68M65.54 303.17H67M65.54 303.68H67M63.29 302.14V302.65M63.29 302.14H67M63.29 302.65H67M59.51 299.58V300.86M59.51 299.58H67M59.51 300.86H60.79M60.79 300.35V301.37M60.79 300.35H63.11M60.79 301.37H62.27M62.27 301.11V301.63M62.27 301.11H67M62.27 301.63H67M63.11 300.09V300.6M63.11 300.09H67M63.11 300.6H67M51 290.73V295.14M51 290.73H61.39M51 295.14H54.87M54.87 292.91V297.36M54.87 292.91H60.03M54.87 297.36H57.92M57.92 295.66V299.06M57.92 295.66H59.26M57.92 299.06H67M59.26 294.96V296.36M59.26 294.96H67M59.26 296.36H60.61M60.61 295.73V296.98M60.61 295.73H61.58M60.61 296.98H61.78M61.78 296.5V297.46M61.78 296.5H67M61.78 297.46H63.73M63.73 297.01V297.91M63.73 297.01H67M63.73 297.91H65.14M65.14 297.53V298.29M65.14 297.53H67M65.14 298.29H66M66 298.04V298.55M66 298.04H67M66 298.55H67M61.58 295.47V295.99M61.58 295.47H67M61.58 295.99H67M60.03 292.14V293.68M60.03 292.14H63.61M60.03 293.68H61.19M61.19 293.17V294.19M61.19 293.17H62.28M61.19 294.19H63.58M63.58 293.94V294.45M63.58 293.94H67M63.58 294.45H67M62.28 292.91V293.42M62.28 292.91H67M62.28 293.42H67M63.61 291.89V292.4M63.61 291.89H67M63.61 292.4H67M61.39 290.35V291.12M61.39 290.35H67M61.39 291.12H62.33M62.33 290.86V291.37M62.33 290.86H67M62.33 291.37H67M46.2 166.15V246.26M46.2 166.15H48.5M46.2 246.26H47.3M47.3 226.19V266.33M47.3 226.19H48.14M47.3 266.33H48.17M48.17 256.65V276.01M48.17 256.65H58.67M48.17 276.01H50.53M50.53 264.15V287.88M50.53 264.15H52.81M50.53 287.88H58.17M58.17 286.89V288.87M58.17 286.89H62.87M58.17 288.87H59.73M59.73 288.17V289.58M59.73 288.17H62.53M59.73 289.58H62.11M62.11 289.32V289.83M62.11 289.32H67M62.11 289.83H67M62.53 287.78V288.55M62.53 287.78H67M62.53 288.55H63.65M63.65 288.3V288.81M63.65 288.3H67M63.65 288.81H67M62.87 286.5V287.27M62.87 286.5H65.26M62.87 287.27H67M65.26 286.25V286.76M65.26 286.25H67M65.26 286.76H67M52.81 260.15V268.14M52.81 260.15H58.74M52.81 268.14H53.7M53.7 263.65V272.62M53.7 263.65H60.52M53.7 272.62H55.56M55.56 266.31V278.93M55.56 266.31H59.59M55.56 278.93H56.61M56.61 272.38V285.48M56.61 272.38H57.41M56.61 285.48H61.85M61.85 285.22V285.73M61.85 285.22H67M61.85 285.73H67M57.41 268.17V276.58M57.41 268.17H61.63M57.41 276.58H58.78M58.78 270.42V282.75M58.78 270.42H60.76M58.78 282.75H60M60 280.79V284.71M60 280.79H60.91M60 284.71H67M60.91 277.39V284.19M60.91 277.39H62.48M60.91 284.19H67M62.48 274.04V280.73M62.48 274.04H64.75M62.48 280.73H63.77M63.77 278.86V282.59M63.77 278.86H65.13M63.77 282.59H65.38M65.38 282.14V283.04M65.38 282.14H67M65.38 283.04H66M66 282.66V283.43M66 282.66H67M66 283.43H66M66 283.17V283.68M66 283.17H67M66 283.68H67M65.13 277.53V280.19M65.13 277.53H67M65.13 280.19H66M66 279.13V281.25M66 279.13H66M66 281.25H66M66 280.86V281.63M66 280.86H66M66 281.63H67M66 280.61V281.12M66 280.61H67M66 281.12H67M66 278.43V279.84M66 278.43H66M66 279.84H66M66 279.58V280.09M66 279.58H67M66 280.09H67M66 278.04V278.81M66 278.04H67M66 278.81H66M66 278.55V279.07M66 278.55H67M66 279.07H67M64.75 272.27V275.81M64.75 272.27H66M64.75 275.81H66M66 275V276.63M66 275H66M66 276.63H66M66 276.25V277.02M66 276.25H66M66 277.02H67M66 275.99V276.5M66 275.99H67M66 276.5H67M66 274.52V275.48M66 274.52H66M66 275.48H67M66 274.07V274.97M66 274.07H66M66 274.97H67M66 273.68V274.45M66 273.68H66M66 274.45H67M66 273.43V273.94M66 273.43H67M66 273.94H67M66 271.89V272.66M66 271.89H67M66 272.66H66M66 272.4V272.91M66 272.4H67M66 272.91H67M60.76 269.71V271.12M60.76 269.71H61.83M60.76 271.12H62.12M62.12 270.86V271.38M62.12 270.86H67M62.12 271.38H67M61.83 269.33V270.1M61.83 269.33H67M61.83 270.1H63.26M63.26 269.84V270.35M63.26 269.84H67M63.26 270.35H67M61.63 267.79V268.56M61.63 267.79H67M61.63 268.56H63.38M63.38 268.3V268.81M63.38 268.3H67M63.38 268.81H67M59.59 265.74V266.89M59.59 265.74H67M59.59 266.89H60.45M60.45 266.51V267.28M60.45 266.51H63.12M60.45 267.28H67M63.12 266.25V266.76M63.12 266.25H67M63.12 266.76H67M60.52 263.17V264.13M60.52 263.17H67M60.52 264.13H62.28M62.28 263.69V264.58M62.28 263.69H67M62.28 264.58H64.13M64.13 264.2V264.97M64.13 264.2H67M64.13 264.97H66M66 264.71V265.22M66 264.71H67M66 265.22H67M58.74 259.58V260.72M58.74 259.58H67M58.74 260.72H59.82M59.82 260.1V261.35M59.82 260.1H67M59.82 261.35H61.43M61.43 260.61V262.08M61.43 260.61H67M61.43 262.08H62.81M62.81 261.51V262.66M62.81 261.51H64.55M62.81 262.66H67M64.55 261.12V261.89M64.55 261.12H67M64.55 261.89H65.97M65.97 261.64V262.15M65.97 261.64H67M65.97 262.15H67M58.67 255.48V257.82M58.67 255.48H67M58.67 257.82H59.91M59.91 256.96V258.69M59.91 256.96H61.86M59.91 258.69H62.91M62.91 258.3V259.07M62.91 258.3H65.37M62.91 259.07H67M65.37 258.05V258.56M65.37 258.05H67M65.37 258.56H67M61.86 256.38V257.53M61.86 256.38H63.32M61.86 257.53H67M63.32 256V256.76M63.32 256H67M63.32 256.76H64.7M64.7 256.51V257.02M64.7 256.51H67M64.7 257.02H67M48.14 199.48V252.89M48.14 199.48H50.05M48.14 252.89H52.17M52.17 250.82V254.97M52.17 250.82H54.01M52.17 254.97H67M54.01 247.82V253.82M54.01 247.82H57.47M54.01 253.82H62.11M62.11 253.43V254.2M62.11 253.43H67M62.11 254.2H63.7M63.7 253.94V254.46M63.7 253.94H67M63.7 254.46H67M57.47 246.25V249.38M57.47 246.25H67M57.47 249.38H59.45M59.45 247.82V250.93M59.45 247.82H61.04M59.45 250.93H61.11M61.11 250.36V251.51M61.11 250.36H67M61.11 251.51H63.13M63.13 250.87V252.15M63.13 250.87H67M63.13 252.15H64.54M64.54 251.64V252.66M64.54 251.64H65.37M64.54 252.66H65.48M65.48 252.41V252.92M65.48 252.41H67M65.48 252.92H67M65.37 251.38V251.89M65.37 251.38H67M65.37 251.89H67M61.04 246.77V248.88M61.04 246.77H67M61.04 248.88H62.21M62.21 247.92V249.84M62.21 247.92H63.35M62.21 249.84H67M63.35 247.28V248.56M63.35 247.28H67M63.35 248.56H65.84M65.84 248.05V249.07M65.84 248.05H66M65.84 249.07H66M66 248.82V249.33M66 248.82H67M66 249.33H67M66 247.79V248.3M66 247.79H67M66 248.3H67M50.05 190.6V208.36M50.05 190.6H52.18M50.05 208.36H51.36M51.36 197.91V218.81M51.36 197.91H53.19M51.36 218.81H53.56M53.56 206.04V231.58M53.56 206.04H60.6M53.56 231.58H54.6M54.6 219.53V243.64M54.6 219.53H56.62M54.6 243.64H55.8M55.8 242.19V245.1M55.8 242.19H57M55.8 245.1H60.2M60.2 244.72V245.48M60.2 244.72H67M60.2 245.48H63.3M63.3 245.23V245.74M63.3 245.23H67M63.3 245.74H67M57 240.17V244.2M57 240.17H57.86M57 244.2H67M57.86 236.91V243.43M57.86 236.91H58.97M57.86 243.43H63.65M63.65 243.18V243.69M63.65 243.18H67M63.65 243.69H67M58.97 236V237.82M58.97 236H67M58.97 237.82H60.52M60.52 236.77V238.87M60.52 236.77H61.76M60.52 238.87H62.67M62.67 237.54V240.2M62.67 237.54H67M62.67 240.2H64M64 238.69V241.7M64 238.69H65.8M64 241.7H65.63M65.63 241V242.41M65.63 241H66M65.63 242.41H66M66 242.15V242.66M66 242.15H67M66 242.66H67M66 240.61V241.38M66 240.61H67M66 241.38H66M66 241.13V241.64M66 241.13H67M66 241.64H67M65.8 238.05V239.33M65.8 238.05H67M65.8 239.33H66M66 238.82V239.84M66 238.82H66M66 239.84H66M66 239.59V240.1M66 239.59H67M66 240.1H67M66 238.56V239.08M66 238.56H67M66 239.08H67M61.76 236.51V237.02M61.76 236.51H67M61.76 237.02H67M56.62 209.49V229.56M56.62 209.49H58.48M56.62 229.56H58.96M58.96 223.64V235.49M58.96 223.64H61M58.96 235.49H67M61 218.95V228.33M61 218.95H61.92M61 228.33H62.93M62.93 222.95V233.71M62.93 222.95H64.11M62.93 233.71H64.94M64.94 232.71V234.72M64.94 232.71H65.88M64.94 234.72H66M66 234.46V234.97M66 234.46H67M66 234.97H67M65.88 231.47V233.95M65.88 231.47H66M65.88 233.95H67M66 229.77V233.18M66 229.77H66M66 233.18H66M66 232.92V233.44M66 232.92H67M66 233.44H67M66 227.92V231.61M66 227.92H66M66 231.61H66M66 230.81V232.41M66 230.81H66M66 232.41H67M66 230.1V231.51M66 230.1H66M66 231.51H66M66 231.13V231.9M66 231.13H66M66 231.9H67M66 230.87V231.39M66 230.87H67M66 231.39H67M66 229.85V230.36M66 229.85H67M66 230.36H67M66 227.16V228.69M66 227.16H66M66 228.69H66M66 228.31V229.08M66 228.31H67M66 229.08H66M66 228.82V229.33M66 228.82H67M66 229.33H67M66 226.77V227.54M66 226.77H67M66 227.54H66M66 227.28V227.8M66 227.28H67M66 227.8H67M64.11 220.68V225.22M64.11 220.68H65.08M64.11 225.22H65.76M65.76 224.43V226M65.76 224.43H66M65.76 226H66M66 225.75V226.26M66 225.75H67M66 226.26H67M66 223.63V225.23M66 223.63H66M66 225.23H67M66 223.18V224.08M66 223.18H67M66 224.08H66M66 223.69V224.46M66 223.69H67M66 224.46H66M66 224.21V224.72M66 224.21H67M66 224.72H67M65.08 220.11V221.26M65.08 220.11H67M65.08 221.26H66M66 220.62V221.9M66 220.62H67M66 221.9H66M66 221.39V222.41M66 221.39H66M66 222.41H66M66 222.16V222.67M66 222.16H67M66 222.67H67M66 221.13V221.64M66 221.13H67M66 221.64H67M61.92 218.31V219.59M61.92 218.31H62.81M61.92 219.59H67M62.81 217.8V218.82M62.81 217.8H64.13M62.81 218.82H63.72M63.72 218.57V219.08M63.72 218.57H67M63.72 219.08H67M64.13 217.54V218.05M64.13 217.54H67M64.13 218.05H67M58.48 207.8V211.17M58.48 207.8H67M58.48 211.17H60.47M60.47 208.7V213.65M60.47 208.7H61.72M60.47 213.65H61.72M61.72 211.04V216.26M61.72 211.04H63.54M61.72 216.26H64.21M64.21 215.75V216.77M64.21 215.75H65.75M64.21 216.77H65.9M65.9 216.52V217.03M65.9 216.52H67M65.9 217.03H67M65.75 215.49V216M65.75 215.49H67M65.75 216H67M63.54 209.85V212.22M63.54 209.85H67M63.54 212.22H64.75M64.75 210.36V214.08M64.75 210.36H67M64.75 214.08H65.68M65.68 213.19V214.98M65.68 213.19H66M65.68 214.98H67M66 211.91V214.47M66 211.91H66M66 214.47H67M66 210.88V212.94M66 210.88H67M66 212.94H66M66 211.93V213.95M66 211.93H66M66 213.95H67M66 211.39V212.48M66 211.39H67M66 212.48H66M66 211.9V213.06M66 211.9H67M66 213.06H66M66 212.67V213.44M66 212.67H66M66 213.44H67M66 212.41V212.93M66 212.41H67M66 212.93H67M61.72 208.31V209.08M61.72 208.31H67M61.72 209.08H63.44M63.44 208.83V209.34M63.44 208.83H67M63.44 209.34H67M60.6 204.79V207.29M60.6 204.79H62.52M60.6 207.29H67M62.52 204.21V205.36M62.52 204.21H67M62.52 205.36H63.91M63.91 204.72V206.01M63.91 204.72H67M63.91 206.01H65.57M65.57 205.49V206.52M65.57 205.49H66M65.57 206.52H66M66 206.26V206.77M66 206.26H67M66 206.77H67M66 205.24V205.75M66 205.24H67M66 205.75H67M53.19 197.03V198.79M53.19 197.03H67M53.19 198.79H55.4M55.4 197.93V199.65M55.4 197.93H61.96M55.4 199.65H57.56M57.56 199.08V200.21M57.56 199.08H67M57.56 200.21H59.28M59.28 199.6V200.82M59.28 199.6H67M59.28 200.82H60.51M60.51 200.11V201.54M60.51 200.11H67M60.51 201.54H62.27M62.27 200.88V202.19M62.27 200.88H63.23M62.27 202.19H64.22M64.22 201.65V202.74M64.22 201.65H67M64.22 202.74H66M66 202.16V203.31M66 202.16H67M66 203.31H66M66 202.93V203.7M66 202.93H66M66 203.7H67M66 202.67V203.19M66 202.67H67M66 203.19H67M63.23 200.62V201.13M63.23 200.62H67M63.23 201.13H67M61.96 197.55V198.31M61.96 197.55H67M61.96 198.31H63.54M63.54 198.06V198.57M63.54 198.06H67M63.54 198.57H67M52.18 184.67V196.52M52.18 184.67H53.13M52.18 196.52H67M53.13 180.42V188.92M53.13 180.42H54.56M53.13 188.92H55.19M55.19 185.51V192.34M55.19 185.51H58.38M55.19 192.34H56.07M56.07 189.54V195.14M56.07 189.54H57.74M56.07 195.14H59.19M59.19 194.28V196.01M59.19 194.28H60.51M59.19 196.01H67M60.51 193.7V194.85M60.51 193.7H61.74M60.51 194.85H61.66M61.66 194.47V195.24M61.66 194.47H67M61.66 195.24H62.99M62.99 194.98V195.5M62.99 194.98H67M62.99 195.5H67M61.74 193.44V193.96M61.74 193.44H67M61.74 193.96H67M57.74 188.83V190.26M57.74 188.83H67M57.74 190.26H59.65M59.65 189.34V191.17M59.65 189.34H67M59.65 191.17H61.81M61.81 190.5V191.84M61.81 190.5H62.88M61.81 191.84H63.52M63.52 191.39V192.29M63.52 191.39H67M63.52 192.29H65.76M65.76 191.91V192.68M65.76 191.91H67M65.76 192.68H66M66 192.42V192.93M66 192.42H67M66 192.93H67M62.88 190.11V190.88M62.88 190.11H64.76M62.88 190.88H67M64.76 189.86V190.37M64.76 189.86H67M64.76 190.37H67M58.38 183.7V187.31M58.38 183.7H67M58.38 187.31H59.28M59.28 186.31V188.32M59.28 186.31H60.38M59.28 188.32H67M60.38 184.81V187.8M60.38 184.81H61.25M60.38 187.8H67M61.25 184.22V185.4M61.25 184.22H67M61.25 185.4H63.27M63.27 184.73V186.07M63.27 184.73H67M63.27 186.07H64.36M64.36 185.5V186.65M64.36 185.5H66M64.36 186.65H66M66 186.27V187.04M66 186.27H67M66 187.04H66M66 186.78V187.29M66 186.78H67M66 187.29H67M66 185.24V185.75M66 185.24H67M66 185.75H67M54.56 178.83V182M54.56 178.83H61.62M54.56 182H58.24M58.24 181.2V182.81M58.24 181.2H59.31M58.24 182.81H61.21M61.21 182.42V183.19M61.21 182.42H62.87M61.21 183.19H67M62.87 182.16V182.68M62.87 182.16H67M62.87 182.68H67M59.31 180.75V181.65M59.31 180.75H60.61M59.31 181.65H67M60.61 180.37V181.14M60.61 180.37H61.81M60.61 181.14H67M61.81 180.11V180.63M61.81 180.11H67M61.81 180.63H67M61.62 178.32V179.34M61.62 178.32H63.09M61.62 179.34H63.56M63.56 179.09V179.6M63.56 179.09H67M63.56 179.6H67M63.09 178.06V178.58M63.09 178.06H67M63.09 178.58H67M48.5 156.59V175.7M48.5 156.59H49.99M48.5 175.7H52.78M52.78 174.23V177.17M52.78 174.23H55.09M52.78 177.17H61.41M61.41 176.78V177.55M61.41 176.78H63.13M61.41 177.55H67M63.13 176.52V177.04M63.13 176.52H67M63.13 177.04H67M55.09 172.71V175.76M55.09 172.71H56.26M55.09 175.76H62.61M62.61 175.5V176.01M62.61 175.5H67M62.61 176.01H67M56.26 170.43V174.99M56.26 170.43H58.17M56.26 174.99H67M58.17 169.03V171.83M58.17 169.03H58.97M58.17 171.83H59.47M59.47 170.63V173.03M59.47 170.63H62.98M59.47 173.03H60.79M60.79 171.97V174.09M60.79 171.97H61.83M60.79 174.09H61.7M61.7 173.7V174.47M61.7 173.7H62.92M61.7 174.47H67M62.92 173.45V173.96M62.92 173.45H67M62.92 173.96H67M61.83 171.4V172.55M61.83 171.4H67M61.83 172.55H63.84M63.84 172.17V172.94M63.84 172.17H65.38M63.84 172.94H67M65.38 171.91V172.42M65.38 171.91H67M65.38 172.42H67M62.98 170.37V170.88M62.98 170.37H67M62.98 170.88H67M58.97 168.45V169.6M58.97 168.45H61.31M58.97 169.6H62.11M62.11 169.35V169.86M62.11 169.35H67M62.11 169.86H67M61.31 168.06V168.83M61.31 168.06H63.32M61.31 168.83H67M63.32 167.81V168.32M63.32 167.81H67M63.32 168.32H67M49.99 151.75V161.43M49.99 151.75H57.09M49.99 161.43H52.48M52.48 156.27V166.6M52.48 156.27H55.47M52.48 166.6H54.85M54.85 165.9V167.3M54.85 165.9H56.71M54.85 167.3H67M56.71 165.02V166.78M56.71 165.02H58.52M56.71 166.78H67M58.52 164.16V165.89M58.52 164.16H61.21M58.52 165.89H62.42M62.42 165.5V166.27M62.42 165.5H63.85M62.42 166.27H67M63.85 165.24V165.76M63.85 165.24H67M63.85 165.76H67M61.21 163.58V164.73M61.21 163.58H62.07M61.21 164.73H67M62.07 163.19V163.96M62.07 163.19H67M62.07 163.96H63.05M63.05 163.71V164.22M63.05 163.71H67M63.05 164.22H67M55.47 155.25V157.28M55.47 155.25H61.2M55.47 157.28H56.56M56.56 156.02V158.55M56.56 156.02H67M56.56 158.55H58.07M58.07 156.53V160.57M58.07 156.53H67M58.07 160.57H59.99M59.99 158.46V162.68M59.99 158.46H60.81M59.99 162.68H67M60.81 157.04V159.89M60.81 157.04H67M60.81 159.89H62.27M62.27 158.05V161.72M62.27 158.05H64.75M62.27 161.72H63.97M63.97 161.27V162.17M63.97 161.27H65.22M63.97 162.17H67M65.22 160.89V161.66M65.22 160.89H66M65.22 161.66H67M66 160.63V161.14M66 160.63H67M66 161.14H67M64.75 157.55V158.55M64.75 157.55H67M64.75 158.55H66M66 158.07V159.03M66 158.07H67M66 159.03H66M66 158.58V159.48M66 158.58H67M66 159.48H66M66 159.09V159.86M66 159.09H67M66 159.86H66M66 159.61V160.12M66 159.61H67M66 160.12H67M61.2 154.99V155.5M61.2 154.99H67M61.2 155.5H67M57.09 150.38V153.13M57.09 150.38H67M57.09 153.13H58.95M58.95 151.79V154.48M58.95 151.79H60.87M58.95 154.48H67M60.87 150.89V152.68M60.87 150.89H67M60.87 152.68H62.76M62.76 151.79V153.58M62.76 151.79H63.6M62.76 153.58H64.2M64.2 153.2V153.97M64.2 153.2H65.86M64.2 153.97H67M65.86 152.94V153.45M65.86 152.94H67M65.86 153.45H67M63.6 151.4V152.17M63.6 151.4H67M63.6 152.17H65.08M65.08 151.91V152.43M65.08 151.91H67M65.08 152.43H67M40.2 134.03V138.87M40.2 134.03H43.2M40.2 138.87H41.21M41.21 136.28V141.46M41.21 136.28H58.52M41.21 141.46H42.71M42.71 137.05V145.88M42.71 137.05H67M42.71 145.88H44.6M44.6 142.47V149.29M44.6 142.47H45.79M44.6 149.29H55.4M55.4 148.71V149.86M55.4 148.71H56.63M55.4 149.86H67M56.63 148.33V149.09M56.63 148.33H67M56.63 149.09H58.82M58.82 148.84V149.35M58.82 148.84H67M58.82 149.35H67M45.79 138.87V146.07M45.79 138.87H47.13M45.79 146.07H47.38M47.38 144.86V147.27M47.38 144.86H56.75M47.38 147.27H50.68M50.68 146.72V147.81M50.68 146.72H55.39M50.68 147.81H67M55.39 146.15V147.3M55.39 146.15H59.23M55.39 147.3H67M59.23 145.76V146.53M59.23 145.76H67M59.23 146.53H61.49M61.49 146.27V146.79M61.49 146.27H67M61.49 146.79H67M56.75 144.48V145.25M56.75 144.48H60.79M56.75 145.25H67M60.79 144.22V144.74M60.79 144.22H67M60.79 144.74H67M47.13 137.81V139.92M47.13 137.81H56.47M47.13 139.92H49.79M49.79 138.58V141.26M49.79 138.58H67M49.79 141.26H51.07M51.07 140.19V142.33M51.07 140.19H52.92M51.07 142.33H52.72M52.72 141.4V143.26M52.72 141.4H60.54M52.72 143.26H57.76M57.76 142.81V143.71M57.76 142.81H58.87M57.76 143.71H67M58.87 142.43V143.2M58.87 142.43H59.83M58.87 143.2H67M59.83 142.17V142.69M59.83 142.17H67M59.83 142.69H67M60.54 141.15V141.66M60.54 141.15H67M60.54 141.66H67M52.92 139.74V140.63M52.92 139.74H59.22M52.92 140.63H67M59.22 139.35V140.12M59.22 139.35H60.21M59.22 140.12H67M60.21 139.1V139.61M60.21 139.1H67M60.21 139.61H67M56.47 137.56V138.07M56.47 137.56H67M56.47 138.07H67M58.52 136.02V136.53M58.52 136.02H67M58.52 136.53H67M43.2 132.56V135.51M43.2 132.56H48.52M43.2 135.51H67M48.52 131.41V133.7M48.52 131.41H67M48.52 133.7H50.04M50.04 132.42V134.99M50.04 132.42H53.58M50.04 134.99H67M53.58 131.92V132.91M53.58 131.92H67M53.58 132.91H55.92M55.92 132.43V133.39M55.92 132.43H67M55.92 133.39H58.29M58.29 132.94V133.84M58.29 132.94H67M58.29 133.84H59.47M59.47 133.46V134.23M59.47 133.46H67M59.47 134.23H61.33M61.33 133.97V134.48M61.33 133.97H67M61.33 134.48H67M35.6 124.62V130.25M35.6 124.62H37.31M35.6 130.25H50.38M50.38 129.61V130.89M50.38 129.61H51.53M50.38 130.89H67M51.53 129.1V130.12M51.53 129.1H57.14M51.53 130.12H58.8M58.8 129.87V130.38M58.8 129.87H67M58.8 130.38H67M57.14 128.84V129.35M57.14 128.84H67M57.14 129.35H67M37.31 123.01V126.23M37.31 123.01H47.41M37.31 126.23H50.92M50.92 125V127.46M50.92 125H58.11M50.92 127.46H52.56M52.56 126.6V128.33M52.56 126.6H54.53M52.56 128.33H67M54.53 126.02V127.18M54.53 126.02H55.47M54.53 127.18H55.82M55.82 126.79V127.56M55.82 126.79H67M55.82 127.56H57.15M57.15 127.3V127.82M57.15 127.3H67M57.15 127.82H67M55.47 125.77V126.28M55.47 125.77H67M55.47 126.28H67M58.11 124.74V125.25M58.11 124.74H67M58.11 125.25H67M47.41 122.43V123.59M47.41 122.43H59.4M47.41 123.59H54.51M54.51 123.2V123.97M54.51 123.2H67M54.51 123.97H59.68M59.68 123.72V124.23M59.68 123.72H67M59.68 124.23H67M59.4 122.18V122.69M59.4 122.18H67M59.4 122.69H67M20.2 78.7V116.4M20.2 78.7H27.6M20.2 116.4H25.3M25.3 109.23V118.7M25.3 109.23H36M25.3 118.7H36.5M36.5 117.37V120.03M36.5 117.37H49.91M36.5 120.03H48.01M48.01 119.36V120.7M48.01 119.36H56.91M48.01 120.7H50.52M50.52 120.13V121.28M50.52 120.13H67M50.52 121.28H53.86M53.86 120.9V121.66M53.86 120.9H56.54M53.86 121.66H67M56.54 120.64V121.15M56.54 120.64H67M56.54 121.15H67M56.91 119.1V119.61M56.91 119.1H67M56.91 119.61H67M49.91 116.79V117.95M49.91 116.79H55.77M49.91 117.95H57.48M57.48 117.56V118.33M57.48 117.56H67M57.48 118.33H59.16M59.16 118.08V118.59M59.16 118.08H67M59.16 118.59H67M55.77 116.54V117.05M55.77 116.54H67M55.77 117.05H67M36 106.54V111.91M36 106.54H58.96M36 111.91H37.55M37.55 109.29V114.54M37.55 109.29H45.91M37.55 114.54H42.76M42.76 113.06V116.02M42.76 113.06H49.1M42.76 116.02H67M49.1 111.7V114.42M49.1 111.7H52.5M49.1 114.42H51.27M51.27 113.72V115.13M51.27 113.72H58.8M51.27 115.13H56.89M56.89 114.74V115.51M56.89 114.74H58.91M56.89 115.51H67M58.91 114.49V115M58.91 114.49H67M58.91 115H67M58.8 113.46V113.97M58.8 113.46H67M58.8 113.97H67M52.5 110.9V112.5M52.5 110.9H67M52.5 112.5H55.48M55.48 112.05V112.95M55.48 112.05H56.51M55.48 112.95H67M56.51 111.67V112.44M56.51 111.67H57.54M56.51 112.44H67M57.54 111.41V111.92M57.54 111.41H67M57.54 111.92H67M45.91 108.19V110.38M45.91 108.19H48.21M45.91 110.38H67M48.21 107.31V109.07M48.21 107.31H67M48.21 109.07H53.97M53.97 108.27V109.87M53.97 108.27H56.39M53.97 109.87H67M56.39 107.82V108.72M56.39 107.82H67M56.39 108.72H57.55M57.55 108.33V109.1M57.55 108.33H67M57.55 109.1H59.78M59.78 108.85V109.36M59.78 108.85H67M59.78 109.36H67M58.96 106.28V106.8M58.96 106.28H67M58.96 106.8H67M27.6 73.91V82.8M27.6 73.91H39M27.6 82.8H31M31 78.67V85.61M31 78.67H48.09M31 85.61H38M38 81.93V89.29M38 81.93H50.24M38 89.29H40.5M40.5 85.73V92.84M40.5 85.73H49.76M40.5 92.84H48M48 88.91V96.78M48 88.91H51.51M48 96.78H50M50 92.81V100.76M50 92.81H50.97M50 100.76H53M53 97.12V104.4M53 97.12H54.06M53 104.4H55.5M55.5 103.02V105.77M55.5 103.02H56.69M55.5 105.77H67M56.69 101.05V105M56.69 101.05H59.05M56.69 105H57.69M57.69 104.74V105.26M57.69 104.74H67M57.69 105.26H67M59.05 99.1V102.99M59.05 99.1H67M59.05 102.99H59.95M59.95 101.75V104.23M59.95 101.75H61.37M59.95 104.23H67M61.37 100.42V103.08M61.37 100.42H63.34M61.37 103.08H63.51M63.51 102.69V103.46M63.51 102.69H67M63.51 103.46H65.85M65.85 103.21V103.72M65.85 103.21H67M65.85 103.72H67M63.34 99.62V101.22M63.34 99.62H67M63.34 101.22H65.69M65.69 100.51V101.92M65.69 100.51H66M65.69 101.92H66M66 101.67V102.18M66 101.67H67M66 102.18H67M66 100.13V100.9M66 100.13H67M66 100.9H66M66 100.64V101.16M66 100.64H67M66 101.16H67M54.06 96.28V97.95M54.06 96.28H55.18M54.06 97.95H57.37M57.37 97.57V98.34M57.37 97.57H67M57.37 98.34H58.61M58.61 98.08V98.59M58.61 98.08H67M58.61 98.59H67M55.18 95.77V96.8M55.18 95.77H58.82M55.18 96.8H57.01M57.01 96.54V97.05M57.01 96.54H67M57.01 97.05H67M58.82 95.52V96.03M58.82 95.52H67M58.82 96.03H67M50.97 92.18V93.43M50.97 92.18H58.5M50.97 93.43H52.33M52.33 92.95V93.91M52.33 92.95H67M52.33 93.91H53.55M53.55 93.46V94.36M53.55 93.46H67M53.55 94.36H55.13M55.13 93.98V94.75M55.13 93.98H67M55.13 94.75H56.88M56.88 94.49V95M56.88 94.49H67M56.88 95H67M58.5 91.93V92.44M58.5 91.93H67M58.5 92.44H67M51.51 88.34V89.48M51.51 88.34H67M51.51 89.48H52.61M52.61 88.85V90.1M52.61 88.85H67M52.61 90.1H53.63M53.63 89.36V90.84M53.63 89.36H67M53.63 90.84H54.79M54.79 90.26V91.41M54.79 90.26H56.09M54.79 91.41H67M56.09 89.88V90.65M56.09 89.88H67M56.09 90.65H57.81M57.81 90.39V90.9M57.81 90.39H67M57.81 90.9H67M49.76 84.75V86.7M49.76 84.75H67M49.76 86.7H51.22M51.22 85.84V87.57M51.22 85.84H56.49M51.22 87.57H54.89M54.89 87.31V87.83M54.89 87.31H67M54.89 87.83H67M56.49 85.26V86.42M56.49 85.26H67M56.49 86.42H57.97M57.97 86.03V86.8M57.97 86.03H58.92M57.97 86.8H67M58.92 85.77V86.29M58.92 85.77H67M58.92 86.29H67M50.24 81.16V82.7M50.24 81.16H67M50.24 82.7H51.92M51.92 81.93V83.47M51.92 81.93H56.43M51.92 83.47H54.41M54.41 82.95V83.98M54.41 82.95H55.52M54.41 83.98H58.21M58.21 83.72V84.24M58.21 83.72H67M58.21 84.24H67M55.52 82.7V83.21M55.52 82.7H67M55.52 83.21H67M56.43 81.67V82.19M56.43 81.67H67M56.43 82.19H67M48.09 77.57V79.77M48.09 77.57H67M48.09 79.77H49.11M49.11 78.88V80.65M49.11 78.88H51.26M49.11 80.65H67M51.26 78.08V79.69M51.26 78.08H67M51.26 79.69H53.24M53.24 79.24V80.13M53.24 79.24H55.08M53.24 80.13H67M55.08 78.85V79.62M55.08 78.85H59.52M55.08 79.62H67M59.52 78.6V79.11M59.52 78.6H67M59.52 79.11H67M39 72.96V74.87M39 72.96H67M39 74.87H42.11M42.11 73.73V76.02M42.11 73.73H55.06M42.11 76.02H44.15M44.15 74.98V77.06M44.15 74.98H49.16M44.15 77.06H67M49.16 74.49V75.46M49.16 74.49H67M49.16 75.46H50.01M50.01 75.01V75.9M50.01 75.01H67M50.01 75.9H55.07M55.07 75.52V76.29M55.07 75.52H67M55.07 76.29H57.43M57.43 76.03V76.55M57.43 76.03H67M57.43 76.55H67M55.06 73.47V73.98M55.06 73.47H67M55.06 73.98H67" stroke="#000" stroke-width="1" fill="none"/>
<rect x="64.6" y="73" width="2.4" height="358.3" fill="#000"/>
<defs><linearGradient id="cb" x1="0" y1="0" x2="0" y2="1"><stop offset="0" stop-color="#d73027"/><stop offset="0.17" stop-color="#fc8d59"/><stop offset="0.33" stop-color="#fee090"/><stop offset="0.5" stop-color="#ffffbf"/><stop offset="0.67" stop-color="#e0f3f8"/><stop offset="0.83" stop-color="#91bfdb"/><stop offset="1" stop-color="#4575b4"/></linearGradient></defs>
<rect x="386.3" y="73" width="9.9" height="148.5" fill="url(#cb)"/>
<text x="400.2" y="93.34" font-size="14" fill="#000">3</text>
<text x="400.2" y="113.44" font-size="14" fill="#000">2</text>
<text x="400.2" y="133.54" font-size="14" fill="#000">1</text>
<text x="400.2" y="153.64" font-size="14" fill="#000">0</text>
<text x="400.2" y="173.74" font-size="14" fill="#000">-1</text>
<text x="400.2" y="193.84" font-size="14" fill="#000">-2</text>
<text x="400.2" y="213.94" font-size="14" fill="#000">-3</text>
<defs><clipPath id="lgc"><rect x="420" y="60" width="92.5" height="120"/></clipPath></defs>
<text x="428.6" y="84.7" font-size="14.8" font-weight="bold" fill="#000">condition</text>
<rect x="428.8" y="89.6" width="21" height="21.2" fill="#F8766D"/>
<text x="454.4" y="105.1" font-size="14.6" fill="#000" clip-path="url(#lgc)">HC</text>
<rect x="428.8" y="110.7" width="21" height="21.2" fill="#00BA38"/>
<text x="454.4" y="126.5" font-size="14.6" fill="#000" clip-path="url(#lgc)">LMC</text>
<rect x="428.8" y="131.8" width="21" height="21.2" fill="#619CFF"/>
<text x="454.4" y="147.9" font-size="14.6" fill="#000" clip-path="url(#lgc)" letter-spacing="0.28">remission</text>
<rect x="27.2" y="524" width="401.8" height="291.5" fill="#EBEBEB"/>
<line x1="100.4" y1="524" x2="100.4" y2="815.5" stroke="#fff" stroke-width="0.75"/>
<line x1="237" y1="524" x2="237" y2="815.5" stroke="#fff" stroke-width="0.75"/>
<line x1="373.6" y1="524" x2="373.6" y2="815.5" stroke="#fff" stroke-width="0.75"/>
<line x1="27.2" y1="770.6" x2="429" y2="770.6" stroke="#fff" stroke-width="0.75"/>
<line x1="27.2" y1="716.2" x2="429" y2="716.2" stroke="#fff" stroke-width="0.75"/>
<line x1="27.2" y1="661.8" x2="429" y2="661.8" stroke="#fff" stroke-width="0.75"/>
<line x1="27.2" y1="607.4" x2="429" y2="607.4" stroke="#fff" stroke-width="0.75"/>
<line x1="27.2" y1="553" x2="429" y2="553" stroke="#fff" stroke-width="0.75"/>
<line x1="32.1" y1="524" x2="32.1" y2="815.5" stroke="#fff" stroke-width="1.3"/>
<line x1="168.7" y1="524" x2="168.7" y2="815.5" stroke="#fff" stroke-width="1.3"/>
<line x1="305.3" y1="524" x2="305.3" y2="815.5" stroke="#fff" stroke-width="1.3"/>
<line x1="27.2" y1="797.8" x2="429" y2="797.8" stroke="#fff" stroke-width="1.3"/>
<line x1="27.2" y1="743.4" x2="429" y2="743.4" stroke="#fff" stroke-width="1.3"/>
<line x1="27.2" y1="689" x2="429" y2="689" stroke="#fff" stroke-width="1.3"/>
<line x1="27.2" y1="634.6" x2="429" y2="634.6" stroke="#fff" stroke-width="1.3"/>
<line x1="27.2" y1="580.2" x2="429" y2="580.2" stroke="#fff" stroke-width="1.3"/>
<line x1="27.2" y1="525.8" x2="429" y2="525.8" stroke="#fff" stroke-width="1.3"/>
<path d="M85.4 537.99L89.04 544.2L81.76 544.2Z" fill="#14B0B5"/>
<path d="M106.6 533.39L110.24 539.6L102.96 539.6Z" fill="#14B0B5"/>
<path d="M107.3 539.89L110.94 546.1L103.66 546.1Z" fill="#14B0B5"/>
<path d="M83.1 545.39L86.74 551.6L79.46 551.6Z" fill="#14B0B5"/>
<path d="M99.7 547.99L103.34 554.2L96.06 554.2Z" fill="#14B0B5"/>
<path d="M102.7 549.09L106.34 555.3L99.06 555.3Z" fill="#14B0B5"/>
<path d="M100.4 551.39L104.04 557.6L96.76 557.6Z" fill="#14B0B5"/>
<path d="M84.9 553.69L88.54 559.9L81.26 559.9Z" fill="#14B0B5"/>
<path d="M87.7 556.49L91.34 562.7L84.06 562.7Z" fill="#14B0B5"/>
<path d="M102 558.29L105.64 564.5L98.36 564.5Z" fill="#14B0B5"/>
<path d="M117.7 564.09L121.34 570.3L114.06 570.3Z" fill="#14B0B5"/>
<path d="M107.3 577.99L110.94 584.2L103.66 584.2Z" fill="#14B0B5"/>
<path d="M67.5 626.79L71.14 633L63.86 633Z" fill="#14B0B5"/>
<path d="M80.1 631.29L83.74 637.5L76.46 637.5Z" fill="#14B0B5"/>
<path d="M77.6 636.29L81.24 642.5L73.96 642.5Z" fill="#14B0B5"/>
<path d="M66 673.29L69.64 679.5L62.36 679.5Z" fill="#14B0B5"/>
<path d="M70.3 696.79L73.94 703L66.66 703Z" fill="#14B0B5"/>
<path d="M166 623.29L169.64 629.5L162.36 629.5Z" fill="#14B0B5"/>
<rect x="42.15" y="756.35" width="5.7" height="5.7" fill="#14B0B5"/>
<rect x="53.35" y="752.15" width="5.7" height="5.7" fill="#14B0B5"/>
<rect x="53.35" y="785.05" width="5.7" height="5.7" fill="#14B0B5"/>
<rect x="72.15" y="788.65" width="5.7" height="5.7" fill="#14B0B5"/>
<rect x="67.15" y="799.45" width="5.7" height="5.7" fill="#14B0B5"/>
<circle cx="313.7" cy="649" r="2.9" fill="#F06E66"/>
<circle cx="327.6" cy="681.5" r="2.9" fill="#F06E66"/>
<circle cx="346.1" cy="631.4" r="2.9" fill="#F06E66"/>
<circle cx="360.8" cy="629" r="2.9" fill="#F06E66"/>
<circle cx="364.8" cy="635.8" r="2.9" fill="#F06E66"/>
<circle cx="365.6" cy="624.2" r="2.9" fill="#F06E66"/>
<circle cx="369.1" cy="623.1" r="2.9" fill="#F06E66"/>
<circle cx="375.9" cy="617.8" r="2.9" fill="#F06E66"/>
<circle cx="411" cy="689.7" r="2.9" fill="#F06E66"/>
<ellipse cx="102.3" cy="622.1" rx="64.8" ry="94.7" fill="none" stroke="#ABABAB" stroke-width="1.25" stroke-dasharray="4.5 3.7" stroke-linecap="round"/>
<ellipse cx="67.4" cy="771.5" rx="30.5" ry="42.3" fill="none" stroke="#ABABAB" stroke-width="1.25" stroke-dasharray="4.5 3.7" stroke-linecap="round"/>
<ellipse cx="359.6" cy="661" rx="74.1" ry="68.1" fill="none" stroke="#ABABAB" stroke-width="1.25" stroke-dasharray="4.5 3.7" stroke-linecap="round"/>
<line x1="168.7" y1="524" x2="168.7" y2="815.5" stroke="#4d4d4d" stroke-width="1.1" stroke-dasharray="1.4 2.7"/>
<line x1="24.6" y1="525.8" x2="27.2" y2="525.8" stroke="#333" stroke-width="0.9"/>
<text x="23" y="528.25" font-size="6.8" fill="#4D4D4D" text-anchor="end">20</text>
<line x1="24.6" y1="580.2" x2="27.2" y2="580.2" stroke="#333" stroke-width="0.9"/>
<text x="23" y="582.65" font-size="6.8" fill="#4D4D4D" text-anchor="end">10</text>
<line x1="24.6" y1="634.6" x2="27.2" y2="634.6" stroke="#333" stroke-width="0.9"/>
<text x="23" y="637.05" font-size="6.8" fill="#4D4D4D" text-anchor="end">0</text>
<line x1="24.6" y1="689" x2="27.2" y2="689" stroke="#333" stroke-width="0.9"/>
<text x="23" y="691.45" font-size="6.8" fill="#4D4D4D" text-anchor="end">−10</text>
<line x1="24.6" y1="743.4" x2="27.2" y2="743.4" stroke="#333" stroke-width="0.9"/>
<text x="23" y="745.85" font-size="6.8" fill="#4D4D4D" text-anchor="end">−20</text>
<line x1="24.6" y1="797.8" x2="27.2" y2="797.8" stroke="#333" stroke-width="0.9"/>
<text x="23" y="800.25" font-size="6.8" fill="#4D4D4D" text-anchor="end">−30</text>
<line x1="32.1" y1="815.5" x2="32.1" y2="818.1" stroke="#333" stroke-width="0.9"/>
<text x="32.1" y="825.05" font-size="6.8" fill="#4D4D4D" text-anchor="middle">−25</text>
<line x1="168.7" y1="815.5" x2="168.7" y2="818.1" stroke="#333" stroke-width="0.9"/>
<text x="168.7" y="825.05" font-size="6.8" fill="#4D4D4D" text-anchor="middle">0</text>
<line x1="305.3" y1="815.5" x2="305.3" y2="818.1" stroke="#333" stroke-width="0.9"/>
<text x="305.3" y="825.05" font-size="6.8" fill="#4D4D4D" text-anchor="middle">25</text>
<text x="228.1" y="834.8" font-size="8.5" fill="#000" text-anchor="middle">PC1: 43% variance</text>
<text transform="translate(6.9,670) rotate(-90)" font-size="8.5" fill="#000" text-anchor="middle">PC2: 16% variance</text>
<text x="442.5" y="623.1" font-size="8.5" fill="#000">HERV_rld$stage</text>
<rect x="441.8" y="627.8" width="13.8" height="39.8" fill="#F2F2F2"/>
<circle cx="448.9" cy="634.5" r="2.6" fill="#000"/>
<path d="M448.9 644.39L452.54 650.6L445.26 650.6Z" fill="#000"/>
<rect x="446.3" y="658.6" width="5.2" height="5.2" fill="#000"/>
<text x="460" y="637" font-size="7" fill="#1a1a1a">HC</text>
<text x="460" y="650.3" font-size="7" fill="#1a1a1a">LMC</text>
<text x="460" y="663.8" font-size="7" fill="#1a1a1a">remission</text>
<text x="442.5" y="692.4" font-size="8.5" fill="#000">HERV_rld$condition</text>
<rect x="441.8" y="697.9" width="13.8" height="26.6" fill="#F2F2F2"/>
<circle cx="448.7" cy="704.6" r="2.8" fill="#F06E66"/>
<circle cx="448.7" cy="717.9" r="2.8" fill="#14B0B5"/>
<text x="460" y="706.9" font-size="7" fill="#1a1a1a">HC</text>
<text x="460" y="720.2" font-size="7" fill="#1a1a1a">LMC</text>
</svg>
</body></html>
